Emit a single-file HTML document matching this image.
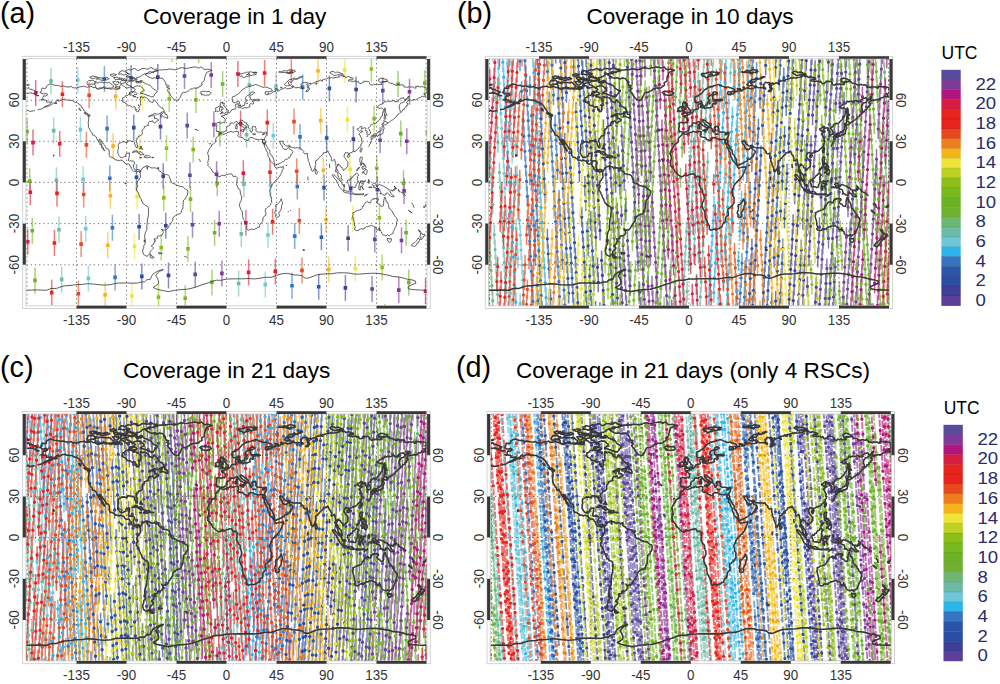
<!DOCTYPE html><html><head><meta charset="utf-8"><style>html,body{margin:0;padding:0;background:#fff;width:1000px;height:684px;overflow:hidden;position:relative}</style></head><body><svg width="1000" height="684" viewBox="0 0 1000 684" style="position:absolute;left:0;top:0"><rect width="1000" height="684" fill="#fff"/><defs><path id="coast" d="M39.8,92.4 40.9,91.8 41.5,90.6 41.6,89.2 42.1,87.9 43.4,88.3 44.7,88.6 46.2,88 46.5,86.1 47.8,85.1 49.2,84.3 50.8,83.8 52.3,84.6 53.6,84.8 54.9,85.4 56.3,85.4 57.6,85.3 58.7,85.7 59.8,86.1 60.9,86.5 62.1,86 64,86 65.9,86.9 67.9,86.9 69.8,86.9 71.4,86.4 72.6,87.8 74,87.8 75.4,87.9 77.1,87.8 78.7,87.1 79.9,87 80.9,86.6 82.1,86.6 83.2,86.4 84.4,86 85.4,87 86.5,87.1 87.6,87.2 88.7,86.8 89.8,86.9 90.9,86.1 92.1,86.8 93.1,87.4 94.2,87.6 95.5,86.9 96.5,88 97.5,88.8 98.6,89.4 99.7,88.8 100.9,88.7 102.5,88.1 103.7,86.6 104.6,88.7 106.5,88.6 107.6,88.7 108.8,88.4 109.8,88.9 110.9,89.1 112.3,88.9 113.7,88.8 115.1,89 116.5,89.4 118.2,89.1 119.8,88.4 119.5,87.3 119.8,86.1 120.4,85.2 120.9,84.3 121.8,84.8 122.5,85.6 123.4,85.8 124.3,86.4 125,87.2 125.8,87.8 126.7,87.6 127.6,88 129.3,87.4 130.9,86.6 131.7,87.3 132.6,87.7 134,88.5 135.4,89.4 134.5,90.4 133.7,91.5 132.3,91.5 130.9,91.6 129.6,92.2 129.3,93.9 128.6,94.8 127.9,95.5 126.9,95.2 125.9,95.3 125.3,96.3 124.6,97.2 123.6,97.6 122.6,98 122.4,99.6 121.5,100.8 122.7,100.9 123.2,102.2 124.2,102.1 125,102.9 126,103 126.5,104.2 127.3,105.1 128.3,105.7 129.3,105.5 130.4,105.9 131.4,106.8 132.5,107.5 133.5,106.6 134.8,106.7 135.3,108.1 135.2,109.7 136.2,110.6 137.1,111.8 138.7,111.6 138.7,110.3 139.6,109.7 139.2,108.7 138.9,107.6 139.7,106 140.9,104.9 140.5,103.6 140.4,102.2 140.6,100.6 139.8,99.4 140.5,98.2 140.4,96.7 141.5,96.5 142.3,97.6 143.3,97.5 144.3,96.9 145.1,97.5 145.9,97.8 146.8,98 147.6,98.5 148.6,99.8 149.3,101.5 150.4,101.7 151.5,102.2 152.6,102.7 153.2,101.5 153.7,100.6 154.3,99.7 154.9,100.5 155.4,101.5 156.8,102.3 157.6,103.9 158.4,105.1 159.3,106.3 160.1,106.7 160.9,107.3 161.7,107.9 162.6,107.6 163.1,109.3 164.3,110.4 163.2,111.8 162.3,112 161.3,112.1 160.9,113.2 159.8,113.4 158.5,114.3 157.1,114.1 155.6,113.9 154.3,113.4 153.2,114.2 152.1,114.8 151.2,115.1 150.3,115.6 149.2,115.6 148.7,116.8 150,116.7 150.9,115.7 151.9,115.6 152.7,116 153.4,115.3 154.3,114.9 155.2,115.9 154.3,116.8 154.8,118.9 155.8,118.3 156.9,118.7 157.8,119.4 158.7,119.9 157.8,120.9 156.5,121.2 155.8,122 155.2,122.8 154.3,123 153.4,122.5 152.6,120.7 151.8,121.1 150.9,121.5 149.5,121.4 148.5,122.6 148.3,123.7 148.1,124.8 148.7,125.4 147.6,125.3 146.5,125.9 145.4,126.4 144.3,126.7 144.3,128.2 143.4,128.8 142.6,129.6 142.1,131.7 142.4,133.7 141.5,135 140.7,135.5 139.8,135.9 138.7,136 138.2,137.2 137.7,138.3 136.7,138.5 136.7,139.7 136.1,140.6 136.5,142 137.1,143.3 137.1,144.8 137.6,146.1 137.2,147.9 136.3,147.6 135.6,145.9 135.1,145 134.6,144 134.5,142.2 133.2,141.3 131.5,141.5 130.4,140.7 129.3,141 128.2,140.7 126.9,141 127.4,142.4 125.9,142.5 124.3,141.8 123.2,142 122.1,141.8 121.3,142.5 120.4,142.9 119.1,143.1 118.5,144.4 118.1,145.6 118.3,146.8 118.5,148.2 117.9,149.5 118,150.7 117.8,152 117.8,153.3 118.5,154.3 118.9,155.4 119.6,156.1 120.3,157.2 121.5,157.5 122.7,157.6 123.7,156.9 125.4,156.4 125.5,155.2 126.1,154.3 126.5,153.2 128.1,153.2 129.6,152.9 129.3,155 129.4,156.2 128.9,157.3 128.7,158.9 128.4,160.5 129.3,161.1 130.4,160.8 131.8,161.1 133.2,160.8 134.1,161.9 134.6,163.5 133.7,164.9 133.4,166.1 133.5,167.4 134.1,168.9 135.2,169.8 136.5,170.2 137.2,169.5 138.2,169.4 139.8,170.1 140.6,171.2 139.9,172.6 139.3,171.1 137.8,171.3 137.2,172.4 135.9,171.5 134.8,171.3 133.7,171.1 132.5,170 131.3,168.9 131.2,167.1 130,166.3 129.5,164.7 128.7,163.9 127.6,164.1 126.2,163.9 124.9,163.4 124.1,161.7 122.6,160.8 121.2,160.2 120.1,160.1 119.3,160.9 118.2,160.3 117.1,160.2 116.1,160 115.2,160 114.7,158.8 113.7,158.4 112.7,157.5 111.5,157.3 110.2,157 109.5,155.7 109.1,154.4 109.3,152.9 109.2,150.9 108.7,149.6 107.8,148.8 106.5,148.9 105.9,147.5 104.9,145.7 104.3,144.8 103.6,144.2 103,143.1 101.9,142.6 101.4,141.2 100.8,139.8 99.9,139.7 99.1,139.1 99.2,141 100.4,141.6 100.9,143.2 101.6,144.1 101.8,145.4 102.4,146.6 103.2,147.6 103.9,149.4 104.8,150.6 104.3,151 103.7,149.9 102.9,149.1 101.8,147.9 101.6,145.9 100.9,144.7 99.7,144.3 99.7,143.2 99.1,142.4 98.4,141.5 97.3,139.9 96.7,138.5 96.2,136.9 94.9,135.8 93.7,135.2 92.5,135 92.1,133 91.5,132.2 90.7,131.5 90.4,130.3 89.6,129.2 88.9,127.8 88.4,126.9 88.5,124.8 88.2,123.2 88.4,121.1 88.8,119 88.6,117.3 87.9,116 89.6,116.3 90.1,115.2 89.3,114.3 88.2,114.1 87.1,113.1 86.1,112.8 85.1,112.7 84.8,111.4 83.7,110 83.1,108.8 82.1,108.1 81.5,106.6 80.9,105.4 79.8,104.9 79.2,103.9 78.2,103.5 77.4,102.8 76.5,102.6 74.8,102 73.2,101.3 72.2,100.4 70.9,100.4 69.8,100.4 68.7,100 67.6,100.1 66.5,100.1 65.5,99.1 64.3,99.1 63.2,99.5 62.1,99.6 61,100.3 59.8,100.9 58.2,101.2 58.2,99.3 57.6,100.5 56.5,100.9 55.4,102.2 54.5,102.6 53.7,103.1 52.6,103.9 51.5,104.8 50.3,105.1 49.3,105.9 48.2,106.2 47.1,106.4 46,107 44.8,107.2 43.4,107.6 44.6,106.8 45.9,106.1 47.4,105.7 48.7,105 49.7,104.1 50.9,103.5 52.1,101.9 50.9,102 49.8,102 48.2,102.2 46.5,102 46.7,100.6 45.8,100.1 44.8,100.1 43.9,99.8 42.9,99.3 42.8,97.6 43.7,95.8 45.4,96.1 47.1,95.3 47.6,94.1 46.2,93.5 44.8,93.8 43.3,93.9 41.8,93.8 41.2,92.8 39.8,92.4ZM139.3,81.4 140.6,80.5 142.2,80.6 143.2,81.9 144.3,83.2 145.5,83.4 146.5,84.2 147.7,84.1 148.7,85 150.3,85.3 151.5,86.6 152,87.6 152.6,88.4 154,89.2 155.4,90.1 156.5,90.8 157.6,91.2 156.7,92.1 155.9,93.2 154.9,94 154.3,95.3 153.2,96.8 151.8,96.8 150.4,96.9 149.3,95.6 147.8,96 147,95 145.9,94.7 144.8,94.4 143.7,93.8 142,93.3 140.4,93.9 140.4,92.4 141.5,92.2 142.2,91.2 143.3,91.1 144.3,90.8 143.7,89.1 142.5,88.2 141.5,87.1 140.2,86 138.7,86 137,85.8 135.4,86.4 134,87 132.8,88.3 131.8,86.9 130.4,86.1 129.1,85.3 127.6,85 127,84 126.5,82.9 127.6,82.2 128.7,81.4 130.4,80.8 132.1,81.3 133.2,81.1 134.3,80.6 135.4,81 136.5,81.2 137.8,81.9 139.3,81.4ZM94.8,87.3 95.9,88.4 97.2,88.9 98.5,88.2 99.8,88 100.9,87.7 102.1,88 103.2,87.7 104.3,88.2 105.5,87.3 106.8,88.2 108,88.3 109.3,88 110.4,88.2 111.6,88 112.5,87.1 113.7,87.1 113.4,85.7 112.5,85 111.5,84.5 110.3,83 108.7,82.3 107.7,82.9 106.5,82.7 105.4,82.6 104.3,82.5 103.1,82.7 102.1,82.1 100.9,82.4 99.8,82 98.3,82.9 96.5,82.8 95.2,83.2 94.1,84.2 95,84.8 95.9,85.6 95.5,86.5 94.8,87.3ZM86.7,83.8 88.1,85.2 89.8,84.7 91.4,83.9 93.2,84.3 94,83.5 94.8,82.8 95.6,82.2 96.3,81.4 94.8,82 93.7,80.6 92.5,80.3 91.2,80.7 90,80.5 88.7,80.5 87.6,81.7 87.3,82.8 86.7,83.8ZM125.9,77 127.2,76.9 128.5,76.6 129.6,77.5 130.9,77.6 132.3,78.3 133.7,78.3 135.2,78.5 136.5,77.7 138.2,77.3 139.8,76.8 141,76.1 142.1,75 143.4,74.3 144.8,73.7 145.9,73.9 146.9,73.5 147.8,72.9 148.7,72.2 150.1,71.6 151.5,72.1 153,72.1 154.3,71.3 155.9,70.5 157.6,69.9 156.6,69.1 155.4,69.3 154.2,69.3 153.2,68.8 150.9,67.3 148.7,68.8 146.5,69.1 144.3,68.4 141.9,68.6 139.9,70 137.4,70.6 135.4,68.8 133.6,68.5 132.1,69.5 130.4,69.9 128.7,69.8 127.8,69.7 127,70.3 126,70.2 125.4,71.3 126.5,72.9 128.2,73.3 129.8,74 128.7,74.8 127.2,75.6 125.9,77ZM118.7,74.3 120.1,74 121.5,74.1 122.9,74.8 124.3,75 125.2,74.2 126.3,74.6 127,73.6 128.2,73.6 126.9,73.1 125.9,72 124.6,71.3 123.2,70.9 122.1,70.7 121.1,70.8 120.4,71.9 119.3,72 119.1,73.2 118.7,74.3ZM123.7,80.1 124.9,80.7 126.2,80.4 127.5,80.2 128.7,80.2 129.8,80.5 130.9,80.9 132,80.3 133.2,80.3 134.1,79.9 135.1,79.5 136,79.9 137.1,80.1 136.7,78.6 135.7,78.8 134.9,78.1 134,77.8 133.2,77.3 131.6,77.4 130.4,76.1 129,76.9 127.6,77.5 126.8,78.5 126.3,79.8 125.3,79.1 124.3,78.4 123.7,80.1ZM119.8,82.9 120.9,83.4 122.1,83.6 123.7,83 125.4,82.8 125.9,81.2 124.6,80.7 123.2,80.7 121.6,80.5 120.4,81.6 119.8,82.9ZM113.7,83.2 114.4,84.1 115.1,85 116.1,84.9 117.1,84.6 118,84.1 118.7,83.4 118.2,81.3 116.7,82.1 115.4,80.9 114.1,81.7 112.6,81.8 113.7,83.2ZM96.5,79.1 97.7,79.2 98.9,78.9 99.9,79.4 100.9,80.2 102.3,80.3 103.7,80.2 105.1,79.6 106.5,79.8 107.8,79 109.3,78.8 108.4,78.4 107.6,77.7 106.4,77.4 105.4,78.1 104.3,77.9 103.2,78.3 102,78.1 100.9,78.2 99.9,77.6 98.7,77.6 97.7,78.5 96.5,79.1ZM114.3,78.7 115.1,79.4 116.1,79.7 117.1,79.3 118.2,79.5 119.1,78.8 119.8,77.9 118.3,78.1 117.1,77 115.4,77.5 113.7,77.5 114.3,78.7ZM129.6,95 131.2,94.9 132.6,95.6 133.8,95.6 134.4,94.4 135.5,94.5 136.5,94.6 137.1,93.6 136.3,92.7 135.3,92 134.3,92 133.2,92 131.9,93 130.4,92.8 130,93.9 129.6,95ZM160.6,117.1 161.6,116.8 162.4,116.1 163.4,116.6 164.3,117.1 166,117.7 167.6,118.4 167.8,116.8 167.2,115.9 167.1,114.8 165.9,114.4 164.8,114.1 165,112.9 164.8,111.8 163.7,112.3 162.6,113 162,114.1 161,114.6 161,115.9 160.6,117.1ZM145.4,75 146.6,75.6 147.6,76.5 149,77 150.4,77.7 151.6,78.2 152.9,78.3 154.1,77.7 155.4,77.9 156.7,78.7 158.1,78.8 159.5,77.8 160.9,78.3 162.6,78.4 163.7,79.9 164.6,81 165.4,82.3 165.8,83.6 165.9,85 167.3,85.2 168.7,85.6 167.8,86.8 166.5,87.1 167.8,87.9 169.3,88.4 168.2,89.5 167.1,90.5 168,91.4 168.7,92.6 169.9,93.3 170.4,94.9 170.9,95.8 171.5,96.7 172.4,97.6 173.2,98.7 174.5,99.6 175.9,100 177.2,100.3 178.5,100.1 179.3,98.5 180.3,97.3 180.9,95.7 181.5,94.3 182.1,93 183.4,92.3 184.8,92.4 186.3,92.1 187.6,91.2 188.6,90.9 189.4,90.3 190.1,89.5 190.9,88.8 192.3,89 193.4,88.1 194.7,88.1 195.9,88.4 197,87.9 198.1,87.9 199.2,87.3 199.8,86.1 201.1,85.9 202.1,85 201.5,82.9 202.3,82.4 203.1,81.9 203.9,81.2 204.3,80.2 204.5,78.8 204.8,77.5 205.4,75.4 205.9,74 206.5,72.6 207.8,71.9 209.3,71.5 210.6,70.6 212.1,70.5 210.1,69.8 208.2,69.1 206.3,69.4 204.3,69.6 202.9,68.5 201.8,67 200.2,67.2 198.7,68.1 196.6,67.2 194.3,66.9 192.1,67.4 189.8,67.7 187.4,68.4 184.8,68.4 182.4,67.6 179.8,68 177.2,69.3 174.4,69.8 171.6,69.1 168.7,69.1 166.5,69.8 164.3,69.5 162.1,70 159.8,69.9 158.6,70.5 157.4,71 156.1,71.5 154.8,71 154,72.4 152.6,72.2 151.5,72.2 150.7,73.1 149.8,73.8 148.7,73.3 147.8,73.2 147,73.9 145.9,73.8 145.4,75ZM199.8,92.6 200.6,91.9 201.5,91.5 202.9,91.1 204.3,91.7 205.4,91.3 206.5,91.6 207.9,91.6 209.3,91.3 210.4,92.4 211.4,93.2 210.1,94.2 209,95.2 207.6,95 206.5,95.2 205.4,95.4 204.3,94.9 203.2,94.9 202.2,94.8 201.3,94.7 202.1,93.9 200.9,93.3 199.8,92.6ZM132.2,152.4 133.2,151.7 134.3,151 135.7,150.7 137.1,150.7 138.2,152.3 139.8,151.8 141.5,152 142.6,153.6 144.1,154.7 142.4,154.6 140.7,155.1 140.1,154 138.7,153.5 137.6,152.5 136.6,151.9 135.4,151.8 133.8,152.2 132.2,152.4ZM143.8,157.2 144.8,156.2 145.6,155.1 147.1,156.1 148.7,155.4 149.7,156.1 150.5,156.9 149.6,157.4 148.7,157.5 147.8,157.6 147.1,158.3 146.1,157.1 144.8,157.5 143.8,157.2ZM139.5,157.2 140.6,157.6 141.7,157.5 141.4,157.9 140.1,157.9 139.5,157.2ZM151.8,157.1 152.7,157.4 153.6,157.2 153.5,157.7 151.8,157.7ZM140.6,171.2 141.5,169.7 142,168.8 142.6,167.9 144.1,167.1 145,166.6 145.9,166.1 147.3,165.6 146.9,167.4 146.9,168.3 147.5,169.3 147.2,168 147.7,166.8 149.3,166.7 150.2,167.1 150.9,167.9 152.1,168 153.2,167.9 154.3,167.8 155.4,167.9 156.5,168.9 157.6,167.9 158.2,168.9 158.5,170 159.2,170.8 160,171.5 160.9,171.6 161.8,172.8 162.6,173.9 164,174 165.4,174.4 166.5,174.6 167.6,174.9 168.6,175.4 169.3,176.4 169.8,178.1 170.2,179.1 170.9,180 170.9,181.8 171.8,182.6 172.6,183.5 173.7,183.7 174.8,183.8 175.9,184.6 177.1,185.5 178.5,185.7 179.8,186.3 181.2,186.6 182.6,186.6 183.9,187.7 185.2,189 186.2,189.5 187.2,189.9 187.8,191.2 187.8,192.7 187.6,194 187.4,195.2 186.7,196.2 185.9,197 185.9,198.6 184.7,199.2 183.5,200.3 183.5,201.4 183.2,202.5 183.2,204.3 182.9,206.1 183,207.8 182.3,209.4 181.4,210.7 181.2,212.4 180.6,213.3 179.8,213.9 178.8,214.2 177.8,214 177.1,214.7 176.2,215.1 175.3,216 174.3,216.2 173.6,217.4 172.6,218.1 172.9,219.7 172.4,221.2 171.6,221.9 171.1,222.9 170.5,224 169.8,224.9 169.1,225.6 168.5,226.6 168.1,228 167.2,228.8 166.4,229.6 165.6,230.2 164.7,229.8 163.7,230.2 162.3,229.8 161.6,229 162.2,230.1 162.8,231.2 163.4,232.7 162.7,233.6 162.4,234.7 160.9,235.6 159.6,236.1 158.2,235.8 157.3,236.5 157.4,238.4 156.5,238.6 155.6,239 154.3,238.7 154.4,240.2 155.8,241.1 154.7,241 154.1,242.2 153.7,244.2 152.7,244.7 151.7,245.4 151.4,246.3 152.4,246.5 153.2,247.4 153.3,248.5 152.4,249.5 151.4,250.3 150.3,251.5 149.7,253.3 150.6,254.2 149.6,254.2 148.7,254.6 148,255.6 147.1,256.3 145.9,255.9 144.8,255.2 143.7,254.6 143.2,253.1 142.7,251.8 142.8,250.4 143.2,248.8 143.7,247.4 143.9,245.3 144.7,244.6 145.2,243.5 145.3,241.9 145.6,240.4 145,238.9 144.6,237.3 144.8,235.9 144.9,234.5 145.3,232.8 145.9,231.2 146.8,229.8 146.9,228 146.8,226.2 147.1,224.4 147.2,222.7 147.3,220.9 147.5,219.1 148.1,217.4 148.3,215.7 148.4,214 148.6,212.1 148.6,210.2 148.4,208.9 148.4,207.6 147.1,206.2 145.8,205.7 144.8,204.7 143.9,203.9 142.9,203.3 142.3,202.2 141.7,201 141.4,199.6 140.7,198.5 139.9,197 139.3,195.2 138.7,194 138.2,192.7 137.5,191.3 136.3,190.7 136.6,189.3 136.2,188.1 137.3,187.1 137.8,185.9 136.7,184.5 137.3,182.7 137.6,181.1 138.9,180.1 139.2,178.9 140.4,177.6 140.6,176.1 140.2,174.9 140.4,173.5 139.9,172.6 140.6,171.2ZM150.3,254.6 150.2,256.3 150.6,257.8 151.6,257.9 152.6,258.1 154.1,257.5 153.2,256.6 152.1,256.6 151.5,255.1 150.3,254.6ZM158.4,252.7 159.3,252.6 160.3,252.9 161.3,253.5 162.4,253.1 161.5,253.8 160.3,253.2 159.3,254.1 158.4,252.7ZM219.9,133.3 220.7,133.5 222.4,134 224.1,134.3 225.4,133.5 226.4,133.5 227.1,132.6 228.5,132.4 229.8,131.9 231.1,131.3 232.4,132.1 233.6,132 234.8,131.7 235.9,131.3 237.1,131.3 238.2,131.9 238.7,131.8 238.3,133.5 238.8,134.3 237.8,135.4 238.1,136.1 239.3,137 240.9,137.3 242.3,137.5 243.5,138.1 244.1,139.4 245.3,139.7 246.5,140.2 248.2,140.7 248.8,139.9 248.7,138.5 249.6,138 250.4,137.4 252.1,137.7 253.3,137.7 254.3,138.7 255.7,139.1 257.1,139.5 258.2,139.6 259.3,139.9 260.1,139.5 260.9,139.1 262.4,139.5 263.4,140 264.5,139.6 265,140.8 265.3,142 265,143 264.6,144 264.2,144.6 263.3,143.1 262.8,141.4 262.5,141.5 263.1,142.5 263.5,143.6 264.3,144.4 264.4,145.7 264.4,147.2 265.4,148.1 266.2,150.1 266.7,151.3 267.4,152.3 267.8,153.6 267.9,155.2 268.2,156.6 269.3,157.7 269.4,159.2 270.1,160.5 271.3,161.7 272.3,162.7 273.1,163.5 273.8,164.6 274.6,165.6 274.8,166.7 276.1,168.2 277.2,167.9 278.3,167.6 279.3,167.3 280.4,167.1 282,167.4 283.3,166.3 283.4,167.9 282.9,169.4 282.3,170.3 282.1,171.5 281.6,172.4 281.2,173.4 280.4,174.7 279.8,176.1 278.9,177.1 278.2,178.5 277,179.3 275.9,180.3 274.8,181.5 273.7,182.9 272.7,183.6 272.1,184.9 271.2,186.3 271.1,187.9 270.1,188.9 269.7,190.1 269.6,191.4 270.1,192.4 270.3,193.6 270.3,194.8 270.1,195.9 271.4,197 271.7,198.3 271.5,199.6 271.5,201 271.8,202.4 270.8,203.5 270.4,205.1 269.3,206.1 268.1,206.7 267.4,207.6 266.7,208.3 265.5,208.9 265.4,210.6 265.1,211.9 265.9,212.8 265.7,214.1 265.8,215.4 264.4,216.2 263.2,217.3 262.9,219 262.8,220.3 262.7,221.6 262,222.4 261.2,222.9 260.3,223.9 259.8,225.3 259.4,227.1 257.8,227.3 256.9,228.2 255.8,228.6 254.9,229.1 253.3,229.7 251.6,229 250.6,229.4 249.5,229.7 248.3,230.2 246.9,229.3 246.7,227.2 247,225.7 246.1,224.6 245.3,223.1 244.7,221.6 244.2,220.4 243.4,219.5 243.1,218.2 242.7,216.8 242.5,215.4 242.6,214 242.4,212.8 241.9,210.8 240.8,209.4 240.3,207.7 239.6,206.2 239.5,204.5 239.8,203.4 240.1,202.2 241.1,200.8 241.6,198.9 241.7,197.1 241.4,195.8 240.8,194.7 240.3,192.8 240.2,190.8 239.7,189.3 238.3,188.7 237.8,187 237.3,186 236.7,185.1 236.8,183.1 237.1,181.1 237,179.6 237.4,178.2 236.9,177.4 235.9,176.3 234.9,176.1 233.9,176.7 233.1,176.5 232.4,175.1 231.5,173.8 230.5,173.9 229.5,173.8 228.6,174.3 227.6,174.4 226.3,174.6 225.2,175.6 224.2,175.7 223.3,175.5 222.3,175.4 221.4,175.3 220.8,176.2 219.9,176.6 219.1,176.7 218.2,176.5 217.3,175.8 216.4,175.3 215.3,174.4 214.3,173.3 213.6,172.4 212.6,172 211.8,170.2 211.2,168.8 210.1,167.8 209.1,166.7 207.8,165.3 208.2,163.7 207.4,162.4 208.1,161.5 208.2,160.4 208.8,158.8 208.6,157.1 208.4,155.4 207.6,153.6 207.9,152 208.5,150.9 208.9,149.8 209.6,148.7 210.4,147.6 211.5,146.4 211.7,144.6 212.7,144.2 213.7,143.7 214.6,142.8 215.6,142.1 215.8,140 215.8,138.9 216.2,137.8 216.9,137.2 217.6,136.5 219.1,135.4 219.5,134.3 219.9,133.3ZM281.3,198.9 281.7,200.6 282.3,202.1 282.6,203.7 281.7,205.5 281.5,206.9 281.3,208.9 280.4,210.6 279.8,211.5 279.2,212.4 278.7,213.6 279.4,214.7 279.4,215.9 278.7,216.8 277.1,217.4 276.1,217.2 275.4,216.5 275.8,214.5 274.6,213.1 275.2,211.3 275.6,210.3 275.8,209.2 276,207.7 275.4,206.5 275.9,204.7 277.1,204.8 277.9,203.9 278.9,202.9 279.7,201.7 280.4,200.8 280.7,199.6 281.3,198.9ZM264.5,139.6 264.7,138.2 265.4,137.2 266.1,135.7 266.4,134.1 266.5,132.2 265.6,132.2 264.3,132.8 262.6,132.9 261.7,132.1 260.5,132.1 259.6,132.1 258.7,132.2 257.8,132.1 256.9,131.7 256.2,131 255.7,130 256.3,128.8 255.5,127.5 255.9,126.7 255.4,126.5 254.3,126.6 253.2,126.3 252.1,127 252.8,127.7 251.6,128 252.3,128.9 253.1,130 251.9,131 251.6,132.4 250.6,131.8 249.9,130.6 250.6,129.9 249.4,128.9 248.7,128 248.1,127 248.3,125.2 247.1,124.3 246.4,123.2 245.4,123 244.7,122.2 243.8,121.8 243.1,120.8 241.7,120.3 240.9,119.7 240.2,120.3 240.2,121.5 241.6,122.7 242.6,124.3 243.5,124.8 244.4,125.2 245.1,126 245.9,126.3 247.1,127.4 246.5,127.7 245.4,127 244.9,128.1 245.5,128.9 244.4,130.3 243.9,130 244.3,128.4 243.8,127.4 243.1,127.1 242.1,126.3 240.8,125.8 240,125.2 239.4,124.3 238.2,123.4 237.7,122.1 236.4,121.5 234.8,122.3 233.7,123.3 232.1,122.9 231,123 230.1,123.3 229.9,125.1 228.7,125.9 227.4,126.2 226.7,127.5 226.2,128.5 226.7,129.3 225.7,130.8 224.5,131.3 224.1,132.1 222.8,132 221.6,132.1 220.5,133 219.5,131.9 218.2,131.4 216.6,131.7 216.7,129.9 216.1,129.2 216.6,127.3 216.8,126.1 216.8,124.8 216.3,123.4 217.6,122.5 218.7,122.5 219.8,122.6 220.9,123.3 222.1,122.9 223.3,122.1 224.5,122.9 225.2,121.1 225.2,119.3 224.1,117.8 222.9,117.1 221.7,116.8 221.4,115.7 222.3,115.8 223.2,115.5 224.7,115.7 225.1,114.2 226.7,114.6 228.2,113.4 228.4,112.6 229.5,112.9 230.4,112 230.9,111.2 231.7,109.7 232.9,109.5 234.1,109.2 235.6,108.9 236.1,107.8 235.6,106.3 235.5,104.8 236.1,104.1 237.2,104.1 238.2,103.3 238.1,104.9 238.6,105.2 237.8,106.7 238.6,107.8 239.7,107.7 240.7,107.8 241.7,107.9 242.4,108.6 243.6,107.9 244.8,107.6 246,107.9 247.3,107.8 248.6,107.1 250.1,106.7 249.7,105.6 249.9,104.5 250.5,103.7 251.5,103.3 252.6,104.2 253.5,103.8 253.6,102.3 252.6,101.9 252.5,101.2 253.8,101 255.2,100.6 256.4,100.7 257.7,100.8 258.9,100.5 260.1,100.2 258.6,99.4 257.6,99.2 256.5,99.4 255.4,99.7 254.3,99.7 253,99.6 251.9,100.4 251.3,99.3 250.2,99.1 250.4,97.8 249.9,96.5 250.5,95.4 251.4,94.9 252.8,94.4 253.9,93.4 254.7,93.1 254.6,92.6 253.1,91.9 252.1,92 251.2,92.3 250.1,93.2 250.4,94.1 249.5,94.7 248.5,95.2 247.4,95.6 246.4,96.4 245.7,97.2 245.5,98.3 245.7,99.4 247.4,100 246.4,101.6 245.2,101.9 244.9,103 244.7,104.2 244.2,105.5 242.8,105.3 242.2,106.4 240.8,106.4 240.5,105.2 239.6,103.7 239.1,101.7 238.3,100.9 238.1,101.6 236.9,101.9 235.4,102.7 233.8,102.7 232.7,102 232.4,100.5 232.1,98.7 232.5,96.9 234.1,96.3 235.1,96.1 235.9,95.4 236.7,94.8 237.6,94.5 238.9,93.4 239.7,92.7 240.3,91.9 241.2,91 242.1,89.9 243.4,89 244.8,88.3 245.6,87.4 246.5,86.9 247.6,87.2 248.6,86.4 249.8,86.7 250.9,86 251.9,85.5 252.8,85.6 254.5,84.9 255.9,84.4 257.3,85 258.6,85.5 259.8,86.1 261.3,86.6 262.6,87.3 264.1,87.3 265.6,86.9 267.1,87.6 268.5,87.9 269.8,88.7 271,88.8 271.9,89.5 272.2,90.8 270.9,91.5 270,91.1 269.2,91.9 267.5,91.7 265.8,91.6 265.2,92 265.3,94.1 266.1,94.6 267.1,94.5 267.8,94.9 268.7,94.3 267.6,93.5 268.2,93.1 269.5,93.9 270.9,93.8 271.7,92.7 272.6,92 274,91.5 275.4,91.6 275.1,89.9 275.6,88.8 274.8,88.4 276.3,88.9 277.8,88.8 278.5,89.5 277.2,89.9 277.2,91 278.5,90.9 279.7,90.6 280.7,89.4 282.1,89.1 283.1,88.6 284,88.1 285.1,87.8 286.2,87.9 287.1,88.8 288.6,88.6 290.2,88.4 291.8,87.9 293.2,87.1 293.8,86.5 294.8,87.4 295.9,87.9 297,87.6 298.2,87.5 299.8,87.7 301.3,88.4 302.9,89.1 303.2,88.3 302.3,87.6 300.8,87.1 301.3,85.3 300.6,84.6 301.9,83.9 302.6,82.5 303.4,82.3 304.7,82.7 305.9,82.4 307.3,82.5 307.4,83.4 306.3,84.5 307.4,85.8 307.2,87.7 308.4,88.6 307.8,89.5 306.7,90.3 305.7,91.5 306.9,91.6 308.2,91.3 308.9,90.1 309.7,88.6 309.1,87.7 308.6,87.6 308.3,86.9 309.2,85.6 307.7,84.5 308.6,83.6 309.7,83.5 310.3,82.8 310.6,84.6 311.6,83.8 312.7,83.2 313.9,82.7 315.1,83.2 315.9,84.3 317.1,84 316.1,82.8 315.9,81.4 317.1,81.5 318.2,81 319.6,80.9 320.6,79.7 321.5,81 322.9,81 322.1,80.2 323.4,79.4 324.6,79.4 325.7,79 326.8,78.7 328.2,77.8 329.7,78.4 330.5,77.8 331.4,77.6 332.6,78.1 333.9,77.9 335.2,77.5 336.4,77.6 337.8,77.1 339.3,76.9 338.7,76.4 339.6,76 340.6,75.9 341.5,75.6 342.5,75.8 343.5,75.7 344.4,76.2 342.8,76.6 344.1,76.2 345.4,76.8 345.6,77.5 346.7,77.2 348.3,76.6 349.9,77.2 351.2,77.6 352.4,77.9 353.3,78.4 353.1,79.1 351.8,79.5 350.3,79 348.9,80.2 348.1,80.6 349.4,80.9 351.1,81.2 352.1,80.9 352.6,81.8 353.2,81.4 354,81.1 354.9,81.2 356,81 356.7,82.1 357.7,82.1 358.5,81.4 358.7,82.1 359.6,83.5 361,83.6 362.2,82.8 363.4,82.3 363.5,81.3 364.7,81.3 365.8,81.4 367.6,81.4 368.6,81.7 369.4,82.3 369.8,83.1 369.3,83.6 370.6,84.7 371.5,84.9 372.4,85.3 373.5,83.9 374.3,84.4 375.3,84.5 376.2,84 377.2,84 378.2,84.6 379.3,84.6 380.1,84.2 381,84.7 381.9,84.3 381.1,83.1 382.6,82.5 385.1,81.6 387.7,81.5 390,83.2 392.6,83.4 393.6,84.2 395,84.8 396.5,85.3 397.5,84.5 398.7,84.4 399.7,85.1 400.9,85 402.1,84.7 403.2,85.1 404.1,85.7 403.9,86.8 405.3,87.2 406.8,86.9 407.9,87.7 408.8,86.8 409.8,86.9 410.8,87.1 411.9,86.9 412.9,86.9 413.9,87.6 414.9,88.2 416.3,87.7 415.4,86.8 415.9,86.2 417.7,86.4 419.4,86.6 420.6,87.2 421.7,86.5 423.3,86.9 424.9,87.2 426.5,87.7 426.4,89.2 426.8,90.5 426.7,91.9 426.5,93.2 425.1,93.9 423.6,93.8 424.6,94.5 425.3,95.6 425.8,96 425.9,96.5 425.6,96.9 424.6,96.7 423.6,96.7 422.8,96.2 421.8,96 421.3,97 420.5,97.6 419.5,97.8 418.5,97.8 417.8,98.7 417,99.2 416.2,99.7 415.7,100.2 414.2,99.3 412.8,100 411.3,100.4 410.7,99.8 409.7,100.5 408.2,100.2 407.8,101.2 406.5,102.6 406.6,103.1 407.8,103.4 407.7,105.3 406.6,105.5 406.2,106.6 406.6,107.1 405.6,107.1 404.7,107.9 404.3,109.4 402.6,109.8 402.3,111.2 401.5,111.8 400.7,112.5 400.3,111.5 399.8,109.4 399.2,108 399.2,106.4 399.7,104.5 400.7,103.7 400.7,103.1 401.6,102.7 402.5,102.7 403.7,102.2 404.5,101.1 405.3,100.1 406.4,99.7 407.4,99 408.4,98.6 408.8,97.5 409.3,96.5 407.9,96.7 407.3,97.9 406.1,99.3 404.4,99.4 403.5,97.6 402.1,98.2 400.6,98.2 399.3,99.4 397.8,100.4 398.7,101.3 397.5,101.8 396.3,101.6 394.6,101.7 394.6,100.8 393.2,100.5 391.5,101.2 389.8,101.5 388.2,101.1 387.3,101.5 386.4,102 385.5,101.2 384.5,101.5 384,102.7 383.1,103.7 382,104.1 380.9,104.1 379.8,104.9 378.8,105.8 377.7,106.6 376.6,107.4 377.5,107.7 378.4,107.5 378.9,108.3 380.1,108.6 380.7,107.9 381.9,108.1 382.8,108.6 383.5,109.6 383.6,110.8 382.7,112.2 382.6,113.8 382.4,114.9 382.2,116 381.1,116.7 380.5,117.9 380.1,118.9 379.4,119.8 378.6,120.6 377.8,121.2 377.1,122.1 376.4,122.9 374.8,123.7 374.2,123.7 373.5,123 372.7,123.8 371.8,124.5 371.4,124.4 370.6,125.4 370.6,126.3 370.1,126.6 369.4,127.3 368.7,127.5 368.2,127.8 368.1,128.5 369.1,129.5 370.1,131.1 370.4,131.9 370.4,133.6 369.9,134.3 368.9,134.5 368.1,135.1 367.1,135.2 366.9,134.5 367.2,133.5 366.6,132.1 367.5,131.8 366.7,130.7 366.2,130.4 366.1,130.6 365.7,130.7 365.1,130.2 365.6,129.5 365.5,129.1 365.8,128.4 365.7,128.1 364.6,127.7 363.1,128.1 362.2,128.6 361.1,129.1 361.6,128.4 361.4,127.8 362.3,127 361.6,126.3 360.7,126.7 359.4,127.7 358.7,128.5 357.6,128.6 357.1,129.3 357.7,130.2 358.6,130.4 359.5,131.4 360.7,130.4 361.7,131 362.5,131 362.6,131.8 361.1,132.1 360.5,132.9 359.5,133.6 358.9,134.5 360.1,135.2 360.5,136.6 361.2,137.8 361.9,138.9 361.9,140 361.3,140.3 361.5,141.1 362.2,141.5 362.1,142.7 361.7,143.7 361.1,143.9 360.8,145.1 361.1,146.2 360.3,146.8 359.4,147.2 358.7,148.3 357.9,148.7 356.8,150.1 356.1,150.8 355.3,151.2 354.1,151.3 353.4,152 352.9,151.6 352.3,152.1 350.7,152.8 349.6,153.1 349.2,154.6 348.6,154.6 348.3,153.6 348.6,153.1 347.1,152.7 346.6,152.8 345.4,152.5 344.9,153.6 344.2,155.3 343.9,156.2 344.7,157.7 345.4,158.6 345.8,159.5 346.8,160.4 347.5,161.5 348.1,162.7 347.9,164.1 347.8,165.2 347.8,166.4 346.9,167.4 345.6,168.2 344.7,169.4 343.4,170.6 342.9,169.8 343.3,168.9 342.4,168 341.5,167.9 341.1,167.1 340.5,165.7 339.5,165.2 338.5,165.2 338.7,164.1 337.7,164.1 337.6,165.6 336.7,167.4 336.6,168.6 336.7,169.8 337.5,169.8 337.9,171.1 338.2,172.3 338.7,173 339.4,173.3 339.9,173.9 340.9,174.9 341.4,175.7 341.4,177 341.3,177.4 341.5,178.6 341.9,179 342.3,180.3 341.5,180.8 340.5,179.7 339.2,178.6 339.1,177.9 338.4,177.1 338.3,175.9 337.8,175.2 337.9,174.2 337.7,173.5 337.3,173.1 337.1,172.4 336.5,171.6 335.9,170.9 335.7,171.7 335.6,170.9 335.7,170.1 336.1,168.9 335.9,167.8 336.3,166.8 335.8,166 335.9,164.5 335.5,163.8 335.2,162.1 334.9,160.4 334.5,159.3 333.7,159.9 332.5,160.9 331.8,160.8 331.2,160.5 331.5,158.7 331.3,157.5 330.4,155.8 330.6,155.4 329.9,155.1 329.2,154 328.8,153.4 328.7,152.7 328.5,152 328.1,151.2 327.1,151.2 327.2,151.7 326.8,152.5 326.3,152.3 326.2,152.4 325.8,152.3 325.4,152.1 325.3,152.7 324.5,152.7 323.1,152.9 323.2,154 322.6,154.7 321.1,155.7 320.4,156.5 319.7,157.3 318.9,158.2 317.8,159.1 317.8,159.7 317.3,160.1 316.3,160.5 315.7,160.6 315.4,161.7 315.6,163.5 315.7,164.6 315.3,165.8 314.9,167 315.3,168.2 314.6,168.3 314.2,169.4 314.5,169.8 313.5,170.2 313.1,171.1 312.6,171.5 311.6,170.2 311.1,168.3 310.6,166.9 310.3,166.3 309.7,165 309.4,163.2 309.2,162.4 308.4,161.6 308.2,160.5 308.3,159.1 307.7,157.9 307.4,156.1 307.4,154.5 307.2,153.1 305.6,153.9 304.8,153.8 304,153.1 303.4,152.1 303.8,151.6 303.5,151.2 302.3,149.9 301.4,149.6 301.1,148.5 300.3,147.6 299.3,148.1 298.2,147.9 297.3,147.6 296.4,147.9 294.8,148 293.8,147.7 292.7,147.6 291.5,147.3 290.3,147.2 289.8,145.4 289.3,145.3 288.4,145.4 287.3,146.1 285.9,145.7 284.8,144.6 283.7,144.2 283.1,142.9 282.2,141.1 281.6,141.3 280.8,140.9 280.5,141.4 279.8,141.3 279.8,142 280.1,142.8 280.7,144.4 281.3,144.7 281.5,145.3 282.3,145.8 282.2,146.9 282.3,147.3 282.6,147.7 282.8,148.1 282.9,148.4 283.3,148.7 283.6,148.7 283.8,149.2 284.1,149.5 284.9,149.2 286.5,149.4 287.3,148.4 288.1,147.6 288.8,146.6 289.2,146.2 289.3,146.4 289.2,146.9 289.1,147.2 289.2,148.3 289.6,149.2 290.3,149.6 291.1,149.9 291.7,150.1 292.6,151.3 292.9,151.6 292.9,151.8 292.5,152.7 292.4,153.1 291.9,153.5 291.5,154.5 290.9,154.3 290.7,154.7 290.6,155.4 290.7,156.2 290.6,156.5 290.1,156.5 289.4,156.9 289.3,157.6 289.1,157.9 288.4,157.9 287.9,158.3 287.9,158.8 287.4,159.3 286.7,159.1 286.1,159.5 285.5,159.5 284.7,159.9 284.5,160.5 284.5,161 283.4,161.6 282.5,161.9 281.6,162.3 280.9,163 280.6,163.2 280.1,163.4 279.7,163.2 279.2,163.8 278.4,164.1 277.5,164.2 277.2,164.2 276.9,164.6 276.6,164.7 276.5,165 275.9,165 275.6,165.2 274.8,165.2 274.5,164.3 274.6,163.5 274.4,163.1 274.2,162.1 273.8,161.6 274.1,161.5 273.9,160.9 274.1,160.6 274.1,160.1 273.8,159.4 273.5,159 273.5,158.4 272.9,158 272.3,156.8 271.9,155.7 271.2,154.7 270.7,154.6 269.9,153.2 269.8,152.3 269.9,151.4 269.3,149.9 268.7,149.4 268.2,149.1 267.8,148.3 267.8,148 267.5,147.3 267.2,147 266.7,145.9 266.1,144.8 265.5,143.9 264.9,143.9 265.2,143.2 265.2,142.8 265.3,142.1 264.9,142.5 264.7,143.6 264.5,144.3 264.2,144.6 263.3,143.5 262.5,142.7 262.5,141.4 262.4,139.5 263.4,139.5 264.5,139.6ZM220.2,113.7 221.8,113.3 223.2,112.9 224.3,113.4 225.4,112.7 226.6,112.1 227.9,112.3 228.1,111.4 228.4,110.1 226.8,109.7 226.6,108.9 225.8,107.6 224.9,107 224.3,105.7 223.3,105.6 224.1,104.4 224.5,103.4 223.1,103.3 222.1,103.4 223.1,102 222,102.4 220.9,102 220.3,103.4 220.2,105.2 220.3,106.6 221.3,106.3 220.9,107.1 221.8,107.7 222.7,107.1 222.5,107.5 223.2,108.3 223.1,109.2 221.5,109.3 221.8,110.7 220.7,111.4 221.6,112.5 222.7,111.9 221.5,112.5 220.2,113.7ZM219.6,110.8 219.8,109 219.3,108.1 220.3,107.5 219.6,106.7 218.1,106.7 217.1,107.5 215.4,108.1 215.5,109.2 216.1,109.8 214.9,111.1 215.8,111.8 216.6,110.9 217.6,111.5 218.6,111.1 219.6,110.8ZM238.7,74.7 239.6,75.4 240.1,76.5 241,75.9 242.1,76.1 243.1,77.8 244.8,77.3 246.1,76.3 247.6,76.5 249.2,75.7 250.9,75.7 252.1,75.3 253.2,74.8 254.9,74.9 256.5,74.2 255.4,73.8 254.3,73.2 252.9,72.6 251.6,71.9 250.2,71.9 248.7,72.1 247.6,72.3 246.5,72.1 245.4,72.8 244.3,72.8 243.2,73.4 242.1,73.6 240.9,74 239.8,73.2 238.7,74.7ZM284.3,84.5 285.3,85.2 286.4,85.9 287.5,85.7 288.7,85.6 290.4,85.4 289,84.6 288.2,82.9 289.3,81.6 290.4,82.1 291.6,82.2 292.4,81.2 293.2,80.1 294.1,78.9 295.4,79.4 296.5,79.1 297.6,79 298.8,78.3 300.1,78 301.3,77.1 302.6,76.9 301.5,76.8 300.4,76.8 298.7,77.3 297.5,78.9 295.7,78.9 294.3,77.7 293.4,78.7 292.2,79 291,79.7 289.8,79.2 288.7,80.1 287.6,81.2 286.8,82.1 285.9,82.8 285.2,83.7 284.3,84.5ZM333.2,75.1 334.3,75.5 335.4,75.3 336.6,75.2 337.6,74.6 339.2,75.2 340.4,73.9 341.7,74.9 343.2,74.7 342.6,73.5 341.3,73.6 340.1,72.8 338.9,72.3 337.6,72 336.5,72.3 335.3,72.7 334.3,71.9 333.2,71.6 332.2,71.5 331.3,71.3 330.8,72.4 329.8,72.6 330.5,73.5 331.5,73.8 332.4,74.3 333.2,75.1ZM378.7,80.9 379.6,82 380.8,82.3 381.9,81.6 383.2,81.7 384.6,81.6 385.9,81.8 386.6,80.8 387.6,80.2 385.9,79.6 384.3,78.8 382.6,78.4 380.9,78.1 379.9,78.8 378.7,79.2 378.7,80.9ZM26.5,85.1 27.6,84.8 28.7,84.3 29.4,84.7 28,85.4 26.5,85.1M26.5,87.7 27.6,88.1 28.7,87.5 29.2,88.7 30,89.5 31,89.2 32.1,89.5 33.7,90.4 35.4,90.8 36.3,92 37.6,91.6 36.5,92.7 35.8,94.4 34.3,94.1 33.2,93.3 32.1,93.2 31,93 29.8,92.8 28.2,93.3 26.5,93.2M384.3,119.3 385.9,118.6 385.6,117.3 385.1,115.2 386.1,115.1 387.1,115.2 386.4,114.1 385.7,113.1 385.6,111.1 385.4,109 384.8,107.9 384.5,109.7 384.2,111.5 384,112.7 384.5,113.8 384.5,115.2 384.3,116.6 384.2,118.5 384.3,119.3ZM382.1,125.1 382.2,123.4 383.7,123.2 384.1,121.7 383.8,120.3 384.9,121.2 386.5,122.1 388.1,123 386.9,123.8 385.7,124.8 384.5,124.7 383.4,124.1 382.1,125.1ZM371.9,135.8 372.9,134.8 374.3,133.7 375.5,133.7 376.7,133.5 377.6,133 378.5,131.5 379.1,131.9 380.5,131 381.8,129.6 382.1,127.8 382.1,126.7 382.4,125.9 383.6,125.6 383.7,127.1 384.3,128.2 383.3,129.9 383.1,131.7 382.8,133.5 382.1,134.4 381.3,134 380.7,135 379.8,134.8 378.7,134.8 378.5,135.4 377.5,136.5 376.6,135 375.4,135 373.7,135.4 372.4,135.9 371.9,135.8ZM370.6,136.9 371.3,136.3 372.1,135.9 373.1,136.9 372.8,138.5 372.3,139.4 371.2,139.6 371.2,137.8 370.6,136.9ZM373.7,136.9 374.3,135.8 375.2,136.2 376.1,135.5 376.1,136.2 375.6,136.9 374.3,137.4 373.7,136.9ZM359.9,150.9 360.6,152.3 361.5,150.9 362,149.6 362.1,148.1 361.5,147.7 360.6,148.7 360.4,149.8 359.9,150.9ZM347.2,156.1 348.2,155 349.3,154.9 349.8,155.5 349.2,156.9 348.2,157.5 347.3,157.1 347.2,156.1ZM359.8,160.2 359.9,158.7 360.4,157.3 361.3,156.9 362.4,157.3 362,158.5 362.2,159.7 361.6,160.6 361.7,161.7 361.7,162.8 362.8,163.2 364.3,163.9 364.3,165.2 363.4,164.3 362.3,163.6 360.9,163.8 360.5,162.7 359.9,161.9 359.8,160.2ZM362.1,172.8 362.9,171.7 363.8,171.6 364.6,170.9 365.2,170 365.8,169.1 366.7,169.7 367.2,170.9 367.1,172.3 366.5,173.7 365.8,174.8 364.5,173.9 363.8,172.2 362.3,173.1 362.1,172.8ZM362.1,167.9 362.6,166.4 363.5,167.1 364.3,165.4 365.4,165.4 366.1,167.4 365.2,168.7 364.2,168.2 363.3,169.8 362.5,168.9 362.1,167.9ZM347.6,180.4 348.3,179.7 349.8,180.4 350.5,178.5 352.1,178.1 352.5,177 353.2,176.1 354,175.5 354.8,175 355.8,173.7 356.5,172.8 357.3,173.7 358.3,174.5 358.9,175.2 358.1,175.7 357.6,176.5 357.4,178.1 357.2,179.7 357.8,180.5 358.6,181.2 357.4,181.4 357.1,183.3 355.9,184.9 355.9,186.6 355.3,187.4 353.8,187.4 353.3,187 352.4,186.7 351.5,186.8 350.6,186.6 349.8,186.7 348.9,186.4 348.8,184.6 348.1,183.5 347.6,182 347.6,180.4ZM332.4,174.9 333.6,174.8 334.8,175.3 335.8,176.5 336.5,177.3 337.3,178.1 338.3,179.6 339.5,180.5 340.2,181.2 341.1,181.8 341.8,182.6 341.8,183.8 342.4,184.7 343.1,185.6 344.3,186.7 343.9,188.5 344.1,190.4 342.8,190.5 341.9,189.3 340.5,188.2 339.7,187.4 339.2,186.3 338.6,185.3 338.4,184.2 337.7,183.4 336.8,182.2 336.7,180.9 336.1,180 335.1,179 334.1,178.3 333.6,177.1 332.4,175.7 332.4,174.9ZM343.4,191.8 344.4,190.7 345.7,190.7 347.1,191.2 348.2,191.6 349.3,191.9 350.5,191.5 351.6,191.9 352.7,192.3 353.6,193.2 353.8,194.4 352.5,193.8 351.4,194.1 350.4,193.8 349.4,193.6 348.4,193 347.3,192.9 346,192.9 344.7,192.5 343.6,191.9 343.4,191.8ZM354.3,194 355.9,194.1 357.6,194 359.3,194.1 360.9,194.1 362,194 362.9,193.7 364.1,194.1 362.6,194.7 361.5,194.7 360.4,194.7 359.3,194.8 358.2,194.7 357.1,194.6 355.9,194.7 354.3,194ZM364.3,196.3 365.5,194.8 366.7,194.8 367.6,193.8 366.6,194.8 365.5,195.5 364.3,196.3ZM359.2,189.9 360.3,190 360.3,188.4 360.3,186.8 360.9,186 362.4,187.3 363,188.4 363.4,189.7 362.7,188.5 361.9,186.6 362.5,185.2 363.7,183.7 362.6,183.3 361.5,183.7 360.7,183 360.1,182.2 360.8,180.7 361.9,181 363.1,181.2 364.4,181.2 365.6,180.5 364.7,181.9 363.4,181.6 362.2,181.6 361.1,181.9 360.1,182.2 359.6,183 359.3,184.8 359,186 358.8,187.3 358.9,188.6 359.2,189.9ZM368.6,179.4 369.5,180.9 369.4,182 368.6,181.9 368.9,183.5 368.9,182.3 368.3,181.4 368.6,179.4ZM368.7,187.1 370.1,187.2 371.5,186.7 371.8,187.8 370.4,187.5 368.9,187.5 368.7,187.1ZM372.1,184.5 372.8,183.6 373.6,183 374.5,183.4 375.5,183.7 376.1,184.7 376.1,185.9 377.1,187.1 377.9,185.6 379.2,184.5 380.2,184.8 381.1,185.1 382.1,185.6 383.2,186 384.1,186.4 385.1,187 386,187.9 387.2,187.8 387.9,188.8 388.5,190 389.6,190 390.5,190.8 390.1,191.8 391.1,193.4 391.6,194.4 392.4,194.9 393.4,195.4 394.1,196.6 392.8,196.7 391.8,196.7 390.8,196.3 390.1,195.6 389.4,194.7 388.4,193.6 387.3,192.9 385.7,193.7 385.8,194.8 384.9,195.2 384.1,195.1 383.2,194.9 382.2,194 381.1,193.6 379.9,194 380.6,192.5 380.2,191.2 379.8,189.9 378.3,189.3 376.7,188.6 375.9,188 375.1,187.3 374.1,188.1 373.2,186.3 374.4,185.9 373.4,185.5 372.1,184.5ZM391.3,190.1 392.4,190.5 393.4,190 393.9,188.9 394.8,188.2 395.7,188.4 394.8,190.1 393.9,190.4 393.2,191.1 392.2,190.7 391.3,190.1ZM315.3,173.1 315.2,171.5 315.2,170.2 315.5,169 316.3,169.7 316.8,171 317.4,172.2 317.2,173.5 316.1,174.4 315.3,173.1ZM352.7,212.8 353.4,214.4 352.5,215.9 352.9,217.2 353.2,218.5 353.5,219.6 353.9,220.7 354.1,221.8 354.2,222.9 354.3,225 355.1,226.4 355.1,228.2 354.3,228.6 354.5,229.5 356.1,230.5 357.6,230.6 358.9,230.3 359.7,229.1 360.6,228.8 361.6,228.8 362.8,229 363.9,229 364.5,227.7 365.6,227.4 366.6,226.6 367.7,226.8 369,226 370.4,225.8 371.4,225.5 372.4,225.7 373.5,226.4 374.4,226.8 375.3,226.9 376.1,227.9 376.3,229.3 377.2,230.4 377.5,229.8 378.8,229.3 379.3,227.7 379.5,229.1 379.1,230.6 380.3,229.7 380.4,230.9 381.7,232.1 381.6,233.2 382.7,234.6 383.8,235 384.5,235.2 385.9,235.7 386.8,235.3 387.5,234.5 387.9,234.9 389.1,236 390.3,234.9 391.3,234.3 392.1,233.7 393.1,233.4 393.3,231.4 393.9,230.8 394.3,229.5 394.7,228.4 395.7,226.6 396.3,225.3 396.6,223.6 396.7,222.3 397.2,221 397.3,219.5 396.6,218.1 396.6,217.9 395.6,217.2 395,216.3 394.4,215.4 393.7,213.5 392.8,213.1 392.4,211.7 391.7,210.7 390.9,210.2 390.4,209.2 389.2,208.5 388.8,207.6 388.6,205.6 388.4,204.5 387.9,203.6 387.9,202.9 387.2,201.9 386.1,201.7 386.1,201.4 386,200.2 385.6,199.1 384.9,197.1 384.4,198 383.9,199.5 383.8,200.7 383.5,202.2 383.7,203.7 383.4,205.1 382.8,206.3 381.9,206.3 381.3,206.3 380.2,205.5 379.4,204.1 378.1,203.9 377.1,203 376.8,201.9 377.6,200.7 378.4,200.2 378.5,199.3 378.2,198.8 377.5,198.8 376.8,199.2 376.2,198.8 374.9,198.6 373.8,198.4 373.8,199.3 372.4,199.1 371.5,200.2 371.2,200.7 370.8,201.7 370.6,202.8 369.9,202.8 368.9,202.9 368.5,202.1 367.5,201.4 366.6,202.1 365.4,202.4 364.7,203.7 363.7,205.2 363.6,206.2 362.3,206.3 362.4,207.4 361.8,208.3 361.2,209.2 359.6,209.9 358.5,210.3 357.5,210.7 356.2,210.9 354.9,212 353.8,212.4 352.7,212.8ZM387.3,238.3 388.2,238.4 389.2,238.9 390.2,238.7 391.3,238.6 391.3,240.2 390.8,241.7 389.7,242.3 388.7,242.2 388.1,241.1 387.5,240.1 387.3,239 387.3,238.3ZM418.4,229.7 419.3,230.5 420.2,230.9 420.5,232.1 421.3,232.7 421.9,234.1 423.6,234.5 424.8,234.2 424.6,235.4 424.2,236.3 423.1,236.5 423.2,237.2 422.7,238.3 422.1,239.1 421.2,239.7 421.1,239.3 420.6,239.1 421.2,238 420.8,237.2 419.6,236.7 420.5,235.7 420.6,233.8 420.2,232.5 419.6,232 418.8,230.8 418.3,229.8 418.4,229.7ZM418.5,238 418.9,239.1 420.1,239.1 420.1,239.8 419.7,240.4 418.9,241.5 418.4,242 418.8,242.7 417.9,242.7 417.1,243.1 416.7,244.1 416.1,245.4 415.2,246.1 414.6,246.4 413.6,246.4 412.9,246 411.7,245.9 411.5,245.4 412.1,244.3 412.9,243.8 413.5,243 414.2,242.7 415.1,242.3 415.9,241.5 416.6,240.8 417.2,239.8 417.5,239.4 417.7,238.6 418.5,238ZM26.5,290.2 37.6,289.9 46.5,290.3 50.9,288.5 56.5,288.4 59.8,287.2 64.3,285.9 70.9,285.4 75.4,284.7 82.1,284.4 87.6,283.7 93.2,284 98.7,284.7 104.3,285.1 110.9,284.7 115.4,283.3 119.8,283.1 126.5,282.9 132.1,283.2 137.6,283.1 140.9,282 144.3,282 146.5,279.9 150.4,279.2 151.5,276.5 152.6,274.4 155.4,272.5 158.2,271 161.5,269.7 163.2,269.3 162.6,270.3 159.8,271.1 157.6,273 155.9,275.8 157.6,278.5 158.7,282 158.2,284 156.5,285.4 153.2,287.4 156.5,289.1 162.1,290.5 168.7,291.6 175.4,290.2 182.1,289.5 187.6,289.2 192.1,288.1 196.5,286.8 202.1,284.7 207.6,283.1 212.1,281.3 216.5,280.2 220.9,280.3 226.5,279.1 232.1,278.9 237.6,278.8 243.2,278.8 248.7,278.5 254.3,278.9 259.8,278.3 265.4,277.2 270.9,277.4 276.5,275.4 282.1,273.7 287.6,273.4 293.2,274.8 298.7,275.1 302.1,275.8 304.3,277.8 307.6,278.3 309.8,277.6 313.2,276.2 317.6,274.7 322.1,274.1 326.5,273.9 332.1,273.7 337.6,272.8 343.2,272.8 348.7,273 354.3,274.1 359.8,274.1 365.4,273.6 370.9,273.3 376.5,273.2 382.1,274 387.6,275 393.2,276.5 398.7,276.9 404.3,278.3 407.6,279.3 412.1,279.9 415.4,281 415.9,283.3 412.1,284.7 408.2,286.5 408.2,288.8 412.1,289.5 417.6,289.9 422.1,290.1 426.5,290.2M90.4,77.9 91.3,78.6 92.3,78.7 93.3,78.3 94.3,78.3 95.3,78 96.2,77.9 97.3,77.9 98.2,77.3 96.9,77.2 95.9,76.2 95,76.6 94,76.6 93.1,75.9 92.1,75.9 91.2,77.3 89.8,76.8 90.4,77.9ZM115.4,88 116.8,87.9 118.2,88.6 119.2,88.5 120.1,87.9 119.8,86.9 118.4,87.1 117.1,86.5 116,86.8 115.1,87.2 115.4,88ZM110.4,75.5 111.6,76.2 112.9,76.2 114.1,75.7 115.4,75.7 116.5,74.6 115.1,74.3 113.7,73.7 112.1,74.2 110.4,74.4 110.4,75.5ZM135.9,82.3 136.9,82.8 137.9,82.7 138.9,82.8 139.8,82.9 141,82.6 142.1,82.1 141,81.6 139.8,81.3 138.9,82 137.9,81.7 136.9,81.4 135.9,81.4 135.9,82.3ZM119.3,79.6 121,79.3 122.6,80.1 123.6,79.1 122.1,78.3 120.6,78.2 119.3,78.8 119.3,79.6ZM133.7,97.1 134.8,96.7 135.9,96.9 135.2,96.1 134.3,96.4 133.4,96.3 133.7,97.1ZM137.1,98 138.2,97.8 137.6,97.1 136.9,97.5ZM138.2,105.3 138.9,105.6 138.7,104.6ZM135.9,109.8 137.1,110 136.5,109.4ZM83.9,112.9 85.2,113.1 86.5,113.4 88,114.6 89.3,116 87.8,115.6 86.7,114.6 85.4,114.2 84.7,113.5 83.9,112.9ZM79.3,108.3 80.4,109.4 80.7,110.8 79.5,110 78.7,108.6ZM54.8,103.8 55.9,103.3 57.1,103.4 55.9,102.6 54.8,103.1ZM37.6,110 38.7,109.4 39.8,109.3 41.5,108.9 43.2,108.2M26.5,111.4 27.5,111 28.2,110.2 28.9,110.9 29.8,111.4 30.9,111.2 32.1,111.1 33.4,110.8 34.8,110.7M35.7,94.9 37.2,95.5 38.7,95.6 39.1,95.8 37.8,95.7 36.5,95.8 35.7,94.9ZM40.9,99.8 42.6,100.2 42.4,99.4 41.2,99.6ZM278.7,72 280.1,71.6 281.5,72.3 282.9,72.4 284.3,72.4 286,72.5 287.6,73 289.5,73.9 290.9,72.1 292.1,72.5 293.2,72.4 294.3,71.9 295.4,71.6 294.6,70.1 293.2,70.3 291,69.5 288.7,70.2 286.5,71.1 284.3,70.6 282.9,71.1 281.6,72 280.2,72.2 278.7,72ZM286.5,72.8 288.2,73.3 289.8,72.6 288.7,72.5 287.6,72.2ZM280.4,87.7 281.5,87.9 282.1,87.3 280.9,87.1ZM291.5,86.4 292.5,86.5 293.5,86.8 293.2,85.8ZM240.3,130.3 241.5,130 242.7,129.6 243.8,129.9 243.5,130.9 243.3,132.1 242.4,131.7 241.6,130.6 240.4,130.8 240.3,130.3ZM235.8,128.8 237.2,128.8 237.1,127.5 237.4,126.3 236.7,125.9 235.6,126.3 235.4,127.6 235.8,128.8ZM236.1,125.5 236.9,125.6 237.1,123.6 236.1,124.5ZM252.6,134 254.2,134.3 255.7,134.1 254.7,134.1 253.7,134.3ZM262.4,134.8 263.5,133.5 264.9,133.6 264.2,134.4 262.6,134.8ZM238.7,106 239.6,106.1 240.5,106.1 240.2,105.5 239.2,105.7ZM246.7,104.1 247.6,103.1 247.1,103ZM400.4,191.8 401.5,192.5 402.5,192.8 403.2,193.7 404,194.2 404.8,194.8 405.9,195.9M411.7,202.8 412.3,204.1 413.4,205.1 413.4,206.7 414.3,207.8M408.7,210.2 409.6,210.7 410.4,211.5 411.3,212.2 412.1,213.1 411.5,212.9 410.5,211.9 409.3,211.3ZM423.5,206.5 424.8,206.2 424.8,207.3 423.7,207.4ZM425.1,205.1 426.5,204.7 425.9,205.5ZM53.3,156.2 54.3,155.7 53.7,154.7 53.3,155.3ZM208.7,143.6 209.4,143.9 210.9,143.3M198.7,159.1 199.8,159.8 200.4,161.9M194.8,129.6 196.5,129.3 197.1,130.4 198.2,130.6M329.6,163.9 329.5,166 329.8,167.4 329.4,168M285.9,165.2 287.1,165.3 286.3,165.6ZM335.4,171.6 335.7,171.2M343.4,184.6 344.6,184.7 344.9,186.2 344.3,186.6 343.4,185.2ZM356.7,170.9 356.9,169.8 357.3,168.7 358.1,168.2 359.1,168 359.3,167.1 358.9,168.4 358.2,169.4 357.5,170.3ZM360.4,163.9 361.5,164.5 361.2,165.6 360.2,164.9ZM398.3,189.3 398.6,190.9 399.7,191.8 398.9,191.4 398.9,190.2ZM394.1,186 395,186.4 395.7,187.3 396.6,188.9 396.3,188.6 395.3,188.2 394.8,187.1ZM388.3,122.9 389.2,121.8 390.4,121.4 391.4,120.3 392.6,119.9 393.7,119 394.8,118.2 395.7,116.7 397.1,115.9 397.6,114.6 398.7,114.1 399.5,113.3 400.4,112.7M368.3,146.6 369.1,145.7 369.5,144.4 370.4,143.7 370.6,142 371.5,140.7M366.7,136.7 367.5,136.5 367.1,136.9ZM315.3,169.7 314.8,170M308.1,176.7 307.8,178.6 308.2,180.4M290.2,210 290.6,210.4 290.4,210.6ZM287.9,211.3 288.5,211.7 288.2,211.7ZM303.2,249.4 304.8,250 304.1,250.5 302.9,250.3ZM184.3,256.6 185.4,256.4 186.5,257 186.7,257.7M157.7,168.6 158.8,168.6 158.7,167.6 157.7,167.6ZM139.6,148.8 140.4,147.6 140.9,145.9 141.2,147.1 141.8,148.1 142.6,149.5 141.2,148.7ZM124.8,183.5 125.9,182.7 126.5,183.8ZM144.3,239.8 144.8,241.9 144.1,241.9ZM128.7,94.3 130.4,93.8M246.5,74.7 247.5,74.6 248.1,73.7 249,74.1 249.8,74.4 248.7,73.7 247.7,74.5ZM253.2,72.6 254.1,72.6 255.1,72.3 256.1,72.6 257.1,72.4 255.6,72.4 254.3,72Z" fill="none" stroke-linejoin="round"/></defs><g transform="translate(0,0)"><clipPath id="clipa"><rect x="26" y="58.9" width="401" height="247.1"/></clipPath><g clip-path="url(#clipa)"><path d="M157.8,64L157.8,90M160.5,113.6L160.5,139.6M163.2,163.2L163.2,189.2M165.8,212.8L165.8,238.8M168.5,262.4L168.5,288.4M356.1,76.5L356.1,102.5M353.4,126.1L353.4,152.1M350.7,175.7L350.7,201.7M348.1,225.3L348.1,251.3M345.4,274.9L345.4,300.9" stroke="#3d3f99" stroke-opacity="0.6" stroke-width="1.5"/><path d="M131.1,65L131.1,91M133.8,114.6L133.8,140.6M136.5,164.2L136.5,190.2M139.1,213.8L139.1,239.8M141.8,263.4L141.8,289.4" stroke="#2a4ea3" stroke-opacity="0.6" stroke-width="1.5"/><path d="M329.4,75.4L329.4,101.4M326.7,125L326.7,151M324,174.6L324,200.6M321.4,224.2L321.4,250.2M318.7,273.8L318.7,299.8" stroke="#2c55a8" stroke-opacity="0.6" stroke-width="1.5"/><path d="M104.4,66L104.4,92M107.1,115.6L107.1,141.6M109.8,165.2L109.8,191.2M112.4,214.8L112.4,240.8M115.1,264.4L115.1,290.4M302.7,74.3L302.7,100.3M300,123.9L300,149.9M297.3,173.5L297.3,199.5M294.7,223.1L294.7,249.1M292,272.7L292,298.7" stroke="#3575bf" stroke-opacity="0.6" stroke-width="1.5"/><path d="M77.7,67L77.7,93M80.4,116.6L80.4,142.6M83.1,166.2L83.1,192.2M85.7,215.8L85.7,241.8M88.4,265.4L88.4,291.4M276,73.2L276,99.2M273.3,122.8L273.3,148.8M270.6,172.4L270.6,198.4M268,222L268,248M265.3,271.6L265.3,297.6" stroke="#6ec6d6" stroke-opacity="0.6" stroke-width="1.5"/><path d="M51,68L51,94M53.7,117.6L53.7,143.6M56.4,167.2L56.4,193.2M59,216.8L59,242.8M61.7,266.4L61.7,292.4M249.3,72.1L249.3,98.1M246.6,121.7L246.6,147.7M243.9,171.3L243.9,197.3M241.3,220.9L241.3,246.9M238.6,270.5L238.6,296.5" stroke="#6cbba6" stroke-opacity="0.6" stroke-width="1.5"/><path d="M27,118.6L27,144.6M29.7,168.2L29.7,194.2M32.3,217.8L32.3,243.8M35,267.4L35,293.4M424.8,70L424.8,96M427.5,119.6L427.5,145.6M222.6,71L222.6,97M219.9,120.6L219.9,146.6M217.2,170.2L217.2,196.2M214.6,219.8L214.6,245.8M211.9,269.4L211.9,295.4" stroke="#70b22e" stroke-opacity="0.6" stroke-width="1.5"/><path d="M398.1,71L398.1,97M400.8,120.6L400.8,146.6M403.5,170.2L403.5,196.2M406.1,219.8L406.1,245.8M408.8,269.4L408.8,295.4" stroke="#6ab226" stroke-opacity="0.6" stroke-width="1.5"/><path d="M198.6,37.3L198.6,63.3M195.9,86.9L195.9,112.9M193.2,136.5L193.2,162.5M190.5,186.1L190.5,212.1M187.9,235.7L187.9,261.7M185.2,285.3L185.2,311.3" stroke="#7ab820" stroke-opacity="0.6" stroke-width="1.5"/><path d="M371.4,56L371.4,82M374.1,105.6L374.1,131.6M376.8,155.2L376.8,181.2M379.4,204.8L379.4,230.8M382.1,254.4L382.1,280.4M384.8,304L384.8,330M171.9,36.1L171.9,62.1M169.2,85.8L169.2,111.8M166.5,135.3L166.5,161.3M163.8,184.9L163.8,210.9M161.2,234.6L161.2,260.6M158.5,284.1L158.5,310.1" stroke="#8cbf1a" stroke-opacity="0.6" stroke-width="1.5"/><path d="M344.7,57L344.7,83M347.4,106.6L347.4,132.6M350.1,156.2L350.1,182.2M352.7,205.8L352.7,231.8M355.4,255.4L355.4,281.4M145.2,35L145.2,61M142.5,84.6L142.5,110.6M139.8,134.2L139.8,160.2M137.1,183.8L137.1,209.8M134.5,233.4L134.5,259.4M131.8,283L131.8,309" stroke="#eee43a" stroke-opacity="0.6" stroke-width="1.5"/><path d="M318,58L318,84M320.7,107.6L320.7,133.6M323.4,157.2L323.4,183.2M326,206.8L326,232.8M328.7,256.4L328.7,282.4M115.8,83.5L115.8,109.5M113.1,133.1L113.1,159.1M110.4,182.7L110.4,208.7M107.8,232.2L107.8,258.2M105.1,281.9L105.1,307.9" stroke="#f6b41c" stroke-opacity="0.6" stroke-width="1.5"/><path d="M291.3,59L291.3,85M294,108.6L294,134.6M296.7,158.2L296.7,184.2M299.3,207.8L299.3,233.8M302,257.4L302,283.4M89.1,82.3L89.1,108.3M86.4,131.9L86.4,157.9M83.7,181.5L83.7,207.5M81.1,231.1L81.1,257.1M78.4,280.7L78.4,306.7" stroke="#e8481f" stroke-opacity="0.6" stroke-width="1.5"/><path d="M264.6,60L264.6,86M267.3,109.6L267.3,135.6M270,159.2L270,185.2M272.6,208.8L272.6,234.8M275.3,258.4L275.3,284.4" stroke="#e8231d" stroke-opacity="0.6" stroke-width="1.5"/><path d="M62.4,81.2L62.4,107.2M59.7,130.8L59.7,156.8M57,180.4L57,206.4M54.4,230L54.4,256M51.7,279.6L51.7,305.6" stroke="#e8241f" stroke-opacity="0.6" stroke-width="1.5"/><path d="M237.9,61L237.9,87M240.6,110.6L240.6,136.6M243.3,160.2L243.3,186.2M245.9,209.8L245.9,235.8M248.6,259.4L248.6,285.4M35.7,80L35.7,106M33,129.6L33,155.6M30.3,179.2L30.3,205.2M27.7,228.8L27.7,254.8M425.5,278.2L425.5,304.2" stroke="#d81d43" stroke-opacity="0.6" stroke-width="1.5"/><path d="M211.2,62L211.2,88M213.9,111.6L213.9,137.6M216.6,161.2L216.6,187.2M219.2,210.8L219.2,236.8M221.9,260.4L221.9,286.4M409.5,78.7L409.5,104.7M406.8,128.3L406.8,154.3M404.1,177.9L404.1,203.9M401.5,227.5L401.5,253.5M398.8,277.1L398.8,303.1" stroke="#7e3a9a" stroke-opacity="0.6" stroke-width="1.5"/><path d="M184.5,63L184.5,89M187.2,112.6L187.2,138.6M189.9,162.2L189.9,188.2M192.5,211.8L192.5,237.8M195.2,261.4L195.2,287.4M382.8,77.6L382.8,103.6M380.1,127.2L380.1,153.2M377.4,176.8L377.4,202.8M374.8,226.4L374.8,252.4M372.1,276L372.1,302" stroke="#5a4a9c" stroke-opacity="0.6" stroke-width="1.5"/><path d="M157.8,77h0M160.5,126.6h0M163.2,176.2h0M165.8,225.8h0M168.5,275.4h0M356.1,89.5h0M353.4,139.1h0M350.7,188.7h0M348.1,238.3h0M345.4,287.9h0" stroke="#3d3f99" stroke-width="3.6" stroke-linecap="square"/><path d="M131.1,78h0M133.8,127.6h0M136.5,177.2h0M139.1,226.8h0M141.8,276.4h0" stroke="#2a4ea3" stroke-width="3.6" stroke-linecap="square"/><path d="M329.4,88.4h0M326.7,138h0M324,187.6h0M321.4,237.2h0M318.7,286.8h0" stroke="#2c55a8" stroke-width="3.6" stroke-linecap="square"/><path d="M104.4,79h0M107.1,128.6h0M109.8,178.2h0M112.4,227.8h0M115.1,277.4h0M302.7,87.3h0M300,136.9h0M297.3,186.5h0M294.7,236.1h0M292,285.7h0" stroke="#3575bf" stroke-width="3.6" stroke-linecap="square"/><path d="M77.7,80h0M80.4,129.6h0M83.1,179.2h0M85.7,228.8h0M88.4,278.4h0M276,86.2h0M273.3,135.8h0M270.6,185.4h0M268,235h0M265.3,284.6h0" stroke="#6ec6d6" stroke-width="3.6" stroke-linecap="square"/><path d="M51,81h0M53.7,130.6h0M56.4,180.2h0M59,229.8h0M61.7,279.4h0M249.3,85.1h0M246.6,134.7h0M243.9,184.3h0M241.3,233.9h0M238.6,283.5h0" stroke="#6cbba6" stroke-width="3.6" stroke-linecap="square"/><path d="M27,131.6h0M29.7,181.2h0M32.3,230.8h0M35,280.4h0M424.8,83h0M427.5,132.6h0M222.6,84h0M219.9,133.6h0M217.2,183.2h0M214.6,232.8h0M211.9,282.4h0" stroke="#70b22e" stroke-width="3.6" stroke-linecap="square"/><path d="M398.1,84h0M400.8,133.6h0M403.5,183.2h0M406.1,232.8h0M408.8,282.4h0" stroke="#6ab226" stroke-width="3.6" stroke-linecap="square"/><path d="M198.6,50.3h0M195.9,99.9h0M193.2,149.5h0M190.5,199.1h0M187.9,248.7h0M185.2,298.3h0" stroke="#7ab820" stroke-width="3.6" stroke-linecap="square"/><path d="M371.4,69h0M374.1,118.6h0M376.8,168.2h0M379.4,217.8h0M382.1,267.4h0M384.8,317h0M171.9,49.1h0M169.2,98.8h0M166.5,148.3h0M163.8,197.9h0M161.2,247.6h0M158.5,297.1h0" stroke="#8cbf1a" stroke-width="3.6" stroke-linecap="square"/><path d="M344.7,70h0M347.4,119.6h0M350.1,169.2h0M352.7,218.8h0M355.4,268.4h0M145.2,48h0M142.5,97.6h0M139.8,147.2h0M137.1,196.8h0M134.5,246.4h0M131.8,296h0" stroke="#eee43a" stroke-width="3.6" stroke-linecap="square"/><path d="M318,71h0M320.7,120.6h0M323.4,170.2h0M326,219.8h0M328.7,269.4h0M115.8,96.5h0M113.1,146.1h0M110.4,195.7h0M107.8,245.2h0M105.1,294.9h0" stroke="#f6b41c" stroke-width="3.6" stroke-linecap="square"/><path d="M291.3,72h0M294,121.6h0M296.7,171.2h0M299.3,220.8h0M302,270.4h0M89.1,95.3h0M86.4,144.9h0M83.7,194.5h0M81.1,244.1h0M78.4,293.7h0" stroke="#e8481f" stroke-width="3.6" stroke-linecap="square"/><path d="M264.6,73h0M267.3,122.6h0M270,172.2h0M272.6,221.8h0M275.3,271.4h0" stroke="#e8231d" stroke-width="3.6" stroke-linecap="square"/><path d="M62.4,94.2h0M59.7,143.8h0M57,193.4h0M54.4,243h0M51.7,292.6h0" stroke="#e8241f" stroke-width="3.6" stroke-linecap="square"/><path d="M237.9,74h0M240.6,123.6h0M243.3,173.2h0M245.9,222.8h0M248.6,272.4h0M35.7,93h0M33,142.6h0M30.3,192.2h0M27.7,241.8h0M425.5,291.2h0" stroke="#d81d43" stroke-width="3.6" stroke-linecap="square"/><path d="M211.2,75h0M213.9,124.6h0M216.6,174.2h0M219.2,223.8h0M221.9,273.4h0M409.5,91.7h0M406.8,141.3h0M404.1,190.9h0M401.5,240.5h0M398.8,290.1h0" stroke="#7e3a9a" stroke-width="3.6" stroke-linecap="square"/><path d="M184.5,76h0M187.2,125.6h0M189.9,175.2h0M192.5,224.8h0M195.2,274.4h0M382.8,90.6h0M380.1,140.2h0M377.4,189.8h0M374.8,239.4h0M372.1,289h0" stroke="#5a4a9c" stroke-width="3.6" stroke-linecap="square"/><path d="M76.5,58.9V306M126.5,58.9V306M176.5,58.9V306M226.5,58.9V306M276.5,58.9V306M326.5,58.9V306M376.5,58.9V306M26.5,100.1H426.5M26.5,141.3H426.5M26.5,182.4H426.5M26.5,223.6H426.5M26.5,264.8H426.5M27,58.9V306M426,58.9V306" fill="none" stroke="#555" stroke-width="0.8" stroke-dasharray="1.3,2.9"/><use href="#coast" stroke="#333" stroke-width="0.8"/></g><rect x="22.7" y="56.3" width="407.5" height="252.3" fill="none" stroke="#c8c8c8" stroke-width="0.8"/><rect x="25.9" y="58.8" width="401.1" height="247" fill="none" stroke="#c8c8c8" stroke-width="0.8"/><path d="M76.5,57.5H126.5M76.5,307.2H126.5M176.5,57.5H226.5M176.5,307.2H226.5M276.5,57.5H326.5M276.5,307.2H326.5M376.5,57.5H426.5M376.5,307.2H426.5" stroke="#383838" stroke-width="2.7"/><path d="M24.3,58.9V100.1M428.6,58.9V100.1M24.3,141.3V182.4M428.6,141.3V182.4M24.3,223.6V264.8M428.6,223.6V264.8" stroke="#383838" stroke-width="3"/><g style="font-family:'Liberation Sans',sans-serif;font-size:15.3px;fill:#333"><text transform="translate(76.5,52.4) scale(0.875,1)" text-anchor="middle">-135</text><text transform="translate(76.5,324.8) scale(0.875,1)" text-anchor="middle">-135</text><text transform="translate(126.5,52.4) scale(0.875,1)" text-anchor="middle">-90</text><text transform="translate(126.5,324.8) scale(0.875,1)" text-anchor="middle">-90</text><text transform="translate(176.5,52.4) scale(0.875,1)" text-anchor="middle">-45</text><text transform="translate(176.5,324.8) scale(0.875,1)" text-anchor="middle">-45</text><text transform="translate(226.5,52.4) scale(0.875,1)" text-anchor="middle">0</text><text transform="translate(226.5,324.8) scale(0.875,1)" text-anchor="middle">0</text><text transform="translate(276.5,52.4) scale(0.875,1)" text-anchor="middle">45</text><text transform="translate(276.5,324.8) scale(0.875,1)" text-anchor="middle">45</text><text transform="translate(326.5,52.4) scale(0.875,1)" text-anchor="middle">90</text><text transform="translate(326.5,324.8) scale(0.875,1)" text-anchor="middle">90</text><text transform="translate(376.5,52.4) scale(0.875,1)" text-anchor="middle">135</text><text transform="translate(376.5,324.8) scale(0.875,1)" text-anchor="middle">135</text><text transform="translate(19.4,100.1) rotate(-90) scale(0.875,1)" text-anchor="middle">60</text><text transform="translate(433.2,100.1) rotate(90) scale(0.875,1)" text-anchor="middle">60</text><text transform="translate(19.4,141.3) rotate(-90) scale(0.875,1)" text-anchor="middle">30</text><text transform="translate(433.2,141.3) rotate(90) scale(0.875,1)" text-anchor="middle">30</text><text transform="translate(19.4,182.4) rotate(-90) scale(0.875,1)" text-anchor="middle">0</text><text transform="translate(433.2,182.4) rotate(90) scale(0.875,1)" text-anchor="middle">0</text><text transform="translate(19.4,223.6) rotate(-90) scale(0.875,1)" text-anchor="middle">-30</text><text transform="translate(433.2,223.6) rotate(90) scale(0.875,1)" text-anchor="middle">-30</text><text transform="translate(19.4,264.8) rotate(-90) scale(0.875,1)" text-anchor="middle">-60</text><text transform="translate(433.2,264.8) rotate(90) scale(0.875,1)" text-anchor="middle">-60</text></g></g><g transform="translate(462.5,0)"><clipPath id="clipb"><rect x="26" y="58.9" width="401" height="247.1"/></clipPath><g clip-path="url(#clipb)"><path d="M141.9,48L141.9,68M142.7,63L142.7,83M143.6,78L143.6,98M144.4,93L144.4,113M145.2,108L145.2,128M146,123L146,143M146.8,138L146.8,158M147.6,153L147.6,173M148.4,168L148.4,188M149.2,183L149.2,203M150,198L150,218M150.8,213L150.8,233M151.7,228L151.7,248M152.5,243L152.5,263M153.3,258L153.3,278M154.1,273L154.1,293M154.9,288L154.9,308M145.9,37.7L145.9,57.7M146.7,52.7L146.7,72.7M147.6,67.7L147.6,87.7M148.4,82.7L148.4,102.7M149.2,97.7L149.2,117.7M150,112.7L150,132.7M150.8,127.7L150.8,147.7M151.6,142.7L151.6,162.7M152.4,157.7L152.4,177.7M153.2,172.7L153.2,192.7M154.8,202.7L154.8,222.7M155.7,217.7L155.7,237.7M156.5,232.7L156.5,252.7M157.3,247.7L157.3,267.7M158.1,262.7L158.1,282.7M158.9,277.7L158.9,297.7M159.7,292.7L159.7,312.7M160.5,307.7L160.5,327.7M150.1,40.4L150.1,60.4M150.9,55.4L150.9,75.4M152.5,85.4L152.5,105.4M153.4,100.4L153.4,120.4M154.2,115.4L154.2,135.4M155.8,145.4L155.8,165.4M156.6,160.4L156.6,180.4M157.4,175.4L157.4,195.4M159,205.4L159,225.4M160.6,235.4L160.6,255.4M161.5,250.4L161.5,270.4M162.3,265.4L162.3,285.4M163.1,280.4L163.1,300.4M163.9,295.4L163.9,315.4M164.7,310.4L164.7,330.4M352.6,60.2L352.6,80.2M351.8,75.2L351.8,95.2M351,90.2L351,110.2M350.1,105.2L350.1,125.2M348.5,135.2L348.5,155.2M347.7,150.2L347.7,170.2M346.1,180.2L346.1,200.2M345.3,195.2L345.3,215.2M344.5,210.2L344.5,230.2M343.7,225.2L343.7,245.2M342.9,240.2L342.9,260.2M342,255.2L342,275.2M341.2,270.2L341.2,290.2M340.4,285.2L340.4,305.2M357.9,36.3L357.9,56.3M357.1,51.3L357.1,71.3M356.2,66.3L356.2,86.3M355.4,81.3L355.4,101.3M354.6,96.3L354.6,116.3M353.8,111.3L353.8,131.3M353,126.3L353,146.3M352.2,141.3L352.2,161.3M351.4,156.3L351.4,176.3M350.6,171.3L350.6,191.3M349.8,186.3L349.8,206.3M349,201.3L349,221.3M348.1,216.3L348.1,236.3M347.3,231.3L347.3,251.3M346.5,246.3L346.5,266.3M344.9,276.3L344.9,296.3M343.3,306.3L343.3,326.3M366.7,37.2L366.7,57.2M365.9,52.2L365.9,72.2M364.3,82.2L364.3,102.2M363.4,97.2L363.4,117.2M361.8,127.2L361.8,147.2M361,142.2L361,162.2M360.2,157.2L360.2,177.2M358.6,187.2L358.6,207.2M357,217.2L357,237.2M356.2,232.2L356.2,252.2M355.3,247.2L355.3,267.2M353.7,277.2L353.7,297.2M352.9,292.2L352.9,312.2M352.1,307.2L352.1,327.2M379,63.3L379,83.3M378.2,78.3L378.2,98.3M377.4,93.3L377.4,113.3M375.7,123.3L375.7,143.3M374.9,138.3L374.9,158.3M373.3,168.3L373.3,188.3M371.7,198.3L371.7,218.3M370.9,213.3L370.9,233.3M370.1,228.3L370.1,248.3M369.3,243.3L369.3,263.3M368.5,258.3L368.5,278.3M367.6,273.3L367.6,293.3M366.8,288.3L366.8,308.3M366,303.3L366,323.3" stroke="#5b3f98" stroke-opacity="0.72" stroke-width="1.5"/><path d="M123.6,47.3L123.6,67.3M124.4,62.3L124.4,82.3M125.2,77.3L125.2,97.3M126,92.3L126,112.3M126.9,107.3L126.9,127.3M127.7,122.3L127.7,142.3M128.5,137.3L128.5,157.3M129.3,152.3L129.3,172.3M130.1,167.3L130.1,187.3M130.9,182.3L130.9,202.3M131.7,197.3L131.7,217.3M132.5,212.3L132.5,232.3M133.3,227.3L133.3,247.3M135,257.3L135,277.3M135.8,272.3L135.8,292.3M137.4,302.3L137.4,322.3M128.5,55.4L128.5,75.4M129.4,70.4L129.4,90.4M130.2,85.4L130.2,105.4M131,100.4L131,120.4M131.8,115.4L131.8,135.4M132.6,130.4L132.6,150.4M133.4,145.4L133.4,165.4M134.2,160.4L134.2,180.4M135,175.4L135,195.4M135.8,190.4L135.8,210.4M136.6,205.4L136.6,225.4M137.5,220.4L137.5,240.4M139.1,250.4L139.1,270.4M139.9,265.4L139.9,285.4M140.7,280.4L140.7,300.4M141.5,295.4L141.5,315.4M142.3,310.4L142.3,330.4M137,44.6L137,64.6M137.8,59.6L137.8,79.6M138.6,74.6L138.6,94.6M139.4,89.6L139.4,109.6M141,119.6L141,139.6M141.8,134.6L141.8,154.6M142.6,149.6L142.6,169.6M143.4,164.6L143.4,184.6M144.2,179.6L144.2,199.6M145.1,194.6L145.1,214.6M147.5,239.6L147.5,259.6M148.3,254.6L148.3,274.6M149.1,269.6L149.1,289.6M149.9,284.6L149.9,304.6M150.7,299.6L150.7,319.6M340.3,34.3L340.3,54.3M339.5,49.3L339.5,69.3M338.7,64.3L338.7,84.3M337.9,79.3L337.9,99.3M337.1,94.3L337.1,114.3M336.3,109.3L336.3,129.3M335.5,124.3L335.5,144.3M334.7,139.3L334.7,159.3M333.8,154.3L333.8,174.3M333,169.3L333,189.3M332.2,184.3L332.2,204.3M330.6,214.3L330.6,234.3M329.8,229.3L329.8,249.3M329,244.3L329,264.3M328.2,259.3L328.2,279.3M327.4,274.3L327.4,294.3M326.6,289.3L326.6,309.3M343.8,50.6L343.8,70.6M343,65.6L343,85.6M342.1,80.6L342.1,100.6M340.5,110.6L340.5,130.6M339.7,125.6L339.7,145.6M338.9,140.6L338.9,160.6M337.3,170.6L337.3,190.6M336.5,185.6L336.5,205.6M335.7,200.6L335.7,220.6M334.9,215.6L334.9,235.6M334,230.6L334,250.6M333.2,245.6L333.2,265.6M332.4,260.6L332.4,280.6M331.6,275.6L331.6,295.6M330.8,290.6L330.8,310.6M330,305.6L330,325.6M349.3,44.9L349.3,64.9M348.5,59.9L348.5,79.9M347.7,74.9L347.7,94.9M346.9,89.9L346.9,109.9M346,104.9L346,124.9M345.2,119.9L345.2,139.9M344.4,134.9L344.4,154.9M343.6,149.9L343.6,169.9M342.8,164.9L342.8,184.9M342,179.9L342,199.9M341.2,194.9L341.2,214.9M340.4,209.9L340.4,229.9M338.8,239.9L338.8,259.9M337.9,254.9L337.9,274.9M337.1,269.9L337.1,289.9M336.3,284.9L336.3,304.9M335.5,299.9L335.5,319.9" stroke="#3d3f99" stroke-opacity="0.72" stroke-width="1.5"/><path d="M111.2,57.1L111.2,77.1M112,72.1L112,92.1M113.6,102.1L113.6,122.1M114.4,117.1L114.4,137.1M115.3,132.1L115.3,152.1M116.1,147.1L116.1,167.1M116.9,162.1L116.9,182.1M119.3,207.1L119.3,227.1M120.1,222.1L120.1,242.1M120.9,237.1L120.9,257.1M121.7,252.1L121.7,272.1M122.5,267.1L122.5,287.1M123.4,282.1L123.4,302.1M124.2,297.1L124.2,317.1M115.1,41L115.1,61M115.9,56L115.9,76M116.7,71L116.7,91M117.5,86L117.5,106M118.3,101L118.3,121M119.1,116L119.1,136M120,131L120,151M120.8,146L120.8,166M122.4,176L122.4,196M123.2,191L123.2,211M124.8,221L124.8,241M125.6,236L125.6,256M127.2,266L127.2,286M128.1,281L128.1,301M128.9,296L128.9,316M129.7,311L129.7,331M119.3,45.9L119.3,65.9M120.2,60.9L120.2,80.9M121,75.9L121,95.9M121.8,90.9L121.8,110.9M122.6,105.9L122.6,125.9M123.4,120.9L123.4,140.9M124.2,135.9L124.2,155.9M125,150.9L125,170.9M125.8,165.9L125.8,185.9M126.6,180.9L126.6,200.9M128.3,210.9L128.3,230.9M129.1,225.9L129.1,245.9M129.9,240.9L129.9,260.9M130.7,255.9L130.7,275.9M131.5,270.9L131.5,290.9M133.1,300.9L133.1,320.9M327,36.1L327,56.1M326.2,51.1L326.2,71.1M325.4,66.1L325.4,86.1M324.6,81.1L324.6,101.1M323.7,96.1L323.7,116.1M322.1,126.1L322.1,146.1M321.3,141.1L321.3,161.1M320.5,156.1L320.5,176.1M319.7,171.1L319.7,191.1M318.1,201.1L318.1,221.1M316.5,231.1L316.5,251.1M315.6,246.1L315.6,266.1M314.8,261.1L314.8,281.1M313.2,291.1L313.2,311.1M312.4,306.1L312.4,326.1M331,43.4L331,63.4M330.1,58.4L330.1,78.4M329.3,73.4L329.3,93.4M328.5,88.4L328.5,108.4M327.7,103.4L327.7,123.4M326.9,118.4L326.9,138.4M326.1,133.4L326.1,153.4M324.5,163.4L324.5,183.4M323.7,178.4L323.7,198.4M322.9,193.4L322.9,213.4M322,208.4L322,228.4M320.4,238.4L320.4,258.4M319.6,253.4L319.6,273.4M318.8,268.4L318.8,288.4M318,283.4L318,303.4M317.2,298.4L317.2,318.4" stroke="#2a4ea3" stroke-opacity="0.72" stroke-width="1.5"/><path d="M75.2,48.8L75.2,68.8M76,63.8L76,83.8M76.8,78.8L76.8,98.8M77.6,93.8L77.6,113.8M78.4,108.8L78.4,128.8M79.2,123.8L79.2,143.8M80,138.8L80,158.8M80.8,153.8L80.8,173.8M81.7,168.8L81.7,188.8M82.5,183.8L82.5,203.8M84.9,228.8L84.9,248.8M85.7,243.8L85.7,263.8M86.5,258.8L86.5,278.8M88.1,288.8L88.1,308.8M93.3,43.4L93.3,63.4M95.7,88.4L95.7,108.4M96.5,103.4L96.5,123.4M97.3,118.4L97.3,138.4M98.1,133.4L98.1,153.4M99,148.4L99,168.4M99.8,163.4L99.8,183.4M100.6,178.4L100.6,198.4M101.4,193.4L101.4,213.4M102.2,208.4L102.2,228.4M103,223.4L103,243.4M103.8,238.4L103.8,258.4M104.6,253.4L104.6,273.4M105.4,268.4L105.4,288.4M106.2,283.4L106.2,303.4M97.4,43L97.4,63M98.3,58L98.3,78M99.1,73L99.1,93M99.9,88L99.9,108M100.7,103L100.7,123M102.3,133L102.3,153M103.1,148L103.1,168M103.9,163L103.9,183M105.5,193L105.5,213M106.4,208L106.4,228M107.2,223L107.2,243M108,238L108,258M108.8,253L108.8,273M109.6,268L109.6,288M110.4,283L110.4,303M111.2,298L111.2,318M101.5,37.7L101.5,57.7M102.3,52.7L102.3,72.7M103.1,67.7L103.1,87.7M103.9,82.7L103.9,102.7M105.6,112.7L105.6,132.7M107.2,142.7L107.2,162.7M108,157.7L108,177.7M108.8,172.7L108.8,192.7M109.6,187.7L109.6,207.7M110.4,202.7L110.4,222.7M111.2,217.7L111.2,237.7M112,232.7L112,252.7M112.9,247.7L112.9,267.7M113.7,262.7L113.7,282.7M114.5,277.7L114.5,297.7M115.3,292.7L115.3,312.7M116.1,307.7L116.1,327.7M298.3,73.6L298.3,93.6M297.5,88.6L297.5,108.6M295.9,118.6L295.9,138.6M295.1,133.6L295.1,153.6M294.2,148.6L294.2,168.6M293.4,163.6L293.4,183.6M292.6,178.6L292.6,198.6M291.8,193.6L291.8,213.6M291,208.6L291,228.6M289.4,238.6L289.4,258.6M288.6,253.6L288.6,273.6M287.8,268.6L287.8,288.6M287,283.6L287,303.6M286.1,298.6L286.1,318.6M304.1,40.4L304.1,60.4M303.2,55.4L303.2,75.4M301.6,85.4L301.6,105.4M300.8,100.4L300.8,120.4M300,115.4L300,135.4M298.4,145.4L298.4,165.4M297.6,160.4L297.6,180.4M296.8,175.4L296.8,195.4M296,190.4L296,210.4M295.1,205.4L295.1,225.4M294.3,220.4L294.3,240.4M293.5,235.4L293.5,255.4M292.7,250.4L292.7,270.4M291.9,265.4L291.9,285.4M291.1,280.4L291.1,300.4M290.3,295.4L290.3,315.4M289.5,310.4L289.5,330.4M313.9,42.5L313.9,62.5M313.1,57.5L313.1,77.5M311.5,87.5L311.5,107.5M310.7,102.5L310.7,122.5M309,132.5L309,152.5M308.2,147.5L308.2,167.5M307.4,162.5L307.4,182.5M306.6,177.5L306.6,197.5M305.8,192.5L305.8,212.5M305,207.5L305,227.5M304.2,222.5L304.2,242.5M303.4,237.5L303.4,257.5M302.6,252.5L302.6,272.5M301.8,267.5L301.8,287.5M300.9,282.5L300.9,302.5M300.1,297.5L300.1,317.5M318.4,40.7L318.4,60.7M317.6,55.7L317.6,75.7M316.8,70.7L316.8,90.7M315.2,100.7L315.2,120.7M314.4,115.7L314.4,135.7M313.6,130.7L313.6,150.7M312.8,145.7L312.8,165.7M312,160.7L312,180.7M311.1,175.7L311.1,195.7M310.3,190.7L310.3,210.7M309.5,205.7L309.5,225.7M308.7,220.7L308.7,240.7M307.9,235.7L307.9,255.7M307.1,250.7L307.1,270.7M306.3,265.7L306.3,285.7M305.5,280.7L305.5,300.7M304.7,295.7L304.7,315.7M303.9,310.7L303.9,330.7M322.9,37.5L322.9,57.5M321.3,67.5L321.3,87.5M320.5,82.5L320.5,102.5M319.7,97.5L319.7,117.5M318.9,112.5L318.9,132.5M318.1,127.5L318.1,147.5M317.3,142.5L317.3,162.5M316.5,157.5L316.5,177.5M315.6,172.5L315.6,192.5M314.8,187.5L314.8,207.5M314,202.5L314,222.5M313.2,217.5L313.2,237.5M311.6,247.5L311.6,267.5M309.2,292.5L309.2,312.5M308.4,307.5L308.4,327.5" stroke="#2c55a8" stroke-opacity="0.72" stroke-width="1.5"/><path d="M56.7,36.3L56.7,56.3M57.5,51.3L57.5,71.3M59.1,81.3L59.1,101.3M60.7,111.3L60.7,131.3M61.5,126.3L61.5,146.3M62.4,141.3L62.4,161.3M63.2,156.3L63.2,176.3M64,171.3L64,191.3M64.8,186.3L64.8,206.3M66.4,216.3L66.4,236.3M67.2,231.3L67.2,251.3M68,246.3L68,266.3M68.8,261.3L68.8,281.3M69.6,276.3L69.6,296.3M70.5,291.3L70.5,311.3M71.3,306.3L71.3,326.3M61.6,35.7L61.6,55.7M62.5,50.7L62.5,70.7M63.3,65.7L63.3,85.7M64.1,80.7L64.1,100.7M64.9,95.7L64.9,115.7M65.7,110.7L65.7,130.7M66.5,125.7L66.5,145.7M67.3,140.7L67.3,160.7M68.9,170.7L68.9,190.7M70.6,200.7L70.6,220.7M71.4,215.7L71.4,235.7M72.2,230.7L72.2,250.7M73,245.7L73,265.7M74.6,275.7L74.6,295.7M75.4,290.7L75.4,310.7M67.4,75.7L67.4,95.7M69.1,105.7L69.1,125.7M69.9,120.7L69.9,140.7M70.7,135.7L70.7,155.7M71.5,150.7L71.5,170.7M72.3,165.7L72.3,185.7M73.1,180.7L73.1,200.7M73.9,195.7L73.9,215.7M74.7,210.7L74.7,230.7M75.5,225.7L75.5,245.7M76.3,240.7L76.3,260.7M77.2,255.7L77.2,275.7M78,270.7L78,290.7M78.8,285.7L78.8,305.7M79.6,300.7L79.6,320.7M84.2,46.5L84.2,66.5M85,61.5L85,81.5M86.6,91.5L86.6,111.5M87.4,106.5L87.4,126.5M88.2,121.5L88.2,141.5M89,136.5L89,156.5M89.8,151.5L89.8,171.5M90.7,166.5L90.7,186.5M91.5,181.5L91.5,201.5M92.3,196.5L92.3,216.5M93.1,211.5L93.1,231.5M93.9,226.5L93.9,246.5M94.7,241.5L94.7,261.5M95.5,256.5L95.5,276.5M96.3,271.5L96.3,291.5M97.1,286.5L97.1,306.5M88.5,40.1L88.5,60.1M89.4,55.1L89.4,75.1M90.2,70.1L90.2,90.1M91,85.1L91,105.1M92.6,115.1L92.6,135.1M93.4,130.1L93.4,150.1M94.2,145.1L94.2,165.1M95,160.1L95,180.1M96.6,190.1L96.6,210.1M97.5,205.1L97.5,225.1M98.3,220.1L98.3,240.1M99.1,235.1L99.1,255.1M99.9,250.1L99.9,270.1M101.5,280.1L101.5,300.1M102.3,295.1L102.3,315.1M103.1,310.1L103.1,330.1M290.9,43L290.9,63M290.1,58L290.1,78M289.3,73L289.3,93M288.5,88L288.5,108M286.8,118L286.8,138M285.2,148L285.2,168M284.4,163L284.4,183M282.8,193L282.8,213M282,208L282,228M281.2,223L281.2,243M279.5,253L279.5,273M278.7,268L278.7,288M277.9,283L277.9,303M277.1,298L277.1,318M294.1,62L294.1,82M293.3,77L293.3,97M292.4,92L292.4,112M291.6,107L291.6,127M290.8,122L290.8,142M290,137L290,157M289.2,152L289.2,172M287.6,182L287.6,202M286.8,197L286.8,217M285.2,227L285.2,247M284.3,242L284.3,262M283.5,257L283.5,277M282.7,272L282.7,292M281.9,287L281.9,307M281.1,302L281.1,322" stroke="#3575bf" stroke-opacity="0.72" stroke-width="1.5"/><path d="M39.6,37.2L39.6,57.2M40.4,52.2L40.4,72.2M41.2,67.2L41.2,87.2M42,82.2L42,102.2M42.8,97.2L42.8,117.2M43.6,112.2L43.6,132.2M44.4,127.2L44.4,147.2M45.2,142.2L45.2,162.2M46.1,157.2L46.1,177.2M46.9,172.2L46.9,192.2M48.5,202.2L48.5,222.2M49.3,217.2L49.3,237.2M50.1,232.2L50.1,252.2M50.9,247.2L50.9,267.2M51.7,262.2L51.7,282.2M52.5,277.2L52.5,297.2M53.3,292.2L53.3,312.2M70.5,47.6L70.5,67.6M71.3,62.6L71.3,82.6M72.1,77.6L72.1,97.6M72.9,92.6L72.9,112.6M73.8,107.6L73.8,127.6M74.6,122.6L74.6,142.6M75.4,137.6L75.4,157.6M76.2,152.6L76.2,172.6M77,167.6L77,187.6M77.8,182.6L77.8,202.6M78.6,197.6L78.6,217.6M79.4,212.6L79.4,232.6M80.2,227.6L80.2,247.6M81,242.6L81,262.6M81.9,257.6L81.9,277.6M82.7,272.6L82.7,292.6M83.5,287.6L83.5,307.6M84.3,302.6L84.3,322.6M259.6,45.8L259.6,65.8M258.8,60.8L258.8,80.8M257.9,75.8L257.9,95.8M257.1,90.8L257.1,110.8M256.3,105.8L256.3,125.8M255.5,120.8L255.5,140.8M254.7,135.8L254.7,155.8M253.9,150.8L253.9,170.8M253.1,165.8L253.1,185.8M251.5,195.8L251.5,215.8M250.7,210.8L250.7,230.8M249.8,225.8L249.8,245.8M249,240.8L249,260.8M248.2,255.8L248.2,275.8M247.4,270.8L247.4,290.8M246.6,285.8L246.6,305.8M245.8,300.8L245.8,320.8M263.4,57.7L263.4,77.7M262.6,72.7L262.6,92.7M261.8,87.7L261.8,107.7M261,102.7L261,122.7M260.2,117.7L260.2,137.7M259.4,132.7L259.4,152.7M258.5,147.7L258.5,167.7M257.7,162.7L257.7,182.7M256.9,177.7L256.9,197.7M256.1,192.7L256.1,212.7M255.3,207.7L255.3,227.7M254.5,222.7L254.5,242.7M253.7,237.7L253.7,257.7M252.9,252.7L252.9,272.7M252.1,267.7L252.1,287.7M251.3,282.7L251.3,302.7M272.3,61.8L272.3,81.8M271.5,76.8L271.5,96.8M269.9,106.8L269.9,126.8M269.1,121.8L269.1,141.8M268.3,136.8L268.3,156.8M267.4,151.8L267.4,171.8M266.6,166.8L266.6,186.8M265.8,181.8L265.8,201.8M265,196.8L265,216.8M264.2,211.8L264.2,231.8M263.4,226.8L263.4,246.8M262.6,241.8L262.6,261.8M261,271.8L261,291.8M259.3,301.8L259.3,321.8M278.1,44.7L278.1,64.7M277.3,59.7L277.3,79.7M276.5,74.7L276.5,94.7M275.6,89.7L275.6,109.7M274.8,104.7L274.8,124.7M274,119.7L274,139.7M273.2,134.7L273.2,154.7M272.4,149.7L272.4,169.7M271.6,164.7L271.6,184.7M270.8,179.7L270.8,199.7M269.2,209.7L269.2,229.7M268.4,224.7L268.4,244.7M266.7,254.7L266.7,274.7M265.9,269.7L265.9,289.7M265.1,284.7L265.1,304.7M264.3,299.7L264.3,319.7M286.4,55.8L286.4,75.8M285.6,70.8L285.6,90.8M284.8,85.8L284.8,105.8M284,100.8L284,120.8M283.1,115.8L283.1,135.8M282.3,130.8L282.3,150.8M281.5,145.8L281.5,165.8M280.7,160.8L280.7,180.8M279.1,190.8L279.1,210.8M278.3,205.8L278.3,225.8M277.5,220.8L277.5,240.8M275.9,250.8L275.9,270.8M274.2,280.8L274.2,300.8M273.4,295.8L273.4,315.8M272.6,310.8L272.6,330.8" stroke="#2db5ea" stroke-opacity="0.72" stroke-width="1.5"/><path d="M35.2,43.4L35.2,63.4M36,58.4L36,78.4M36.8,73.4L36.8,93.4M37.6,88.4L37.6,108.4M38.4,103.4L38.4,123.4M39.2,118.4L39.2,138.4M40,133.4L40,153.4M40.9,148.4L40.9,168.4M41.7,163.4L41.7,183.4M42.5,178.4L42.5,198.4M44.1,208.4L44.1,228.4M45.7,238.4L45.7,258.4M46.5,253.4L46.5,273.4M47.3,268.4L47.3,288.4M48.1,283.4L48.1,303.4M49,298.4L49,318.4M43.9,38.7L43.9,58.7M44.7,53.7L44.7,73.7M45.5,68.7L45.5,88.7M46.3,83.7L46.3,103.7M47.2,98.7L47.2,118.7M48,113.7L48,133.7M48.8,128.7L48.8,148.7M49.6,143.7L49.6,163.7M51.2,173.7L51.2,193.7M52,188.7L52,208.7M53.6,218.7L53.6,238.7M54.4,233.7L54.4,253.7M55.3,248.7L55.3,268.7M57.7,293.7L57.7,313.7M58.5,308.7L58.5,328.7M48.1,45.1L48.1,65.1M48.9,60.1L48.9,80.1M49.7,75.1L49.7,95.1M50.5,90.1L50.5,110.1M51.3,105.1L51.3,125.1M53,135.1L53,155.1M54.6,165.1L54.6,185.1M55.4,180.1L55.4,200.1M56.2,195.1L56.2,215.1M57,210.1L57,230.1M57.8,225.1L57.8,245.1M58.6,240.1L58.6,260.1M59.4,255.1L59.4,275.1M60.3,270.1L60.3,290.1M61.9,300.1L61.9,320.1M268.7,48L268.7,68M267.9,63L267.9,83M266.3,93L266.3,113M265.5,108L265.5,128M264.7,123L264.7,143M263.9,138L263.9,158M262.3,168L262.3,188M261.4,183L261.4,203M260.6,198L260.6,218M259,228L259,248M258.2,243L258.2,263M255.8,288L255.8,308M255,303L255,323" stroke="#6ec6d6" stroke-opacity="0.72" stroke-width="1.5"/><path d="M23.7,74.5L23.7,94.5M24.5,89.5L24.5,109.5M25.4,104.5L25.4,124.5M27,134.5L27,154.5M27.8,149.5L27.8,169.5M28.6,164.5L28.6,184.5M29.4,179.5L29.4,199.5M30.2,194.5L30.2,214.5M31.8,224.5L31.8,244.5M32.6,239.5L32.6,259.5M33.5,254.5L33.5,274.5M34.3,269.5L34.3,289.5M35.1,284.5L35.1,304.5M30.5,42.6L30.5,62.6M32.1,72.6L32.1,92.6M32.9,87.6L32.9,107.6M33.7,102.6L33.7,122.6M34.6,117.6L34.6,137.6M35.4,132.6L35.4,152.6M37,162.6L37,182.6M37.8,177.6L37.8,197.6M38.6,192.6L38.6,212.6M39.4,207.6L39.4,227.6M40.2,222.6L40.2,242.6M41,237.6L41,257.6M41.8,252.6L41.8,272.6M42.7,267.6L42.7,287.6M43.5,282.6L43.5,302.6M233.7,41.4L233.7,61.4M232.9,56.4L232.9,76.4M232.1,71.4L232.1,91.4M231.3,86.4L231.3,106.4M230.5,101.4L230.5,121.4M229.7,116.4L229.7,136.4M228.9,131.4L228.9,151.4M228.1,146.4L228.1,166.4M227.3,161.4L227.3,181.4M226.4,176.4L226.4,196.4M225.6,191.4L225.6,211.4M224,221.4L224,241.4M223.2,236.4L223.2,256.4M222.4,251.4L222.4,271.4M221.6,266.4L221.6,286.4M220.8,281.4L220.8,301.4M220,296.4L220,316.4M237.6,41.5L237.6,61.5M235.9,71.5L235.9,91.5M235.1,86.5L235.1,106.5M234.3,101.5L234.3,121.5M233.5,116.5L233.5,136.5M232.7,131.5L232.7,151.5M231.9,146.5L231.9,166.5M231.1,161.5L231.1,181.5M230.3,176.5L230.3,196.5M229.5,191.5L229.5,211.5M228.7,206.5L228.7,226.5M227.8,221.5L227.8,241.5M227,236.5L227,256.5M226.2,251.5L226.2,271.5M224.6,281.5L224.6,301.5M223.8,296.5L223.8,316.5M241.7,48.8L241.7,68.8M240.9,63.8L240.9,83.8M240.1,78.8L240.1,98.8M239.3,93.8L239.3,113.8M238.5,108.8L238.5,128.8M237.7,123.8L237.7,143.8M236.9,138.8L236.9,158.8M236.1,153.8L236.1,173.8M235.3,168.8L235.3,188.8M234.5,183.8L234.5,203.8M233.6,198.8L233.6,218.8M232.8,213.8L232.8,233.8M232,228.8L232,248.8M231.2,243.8L231.2,263.8M228,303.8L228,323.8M246.4,48.8L246.4,68.8M245.6,63.8L245.6,83.8M244.8,78.8L244.8,98.8M244,93.8L244,113.8M243.2,108.8L243.2,128.8M242.4,123.8L242.4,143.8M240.8,153.8L240.8,173.8M239.9,168.8L239.9,188.8M238.3,198.8L238.3,218.8M237.5,213.8L237.5,233.8M236.7,228.8L236.7,248.8M235.9,243.8L235.9,263.8M234.3,273.8L234.3,293.8M250.9,46.9L250.9,66.9M250.1,61.9L250.1,81.9M249.2,76.9L249.2,96.9M248.4,91.9L248.4,111.9M247.6,106.9L247.6,126.9M246.8,121.9L246.8,141.9M245.2,151.9L245.2,171.9M244.4,166.9L244.4,186.9M243.6,181.9L243.6,201.9M242.8,196.9L242.8,216.9M242,211.9L242,231.9M241.1,226.9L241.1,246.9M240.3,241.9L240.3,261.9M239.5,256.9L239.5,276.9M238.7,271.9L238.7,291.9M237.9,286.9L237.9,306.9M237.1,301.9L237.1,321.9" stroke="#6cbba6" stroke-opacity="0.72" stroke-width="1.5"/><path d="M23.9,243.3L23.9,263.3M24.7,258.3L24.7,278.3M25.5,273.3L25.5,293.3M26.4,288.3L26.4,308.3M27.2,303.3L27.2,323.3M23.7,170.7L23.7,190.7M24.5,185.7L24.5,205.7M25.3,200.7L25.3,220.7M26.1,215.7L26.1,235.7M26.9,230.7L26.9,250.7M27.7,245.7L27.7,265.7M28.6,260.7L28.6,280.7M29.4,275.7L29.4,295.7M30.2,290.7L30.2,310.7M219.9,47.2L219.9,67.2M219.1,62.2L219.1,82.2M218.3,77.2L218.3,97.2M217.5,92.2L217.5,112.2M216.7,107.2L216.7,127.2M215.9,122.2L215.9,142.2M214.3,152.2L214.3,172.2M213.5,167.2L213.5,187.2M210.2,227.2L210.2,247.2M209.4,242.2L209.4,262.2M208.6,257.2L208.6,277.2M207.8,272.2L207.8,292.2M207,287.2L207,307.2M206.2,302.2L206.2,322.2M416.7,37.7L416.7,57.7M418.3,67.7L418.3,87.7M420.8,112.7L420.8,132.7M421.6,127.7L421.6,147.7M422.4,142.7L422.4,162.7M423.2,157.7L423.2,177.7M424,172.7L424,192.7M424.8,187.7L424.8,207.7M425.6,202.7L425.6,222.7M426.4,217.7L426.4,237.7M427.2,232.7L427.2,252.7M428.1,247.7L428.1,267.7M428.9,262.7L428.9,282.7M421.3,47.2L421.3,67.2M422.1,62.2L422.1,82.2M423,77.2L423,97.2M423.8,92.2L423.8,112.2M424.6,107.2L424.6,127.2M425.4,122.2L425.4,142.2M426.2,137.2L426.2,157.2M427,152.2L427,172.2M427.8,167.2L427.8,187.2M428.6,182.2L428.6,202.2M429.4,197.2L429.4,217.2" stroke="#6cb773" stroke-opacity="0.72" stroke-width="1.5"/><path d="M197.2,46.4L197.2,66.4M196.4,61.4L196.4,81.4M195.6,76.4L195.6,96.4M194.8,91.4L194.8,111.4M194,106.4L194,126.4M193.2,121.4L193.2,141.4M192.4,136.4L192.4,156.4M191.5,151.4L191.5,171.4M190.7,166.4L190.7,186.4M189.9,181.4L189.9,201.4M189.1,196.4L189.1,216.4M188.3,211.4L188.3,231.4M187.5,226.4L187.5,246.4M186.7,241.4L186.7,261.4M185.9,256.4L185.9,276.4M185.1,271.4L185.1,291.4M183.4,301.4L183.4,321.4M211.4,38.7L211.4,58.7M210.6,53.7L210.6,73.7M209.8,68.7L209.8,88.7M209,83.7L209,103.7M208.1,98.7L208.1,118.7M207.3,113.7L207.3,133.7M206.5,128.7L206.5,148.7M205.7,143.7L205.7,163.7M204.9,158.7L204.9,178.7M204.1,173.7L204.1,193.7M203.3,188.7L203.3,208.7M202.5,203.7L202.5,223.7M201.7,218.7L201.7,238.7M200.9,233.7L200.9,253.7M200,248.7L200,268.7M199.2,263.7L199.2,283.7M198.4,278.7L198.4,298.7M197.6,293.7L197.6,313.7M196.8,308.7L196.8,328.7M215.4,41.8L215.4,61.8M214.6,56.8L214.6,76.8M213.8,71.8L213.8,91.8M213,86.8L213,106.8M211.4,116.8L211.4,136.8M210.5,131.8L210.5,151.8M209.7,146.8L209.7,166.8M208.9,161.8L208.9,181.8M207.3,191.8L207.3,211.8M206.5,206.8L206.5,226.8M205.7,221.8L205.7,241.8M204.9,236.8L204.9,256.8M203.3,266.8L203.3,286.8M201.6,296.8L201.6,316.8M224.5,47.7L224.5,67.7M223.7,62.7L223.7,82.7M222.9,77.7L222.9,97.7M222.1,92.7L222.1,112.7M221.3,107.7L221.3,127.7M219.6,137.7L219.6,157.7M218,167.7L218,187.7M216.4,197.7L216.4,217.7M215.6,212.7L215.6,232.7M214.8,227.7L214.8,247.7M214,242.7L214,262.7M213.2,257.7L213.2,277.7M212.3,272.7L212.3,292.7M211.5,287.7L211.5,307.7M210.7,302.7L210.7,322.7M404,39.6L404,59.6M404.8,54.6L404.8,74.6M405.6,69.6L405.6,89.6M406.4,84.6L406.4,104.6M407.3,99.6L407.3,119.6M408.1,114.6L408.1,134.6M408.9,129.6L408.9,149.6M409.7,144.6L409.7,164.6M410.5,159.6L410.5,179.6M411.3,174.6L411.3,194.6M412.1,189.6L412.1,209.6M412.9,204.6L412.9,224.6M413.7,219.6L413.7,239.6M414.5,234.6L414.5,254.6M415.4,249.6L415.4,269.6M416.2,264.6L416.2,284.6M417,279.6L417,299.6M417.8,294.6L417.8,314.6M418.6,309.6L418.6,329.6M407.8,39.1L407.8,59.1M408.6,54.1L408.6,74.1M409.4,69.1L409.4,89.1M410.2,84.1L410.2,104.1M411,99.1L411,119.1M411.8,114.1L411.8,134.1M414.3,159.1L414.3,179.1M415.1,174.1L415.1,194.1M415.9,189.1L415.9,209.1M416.7,204.1L416.7,224.1M417.5,219.1L417.5,239.1M418.3,234.1L418.3,254.1M419.1,249.1L419.1,269.1M419.9,264.1L419.9,284.1M420.7,279.1L420.7,299.1M421.6,294.1L421.6,314.1M422.4,309.1L422.4,329.1M413,46.7L413,66.7M413.8,61.7L413.8,81.7M414.6,76.7L414.6,96.7M415.4,91.7L415.4,111.7M417.1,121.7L417.1,141.7M417.9,136.7L417.9,156.7M418.7,151.7L418.7,171.7M419.5,166.7L419.5,186.7M420.3,181.7L420.3,201.7M421.1,196.7L421.1,216.7M421.9,211.7L421.9,231.7M422.7,226.7L422.7,246.7M423.5,241.7L423.5,261.7M424.4,256.7L424.4,276.7M425.2,271.7L425.2,291.7M426,286.7L426,306.7M426.8,301.7L426.8,321.7" stroke="#70b22e" stroke-opacity="0.72" stroke-width="1.5"/><path d="M189.1,41.1L189.1,61.1M188.3,56.1L188.3,76.1M186.7,86.1L186.7,106.1M185.9,101.1L185.9,121.1M185,116.1L185,136.1M184.2,131.1L184.2,151.1M182.6,161.1L182.6,181.1M181.8,176.1L181.8,196.1M181,191.1L181,211.1M180.2,206.1L180.2,226.1M179.4,221.1L179.4,241.1M177.8,251.1L177.8,271.1M176.1,281.1L176.1,301.1M193.1,41.4L193.1,61.4M192.3,56.4L192.3,76.4M191.5,71.4L191.5,91.4M190.7,86.4L190.7,106.4M189.9,101.4L189.9,121.4M189.1,116.4L189.1,136.4M188.2,131.4L188.2,151.4M187.4,146.4L187.4,166.4M186.6,161.4L186.6,181.4M185.8,176.4L185.8,196.4M185,191.4L185,211.4M184.2,206.4L184.2,226.4M183.4,221.4L183.4,241.4M182.6,236.4L182.6,256.4M181.8,251.4L181.8,271.4M181,266.4L181,286.4M180.1,281.4L180.1,301.4M179.3,296.4L179.3,316.4M207,37.7L207,57.7M206.2,52.7L206.2,72.7M203.8,97.7L203.8,117.7M203,112.7L203,132.7M202.2,127.7L202.2,147.7M201.4,142.7L201.4,162.7M200.5,157.7L200.5,177.7M199.7,172.7L199.7,192.7M198.9,187.7L198.9,207.7M198.1,202.7L198.1,222.7M197.3,217.7L197.3,237.7M196.5,232.7L196.5,252.7M195.7,247.7L195.7,267.7M194.9,262.7L194.9,282.7M194.1,277.7L194.1,297.7M193.3,292.7L193.3,312.7M192.4,307.7L192.4,327.7M390.5,34.3L390.5,54.3M391.3,49.3L391.3,69.3M392.1,64.3L392.1,84.3M392.9,79.3L392.9,99.3M393.7,94.3L393.7,114.3M394.5,109.3L394.5,129.3M395.3,124.3L395.3,144.3M396.1,139.3L396.1,159.3M396.9,154.3L396.9,174.3M397.8,169.3L397.8,189.3M398.6,184.3L398.6,204.3M399.4,199.3L399.4,219.3M400.2,214.3L400.2,234.3M401,229.3L401,249.3M401.8,244.3L401.8,264.3M402.6,259.3L402.6,279.3M403.4,274.3L403.4,294.3M404.2,289.3L404.2,309.3M394.2,39.7L394.2,59.7M395.1,54.7L395.1,74.7M395.9,69.7L395.9,89.7M396.7,84.7L396.7,104.7M397.5,99.7L397.5,119.7M398.3,114.7L398.3,134.7M399.1,129.7L399.1,149.7M399.9,144.7L399.9,164.7M400.7,159.7L400.7,179.7M402.3,189.7L402.3,209.7M403.2,204.7L403.2,224.7M404,219.7L404,239.7M404.8,234.7L404.8,254.7M405.6,249.7L405.6,269.7M406.4,264.7L406.4,284.7M407.2,279.7L407.2,299.7M408,294.7L408,314.7M408.8,309.7L408.8,329.7" stroke="#6ab226" stroke-opacity="0.72" stroke-width="1.5"/><path d="M166.5,37.7L166.5,57.7M165.7,52.7L165.7,72.7M164.9,67.7L164.9,87.7M164,82.7L164,102.7M163.2,97.7L163.2,117.7M162.4,112.7L162.4,132.7M161.6,127.7L161.6,147.7M160.8,142.7L160.8,162.7M160,157.7L160,177.7M159.2,172.7L159.2,192.7M158.4,187.7L158.4,207.7M156.8,217.7L156.8,237.7M155.9,232.7L155.9,252.7M155.1,247.7L155.1,267.7M154.3,262.7L154.3,282.7M153.5,277.7L153.5,297.7M152.7,292.7L152.7,312.7M151.9,307.7L151.9,327.7M171.3,39.1L171.3,59.1M170.5,54.1L170.5,74.1M169.7,69.1L169.7,89.1M168.9,84.1L168.9,104.1M168.1,99.1L168.1,119.1M167.3,114.1L167.3,134.1M166.5,129.1L166.5,149.1M165.7,144.1L165.7,164.1M164.8,159.1L164.8,179.1M163.2,189.1L163.2,209.1M162.4,204.1L162.4,224.1M161.6,219.1L161.6,239.1M160.8,234.1L160.8,254.1M160,249.1L160,269.1M159.2,264.1L159.2,284.1M157.6,294.1L157.6,314.1M180.5,36.3L180.5,56.3M179.7,51.3L179.7,71.3M178.8,66.3L178.8,86.3M178,81.3L178,101.3M177.2,96.3L177.2,116.3M175.6,126.3L175.6,146.3M174.8,141.3L174.8,161.3M174,156.3L174,176.3M173.2,171.3L173.2,191.3M172.4,186.3L172.4,206.3M171.6,201.3L171.6,221.3M170.7,216.3L170.7,236.3M169.9,231.3L169.9,251.3M168.3,261.3L168.3,281.3M167.5,276.3L167.5,296.3M166.7,291.3L166.7,311.3M165.9,306.3L165.9,326.3M185,35.2L185,55.2M182.6,80.2L182.6,100.2M180.2,125.2L180.2,145.2M179.4,140.2L179.4,160.2M178.6,155.2L178.6,175.2M176.1,200.2L176.1,220.2M175.3,215.2L175.3,235.2M174.5,230.2L174.5,250.2M172.9,260.2L172.9,280.2M172.1,275.2L172.1,295.2M171.3,290.2L171.3,310.2M170.5,305.2L170.5,325.2M356.1,55.1L356.1,75.1M356.9,70.1L356.9,90.1M357.7,85.1L357.7,105.1M359.3,115.1L359.3,135.1M360.1,130.1L360.1,150.1M361,145.1L361,165.1M361.8,160.1L361.8,180.1M362.6,175.1L362.6,195.1M363.4,190.1L363.4,210.1M364.2,205.1L364.2,225.1M365,220.1L365,240.1M367.4,265.1L367.4,285.1M368.2,280.1L368.2,300.1M369.9,310.1L369.9,330.1M359.5,44.6L359.5,64.6M360.3,59.6L360.3,79.6M361.1,74.6L361.1,94.6M362,89.6L362,109.6M362.8,104.6L362.8,124.6M364.4,134.6L364.4,154.6M365.2,149.6L365.2,169.6M366,164.6L366,184.6M366.8,179.6L366.8,199.6M367.6,194.6L367.6,214.6M368.4,209.6L368.4,229.6M370.1,239.6L370.1,259.6M370.9,254.6L370.9,274.6M371.7,269.6L371.7,289.6M372.5,284.6L372.5,304.6M373.3,299.6L373.3,319.6M364,41.3L364,61.3M365.6,71.3L365.6,91.3M367.2,101.3L367.2,121.3M368,116.3L368,136.3M368.8,131.3L368.8,151.3M369.6,146.3L369.6,166.3M370.5,161.3L370.5,181.3M372.1,191.3L372.1,211.3M372.9,206.3L372.9,226.3M374.5,236.3L374.5,256.3M375.3,251.3L375.3,271.3M376.9,281.3L376.9,301.3M377.7,296.3L377.7,316.3M368,40.5L368,60.5M368.8,55.5L368.8,75.5M369.6,70.5L369.6,90.5M371.3,100.5L371.3,120.5M372.1,115.5L372.1,135.5M372.9,130.5L372.9,150.5M374.5,160.5L374.5,180.5M375.3,175.5L375.3,195.5M376.1,190.5L376.1,210.5M377.7,220.5L377.7,240.5M378.5,235.5L378.5,255.5M379.4,250.5L379.4,270.5M381.8,295.5L381.8,315.5M377.5,41.2L377.5,61.2M378.3,56.2L378.3,76.2M379.1,71.2L379.1,91.2M379.9,86.2L379.9,106.2M381.5,116.2L381.5,136.2M382.3,131.2L382.3,151.2M383.1,146.2L383.1,166.2M384,161.2L384,181.2M384.8,176.2L384.8,196.2M385.6,191.2L385.6,211.2M387.2,221.2L387.2,241.2M388,236.2L388,256.2M388.8,251.2L388.8,271.2M389.6,266.2L389.6,286.2M390.4,281.2L390.4,301.2M391.2,296.2L391.2,316.2M382.4,48.6L382.4,68.6M384,78.6L384,98.6M385.7,108.6L385.7,128.6M386.5,123.6L386.5,143.6M387.3,138.6L387.3,158.6M388.1,153.6L388.1,173.6M388.9,168.6L388.9,188.6M390.5,198.6L390.5,218.6M391.3,213.6L391.3,233.6M392.1,228.6L392.1,248.6M393.8,258.6L393.8,278.6M394.6,273.6L394.6,293.6M395.4,288.6L395.4,308.6M396.2,303.6L396.2,323.6M385.7,33.9L385.7,53.9M386.6,48.9L386.6,68.9M387.4,63.9L387.4,83.9M388.2,78.9L388.2,98.9M389,93.9L389,113.9M389.8,108.9L389.8,128.9M390.6,123.9L390.6,143.9M391.4,138.9L391.4,158.9M392.2,153.9L392.2,173.9M393,168.9L393,188.9M393.8,183.9L393.8,203.9M394.7,198.9L394.7,218.9M395.5,213.9L395.5,233.9M396.3,228.9L396.3,248.9M398.7,273.9L398.7,293.9M399.5,288.9L399.5,308.9M400.3,303.9L400.3,323.9" stroke="#7ab820" stroke-opacity="0.72" stroke-width="1.5"/><path d="M153.9,43.4L153.9,63.4M153.1,58.4L153.1,78.4M152.3,73.4L152.3,93.4M151.5,88.4L151.5,108.4M150.7,103.4L150.7,123.4M149.9,118.4L149.9,138.4M149,133.4L149,153.4M148.2,148.4L148.2,168.4M145.8,193.4L145.8,213.4M145,208.4L145,228.4M144.2,223.4L144.2,243.4M143.4,238.4L143.4,258.4M142.6,253.4L142.6,273.4M140.9,283.4L140.9,303.4M140.1,298.4L140.1,318.4M158.4,39.4L158.4,59.4M157.6,54.4L157.6,74.4M156.8,69.4L156.8,89.4M155.2,99.4L155.2,119.4M154.4,114.4L154.4,134.4M153.6,129.4L153.6,149.4M152.8,144.4L152.8,164.4M151.9,159.4L151.9,179.4M151.1,174.4L151.1,194.4M150.3,189.4L150.3,209.4M149.5,204.4L149.5,224.4M148.7,219.4L148.7,239.4M147.9,234.4L147.9,254.4M147.1,249.4L147.1,269.4M146.3,264.4L146.3,284.4M145.5,279.4L145.5,299.4M143.8,309.4L143.8,329.4M161.9,46.9L161.9,66.9M160.3,76.9L160.3,96.9M159.5,91.9L159.5,111.9M158.7,106.9L158.7,126.9M156.3,151.9L156.3,171.9M155.4,166.9L155.4,186.9M153.8,196.9L153.8,216.9M153,211.9L153,231.9M152.2,226.9L152.2,246.9M151.4,241.9L151.4,261.9M150.6,256.9L150.6,276.9M149.8,271.9L149.8,291.9M149,286.9L149,306.9M148.2,301.9L148.2,321.9M336.4,34.5L336.4,54.5M337.2,49.5L337.2,69.5M338,64.5L338,84.5M338.8,79.5L338.8,99.5M339.6,94.5L339.6,114.5M340.4,109.5L340.4,129.5M342.1,139.5L342.1,159.5M342.9,154.5L342.9,174.5M343.7,169.5L343.7,189.5M344.5,184.5L344.5,204.5M345.3,199.5L345.3,219.5M346.1,214.5L346.1,234.5M348.5,259.5L348.5,279.5M349.4,274.5L349.4,294.5M351,304.5L351,324.5M352,63.5L352,83.5M353.6,93.5L353.6,113.5M354.4,108.5L354.4,128.5M356.9,153.5L356.9,173.5M357.7,168.5L357.7,188.5M359.3,198.5L359.3,218.5M360.1,213.5L360.1,233.5M360.9,228.5L360.9,248.5M363.4,273.5L363.4,293.5M364.2,288.5L364.2,308.5M365,303.5L365,323.5" stroke="#8cbf1a" stroke-opacity="0.72" stroke-width="1.5"/><path d="M135,44.9L135,64.9M134.2,59.9L134.2,79.9M133.4,74.9L133.4,94.9M132.6,89.9L132.6,109.9M131.8,104.9L131.8,124.9M131,119.9L131,139.9M130.1,134.9L130.1,154.9M129.3,149.9L129.3,169.9M128.5,164.9L128.5,184.9M127.7,179.9L127.7,199.9M126.9,194.9L126.9,214.9M126.1,209.9L126.1,229.9M125.3,224.9L125.3,244.9M124.5,239.9L124.5,259.9M123.7,254.9L123.7,274.9M122.9,269.9L122.9,289.9M122,284.9L122,304.9M121.2,299.9L121.2,319.9M139.3,46.1L139.3,66.1M138.5,61.1L138.5,81.1M137.7,76.1L137.7,96.1M136.9,91.1L136.9,111.1M136.1,106.1L136.1,126.1M135.3,121.1L135.3,141.1M134.5,136.1L134.5,156.1M133.6,151.1L133.6,171.1M132.8,166.1L132.8,186.1M132,181.1L132,201.1M131.2,196.1L131.2,216.1M130.4,211.1L130.4,231.1M129.6,226.1L129.6,246.1M128,256.1L128,276.1M127.2,271.1L127.2,291.1M126.4,286.1L126.4,306.1M125.5,301.1L125.5,321.1M143.9,44.3L143.9,64.3M143.1,59.3L143.1,79.3M142.3,74.3L142.3,94.3M141.5,89.3L141.5,109.3M139.9,119.3L139.9,139.3M139.1,134.3L139.1,154.3M138.2,149.3L138.2,169.3M137.4,164.3L137.4,184.3M136.6,179.3L136.6,199.3M135.8,194.3L135.8,214.3M135,209.3L135,229.3M133.4,239.3L133.4,259.3M132.6,254.3L132.6,274.3M131.8,269.3L131.8,289.3M131,284.3L131,304.3M130.1,299.3L130.1,319.3M329.1,58.3L329.1,78.3M329.9,73.3L329.9,93.3M330.7,88.3L330.7,108.3M332.3,118.3L332.3,138.3M333.1,133.3L333.1,153.3M333.9,148.3L333.9,168.3M334.7,163.3L334.7,183.3M335.5,178.3L335.5,198.3M336.3,193.3L336.3,213.3M337.2,208.3L337.2,228.3M338.8,238.3L338.8,258.3M339.6,253.3L339.6,273.3M340.4,268.3L340.4,288.3M342,298.3L342,318.3M332.7,45.4L332.7,65.4M333.5,60.4L333.5,80.4M334.3,75.4L334.3,95.4M337.5,135.4L337.5,155.4M338.4,150.4L338.4,170.4M339.2,165.4L339.2,185.4M340.8,195.4L340.8,215.4M341.6,210.4L341.6,230.4M342.4,225.4L342.4,245.4M343.2,240.4L343.2,260.4M344,255.4L344,275.4M345.6,285.4L345.6,305.4M346.5,300.4L346.5,320.4M342,48.3L342,68.3M342.8,63.3L342.8,83.3M343.6,78.3L343.6,98.3M344.4,93.3L344.4,113.3M345.2,108.3L345.2,128.3M346,123.3L346,143.3M347.6,153.3L347.6,173.3M348.4,168.3L348.4,188.3M350.1,198.3L350.1,218.3M350.9,213.3L350.9,233.3M351.7,228.3L351.7,248.3M352.5,243.3L352.5,263.3M354.1,273.3L354.1,293.3M354.9,288.3L354.9,308.3M355.7,303.3L355.7,323.3" stroke="#bcd123" stroke-opacity="0.72" stroke-width="1.5"/><path d="M117.5,44.3L117.5,64.3M115.9,74.3L115.9,94.3M115.1,89.3L115.1,109.3M114.3,104.3L114.3,124.3M113.5,119.3L113.5,139.3M112.7,134.3L112.7,154.3M111.8,149.3L111.8,169.3M111,164.3L111,184.3M110.2,179.3L110.2,199.3M108.6,209.3L108.6,229.3M107.8,224.3L107.8,244.3M106.2,254.3L106.2,274.3M104.6,284.3L104.6,304.3M125.7,54.8L125.7,74.8M124.9,69.8L124.9,89.8M124.1,84.8L124.1,104.8M123.3,99.8L123.3,119.8M122.5,114.8L122.5,134.8M120.9,144.8L120.9,164.8M120,159.8L120,179.8M119.2,174.8L119.2,194.8M118.4,189.8L118.4,209.8M117.6,204.8L117.6,224.8M116,234.8L116,254.8M115.2,249.8L115.2,269.8M114.4,264.8L114.4,284.8M113.6,279.8L113.6,299.8M112.8,294.8L112.8,314.8M111.9,309.8L111.9,329.8M131.7,38.9L131.7,58.9M130.9,53.9L130.9,73.9M130.1,68.9L130.1,88.9M129.3,83.9L129.3,103.9M128.5,98.9L128.5,118.9M127.7,113.9L127.7,133.9M126.9,128.9L126.9,148.9M126,143.9L126,163.9M125.2,158.9L125.2,178.9M124.4,173.9L124.4,193.9M123.6,188.9L123.6,208.9M120.4,248.9L120.4,268.9M119.6,263.9L119.6,283.9M118.8,278.9L118.8,298.9M117.9,293.9L117.9,313.9M310.5,44.1L310.5,64.1M311.3,59.1L311.3,79.1M312.1,74.1L312.1,94.1M312.9,89.1L312.9,109.1M313.7,104.1L313.7,124.1M315.4,134.1L315.4,154.1M316.2,149.1L316.2,169.1M317,164.1L317,184.1M317.8,179.1L317.8,199.1M318.6,194.1L318.6,214.1M319.4,209.1L319.4,229.1M321,239.1L321,259.1M321.8,254.1L321.8,274.1M322.7,269.1L322.7,289.1M323.5,284.1L323.5,304.1M315.1,41.5L315.1,61.5M315.9,56.5L315.9,76.5M317.5,86.5L317.5,106.5M318.3,101.5L318.3,121.5M319.1,116.5L319.1,136.5M319.9,131.5L319.9,151.5M320.8,146.5L320.8,166.5M321.6,161.5L321.6,181.5M322.4,176.5L322.4,196.5M323.2,191.5L323.2,211.5M324,206.5L324,226.5M324.8,221.5L324.8,241.5M325.6,236.5L325.6,256.5M326.4,251.5L326.4,271.5M327.2,266.5L327.2,286.5M328,281.5L328,301.5M328.9,296.5L328.9,316.5M324,46.2L324,66.2M325.6,76.2L325.6,96.2M326.4,91.2L326.4,111.2M327.3,106.2L327.3,126.2M328.1,121.2L328.1,141.2M328.9,136.2L328.9,156.2M329.7,151.2L329.7,171.2M330.5,166.2L330.5,186.2M331.3,181.2L331.3,201.2M332.9,211.2L332.9,231.2M333.7,226.2L333.7,246.2M334.5,241.2L334.5,261.2M335.4,256.2L335.4,276.2M336.2,271.2L336.2,291.2M337,286.2L337,306.2" stroke="#eee43a" stroke-opacity="0.72" stroke-width="1.5"/><path d="M87.2,38L87.2,58M86.4,53L86.4,73M85.6,68L85.6,88M84.8,83L84.8,103M84,98L84,118M83.2,113L83.2,133M82.4,128L82.4,148M81.6,143L81.6,163M80.7,158L80.7,178M79.9,173L79.9,193M78.3,203L78.3,223M77.5,218L77.5,238M76.7,233L76.7,253M75.9,248L75.9,268M75.1,263L75.1,283M74.3,278L74.3,298M73.5,293L73.5,313M72.6,308L72.6,328M90.7,47.7L90.7,67.7M89.9,62.7L89.9,82.7M89.1,77.7L89.1,97.7M88.3,92.7L88.3,112.7M86.6,122.7L86.6,142.7M85.8,137.7L85.8,157.7M85,152.7L85,172.7M83.4,182.7L83.4,202.7M82.6,197.7L82.6,217.7M81.8,212.7L81.8,232.7M81,227.7L81,247.7M80.2,242.7L80.2,262.7M79.3,257.7L79.3,277.7M78.5,272.7L78.5,292.7M77.7,287.7L77.7,307.7M76.9,302.7L76.9,322.7M99.3,48.7L99.3,68.7M98.5,63.7L98.5,83.7M97.7,78.7L97.7,98.7M96.9,93.7L96.9,113.7M95.3,123.7L95.3,143.7M93.7,153.7L93.7,173.7M92.8,168.7L92.8,188.7M92,183.7L92,203.7M91.2,198.7L91.2,218.7M89.6,228.7L89.6,248.7M88.8,243.7L88.8,263.7M88,258.7L88,278.7M87.2,273.7L87.2,293.7M86.4,288.7L86.4,308.7M85.6,303.7L85.6,323.7M109.4,41.8L109.4,61.8M108.6,56.8L108.6,76.8M107.8,71.8L107.8,91.8M106.2,101.8L106.2,121.8M105.4,116.8L105.4,136.8M104.6,131.8L104.6,151.8M103.8,146.8L103.8,166.8M102.2,176.8L102.2,196.8M101.3,191.8L101.3,211.8M100.5,206.8L100.5,226.8M99.7,221.8L99.7,241.8M98.9,236.8L98.9,256.8M98.1,251.8L98.1,271.8M97.3,266.8L97.3,286.8M96.5,281.8L96.5,301.8M95.7,296.8L95.7,316.8M112.5,57.8L112.5,77.8M111.7,72.8L111.7,92.8M110.9,87.8L110.9,107.8M110.1,102.8L110.1,122.8M109.3,117.8L109.3,137.8M108.5,132.8L108.5,152.8M106.9,162.8L106.9,182.8M106,177.8L106,197.8M105.2,192.8L105.2,212.8M103.6,222.8L103.6,242.8M102,252.8L102,272.8M101.2,267.8L101.2,287.8M99.6,297.8L99.6,317.8M297.4,52.6L297.4,72.6M298.2,67.6L298.2,87.6M299,82.6L299,102.6M299.8,97.6L299.8,117.6M300.6,112.6L300.6,132.6M301.4,127.6L301.4,147.6M302.2,142.6L302.2,162.6M303,157.6L303,177.6M303.8,172.6L303.8,192.6M304.6,187.6L304.6,207.6M305.5,202.6L305.5,222.6M306.3,217.6L306.3,237.6M307.1,232.6L307.1,252.6M307.9,247.6L307.9,267.6M308.7,262.6L308.7,282.6M309.5,277.6L309.5,297.6M310.3,292.6L310.3,312.6M311.1,307.6L311.1,327.6M302.5,48.9L302.5,68.9M304.9,93.9L304.9,113.9M305.7,108.9L305.7,128.9M306.5,123.9L306.5,143.9M307.4,138.9L307.4,158.9M308.2,153.9L308.2,173.9M309,168.9L309,188.9M309.8,183.9L309.8,203.9M310.6,198.9L310.6,218.9M311.4,213.9L311.4,233.9M312.2,228.9L312.2,248.9M313,243.9L313,263.9M313.8,258.9L313.8,278.9M314.6,273.9L314.6,293.9M315.5,288.9L315.5,308.9M316.3,303.9L316.3,323.9M306.4,44.2L306.4,64.2M307.2,59.2L307.2,79.2M308,74.2L308,94.2M308.8,89.2L308.8,109.2M309.6,104.2L309.6,124.2M310.4,119.2L310.4,139.2M312,149.2L312,169.2M313.7,179.2L313.7,199.2M315.3,209.2L315.3,229.2M316.1,224.2L316.1,244.2M316.9,239.2L316.9,259.2M318.5,269.2L318.5,289.2M319.3,284.2L319.3,304.2M320.1,299.2L320.1,319.2" stroke="#f6b41c" stroke-opacity="0.72" stroke-width="1.5"/><path d="M104.3,42.4L104.3,62.4M103.4,57.4L103.4,77.4M102.6,72.4L102.6,92.4M101,102.4L101,122.4M100.2,117.4L100.2,137.4M99.4,132.4L99.4,152.4M98.6,147.4L98.6,167.4M97.8,162.4L97.8,182.4M96.2,192.4L96.2,212.4M95.3,207.4L95.3,227.4M94.5,222.4L94.5,242.4M93.7,237.4L93.7,257.4M92.9,252.4L92.9,272.4M92.1,267.4L92.1,287.4M91.3,282.4L91.3,302.4M90.5,297.4L90.5,317.4M257,44L257,64M257.8,59L257.8,79M259.4,89L259.4,109M261.9,134L261.9,154M262.7,149L262.7,169M263.5,164L263.5,184M265.9,209L265.9,229M266.7,224L266.7,244M267.5,239L267.5,259M268.4,254L268.4,274M269.2,269L269.2,289M270,284L270,304M270.8,299L270.8,319M270.1,34.9L270.1,54.9M270.9,49.9L270.9,69.9M271.7,64.9L271.7,84.9M272.5,79.9L272.5,99.9M274.9,124.9L274.9,144.9M275.7,139.9L275.7,159.9M276.5,154.9L276.5,174.9M277.4,169.9L277.4,189.9M279,199.9L279,219.9M279.8,214.9L279.8,234.9M280.6,229.9L280.6,249.9M282.2,259.9L282.2,279.9M283,274.9L283,294.9M283.8,289.9L283.8,309.9M284.6,304.9L284.6,324.9M274.6,34.1L274.6,54.1M275.4,49.1L275.4,69.1M276.2,64.1L276.2,84.1M277,79.1L277,99.1M277.8,94.1L277.8,114.1M278.6,109.1L278.6,129.1M279.4,124.1L279.4,144.1M280.3,139.1L280.3,159.1M282.7,184.1L282.7,204.1M283.5,199.1L283.5,219.1M284.3,214.1L284.3,234.1M285.1,229.1L285.1,249.1M286.7,259.1L286.7,279.1M287.5,274.1L287.5,294.1M288.4,289.1L288.4,309.1M289.2,304.1L289.2,324.1M279.2,42.6L279.2,62.6M280.1,57.6L280.1,77.6M280.9,72.6L280.9,92.6M281.7,87.6L281.7,107.6M282.5,102.6L282.5,122.6M283.3,117.6L283.3,137.6M284.1,132.6L284.1,152.6M285.7,162.6L285.7,182.6M286.5,177.6L286.5,197.6M287.3,192.6L287.3,212.6M288.2,207.6L288.2,227.6M290.6,252.6L290.6,272.6M291.4,267.6L291.4,287.6M292.2,282.6L292.2,302.6M293,297.6L293,317.6M284.5,60.8L284.5,80.8M285.3,75.8L285.3,95.8M286.2,90.8L286.2,110.8M287,105.8L287,125.8M287.8,120.8L287.8,140.8M289.4,150.8L289.4,170.8M291.8,195.8L291.8,215.8M292.6,210.8L292.6,230.8M293.4,225.8L293.4,245.8M294.3,240.8L294.3,260.8M295.1,255.8L295.1,275.8M297.5,300.8L297.5,320.8M287.6,34.9L287.6,54.9M288.4,49.9L288.4,69.9M289.2,64.9L289.2,84.9M290,79.9L290,99.9M290.8,94.9L290.8,114.9M291.6,109.9L291.6,129.9M292.4,124.9L292.4,144.9M294,154.9L294,174.9M294.9,169.9L294.9,189.9M295.7,184.9L295.7,204.9M298.1,229.9L298.1,249.9M298.9,244.9L298.9,264.9M299.7,259.9L299.7,279.9M300.5,274.9L300.5,294.9M301.3,289.9L301.3,309.9M302.1,304.9L302.1,324.9" stroke="#ee7d1f" stroke-opacity="0.72" stroke-width="1.5"/><path d="M59.5,46.5L59.5,66.5M57,91.5L57,111.5M56.2,106.5L56.2,126.5M55.4,121.5L55.4,141.5M54.6,136.5L54.6,156.5M53,166.5L53,186.5M52.2,181.5L52.2,201.5M51.4,196.5L51.4,216.5M50.6,211.5L50.6,231.5M49.7,226.5L49.7,246.5M48.9,241.5L48.9,261.5M48.1,256.5L48.1,276.5M47.3,271.5L47.3,291.5M46.5,286.5L46.5,306.5M45.7,301.5L45.7,321.5M64.6,34.7L64.6,54.7M63,64.7L63,84.7M62.1,79.7L62.1,99.7M61.3,94.7L61.3,114.7M60.5,109.7L60.5,129.7M59.7,124.7L59.7,144.7M58.9,139.7L58.9,159.7M57.3,169.7L57.3,189.7M56.5,184.7L56.5,204.7M55.7,199.7L55.7,219.7M54,229.7L54,249.7M53.2,244.7L53.2,264.7M52.4,259.7L52.4,279.7M51.6,274.7L51.6,294.7M50.8,289.7L50.8,309.7M50,304.7L50,324.7M73.8,44.9L73.8,64.9M73,59.9L73,79.9M72.2,74.9L72.2,94.9M71.4,89.9L71.4,109.9M70.6,104.9L70.6,124.9M69.8,119.9L69.8,139.9M69,134.9L69,154.9M68.2,149.9L68.2,169.9M67.3,164.9L67.3,184.9M65.7,194.9L65.7,214.9M64.9,209.9L64.9,229.9M64.1,224.9L64.1,244.9M62.5,254.9L62.5,274.9M61.7,269.9L61.7,289.9M60.9,284.9L60.9,304.9M60.1,299.9L60.1,319.9M77.1,54.4L77.1,74.4M76.3,69.4L76.3,89.4M75.5,84.4L75.5,104.4M74.6,99.4L74.6,119.4M73.8,114.4L73.8,134.4M73,129.4L73,149.4M72.2,144.4L72.2,164.4M71.4,159.4L71.4,179.4M70.6,174.4L70.6,194.4M69.8,189.4L69.8,209.4M69,204.4L69,224.4M68.2,219.4L68.2,239.4M67.4,234.4L67.4,254.4M66.5,249.4L66.5,269.4M64.9,279.4L64.9,299.4M64.1,294.4L64.1,314.4M63.3,309.4L63.3,329.4M82.6,40.2L82.6,60.2M81.8,55.2L81.8,75.2M81,70.2L81,90.2M80.2,85.2L80.2,105.2M79.4,100.2L79.4,120.2M77.7,130.2L77.7,150.2M76.9,145.2L76.9,165.2M76.1,160.2L76.1,180.2M75.3,175.2L75.3,195.2M74.5,190.2L74.5,210.2M72.9,220.2L72.9,240.2M72.1,235.2L72.1,255.2M71.3,250.2L71.3,270.2M70.4,265.2L70.4,285.2M69.6,280.2L69.6,300.2M68.8,295.2L68.8,315.2M68,310.2L68,330.2M248.7,45.8L248.7,65.8M251.1,90.8L251.1,110.8M251.9,105.8L251.9,125.8M252.8,120.8L252.8,140.8M253.6,135.8L253.6,155.8M254.4,150.8L254.4,170.8M255.2,165.8L255.2,185.8M256,180.8L256,200.8M256.8,195.8L256.8,215.8M257.6,210.8L257.6,230.8M258.4,225.8L258.4,245.8M259.2,240.8L259.2,260.8M260,255.8L260,275.8M260.9,270.8L260.9,290.8M253.7,69.3L253.7,89.3M254.5,84.3L254.5,104.3M255.4,99.3L255.4,119.3M256.2,114.3L256.2,134.3M257,129.3L257,149.3M257.8,144.3L257.8,164.3M260.2,189.3L260.2,209.3M261,204.3L261,224.3M262.6,234.3L262.6,254.3M263.5,249.3L263.5,269.3M264.3,264.3L264.3,284.3M265.1,279.3L265.1,299.3M265.9,294.3L265.9,314.3M266.7,309.3L266.7,329.3M262.2,62.9L262.2,82.9M263.1,77.9L263.1,97.9M263.9,92.9L263.9,112.9M264.7,107.9L264.7,127.9M265.5,122.9L265.5,142.9M266.3,137.9L266.3,157.9M267.1,152.9L267.1,172.9M267.9,167.9L267.9,187.9M268.7,182.9L268.7,202.9M269.5,197.9L269.5,217.9M270.3,212.9L270.3,232.9M272,242.9L272,262.9M272.8,257.9L272.8,277.9M273.6,272.9L273.6,292.9M274.4,287.9L274.4,307.9M275.2,302.9L275.2,322.9" stroke="#e8481f" stroke-opacity="0.72" stroke-width="1.5"/><path d="M50.7,46.2L50.7,66.2M49.9,61.2L49.9,81.2M49.1,76.2L49.1,96.2M48.3,91.2L48.3,111.2M47.5,106.2L47.5,126.2M46.6,121.2L46.6,141.2M45,151.2L45,171.2M44.2,166.2L44.2,186.2M42.6,196.2L42.6,216.2M41.8,211.2L41.8,231.2M41,226.2L41,246.2M38.5,271.2L38.5,291.2M37.7,286.2L37.7,306.2M36.9,301.2L36.9,321.2M55.3,47.4L55.3,67.4M54.5,62.4L54.5,82.4M53.6,77.4L53.6,97.4M52.8,92.4L52.8,112.4M52,107.4L52,127.4M51.2,122.4L51.2,142.4M50.4,137.4L50.4,157.4M48.8,167.4L48.8,187.4M48,182.4L48,202.4M47.2,197.4L47.2,217.4M46.4,212.4L46.4,232.4M45.5,227.4L45.5,247.4M44.7,242.4L44.7,262.4M43.9,257.4L43.9,277.4M43.1,272.4L43.1,292.4M42.3,287.4L42.3,307.4M41.5,302.4L41.5,322.4M243.9,39.2L243.9,59.2M244.7,54.2L244.7,74.2M245.5,69.2L245.5,89.2M246.3,84.2L246.3,104.2M248,114.2L248,134.2M248.8,129.2L248.8,149.2M251.2,174.2L251.2,194.2M252.8,204.2L252.8,224.2M253.6,219.2L253.6,239.2M254.4,234.2L254.4,254.2M255.2,249.2L255.2,269.2M256.1,264.2L256.1,284.2M256.9,279.2L256.9,299.2M257.7,294.2L257.7,314.2M258.5,309.2L258.5,329.2" stroke="#e8231d" stroke-opacity="0.72" stroke-width="1.5"/><path d="M37,47.6L37,67.6M35.4,77.6L35.4,97.6M34.6,92.6L34.6,112.6M33.7,107.6L33.7,127.6M32.9,122.6L32.9,142.6M32.1,137.6L32.1,157.6M31.3,152.6L31.3,172.6M30.5,167.6L30.5,187.6M29.7,182.6L29.7,202.6M28.9,197.6L28.9,217.6M28.1,212.6L28.1,232.6M27.3,227.6L27.3,247.6M26.5,242.6L26.5,262.6M25.6,257.6L25.6,277.6M24.8,272.6L24.8,292.6M24,287.6L24,307.6M46.6,46.7L46.6,66.7M45.8,61.7L45.8,81.7M44.9,76.7L44.9,96.7M44.1,91.7L44.1,111.7M43.3,106.7L43.3,126.7M42.5,121.7L42.5,141.7M41.7,136.7L41.7,156.7M39.3,181.7L39.3,201.7M38.5,196.7L38.5,216.7M37.7,211.7L37.7,231.7M35.2,256.7L35.2,276.7M34.4,271.7L34.4,291.7M230.9,46.8L230.9,66.8M231.7,61.8L231.7,81.8M232.5,76.8L232.5,96.8M233.3,91.8L233.3,111.8M234.1,106.8L234.1,126.8M234.9,121.8L234.9,141.8M235.7,136.8L235.7,156.8M236.6,151.8L236.6,171.8M237.4,166.8L237.4,186.8M238.2,181.8L238.2,201.8M239,196.8L239,216.8M239.8,211.8L239.8,231.8M240.6,226.8L240.6,246.8M242.2,256.8L242.2,276.8M243,271.8L243,291.8M243.8,286.8L243.8,306.8M234.9,34.9L234.9,54.9M235.7,49.9L235.7,69.9M237.3,79.9L237.3,99.9M238.9,109.9L238.9,129.9M240.5,139.9L240.5,159.9M241.3,154.9L241.3,174.9M242.1,169.9L242.1,189.9M243,184.9L243,204.9M243.8,199.9L243.8,219.9M244.6,214.9L244.6,234.9M246.2,244.9L246.2,264.9M247,259.9L247,279.9M247.8,274.9L247.8,294.9M248.6,289.9L248.6,309.9M249.4,304.9L249.4,324.9" stroke="#e8241f" stroke-opacity="0.72" stroke-width="1.5"/><path d="M25,37.4L25,57.4M24.2,52.4L24.2,72.4M28.9,38.9L28.9,58.9M27.3,68.9L27.3,88.9M25.6,98.9L25.6,118.9M24.8,113.9L24.8,133.9M24,128.9L24,148.9M33.2,37.6L33.2,57.6M32.4,52.6L32.4,72.6M31.6,67.6L31.6,87.6M30.8,82.6L30.8,102.6M29.9,97.6L29.9,117.6M29.1,112.6L29.1,132.6M28.3,127.6L28.3,147.6M27.5,142.6L27.5,162.6M26.7,157.6L26.7,177.6M25.9,172.6L25.9,192.6M205.5,66.6L205.5,86.6M206.4,81.6L206.4,101.6M207.2,96.6L207.2,116.6M208,111.6L208,131.6M208.8,126.6L208.8,146.6M209.6,141.6L209.6,161.6M210.4,156.6L210.4,176.6M211.2,171.6L211.2,191.6M212,186.6L212,206.6M212.8,201.6L212.8,221.6M213.6,216.6L213.6,236.6M214.5,231.6L214.5,251.6M215.3,246.6L215.3,266.6M216.1,261.6L216.1,281.6M216.9,276.6L216.9,296.6M217.7,291.6L217.7,311.6M218.5,306.6L218.5,326.6M207.5,34.2L207.5,54.2M208.4,49.2L208.4,69.2M209.2,64.2L209.2,84.2M210,79.2L210,99.2M210.8,94.2L210.8,114.2M211.6,109.2L211.6,129.2M212.4,124.2L212.4,144.2M213.2,139.2L213.2,159.2M214,154.2L214,174.2M214.8,169.2L214.8,189.2M215.6,184.2L215.6,204.2M216.5,199.2L216.5,219.2M217.3,214.2L217.3,234.2M218.1,229.2L218.1,249.2M218.9,244.2L218.9,264.2M219.7,259.2L219.7,279.2M220.5,274.2L220.5,294.2M221.3,289.2L221.3,309.2M222.1,304.2L222.1,324.2M216.9,43.8L216.9,63.8M217.7,58.8L217.7,78.8M218.5,73.8L218.5,93.8M220.1,103.8L220.1,123.8M220.9,118.8L220.9,138.8M221.7,133.8L221.7,153.8M223.3,163.8L223.3,183.8M224.2,178.8L224.2,198.8M225,193.8L225,213.8M225.8,208.8L225.8,228.8M226.6,223.8L226.6,243.8M227.4,238.8L227.4,258.8M228.2,253.8L228.2,273.8M229.8,283.8L229.8,303.8M230.6,298.8L230.6,318.8M221,35.1L221,55.1M221.8,50.1L221.8,70.1M222.6,65.1L222.6,85.1M223.4,80.1L223.4,100.1M224.2,95.1L224.2,115.1M225,110.1L225,130.1M225.8,125.1L225.8,145.1M227.4,155.1L227.4,175.1M229.9,200.1L229.9,220.1M230.7,215.1L230.7,235.1M232.3,245.1L232.3,265.1M233.9,275.1L233.9,295.1M234.7,290.1L234.7,310.1M235.5,305.1L235.5,325.1M226.4,47.4L226.4,67.4M227.3,62.4L227.3,82.4M228.1,77.4L228.1,97.4M229.7,107.4L229.7,127.4M231.3,137.4L231.3,157.4M232.1,152.4L232.1,172.4M232.9,167.4L232.9,187.4M233.7,182.4L233.7,202.4M234.5,197.4L234.5,217.4M235.4,212.4L235.4,232.4M236.2,227.4L236.2,247.4M237,242.4L237,262.4M237.8,257.4L237.8,277.4M429.5,121.4L429.5,141.4M428.7,136.4L428.7,156.4M427.9,151.4L427.9,171.4M427,166.4L427,186.4M426.2,181.4L426.2,201.4M425.4,196.4L425.4,216.4M424.6,211.4L424.6,231.4M423.8,226.4L423.8,246.4M423,241.4L423,261.4M422.2,256.4L422.2,276.4M421.4,271.4L421.4,291.4M420.6,286.4L420.6,306.4M419.8,301.4L419.8,321.4M428.9,208.8L428.9,228.8M427.2,238.8L427.2,258.8M426.4,253.8L426.4,273.8M425.6,268.8L425.6,288.8M424.8,283.8L424.8,303.8" stroke="#d81d43" stroke-opacity="0.72" stroke-width="1.5"/><path d="M195.4,44.5L195.4,64.5M197,74.5L197,94.5M197.8,89.5L197.8,109.5M199.4,119.5L199.4,139.5M200.2,134.5L200.2,154.5M201.1,149.5L201.1,169.5M201.9,164.5L201.9,184.5M202.7,179.5L202.7,199.5M203.5,194.5L203.5,214.5M204.3,209.5L204.3,229.5M205.9,239.5L205.9,259.5M207.5,269.5L207.5,289.5M209.2,299.5L209.2,319.5M199.7,45.5L199.7,65.5M200.5,60.5L200.5,80.5M202.2,90.5L202.2,110.5M203,105.5L203,125.5M203.8,120.5L203.8,140.5M204.6,135.5L204.6,155.5M205.4,150.5L205.4,170.5M206.2,165.5L206.2,185.5M207,180.5L207,200.5M207.8,195.5L207.8,215.5M208.6,210.5L208.6,230.5M209.4,225.5L209.4,245.5M210.3,240.5L210.3,260.5M211.1,255.5L211.1,275.5M212.7,285.5L212.7,305.5M213.5,300.5L213.5,320.5M399.9,86.7L399.9,106.7M399.1,101.7L399.1,121.7M397.5,131.7L397.5,151.7M396.6,146.7L396.6,166.7M395.8,161.7L395.8,181.7M393.4,206.7L393.4,226.7M392.6,221.7L392.6,241.7M391.8,236.7L391.8,256.7M391,251.7L391,271.7M390.2,266.7L390.2,286.7M389.4,281.7L389.4,301.7M388.5,296.7L388.5,316.7M411.5,39.5L411.5,59.5M410.7,54.5L410.7,74.5M409.9,69.5L409.9,89.5M409.1,84.5L409.1,104.5M407.4,114.5L407.4,134.5M406.6,129.5L406.6,149.5M405.8,144.5L405.8,164.5M405,159.5L405,179.5M404.2,174.5L404.2,194.5M403.4,189.5L403.4,209.5M402.6,204.5L402.6,224.5M401.8,219.5L401.8,239.5M400.2,249.5L400.2,269.5M399.3,264.5L399.3,284.5M398.5,279.5L398.5,299.5M397.7,294.5L397.7,314.5M396.9,309.5L396.9,329.5M424.3,48.2L424.3,68.2M422.6,78.2L422.6,98.2M421.8,93.2L421.8,113.2M421,108.2L421,128.2M420.2,123.2L420.2,143.2M419.4,138.2L419.4,158.2M418.6,153.2L418.6,173.2M417.8,168.2L417.8,188.2M417,183.2L417,203.2M416.2,198.2L416.2,218.2M415.3,213.2L415.3,233.2M414.5,228.2L414.5,248.2M413.7,243.2L413.7,263.2M412.9,258.2L412.9,278.2M412.1,273.2L412.1,293.2M410.5,303.2L410.5,323.2M428.8,40.3L428.8,60.3M428,55.3L428,75.3M427.2,70.3L427.2,90.3M425.5,100.3L425.5,120.3M424.7,115.3L424.7,135.3M423.9,130.3L423.9,150.3M423.1,145.3L423.1,165.3M421.5,175.3L421.5,195.3M420.7,190.3L420.7,210.3M419.9,205.3L419.9,225.3M419.1,220.3L419.1,240.3M418.3,235.3L418.3,255.3M417.4,250.3L417.4,270.3M416.6,265.3L416.6,285.3M415.8,280.3L415.8,300.3M415,295.3L415,315.3" stroke="#b2157f" stroke-opacity="0.72" stroke-width="1.5"/><path d="M168.1,34.4L168.1,54.4M168.9,49.4L168.9,69.4M169.7,64.4L169.7,84.4M171.3,94.4L171.3,114.4M172.1,109.4L172.1,129.4M172.9,124.4L172.9,144.4M173.7,139.4L173.7,159.4M174.5,154.4L174.5,174.4M175.4,169.4L175.4,189.4M176.2,184.4L176.2,204.4M177.8,214.4L177.8,234.4M178.6,229.4L178.6,249.4M179.4,244.4L179.4,264.4M180.2,259.4L180.2,279.4M181,274.4L181,294.4M181.8,289.4L181.8,309.4M182.6,304.4L182.6,324.4M172.8,36.2L172.8,56.2M173.6,51.2L173.6,71.2M174.4,66.2L174.4,86.2M175.2,81.2L175.2,101.2M176,96.2L176,116.2M176.8,111.2L176.8,131.2M177.6,126.2L177.6,146.2M178.5,141.2L178.5,161.2M179.3,156.2L179.3,176.2M180.9,186.2L180.9,206.2M181.7,201.2L181.7,221.2M182.5,216.2L182.5,236.2M183.3,231.2L183.3,251.2M184.1,246.2L184.1,266.2M185.7,276.2L185.7,296.2M186.6,291.2L186.6,311.2M187.4,306.2L187.4,326.2M176.6,35.8L176.6,55.8M177.4,50.8L177.4,70.8M178.2,65.8L178.2,85.8M179.8,95.8L179.8,115.8M180.6,110.8L180.6,130.8M181.4,125.8L181.4,145.8M182.3,140.8L182.3,160.8M183.1,155.8L183.1,175.8M183.9,170.8L183.9,190.8M184.7,185.8L184.7,205.8M185.5,200.8L185.5,220.8M186.3,215.8L186.3,235.8M187.1,230.8L187.1,250.8M187.9,245.8L187.9,265.8M189.5,275.8L189.5,295.8M190.4,290.8L190.4,310.8M181.7,42.3L181.7,62.3M182.5,57.3L182.5,77.3M184.1,87.3L184.1,107.3M185,102.3L185,122.3M185.8,117.3L185.8,137.3M186.6,132.3L186.6,152.3M187.4,147.3L187.4,167.3M188.2,162.3L188.2,182.3M189.8,192.3L189.8,212.3M190.6,207.3L190.6,227.3M191.4,222.3L191.4,242.3M192.2,237.3L192.2,257.3M193.1,252.3L193.1,272.3M193.9,267.3L193.9,287.3M194.7,282.3L194.7,302.3M195.5,297.3L195.5,317.3M191.1,45.7L191.1,65.7M192,60.7L192,80.7M192.8,75.7L192.8,95.7M193.6,90.7L193.6,110.7M194.4,105.7L194.4,125.7M195.2,120.7L195.2,140.7M196,135.7L196,155.7M196.8,150.7L196.8,170.7M197.6,165.7L197.6,185.7M198.4,180.7L198.4,200.7M199.2,195.7L199.2,215.7M200.1,210.7L200.1,230.7M200.9,225.7L200.9,245.7M201.7,240.7L201.7,260.7M202.5,255.7L202.5,275.7M203.3,270.7L203.3,290.7M204.1,285.7L204.1,305.7M204.9,300.7L204.9,320.7M393.6,47.2L393.6,67.2M392.8,62.2L392.8,82.2M392,77.2L392,97.2M391.2,92.2L391.2,112.2M390.4,107.2L390.4,127.2M388.7,137.2L388.7,157.2M387.9,152.2L387.9,172.2M387.1,167.2L387.1,187.2M386.3,182.2L386.3,202.2M385.5,197.2L385.5,217.2M383.9,227.2L383.9,247.2M383.1,242.2L383.1,262.2M382.3,257.2L382.3,277.2M381.4,272.2L381.4,292.2M380.6,287.2L380.6,307.2M379.8,302.2L379.8,322.2M407.2,36.8L407.2,56.8M406.4,51.8L406.4,71.8M405.6,66.8L405.6,86.8M404.7,81.8L404.7,101.8M403.9,96.8L403.9,116.8M403.1,111.8L403.1,131.8M402.3,126.8L402.3,146.8M401.5,141.8L401.5,161.8M400.7,156.8L400.7,176.8M399.9,171.8L399.9,191.8M399.1,186.8L399.1,206.8M398.3,201.8L398.3,221.8M397.5,216.8L397.5,236.8M396.6,231.8L396.6,251.8M395.8,246.8L395.8,266.8M395,261.8L395,281.8M394.2,276.8L394.2,296.8M393.4,291.8L393.4,311.8M392.6,306.8L392.6,326.8M419.7,44.1L419.7,64.1M418.9,59.1L418.9,79.1M418.1,74.1L418.1,94.1M417.3,89.1L417.3,109.1M416.5,104.1L416.5,124.1M415.7,119.1L415.7,139.1M414,149.1L414,169.1M413.2,164.1L413.2,184.1M412.4,179.1L412.4,199.1M411.6,194.1L411.6,214.1M410.8,209.1L410.8,229.1M410,224.1L410,244.1M409.2,239.1L409.2,259.1M408.4,254.1L408.4,274.1M407.6,269.1L407.6,289.1M406.8,284.1L406.8,304.1M405.9,299.1L405.9,319.1" stroke="#7e3a9a" stroke-opacity="0.72" stroke-width="1.5"/><path d="M154.5,35.7L154.5,55.7M156.9,80.7L156.9,100.7M157.7,95.7L157.7,115.7M159.3,125.7L159.3,145.7M160.1,140.7L160.1,160.7M160.9,155.7L160.9,175.7M161.7,170.7L161.7,190.7M163.4,200.7L163.4,220.7M165,230.7L165,250.7M165.8,245.7L165.8,265.7M166.6,260.7L166.6,280.7M167.4,275.7L167.4,295.7M169,305.7L169,325.7M164.1,42.2L164.1,62.2M164.9,57.2L164.9,77.2M165.7,72.2L165.7,92.2M166.6,87.2L166.6,107.2M167.4,102.2L167.4,122.2M168.2,117.2L168.2,137.2M169,132.2L169,152.2M169.8,147.2L169.8,167.2M170.6,162.2L170.6,182.2M171.4,177.2L171.4,197.2M172.2,192.2L172.2,212.2M173,207.2L173,227.2M173.8,222.2L173.8,242.2M174.7,237.2L174.7,257.2M175.5,252.2L175.5,272.2M177.1,282.2L177.1,302.2M177.9,297.2L177.9,317.2M370.9,39.3L370.9,59.3M370.1,54.3L370.1,74.3M369.2,69.3L369.2,89.3M368.4,84.3L368.4,104.3M367.6,99.3L367.6,119.3M366.8,114.3L366.8,134.3M366,129.3L366,149.3M365.2,144.3L365.2,164.3M364.4,159.3L364.4,179.3M363.6,174.3L363.6,194.3M362.8,189.3L362.8,209.3M362,204.3L362,224.3M361.1,219.3L361.1,239.3M360.3,234.3L360.3,254.3M359.5,249.3L359.5,269.3M358.7,264.3L358.7,284.3M357.9,279.3L357.9,299.3M357.1,294.3L357.1,314.3M356.3,309.3L356.3,329.3M375.7,48.4L375.7,68.4M374.9,63.4L374.9,83.4M374.1,78.4L374.1,98.4M373.3,93.4L373.3,113.4M371.6,123.4L371.6,143.4M370.8,138.4L370.8,158.4M370,153.4L370,173.4M369.2,168.4L369.2,188.4M368.4,183.4L368.4,203.4M366,228.4L366,248.4M364.4,258.4L364.4,278.4M363.5,273.4L363.5,293.4M362.7,288.4L362.7,308.4M361.9,303.4L361.9,323.4M384,47L384,67M383.2,62L383.2,82M381.6,92L381.6,112M380.8,107L380.8,127M379.9,122L379.9,142M379.1,137L379.1,157M378.3,152L378.3,172M377.5,167L377.5,187M376.7,182L376.7,202M375.9,197L375.9,217M375.1,212L375.1,232M374.3,227L374.3,247M372.7,257L372.7,277M371.8,272L371.8,292M371,287L371,307M370.2,302L370.2,322M398.1,39.1L398.1,59.1M397.3,54.1L397.3,74.1M396.5,69.1L396.5,89.1M395.7,84.1L395.7,104.1M394.1,114.1L394.1,134.1M393.2,129.1L393.2,149.1M392.4,144.1L392.4,164.1M390,189.1L390,209.1M389.2,204.1L389.2,224.1M388.4,219.1L388.4,239.1M387.6,234.1L387.6,254.1M386.8,249.1L386.8,269.1M386,264.1L386,284.1M385.1,279.1L385.1,299.1M384.3,294.1L384.3,314.1M383.5,309.1L383.5,329.1" stroke="#5a4a9c" stroke-opacity="0.72" stroke-width="1.5"/><path d="M141.9,58h0M142.7,73h0M143.6,88h0M144.4,103h0M145.2,118h0M146,133h0M146.8,148h0M147.6,163h0M148.4,178h0M149.2,193h0M150,208h0M150.8,223h0M151.7,238h0M152.5,253h0M153.3,268h0M154.1,283h0M154.9,298h0M145.9,47.7h0M146.7,62.7h0M147.6,77.7h0M148.4,92.7h0M149.2,107.7h0M150,122.7h0M150.8,137.7h0M151.6,152.7h0M152.4,167.7h0M153.2,182.7h0M154.8,212.7h0M155.7,227.7h0M156.5,242.7h0M157.3,257.7h0M158.1,272.7h0M158.9,287.7h0M159.7,302.7h0M160.5,317.7h0M150.1,50.4h0M150.9,65.4h0M152.5,95.4h0M153.4,110.4h0M154.2,125.4h0M155.8,155.4h0M156.6,170.4h0M157.4,185.4h0M159,215.4h0M160.6,245.4h0M161.5,260.4h0M162.3,275.4h0M163.1,290.4h0M163.9,305.4h0M164.7,320.4h0M352.6,70.2h0M351.8,85.2h0M351,100.2h0M350.1,115.2h0M348.5,145.2h0M347.7,160.2h0M346.1,190.2h0M345.3,205.2h0M344.5,220.2h0M343.7,235.2h0M342.9,250.2h0M342,265.2h0M341.2,280.2h0M340.4,295.2h0M357.9,46.3h0M357.1,61.3h0M356.2,76.3h0M355.4,91.3h0M354.6,106.3h0M353.8,121.3h0M353,136.3h0M352.2,151.3h0M351.4,166.3h0M350.6,181.3h0M349.8,196.3h0M349,211.3h0M348.1,226.3h0M347.3,241.3h0M346.5,256.3h0M344.9,286.3h0M343.3,316.3h0M366.7,47.2h0M365.9,62.2h0M364.3,92.2h0M363.4,107.2h0M361.8,137.2h0M361,152.2h0M360.2,167.2h0M358.6,197.2h0M357,227.2h0M356.2,242.2h0M355.3,257.2h0M353.7,287.2h0M352.9,302.2h0M352.1,317.2h0M379,73.3h0M378.2,88.3h0M377.4,103.3h0M375.7,133.3h0M374.9,148.3h0M373.3,178.3h0M371.7,208.3h0M370.9,223.3h0M370.1,238.3h0M369.3,253.3h0M368.5,268.3h0M367.6,283.3h0M366.8,298.3h0M366,313.3h0" stroke="#5b3f98" stroke-width="3.2" stroke-linecap="round"/><path d="M123.6,57.3h0M124.4,72.3h0M125.2,87.3h0M126,102.3h0M126.9,117.3h0M127.7,132.3h0M128.5,147.3h0M129.3,162.3h0M130.1,177.3h0M130.9,192.3h0M131.7,207.3h0M132.5,222.3h0M133.3,237.3h0M135,267.3h0M135.8,282.3h0M137.4,312.3h0M128.5,65.4h0M129.4,80.4h0M130.2,95.4h0M131,110.4h0M131.8,125.4h0M132.6,140.4h0M133.4,155.4h0M134.2,170.4h0M135,185.4h0M135.8,200.4h0M136.6,215.4h0M137.5,230.4h0M139.1,260.4h0M139.9,275.4h0M140.7,290.4h0M141.5,305.4h0M142.3,320.4h0M137,54.6h0M137.8,69.6h0M138.6,84.6h0M139.4,99.6h0M141,129.6h0M141.8,144.6h0M142.6,159.6h0M143.4,174.6h0M144.2,189.6h0M145.1,204.6h0M147.5,249.6h0M148.3,264.6h0M149.1,279.6h0M149.9,294.6h0M150.7,309.6h0M340.3,44.3h0M339.5,59.3h0M338.7,74.3h0M337.9,89.3h0M337.1,104.3h0M336.3,119.3h0M335.5,134.3h0M334.7,149.3h0M333.8,164.3h0M333,179.3h0M332.2,194.3h0M330.6,224.3h0M329.8,239.3h0M329,254.3h0M328.2,269.3h0M327.4,284.3h0M326.6,299.3h0M343.8,60.6h0M343,75.6h0M342.1,90.6h0M340.5,120.6h0M339.7,135.6h0M338.9,150.6h0M337.3,180.6h0M336.5,195.6h0M335.7,210.6h0M334.9,225.6h0M334,240.6h0M333.2,255.6h0M332.4,270.6h0M331.6,285.6h0M330.8,300.6h0M330,315.6h0M349.3,54.9h0M348.5,69.9h0M347.7,84.9h0M346.9,99.9h0M346,114.9h0M345.2,129.9h0M344.4,144.9h0M343.6,159.9h0M342.8,174.9h0M342,189.9h0M341.2,204.9h0M340.4,219.9h0M338.8,249.9h0M337.9,264.9h0M337.1,279.9h0M336.3,294.9h0M335.5,309.9h0" stroke="#3d3f99" stroke-width="3.2" stroke-linecap="round"/><path d="M111.2,67.1h0M112,82.1h0M113.6,112.1h0M114.4,127.1h0M115.3,142.1h0M116.1,157.1h0M116.9,172.1h0M119.3,217.1h0M120.1,232.1h0M120.9,247.1h0M121.7,262.1h0M122.5,277.1h0M123.4,292.1h0M124.2,307.1h0M115.1,51h0M115.9,66h0M116.7,81h0M117.5,96h0M118.3,111h0M119.1,126h0M120,141h0M120.8,156h0M122.4,186h0M123.2,201h0M124.8,231h0M125.6,246h0M127.2,276h0M128.1,291h0M128.9,306h0M129.7,321h0M119.3,55.9h0M120.2,70.9h0M121,85.9h0M121.8,100.9h0M122.6,115.9h0M123.4,130.9h0M124.2,145.9h0M125,160.9h0M125.8,175.9h0M126.6,190.9h0M128.3,220.9h0M129.1,235.9h0M129.9,250.9h0M130.7,265.9h0M131.5,280.9h0M133.1,310.9h0M327,46.1h0M326.2,61.1h0M325.4,76.1h0M324.6,91.1h0M323.7,106.1h0M322.1,136.1h0M321.3,151.1h0M320.5,166.1h0M319.7,181.1h0M318.1,211.1h0M316.5,241.1h0M315.6,256.1h0M314.8,271.1h0M313.2,301.1h0M312.4,316.1h0M331,53.4h0M330.1,68.4h0M329.3,83.4h0M328.5,98.4h0M327.7,113.4h0M326.9,128.4h0M326.1,143.4h0M324.5,173.4h0M323.7,188.4h0M322.9,203.4h0M322,218.4h0M320.4,248.4h0M319.6,263.4h0M318.8,278.4h0M318,293.4h0M317.2,308.4h0" stroke="#2a4ea3" stroke-width="3.2" stroke-linecap="round"/><path d="M75.2,58.8h0M76,73.8h0M76.8,88.8h0M77.6,103.8h0M78.4,118.8h0M79.2,133.8h0M80,148.8h0M80.8,163.8h0M81.7,178.8h0M82.5,193.8h0M84.9,238.8h0M85.7,253.8h0M86.5,268.8h0M88.1,298.8h0M93.3,53.4h0M95.7,98.4h0M96.5,113.4h0M97.3,128.4h0M98.1,143.4h0M99,158.4h0M99.8,173.4h0M100.6,188.4h0M101.4,203.4h0M102.2,218.4h0M103,233.4h0M103.8,248.4h0M104.6,263.4h0M105.4,278.4h0M106.2,293.4h0M97.4,53h0M98.3,68h0M99.1,83h0M99.9,98h0M100.7,113h0M102.3,143h0M103.1,158h0M103.9,173h0M105.5,203h0M106.4,218h0M107.2,233h0M108,248h0M108.8,263h0M109.6,278h0M110.4,293h0M111.2,308h0M101.5,47.7h0M102.3,62.7h0M103.1,77.7h0M103.9,92.7h0M105.6,122.7h0M107.2,152.7h0M108,167.7h0M108.8,182.7h0M109.6,197.7h0M110.4,212.7h0M111.2,227.7h0M112,242.7h0M112.9,257.7h0M113.7,272.7h0M114.5,287.7h0M115.3,302.7h0M116.1,317.7h0M298.3,83.6h0M297.5,98.6h0M295.9,128.6h0M295.1,143.6h0M294.2,158.6h0M293.4,173.6h0M292.6,188.6h0M291.8,203.6h0M291,218.6h0M289.4,248.6h0M288.6,263.6h0M287.8,278.6h0M287,293.6h0M286.1,308.6h0M304.1,50.4h0M303.2,65.4h0M301.6,95.4h0M300.8,110.4h0M300,125.4h0M298.4,155.4h0M297.6,170.4h0M296.8,185.4h0M296,200.4h0M295.1,215.4h0M294.3,230.4h0M293.5,245.4h0M292.7,260.4h0M291.9,275.4h0M291.1,290.4h0M290.3,305.4h0M289.5,320.4h0M313.9,52.5h0M313.1,67.5h0M311.5,97.5h0M310.7,112.5h0M309,142.5h0M308.2,157.5h0M307.4,172.5h0M306.6,187.5h0M305.8,202.5h0M305,217.5h0M304.2,232.5h0M303.4,247.5h0M302.6,262.5h0M301.8,277.5h0M300.9,292.5h0M300.1,307.5h0M318.4,50.7h0M317.6,65.7h0M316.8,80.7h0M315.2,110.7h0M314.4,125.7h0M313.6,140.7h0M312.8,155.7h0M312,170.7h0M311.1,185.7h0M310.3,200.7h0M309.5,215.7h0M308.7,230.7h0M307.9,245.7h0M307.1,260.7h0M306.3,275.7h0M305.5,290.7h0M304.7,305.7h0M303.9,320.7h0M322.9,47.5h0M321.3,77.5h0M320.5,92.5h0M319.7,107.5h0M318.9,122.5h0M318.1,137.5h0M317.3,152.5h0M316.5,167.5h0M315.6,182.5h0M314.8,197.5h0M314,212.5h0M313.2,227.5h0M311.6,257.5h0M309.2,302.5h0M308.4,317.5h0" stroke="#2c55a8" stroke-width="3.2" stroke-linecap="round"/><path d="M56.7,46.3h0M57.5,61.3h0M59.1,91.3h0M60.7,121.3h0M61.5,136.3h0M62.4,151.3h0M63.2,166.3h0M64,181.3h0M64.8,196.3h0M66.4,226.3h0M67.2,241.3h0M68,256.3h0M68.8,271.3h0M69.6,286.3h0M70.5,301.3h0M71.3,316.3h0M61.6,45.7h0M62.5,60.7h0M63.3,75.7h0M64.1,90.7h0M64.9,105.7h0M65.7,120.7h0M66.5,135.7h0M67.3,150.7h0M68.9,180.7h0M70.6,210.7h0M71.4,225.7h0M72.2,240.7h0M73,255.7h0M74.6,285.7h0M75.4,300.7h0M67.4,85.7h0M69.1,115.7h0M69.9,130.7h0M70.7,145.7h0M71.5,160.7h0M72.3,175.7h0M73.1,190.7h0M73.9,205.7h0M74.7,220.7h0M75.5,235.7h0M76.3,250.7h0M77.2,265.7h0M78,280.7h0M78.8,295.7h0M79.6,310.7h0M84.2,56.5h0M85,71.5h0M86.6,101.5h0M87.4,116.5h0M88.2,131.5h0M89,146.5h0M89.8,161.5h0M90.7,176.5h0M91.5,191.5h0M92.3,206.5h0M93.1,221.5h0M93.9,236.5h0M94.7,251.5h0M95.5,266.5h0M96.3,281.5h0M97.1,296.5h0M88.5,50.1h0M89.4,65.1h0M90.2,80.1h0M91,95.1h0M92.6,125.1h0M93.4,140.1h0M94.2,155.1h0M95,170.1h0M96.6,200.1h0M97.5,215.1h0M98.3,230.1h0M99.1,245.1h0M99.9,260.1h0M101.5,290.1h0M102.3,305.1h0M103.1,320.1h0M290.9,53h0M290.1,68h0M289.3,83h0M288.5,98h0M286.8,128h0M285.2,158h0M284.4,173h0M282.8,203h0M282,218h0M281.2,233h0M279.5,263h0M278.7,278h0M277.9,293h0M277.1,308h0M294.1,72h0M293.3,87h0M292.4,102h0M291.6,117h0M290.8,132h0M290,147h0M289.2,162h0M287.6,192h0M286.8,207h0M285.2,237h0M284.3,252h0M283.5,267h0M282.7,282h0M281.9,297h0M281.1,312h0" stroke="#3575bf" stroke-width="3.2" stroke-linecap="round"/><path d="M39.6,47.2h0M40.4,62.2h0M41.2,77.2h0M42,92.2h0M42.8,107.2h0M43.6,122.2h0M44.4,137.2h0M45.2,152.2h0M46.1,167.2h0M46.9,182.2h0M48.5,212.2h0M49.3,227.2h0M50.1,242.2h0M50.9,257.2h0M51.7,272.2h0M52.5,287.2h0M53.3,302.2h0M70.5,57.6h0M71.3,72.6h0M72.1,87.6h0M72.9,102.6h0M73.8,117.6h0M74.6,132.6h0M75.4,147.6h0M76.2,162.6h0M77,177.6h0M77.8,192.6h0M78.6,207.6h0M79.4,222.6h0M80.2,237.6h0M81,252.6h0M81.9,267.6h0M82.7,282.6h0M83.5,297.6h0M84.3,312.6h0M259.6,55.8h0M258.8,70.8h0M257.9,85.8h0M257.1,100.8h0M256.3,115.8h0M255.5,130.8h0M254.7,145.8h0M253.9,160.8h0M253.1,175.8h0M251.5,205.8h0M250.7,220.8h0M249.8,235.8h0M249,250.8h0M248.2,265.8h0M247.4,280.8h0M246.6,295.8h0M245.8,310.8h0M263.4,67.7h0M262.6,82.7h0M261.8,97.7h0M261,112.7h0M260.2,127.7h0M259.4,142.7h0M258.5,157.7h0M257.7,172.7h0M256.9,187.7h0M256.1,202.7h0M255.3,217.7h0M254.5,232.7h0M253.7,247.7h0M252.9,262.7h0M252.1,277.7h0M251.3,292.7h0M272.3,71.8h0M271.5,86.8h0M269.9,116.8h0M269.1,131.8h0M268.3,146.8h0M267.4,161.8h0M266.6,176.8h0M265.8,191.8h0M265,206.8h0M264.2,221.8h0M263.4,236.8h0M262.6,251.8h0M261,281.8h0M259.3,311.8h0M278.1,54.7h0M277.3,69.7h0M276.5,84.7h0M275.6,99.7h0M274.8,114.7h0M274,129.7h0M273.2,144.7h0M272.4,159.7h0M271.6,174.7h0M270.8,189.7h0M269.2,219.7h0M268.4,234.7h0M266.7,264.7h0M265.9,279.7h0M265.1,294.7h0M264.3,309.7h0M286.4,65.8h0M285.6,80.8h0M284.8,95.8h0M284,110.8h0M283.1,125.8h0M282.3,140.8h0M281.5,155.8h0M280.7,170.8h0M279.1,200.8h0M278.3,215.8h0M277.5,230.8h0M275.9,260.8h0M274.2,290.8h0M273.4,305.8h0M272.6,320.8h0" stroke="#2db5ea" stroke-width="3.2" stroke-linecap="round"/><path d="M35.2,53.4h0M36,68.4h0M36.8,83.4h0M37.6,98.4h0M38.4,113.4h0M39.2,128.4h0M40,143.4h0M40.9,158.4h0M41.7,173.4h0M42.5,188.4h0M44.1,218.4h0M45.7,248.4h0M46.5,263.4h0M47.3,278.4h0M48.1,293.4h0M49,308.4h0M43.9,48.7h0M44.7,63.7h0M45.5,78.7h0M46.3,93.7h0M47.2,108.7h0M48,123.7h0M48.8,138.7h0M49.6,153.7h0M51.2,183.7h0M52,198.7h0M53.6,228.7h0M54.4,243.7h0M55.3,258.7h0M57.7,303.7h0M58.5,318.7h0M48.1,55.1h0M48.9,70.1h0M49.7,85.1h0M50.5,100.1h0M51.3,115.1h0M53,145.1h0M54.6,175.1h0M55.4,190.1h0M56.2,205.1h0M57,220.1h0M57.8,235.1h0M58.6,250.1h0M59.4,265.1h0M60.3,280.1h0M61.9,310.1h0M268.7,58h0M267.9,73h0M266.3,103h0M265.5,118h0M264.7,133h0M263.9,148h0M262.3,178h0M261.4,193h0M260.6,208h0M259,238h0M258.2,253h0M255.8,298h0M255,313h0" stroke="#6ec6d6" stroke-width="3.2" stroke-linecap="round"/><path d="M23.7,84.5h0M24.5,99.5h0M25.4,114.5h0M27,144.5h0M27.8,159.5h0M28.6,174.5h0M29.4,189.5h0M30.2,204.5h0M31.8,234.5h0M32.6,249.5h0M33.5,264.5h0M34.3,279.5h0M35.1,294.5h0M30.5,52.6h0M32.1,82.6h0M32.9,97.6h0M33.7,112.6h0M34.6,127.6h0M35.4,142.6h0M37,172.6h0M37.8,187.6h0M38.6,202.6h0M39.4,217.6h0M40.2,232.6h0M41,247.6h0M41.8,262.6h0M42.7,277.6h0M43.5,292.6h0M233.7,51.4h0M232.9,66.4h0M232.1,81.4h0M231.3,96.4h0M230.5,111.4h0M229.7,126.4h0M228.9,141.4h0M228.1,156.4h0M227.3,171.4h0M226.4,186.4h0M225.6,201.4h0M224,231.4h0M223.2,246.4h0M222.4,261.4h0M221.6,276.4h0M220.8,291.4h0M220,306.4h0M237.6,51.5h0M235.9,81.5h0M235.1,96.5h0M234.3,111.5h0M233.5,126.5h0M232.7,141.5h0M231.9,156.5h0M231.1,171.5h0M230.3,186.5h0M229.5,201.5h0M228.7,216.5h0M227.8,231.5h0M227,246.5h0M226.2,261.5h0M224.6,291.5h0M223.8,306.5h0M241.7,58.8h0M240.9,73.8h0M240.1,88.8h0M239.3,103.8h0M238.5,118.8h0M237.7,133.8h0M236.9,148.8h0M236.1,163.8h0M235.3,178.8h0M234.5,193.8h0M233.6,208.8h0M232.8,223.8h0M232,238.8h0M231.2,253.8h0M228,313.8h0M246.4,58.8h0M245.6,73.8h0M244.8,88.8h0M244,103.8h0M243.2,118.8h0M242.4,133.8h0M240.8,163.8h0M239.9,178.8h0M238.3,208.8h0M237.5,223.8h0M236.7,238.8h0M235.9,253.8h0M234.3,283.8h0M250.9,56.9h0M250.1,71.9h0M249.2,86.9h0M248.4,101.9h0M247.6,116.9h0M246.8,131.9h0M245.2,161.9h0M244.4,176.9h0M243.6,191.9h0M242.8,206.9h0M242,221.9h0M241.1,236.9h0M240.3,251.9h0M239.5,266.9h0M238.7,281.9h0M237.9,296.9h0M237.1,311.9h0" stroke="#6cbba6" stroke-width="3.2" stroke-linecap="round"/><path d="M23.9,253.3h0M24.7,268.3h0M25.5,283.3h0M26.4,298.3h0M27.2,313.3h0M23.7,180.7h0M24.5,195.7h0M25.3,210.7h0M26.1,225.7h0M26.9,240.7h0M27.7,255.7h0M28.6,270.7h0M29.4,285.7h0M30.2,300.7h0M219.9,57.2h0M219.1,72.2h0M218.3,87.2h0M217.5,102.2h0M216.7,117.2h0M215.9,132.2h0M214.3,162.2h0M213.5,177.2h0M210.2,237.2h0M209.4,252.2h0M208.6,267.2h0M207.8,282.2h0M207,297.2h0M206.2,312.2h0M416.7,47.7h0M418.3,77.7h0M420.8,122.7h0M421.6,137.7h0M422.4,152.7h0M423.2,167.7h0M424,182.7h0M424.8,197.7h0M425.6,212.7h0M426.4,227.7h0M427.2,242.7h0M428.1,257.7h0M428.9,272.7h0M421.3,57.2h0M422.1,72.2h0M423,87.2h0M423.8,102.2h0M424.6,117.2h0M425.4,132.2h0M426.2,147.2h0M427,162.2h0M427.8,177.2h0M428.6,192.2h0M429.4,207.2h0" stroke="#6cb773" stroke-width="3.2" stroke-linecap="round"/><path d="M197.2,56.4h0M196.4,71.4h0M195.6,86.4h0M194.8,101.4h0M194,116.4h0M193.2,131.4h0M192.4,146.4h0M191.5,161.4h0M190.7,176.4h0M189.9,191.4h0M189.1,206.4h0M188.3,221.4h0M187.5,236.4h0M186.7,251.4h0M185.9,266.4h0M185.1,281.4h0M183.4,311.4h0M211.4,48.7h0M210.6,63.7h0M209.8,78.7h0M209,93.7h0M208.1,108.7h0M207.3,123.7h0M206.5,138.7h0M205.7,153.7h0M204.9,168.7h0M204.1,183.7h0M203.3,198.7h0M202.5,213.7h0M201.7,228.7h0M200.9,243.7h0M200,258.7h0M199.2,273.7h0M198.4,288.7h0M197.6,303.7h0M196.8,318.7h0M215.4,51.8h0M214.6,66.8h0M213.8,81.8h0M213,96.8h0M211.4,126.8h0M210.5,141.8h0M209.7,156.8h0M208.9,171.8h0M207.3,201.8h0M206.5,216.8h0M205.7,231.8h0M204.9,246.8h0M203.3,276.8h0M201.6,306.8h0M224.5,57.7h0M223.7,72.7h0M222.9,87.7h0M222.1,102.7h0M221.3,117.7h0M219.6,147.7h0M218,177.7h0M216.4,207.7h0M215.6,222.7h0M214.8,237.7h0M214,252.7h0M213.2,267.7h0M212.3,282.7h0M211.5,297.7h0M210.7,312.7h0M404,49.6h0M404.8,64.6h0M405.6,79.6h0M406.4,94.6h0M407.3,109.6h0M408.1,124.6h0M408.9,139.6h0M409.7,154.6h0M410.5,169.6h0M411.3,184.6h0M412.1,199.6h0M412.9,214.6h0M413.7,229.6h0M414.5,244.6h0M415.4,259.6h0M416.2,274.6h0M417,289.6h0M417.8,304.6h0M418.6,319.6h0M407.8,49.1h0M408.6,64.1h0M409.4,79.1h0M410.2,94.1h0M411,109.1h0M411.8,124.1h0M414.3,169.1h0M415.1,184.1h0M415.9,199.1h0M416.7,214.1h0M417.5,229.1h0M418.3,244.1h0M419.1,259.1h0M419.9,274.1h0M420.7,289.1h0M421.6,304.1h0M422.4,319.1h0M413,56.7h0M413.8,71.7h0M414.6,86.7h0M415.4,101.7h0M417.1,131.7h0M417.9,146.7h0M418.7,161.7h0M419.5,176.7h0M420.3,191.7h0M421.1,206.7h0M421.9,221.7h0M422.7,236.7h0M423.5,251.7h0M424.4,266.7h0M425.2,281.7h0M426,296.7h0M426.8,311.7h0" stroke="#70b22e" stroke-width="3.2" stroke-linecap="round"/><path d="M189.1,51.1h0M188.3,66.1h0M186.7,96.1h0M185.9,111.1h0M185,126.1h0M184.2,141.1h0M182.6,171.1h0M181.8,186.1h0M181,201.1h0M180.2,216.1h0M179.4,231.1h0M177.8,261.1h0M176.1,291.1h0M193.1,51.4h0M192.3,66.4h0M191.5,81.4h0M190.7,96.4h0M189.9,111.4h0M189.1,126.4h0M188.2,141.4h0M187.4,156.4h0M186.6,171.4h0M185.8,186.4h0M185,201.4h0M184.2,216.4h0M183.4,231.4h0M182.6,246.4h0M181.8,261.4h0M181,276.4h0M180.1,291.4h0M179.3,306.4h0M207,47.7h0M206.2,62.7h0M203.8,107.7h0M203,122.7h0M202.2,137.7h0M201.4,152.7h0M200.5,167.7h0M199.7,182.7h0M198.9,197.7h0M198.1,212.7h0M197.3,227.7h0M196.5,242.7h0M195.7,257.7h0M194.9,272.7h0M194.1,287.7h0M193.3,302.7h0M192.4,317.7h0M390.5,44.3h0M391.3,59.3h0M392.1,74.3h0M392.9,89.3h0M393.7,104.3h0M394.5,119.3h0M395.3,134.3h0M396.1,149.3h0M396.9,164.3h0M397.8,179.3h0M398.6,194.3h0M399.4,209.3h0M400.2,224.3h0M401,239.3h0M401.8,254.3h0M402.6,269.3h0M403.4,284.3h0M404.2,299.3h0M394.2,49.7h0M395.1,64.7h0M395.9,79.7h0M396.7,94.7h0M397.5,109.7h0M398.3,124.7h0M399.1,139.7h0M399.9,154.7h0M400.7,169.7h0M402.3,199.7h0M403.2,214.7h0M404,229.7h0M404.8,244.7h0M405.6,259.7h0M406.4,274.7h0M407.2,289.7h0M408,304.7h0M408.8,319.7h0" stroke="#6ab226" stroke-width="3.2" stroke-linecap="round"/><path d="M166.5,47.7h0M165.7,62.7h0M164.9,77.7h0M164,92.7h0M163.2,107.7h0M162.4,122.7h0M161.6,137.7h0M160.8,152.7h0M160,167.7h0M159.2,182.7h0M158.4,197.7h0M156.8,227.7h0M155.9,242.7h0M155.1,257.7h0M154.3,272.7h0M153.5,287.7h0M152.7,302.7h0M151.9,317.7h0M171.3,49.1h0M170.5,64.1h0M169.7,79.1h0M168.9,94.1h0M168.1,109.1h0M167.3,124.1h0M166.5,139.1h0M165.7,154.1h0M164.8,169.1h0M163.2,199.1h0M162.4,214.1h0M161.6,229.1h0M160.8,244.1h0M160,259.1h0M159.2,274.1h0M157.6,304.1h0M180.5,46.3h0M179.7,61.3h0M178.8,76.3h0M178,91.3h0M177.2,106.3h0M175.6,136.3h0M174.8,151.3h0M174,166.3h0M173.2,181.3h0M172.4,196.3h0M171.6,211.3h0M170.7,226.3h0M169.9,241.3h0M168.3,271.3h0M167.5,286.3h0M166.7,301.3h0M165.9,316.3h0M185,45.2h0M182.6,90.2h0M180.2,135.2h0M179.4,150.2h0M178.6,165.2h0M176.1,210.2h0M175.3,225.2h0M174.5,240.2h0M172.9,270.2h0M172.1,285.2h0M171.3,300.2h0M170.5,315.2h0M356.1,65.1h0M356.9,80.1h0M357.7,95.1h0M359.3,125.1h0M360.1,140.1h0M361,155.1h0M361.8,170.1h0M362.6,185.1h0M363.4,200.1h0M364.2,215.1h0M365,230.1h0M367.4,275.1h0M368.2,290.1h0M369.9,320.1h0M359.5,54.6h0M360.3,69.6h0M361.1,84.6h0M362,99.6h0M362.8,114.6h0M364.4,144.6h0M365.2,159.6h0M366,174.6h0M366.8,189.6h0M367.6,204.6h0M368.4,219.6h0M370.1,249.6h0M370.9,264.6h0M371.7,279.6h0M372.5,294.6h0M373.3,309.6h0M364,51.3h0M365.6,81.3h0M367.2,111.3h0M368,126.3h0M368.8,141.3h0M369.6,156.3h0M370.5,171.3h0M372.1,201.3h0M372.9,216.3h0M374.5,246.3h0M375.3,261.3h0M376.9,291.3h0M377.7,306.3h0M368,50.5h0M368.8,65.5h0M369.6,80.5h0M371.3,110.5h0M372.1,125.5h0M372.9,140.5h0M374.5,170.5h0M375.3,185.5h0M376.1,200.5h0M377.7,230.5h0M378.5,245.5h0M379.4,260.5h0M381.8,305.5h0M377.5,51.2h0M378.3,66.2h0M379.1,81.2h0M379.9,96.2h0M381.5,126.2h0M382.3,141.2h0M383.1,156.2h0M384,171.2h0M384.8,186.2h0M385.6,201.2h0M387.2,231.2h0M388,246.2h0M388.8,261.2h0M389.6,276.2h0M390.4,291.2h0M391.2,306.2h0M382.4,58.6h0M384,88.6h0M385.7,118.6h0M386.5,133.6h0M387.3,148.6h0M388.1,163.6h0M388.9,178.6h0M390.5,208.6h0M391.3,223.6h0M392.1,238.6h0M393.8,268.6h0M394.6,283.6h0M395.4,298.6h0M396.2,313.6h0M385.7,43.9h0M386.6,58.9h0M387.4,73.9h0M388.2,88.9h0M389,103.9h0M389.8,118.9h0M390.6,133.9h0M391.4,148.9h0M392.2,163.9h0M393,178.9h0M393.8,193.9h0M394.7,208.9h0M395.5,223.9h0M396.3,238.9h0M398.7,283.9h0M399.5,298.9h0M400.3,313.9h0" stroke="#7ab820" stroke-width="3.2" stroke-linecap="round"/><path d="M153.9,53.4h0M153.1,68.4h0M152.3,83.4h0M151.5,98.4h0M150.7,113.4h0M149.9,128.4h0M149,143.4h0M148.2,158.4h0M145.8,203.4h0M145,218.4h0M144.2,233.4h0M143.4,248.4h0M142.6,263.4h0M140.9,293.4h0M140.1,308.4h0M158.4,49.4h0M157.6,64.4h0M156.8,79.4h0M155.2,109.4h0M154.4,124.4h0M153.6,139.4h0M152.8,154.4h0M151.9,169.4h0M151.1,184.4h0M150.3,199.4h0M149.5,214.4h0M148.7,229.4h0M147.9,244.4h0M147.1,259.4h0M146.3,274.4h0M145.5,289.4h0M143.8,319.4h0M161.9,56.9h0M160.3,86.9h0M159.5,101.9h0M158.7,116.9h0M156.3,161.9h0M155.4,176.9h0M153.8,206.9h0M153,221.9h0M152.2,236.9h0M151.4,251.9h0M150.6,266.9h0M149.8,281.9h0M149,296.9h0M148.2,311.9h0M336.4,44.5h0M337.2,59.5h0M338,74.5h0M338.8,89.5h0M339.6,104.5h0M340.4,119.5h0M342.1,149.5h0M342.9,164.5h0M343.7,179.5h0M344.5,194.5h0M345.3,209.5h0M346.1,224.5h0M348.5,269.5h0M349.4,284.5h0M351,314.5h0M352,73.5h0M353.6,103.5h0M354.4,118.5h0M356.9,163.5h0M357.7,178.5h0M359.3,208.5h0M360.1,223.5h0M360.9,238.5h0M363.4,283.5h0M364.2,298.5h0M365,313.5h0" stroke="#8cbf1a" stroke-width="3.2" stroke-linecap="round"/><path d="M135,54.9h0M134.2,69.9h0M133.4,84.9h0M132.6,99.9h0M131.8,114.9h0M131,129.9h0M130.1,144.9h0M129.3,159.9h0M128.5,174.9h0M127.7,189.9h0M126.9,204.9h0M126.1,219.9h0M125.3,234.9h0M124.5,249.9h0M123.7,264.9h0M122.9,279.9h0M122,294.9h0M121.2,309.9h0M139.3,56.1h0M138.5,71.1h0M137.7,86.1h0M136.9,101.1h0M136.1,116.1h0M135.3,131.1h0M134.5,146.1h0M133.6,161.1h0M132.8,176.1h0M132,191.1h0M131.2,206.1h0M130.4,221.1h0M129.6,236.1h0M128,266.1h0M127.2,281.1h0M126.4,296.1h0M125.5,311.1h0M143.9,54.3h0M143.1,69.3h0M142.3,84.3h0M141.5,99.3h0M139.9,129.3h0M139.1,144.3h0M138.2,159.3h0M137.4,174.3h0M136.6,189.3h0M135.8,204.3h0M135,219.3h0M133.4,249.3h0M132.6,264.3h0M131.8,279.3h0M131,294.3h0M130.1,309.3h0M329.1,68.3h0M329.9,83.3h0M330.7,98.3h0M332.3,128.3h0M333.1,143.3h0M333.9,158.3h0M334.7,173.3h0M335.5,188.3h0M336.3,203.3h0M337.2,218.3h0M338.8,248.3h0M339.6,263.3h0M340.4,278.3h0M342,308.3h0M332.7,55.4h0M333.5,70.4h0M334.3,85.4h0M337.5,145.4h0M338.4,160.4h0M339.2,175.4h0M340.8,205.4h0M341.6,220.4h0M342.4,235.4h0M343.2,250.4h0M344,265.4h0M345.6,295.4h0M346.5,310.4h0M342,58.3h0M342.8,73.3h0M343.6,88.3h0M344.4,103.3h0M345.2,118.3h0M346,133.3h0M347.6,163.3h0M348.4,178.3h0M350.1,208.3h0M350.9,223.3h0M351.7,238.3h0M352.5,253.3h0M354.1,283.3h0M354.9,298.3h0M355.7,313.3h0" stroke="#bcd123" stroke-width="3.2" stroke-linecap="round"/><path d="M117.5,54.3h0M115.9,84.3h0M115.1,99.3h0M114.3,114.3h0M113.5,129.3h0M112.7,144.3h0M111.8,159.3h0M111,174.3h0M110.2,189.3h0M108.6,219.3h0M107.8,234.3h0M106.2,264.3h0M104.6,294.3h0M125.7,64.8h0M124.9,79.8h0M124.1,94.8h0M123.3,109.8h0M122.5,124.8h0M120.9,154.8h0M120,169.8h0M119.2,184.8h0M118.4,199.8h0M117.6,214.8h0M116,244.8h0M115.2,259.8h0M114.4,274.8h0M113.6,289.8h0M112.8,304.8h0M111.9,319.8h0M131.7,48.9h0M130.9,63.9h0M130.1,78.9h0M129.3,93.9h0M128.5,108.9h0M127.7,123.9h0M126.9,138.9h0M126,153.9h0M125.2,168.9h0M124.4,183.9h0M123.6,198.9h0M120.4,258.9h0M119.6,273.9h0M118.8,288.9h0M117.9,303.9h0M310.5,54.1h0M311.3,69.1h0M312.1,84.1h0M312.9,99.1h0M313.7,114.1h0M315.4,144.1h0M316.2,159.1h0M317,174.1h0M317.8,189.1h0M318.6,204.1h0M319.4,219.1h0M321,249.1h0M321.8,264.1h0M322.7,279.1h0M323.5,294.1h0M315.1,51.5h0M315.9,66.5h0M317.5,96.5h0M318.3,111.5h0M319.1,126.5h0M319.9,141.5h0M320.8,156.5h0M321.6,171.5h0M322.4,186.5h0M323.2,201.5h0M324,216.5h0M324.8,231.5h0M325.6,246.5h0M326.4,261.5h0M327.2,276.5h0M328,291.5h0M328.9,306.5h0M324,56.2h0M325.6,86.2h0M326.4,101.2h0M327.3,116.2h0M328.1,131.2h0M328.9,146.2h0M329.7,161.2h0M330.5,176.2h0M331.3,191.2h0M332.9,221.2h0M333.7,236.2h0M334.5,251.2h0M335.4,266.2h0M336.2,281.2h0M337,296.2h0" stroke="#eee43a" stroke-width="3.2" stroke-linecap="round"/><path d="M87.2,48h0M86.4,63h0M85.6,78h0M84.8,93h0M84,108h0M83.2,123h0M82.4,138h0M81.6,153h0M80.7,168h0M79.9,183h0M78.3,213h0M77.5,228h0M76.7,243h0M75.9,258h0M75.1,273h0M74.3,288h0M73.5,303h0M72.6,318h0M90.7,57.7h0M89.9,72.7h0M89.1,87.7h0M88.3,102.7h0M86.6,132.7h0M85.8,147.7h0M85,162.7h0M83.4,192.7h0M82.6,207.7h0M81.8,222.7h0M81,237.7h0M80.2,252.7h0M79.3,267.7h0M78.5,282.7h0M77.7,297.7h0M76.9,312.7h0M99.3,58.7h0M98.5,73.7h0M97.7,88.7h0M96.9,103.7h0M95.3,133.7h0M93.7,163.7h0M92.8,178.7h0M92,193.7h0M91.2,208.7h0M89.6,238.7h0M88.8,253.7h0M88,268.7h0M87.2,283.7h0M86.4,298.7h0M85.6,313.7h0M109.4,51.8h0M108.6,66.8h0M107.8,81.8h0M106.2,111.8h0M105.4,126.8h0M104.6,141.8h0M103.8,156.8h0M102.2,186.8h0M101.3,201.8h0M100.5,216.8h0M99.7,231.8h0M98.9,246.8h0M98.1,261.8h0M97.3,276.8h0M96.5,291.8h0M95.7,306.8h0M112.5,67.8h0M111.7,82.8h0M110.9,97.8h0M110.1,112.8h0M109.3,127.8h0M108.5,142.8h0M106.9,172.8h0M106,187.8h0M105.2,202.8h0M103.6,232.8h0M102,262.8h0M101.2,277.8h0M99.6,307.8h0M297.4,62.6h0M298.2,77.6h0M299,92.6h0M299.8,107.6h0M300.6,122.6h0M301.4,137.6h0M302.2,152.6h0M303,167.6h0M303.8,182.6h0M304.6,197.6h0M305.5,212.6h0M306.3,227.6h0M307.1,242.6h0M307.9,257.6h0M308.7,272.6h0M309.5,287.6h0M310.3,302.6h0M311.1,317.6h0M302.5,58.9h0M304.9,103.9h0M305.7,118.9h0M306.5,133.9h0M307.4,148.9h0M308.2,163.9h0M309,178.9h0M309.8,193.9h0M310.6,208.9h0M311.4,223.9h0M312.2,238.9h0M313,253.9h0M313.8,268.9h0M314.6,283.9h0M315.5,298.9h0M316.3,313.9h0M306.4,54.2h0M307.2,69.2h0M308,84.2h0M308.8,99.2h0M309.6,114.2h0M310.4,129.2h0M312,159.2h0M313.7,189.2h0M315.3,219.2h0M316.1,234.2h0M316.9,249.2h0M318.5,279.2h0M319.3,294.2h0M320.1,309.2h0" stroke="#f6b41c" stroke-width="3.2" stroke-linecap="round"/><path d="M104.3,52.4h0M103.4,67.4h0M102.6,82.4h0M101,112.4h0M100.2,127.4h0M99.4,142.4h0M98.6,157.4h0M97.8,172.4h0M96.2,202.4h0M95.3,217.4h0M94.5,232.4h0M93.7,247.4h0M92.9,262.4h0M92.1,277.4h0M91.3,292.4h0M90.5,307.4h0M257,54h0M257.8,69h0M259.4,99h0M261.9,144h0M262.7,159h0M263.5,174h0M265.9,219h0M266.7,234h0M267.5,249h0M268.4,264h0M269.2,279h0M270,294h0M270.8,309h0M270.1,44.9h0M270.9,59.9h0M271.7,74.9h0M272.5,89.9h0M274.9,134.9h0M275.7,149.9h0M276.5,164.9h0M277.4,179.9h0M279,209.9h0M279.8,224.9h0M280.6,239.9h0M282.2,269.9h0M283,284.9h0M283.8,299.9h0M284.6,314.9h0M274.6,44.1h0M275.4,59.1h0M276.2,74.1h0M277,89.1h0M277.8,104.1h0M278.6,119.1h0M279.4,134.1h0M280.3,149.1h0M282.7,194.1h0M283.5,209.1h0M284.3,224.1h0M285.1,239.1h0M286.7,269.1h0M287.5,284.1h0M288.4,299.1h0M289.2,314.1h0M279.2,52.6h0M280.1,67.6h0M280.9,82.6h0M281.7,97.6h0M282.5,112.6h0M283.3,127.6h0M284.1,142.6h0M285.7,172.6h0M286.5,187.6h0M287.3,202.6h0M288.2,217.6h0M290.6,262.6h0M291.4,277.6h0M292.2,292.6h0M293,307.6h0M284.5,70.8h0M285.3,85.8h0M286.2,100.8h0M287,115.8h0M287.8,130.8h0M289.4,160.8h0M291.8,205.8h0M292.6,220.8h0M293.4,235.8h0M294.3,250.8h0M295.1,265.8h0M297.5,310.8h0M287.6,44.9h0M288.4,59.9h0M289.2,74.9h0M290,89.9h0M290.8,104.9h0M291.6,119.9h0M292.4,134.9h0M294,164.9h0M294.9,179.9h0M295.7,194.9h0M298.1,239.9h0M298.9,254.9h0M299.7,269.9h0M300.5,284.9h0M301.3,299.9h0M302.1,314.9h0" stroke="#ee7d1f" stroke-width="3.2" stroke-linecap="round"/><path d="M59.5,56.5h0M57,101.5h0M56.2,116.5h0M55.4,131.5h0M54.6,146.5h0M53,176.5h0M52.2,191.5h0M51.4,206.5h0M50.6,221.5h0M49.7,236.5h0M48.9,251.5h0M48.1,266.5h0M47.3,281.5h0M46.5,296.5h0M45.7,311.5h0M64.6,44.7h0M63,74.7h0M62.1,89.7h0M61.3,104.7h0M60.5,119.7h0M59.7,134.7h0M58.9,149.7h0M57.3,179.7h0M56.5,194.7h0M55.7,209.7h0M54,239.7h0M53.2,254.7h0M52.4,269.7h0M51.6,284.7h0M50.8,299.7h0M50,314.7h0M73.8,54.9h0M73,69.9h0M72.2,84.9h0M71.4,99.9h0M70.6,114.9h0M69.8,129.9h0M69,144.9h0M68.2,159.9h0M67.3,174.9h0M65.7,204.9h0M64.9,219.9h0M64.1,234.9h0M62.5,264.9h0M61.7,279.9h0M60.9,294.9h0M60.1,309.9h0M77.1,64.4h0M76.3,79.4h0M75.5,94.4h0M74.6,109.4h0M73.8,124.4h0M73,139.4h0M72.2,154.4h0M71.4,169.4h0M70.6,184.4h0M69.8,199.4h0M69,214.4h0M68.2,229.4h0M67.4,244.4h0M66.5,259.4h0M64.9,289.4h0M64.1,304.4h0M63.3,319.4h0M82.6,50.2h0M81.8,65.2h0M81,80.2h0M80.2,95.2h0M79.4,110.2h0M77.7,140.2h0M76.9,155.2h0M76.1,170.2h0M75.3,185.2h0M74.5,200.2h0M72.9,230.2h0M72.1,245.2h0M71.3,260.2h0M70.4,275.2h0M69.6,290.2h0M68.8,305.2h0M68,320.2h0M248.7,55.8h0M251.1,100.8h0M251.9,115.8h0M252.8,130.8h0M253.6,145.8h0M254.4,160.8h0M255.2,175.8h0M256,190.8h0M256.8,205.8h0M257.6,220.8h0M258.4,235.8h0M259.2,250.8h0M260,265.8h0M260.9,280.8h0M253.7,79.3h0M254.5,94.3h0M255.4,109.3h0M256.2,124.3h0M257,139.3h0M257.8,154.3h0M260.2,199.3h0M261,214.3h0M262.6,244.3h0M263.5,259.3h0M264.3,274.3h0M265.1,289.3h0M265.9,304.3h0M266.7,319.3h0M262.2,72.9h0M263.1,87.9h0M263.9,102.9h0M264.7,117.9h0M265.5,132.9h0M266.3,147.9h0M267.1,162.9h0M267.9,177.9h0M268.7,192.9h0M269.5,207.9h0M270.3,222.9h0M272,252.9h0M272.8,267.9h0M273.6,282.9h0M274.4,297.9h0M275.2,312.9h0" stroke="#e8481f" stroke-width="3.2" stroke-linecap="round"/><path d="M50.7,56.2h0M49.9,71.2h0M49.1,86.2h0M48.3,101.2h0M47.5,116.2h0M46.6,131.2h0M45,161.2h0M44.2,176.2h0M42.6,206.2h0M41.8,221.2h0M41,236.2h0M38.5,281.2h0M37.7,296.2h0M36.9,311.2h0M55.3,57.4h0M54.5,72.4h0M53.6,87.4h0M52.8,102.4h0M52,117.4h0M51.2,132.4h0M50.4,147.4h0M48.8,177.4h0M48,192.4h0M47.2,207.4h0M46.4,222.4h0M45.5,237.4h0M44.7,252.4h0M43.9,267.4h0M43.1,282.4h0M42.3,297.4h0M41.5,312.4h0M243.9,49.2h0M244.7,64.2h0M245.5,79.2h0M246.3,94.2h0M248,124.2h0M248.8,139.2h0M251.2,184.2h0M252.8,214.2h0M253.6,229.2h0M254.4,244.2h0M255.2,259.2h0M256.1,274.2h0M256.9,289.2h0M257.7,304.2h0M258.5,319.2h0" stroke="#e8231d" stroke-width="3.2" stroke-linecap="round"/><path d="M37,57.6h0M35.4,87.6h0M34.6,102.6h0M33.7,117.6h0M32.9,132.6h0M32.1,147.6h0M31.3,162.6h0M30.5,177.6h0M29.7,192.6h0M28.9,207.6h0M28.1,222.6h0M27.3,237.6h0M26.5,252.6h0M25.6,267.6h0M24.8,282.6h0M24,297.6h0M46.6,56.7h0M45.8,71.7h0M44.9,86.7h0M44.1,101.7h0M43.3,116.7h0M42.5,131.7h0M41.7,146.7h0M39.3,191.7h0M38.5,206.7h0M37.7,221.7h0M35.2,266.7h0M34.4,281.7h0M230.9,56.8h0M231.7,71.8h0M232.5,86.8h0M233.3,101.8h0M234.1,116.8h0M234.9,131.8h0M235.7,146.8h0M236.6,161.8h0M237.4,176.8h0M238.2,191.8h0M239,206.8h0M239.8,221.8h0M240.6,236.8h0M242.2,266.8h0M243,281.8h0M243.8,296.8h0M234.9,44.9h0M235.7,59.9h0M237.3,89.9h0M238.9,119.9h0M240.5,149.9h0M241.3,164.9h0M242.1,179.9h0M243,194.9h0M243.8,209.9h0M244.6,224.9h0M246.2,254.9h0M247,269.9h0M247.8,284.9h0M248.6,299.9h0M249.4,314.9h0" stroke="#e8241f" stroke-width="3.2" stroke-linecap="round"/><path d="M25,47.4h0M24.2,62.4h0M28.9,48.9h0M27.3,78.9h0M25.6,108.9h0M24.8,123.9h0M24,138.9h0M33.2,47.6h0M32.4,62.6h0M31.6,77.6h0M30.8,92.6h0M29.9,107.6h0M29.1,122.6h0M28.3,137.6h0M27.5,152.6h0M26.7,167.6h0M25.9,182.6h0M205.5,76.6h0M206.4,91.6h0M207.2,106.6h0M208,121.6h0M208.8,136.6h0M209.6,151.6h0M210.4,166.6h0M211.2,181.6h0M212,196.6h0M212.8,211.6h0M213.6,226.6h0M214.5,241.6h0M215.3,256.6h0M216.1,271.6h0M216.9,286.6h0M217.7,301.6h0M218.5,316.6h0M207.5,44.2h0M208.4,59.2h0M209.2,74.2h0M210,89.2h0M210.8,104.2h0M211.6,119.2h0M212.4,134.2h0M213.2,149.2h0M214,164.2h0M214.8,179.2h0M215.6,194.2h0M216.5,209.2h0M217.3,224.2h0M218.1,239.2h0M218.9,254.2h0M219.7,269.2h0M220.5,284.2h0M221.3,299.2h0M222.1,314.2h0M216.9,53.8h0M217.7,68.8h0M218.5,83.8h0M220.1,113.8h0M220.9,128.8h0M221.7,143.8h0M223.3,173.8h0M224.2,188.8h0M225,203.8h0M225.8,218.8h0M226.6,233.8h0M227.4,248.8h0M228.2,263.8h0M229.8,293.8h0M230.6,308.8h0M221,45.1h0M221.8,60.1h0M222.6,75.1h0M223.4,90.1h0M224.2,105.1h0M225,120.1h0M225.8,135.1h0M227.4,165.1h0M229.9,210.1h0M230.7,225.1h0M232.3,255.1h0M233.9,285.1h0M234.7,300.1h0M235.5,315.1h0M226.4,57.4h0M227.3,72.4h0M228.1,87.4h0M229.7,117.4h0M231.3,147.4h0M232.1,162.4h0M232.9,177.4h0M233.7,192.4h0M234.5,207.4h0M235.4,222.4h0M236.2,237.4h0M237,252.4h0M237.8,267.4h0M429.5,131.4h0M428.7,146.4h0M427.9,161.4h0M427,176.4h0M426.2,191.4h0M425.4,206.4h0M424.6,221.4h0M423.8,236.4h0M423,251.4h0M422.2,266.4h0M421.4,281.4h0M420.6,296.4h0M419.8,311.4h0M428.9,218.8h0M427.2,248.8h0M426.4,263.8h0M425.6,278.8h0M424.8,293.8h0" stroke="#d81d43" stroke-width="3.2" stroke-linecap="round"/><path d="M195.4,54.5h0M197,84.5h0M197.8,99.5h0M199.4,129.5h0M200.2,144.5h0M201.1,159.5h0M201.9,174.5h0M202.7,189.5h0M203.5,204.5h0M204.3,219.5h0M205.9,249.5h0M207.5,279.5h0M209.2,309.5h0M199.7,55.5h0M200.5,70.5h0M202.2,100.5h0M203,115.5h0M203.8,130.5h0M204.6,145.5h0M205.4,160.5h0M206.2,175.5h0M207,190.5h0M207.8,205.5h0M208.6,220.5h0M209.4,235.5h0M210.3,250.5h0M211.1,265.5h0M212.7,295.5h0M213.5,310.5h0M399.9,96.7h0M399.1,111.7h0M397.5,141.7h0M396.6,156.7h0M395.8,171.7h0M393.4,216.7h0M392.6,231.7h0M391.8,246.7h0M391,261.7h0M390.2,276.7h0M389.4,291.7h0M388.5,306.7h0M411.5,49.5h0M410.7,64.5h0M409.9,79.5h0M409.1,94.5h0M407.4,124.5h0M406.6,139.5h0M405.8,154.5h0M405,169.5h0M404.2,184.5h0M403.4,199.5h0M402.6,214.5h0M401.8,229.5h0M400.2,259.5h0M399.3,274.5h0M398.5,289.5h0M397.7,304.5h0M396.9,319.5h0M424.3,58.2h0M422.6,88.2h0M421.8,103.2h0M421,118.2h0M420.2,133.2h0M419.4,148.2h0M418.6,163.2h0M417.8,178.2h0M417,193.2h0M416.2,208.2h0M415.3,223.2h0M414.5,238.2h0M413.7,253.2h0M412.9,268.2h0M412.1,283.2h0M410.5,313.2h0M428.8,50.3h0M428,65.3h0M427.2,80.3h0M425.5,110.3h0M424.7,125.3h0M423.9,140.3h0M423.1,155.3h0M421.5,185.3h0M420.7,200.3h0M419.9,215.3h0M419.1,230.3h0M418.3,245.3h0M417.4,260.3h0M416.6,275.3h0M415.8,290.3h0M415,305.3h0" stroke="#b2157f" stroke-width="3.2" stroke-linecap="round"/><path d="M168.1,44.4h0M168.9,59.4h0M169.7,74.4h0M171.3,104.4h0M172.1,119.4h0M172.9,134.4h0M173.7,149.4h0M174.5,164.4h0M175.4,179.4h0M176.2,194.4h0M177.8,224.4h0M178.6,239.4h0M179.4,254.4h0M180.2,269.4h0M181,284.4h0M181.8,299.4h0M182.6,314.4h0M172.8,46.2h0M173.6,61.2h0M174.4,76.2h0M175.2,91.2h0M176,106.2h0M176.8,121.2h0M177.6,136.2h0M178.5,151.2h0M179.3,166.2h0M180.9,196.2h0M181.7,211.2h0M182.5,226.2h0M183.3,241.2h0M184.1,256.2h0M185.7,286.2h0M186.6,301.2h0M187.4,316.2h0M176.6,45.8h0M177.4,60.8h0M178.2,75.8h0M179.8,105.8h0M180.6,120.8h0M181.4,135.8h0M182.3,150.8h0M183.1,165.8h0M183.9,180.8h0M184.7,195.8h0M185.5,210.8h0M186.3,225.8h0M187.1,240.8h0M187.9,255.8h0M189.5,285.8h0M190.4,300.8h0M181.7,52.3h0M182.5,67.3h0M184.1,97.3h0M185,112.3h0M185.8,127.3h0M186.6,142.3h0M187.4,157.3h0M188.2,172.3h0M189.8,202.3h0M190.6,217.3h0M191.4,232.3h0M192.2,247.3h0M193.1,262.3h0M193.9,277.3h0M194.7,292.3h0M195.5,307.3h0M191.1,55.7h0M192,70.7h0M192.8,85.7h0M193.6,100.7h0M194.4,115.7h0M195.2,130.7h0M196,145.7h0M196.8,160.7h0M197.6,175.7h0M198.4,190.7h0M199.2,205.7h0M200.1,220.7h0M200.9,235.7h0M201.7,250.7h0M202.5,265.7h0M203.3,280.7h0M204.1,295.7h0M204.9,310.7h0M393.6,57.2h0M392.8,72.2h0M392,87.2h0M391.2,102.2h0M390.4,117.2h0M388.7,147.2h0M387.9,162.2h0M387.1,177.2h0M386.3,192.2h0M385.5,207.2h0M383.9,237.2h0M383.1,252.2h0M382.3,267.2h0M381.4,282.2h0M380.6,297.2h0M379.8,312.2h0M407.2,46.8h0M406.4,61.8h0M405.6,76.8h0M404.7,91.8h0M403.9,106.8h0M403.1,121.8h0M402.3,136.8h0M401.5,151.8h0M400.7,166.8h0M399.9,181.8h0M399.1,196.8h0M398.3,211.8h0M397.5,226.8h0M396.6,241.8h0M395.8,256.8h0M395,271.8h0M394.2,286.8h0M393.4,301.8h0M392.6,316.8h0M419.7,54.1h0M418.9,69.1h0M418.1,84.1h0M417.3,99.1h0M416.5,114.1h0M415.7,129.1h0M414,159.1h0M413.2,174.1h0M412.4,189.1h0M411.6,204.1h0M410.8,219.1h0M410,234.1h0M409.2,249.1h0M408.4,264.1h0M407.6,279.1h0M406.8,294.1h0M405.9,309.1h0" stroke="#7e3a9a" stroke-width="3.2" stroke-linecap="round"/><path d="M154.5,45.7h0M156.9,90.7h0M157.7,105.7h0M159.3,135.7h0M160.1,150.7h0M160.9,165.7h0M161.7,180.7h0M163.4,210.7h0M165,240.7h0M165.8,255.7h0M166.6,270.7h0M167.4,285.7h0M169,315.7h0M164.1,52.2h0M164.9,67.2h0M165.7,82.2h0M166.6,97.2h0M167.4,112.2h0M168.2,127.2h0M169,142.2h0M169.8,157.2h0M170.6,172.2h0M171.4,187.2h0M172.2,202.2h0M173,217.2h0M173.8,232.2h0M174.7,247.2h0M175.5,262.2h0M177.1,292.2h0M177.9,307.2h0M370.9,49.3h0M370.1,64.3h0M369.2,79.3h0M368.4,94.3h0M367.6,109.3h0M366.8,124.3h0M366,139.3h0M365.2,154.3h0M364.4,169.3h0M363.6,184.3h0M362.8,199.3h0M362,214.3h0M361.1,229.3h0M360.3,244.3h0M359.5,259.3h0M358.7,274.3h0M357.9,289.3h0M357.1,304.3h0M356.3,319.3h0M375.7,58.4h0M374.9,73.4h0M374.1,88.4h0M373.3,103.4h0M371.6,133.4h0M370.8,148.4h0M370,163.4h0M369.2,178.4h0M368.4,193.4h0M366,238.4h0M364.4,268.4h0M363.5,283.4h0M362.7,298.4h0M361.9,313.4h0M384,57h0M383.2,72h0M381.6,102h0M380.8,117h0M379.9,132h0M379.1,147h0M378.3,162h0M377.5,177h0M376.7,192h0M375.9,207h0M375.1,222h0M374.3,237h0M372.7,267h0M371.8,282h0M371,297h0M370.2,312h0M398.1,49.1h0M397.3,64.1h0M396.5,79.1h0M395.7,94.1h0M394.1,124.1h0M393.2,139.1h0M392.4,154.1h0M390,199.1h0M389.2,214.1h0M388.4,229.1h0M387.6,244.1h0M386.8,259.1h0M386,274.1h0M385.1,289.1h0M384.3,304.1h0M383.5,319.1h0" stroke="#5a4a9c" stroke-width="3.2" stroke-linecap="round"/><path d="M76.5,58.9V306M126.5,58.9V306M176.5,58.9V306M226.5,58.9V306M276.5,58.9V306M326.5,58.9V306M376.5,58.9V306M26.5,100.1H426.5M26.5,141.3H426.5M26.5,182.4H426.5M26.5,223.6H426.5M26.5,264.8H426.5M27,58.9V306M426,58.9V306" fill="none" stroke="#555" stroke-width="0.8" stroke-dasharray="1.3,2.9"/><use href="#coast" stroke="#383838" stroke-width="1.5"/></g><rect x="22.7" y="56.3" width="407.5" height="252.3" fill="none" stroke="#c8c8c8" stroke-width="0.8"/><rect x="25.9" y="58.8" width="401.1" height="247" fill="none" stroke="#c8c8c8" stroke-width="0.8"/><path d="M76.5,57.5H126.5M76.5,307.2H126.5M176.5,57.5H226.5M176.5,307.2H226.5M276.5,57.5H326.5M276.5,307.2H326.5M376.5,57.5H426.5M376.5,307.2H426.5" stroke="#383838" stroke-width="2.7"/><path d="M24.3,58.9V100.1M428.6,58.9V100.1M24.3,141.3V182.4M428.6,141.3V182.4M24.3,223.6V264.8M428.6,223.6V264.8" stroke="#383838" stroke-width="3"/><g style="font-family:'Liberation Sans',sans-serif;font-size:15.3px;fill:#333"><text transform="translate(76.5,52.4) scale(0.875,1)" text-anchor="middle">-135</text><text transform="translate(76.5,324.8) scale(0.875,1)" text-anchor="middle">-135</text><text transform="translate(126.5,52.4) scale(0.875,1)" text-anchor="middle">-90</text><text transform="translate(126.5,324.8) scale(0.875,1)" text-anchor="middle">-90</text><text transform="translate(176.5,52.4) scale(0.875,1)" text-anchor="middle">-45</text><text transform="translate(176.5,324.8) scale(0.875,1)" text-anchor="middle">-45</text><text transform="translate(226.5,52.4) scale(0.875,1)" text-anchor="middle">0</text><text transform="translate(226.5,324.8) scale(0.875,1)" text-anchor="middle">0</text><text transform="translate(276.5,52.4) scale(0.875,1)" text-anchor="middle">45</text><text transform="translate(276.5,324.8) scale(0.875,1)" text-anchor="middle">45</text><text transform="translate(326.5,52.4) scale(0.875,1)" text-anchor="middle">90</text><text transform="translate(326.5,324.8) scale(0.875,1)" text-anchor="middle">90</text><text transform="translate(376.5,52.4) scale(0.875,1)" text-anchor="middle">135</text><text transform="translate(376.5,324.8) scale(0.875,1)" text-anchor="middle">135</text><text transform="translate(19.4,100.1) rotate(-90) scale(0.875,1)" text-anchor="middle">60</text><text transform="translate(433.2,100.1) rotate(90) scale(0.875,1)" text-anchor="middle">60</text><text transform="translate(19.4,141.3) rotate(-90) scale(0.875,1)" text-anchor="middle">30</text><text transform="translate(433.2,141.3) rotate(90) scale(0.875,1)" text-anchor="middle">30</text><text transform="translate(19.4,182.4) rotate(-90) scale(0.875,1)" text-anchor="middle">0</text><text transform="translate(433.2,182.4) rotate(90) scale(0.875,1)" text-anchor="middle">0</text><text transform="translate(19.4,223.6) rotate(-90) scale(0.875,1)" text-anchor="middle">-30</text><text transform="translate(433.2,223.6) rotate(90) scale(0.875,1)" text-anchor="middle">-30</text><text transform="translate(19.4,264.8) rotate(-90) scale(0.875,1)" text-anchor="middle">-60</text><text transform="translate(433.2,264.8) rotate(90) scale(0.875,1)" text-anchor="middle">-60</text></g></g><g transform="translate(0,355.1)"><clipPath id="clipc"><rect x="26" y="58.9" width="401" height="247.1"/></clipPath><g clip-path="url(#clipc)"><path d="M130.5,44.2L130.5,62.2M131.3,58.2L131.3,76.2M132.1,72.2L132.1,90.2M132.8,86.2L132.8,104.2M133.6,100.2L133.6,118.2M134.3,114.2L134.3,132.2M135.1,128.2L135.1,146.2M135.8,142.2L135.8,160.2M136.6,156.2L136.6,174.2M137.3,170.2L137.3,188.2M138.1,184.2L138.1,202.2M138.9,198.2L138.9,216.2M139.6,212.2L139.6,230.2M140.4,226.2L140.4,244.2M141.1,240.2L141.1,258.2M142.6,268.2L142.6,286.2M143.4,282.2L143.4,300.2M144.1,296.2L144.1,314.2M144.9,310.2L144.9,328.2M136,46.2L136,64.2M136.8,60.2L136.8,78.2M137.5,74.2L137.5,92.2M138.3,88.2L138.3,106.2M139,102.2L139,120.2M139.8,116.2L139.8,134.2M140.5,130.2L140.5,148.2M141.3,144.2L141.3,162.2M142.1,158.2L142.1,176.2M144.3,200.2L144.3,218.2M145.8,228.2L145.8,246.2M146.6,242.2L146.6,260.2M148.1,270.2L148.1,288.2M148.9,284.2L148.9,302.2M149.6,298.2L149.6,316.2M138.5,37L138.5,55M140.8,79L140.8,97M141.5,93L141.5,111M142.3,107L142.3,125M143,121L143,139M143.8,135L143.8,153M144.5,149L144.5,167M145.3,163L145.3,181M146.1,177L146.1,195M146.8,191L146.8,209M147.6,205L147.6,223M148.3,219L148.3,237M149.1,233L149.1,251M149.8,247L149.8,265M150.6,261L150.6,279M151.3,275L151.3,293M152.1,289L152.1,307M152.9,303L152.9,321M143,49.5L143,67.5M143.7,63.5L143.7,81.5M144.5,77.5L144.5,95.5M145.2,91.5L145.2,109.5M146,105.5L146,123.5M146.8,119.5L146.8,137.5M147.5,133.5L147.5,151.5M148.3,147.5L148.3,165.5M149,161.5L149,179.5M149.8,175.5L149.8,193.5M150.5,189.5L150.5,207.5M151.3,203.5L151.3,221.5M152.1,217.5L152.1,235.5M152.8,231.5L152.8,249.5M153.6,245.5L153.6,263.5M154.3,259.5L154.3,277.5M155.1,273.5L155.1,291.5M155.8,287.5L155.8,305.5M156.6,301.5L156.6,319.5M153.5,42L153.5,60M154.3,56L154.3,74M155,70L155,88M155.8,84L155.8,102M156.6,98L156.6,116M157.3,112L157.3,130M158.1,126L158.1,144M158.8,140L158.8,158M160.3,168L160.3,186M161.1,182L161.1,200M161.8,196L161.8,214M162.6,210L162.6,228M163.4,224L163.4,242M165.6,266L165.6,284M166.4,280L166.4,298M167.1,294L167.1,312M167.9,308L167.9,326M355.9,48.9L355.9,66.9M355.2,62.9L355.2,80.9M354.4,76.9L354.4,94.9M353.6,90.9L353.6,108.9M352.9,104.9L352.9,122.9M352.1,118.9L352.1,136.9M351.4,132.9L351.4,150.9M350.6,146.9L350.6,164.9M349.9,160.9L349.9,178.9M349.1,174.9L349.1,192.9M348.3,188.9L348.3,206.9M347.6,202.9L347.6,220.9M346.8,216.9L346.8,234.9M346.1,230.9L346.1,248.9M345.3,244.9L345.3,262.9M344.6,258.9L344.6,276.9M343.8,272.9L343.8,290.9M343.1,286.9L343.1,304.9M342.3,300.9L342.3,318.9M358.9,51.5L358.9,69.5M357.4,79.5L357.4,97.5M356.6,93.5L356.6,111.5M355.9,107.5L355.9,125.5M355.1,121.5L355.1,139.5M354.4,135.5L354.4,153.5M353.6,149.5L353.6,167.5M352.8,163.5L352.8,181.5M352.1,177.5L352.1,195.5M351.3,191.5L351.3,209.5M350.6,205.5L350.6,223.5M349.8,219.5L349.8,237.5M349.1,233.5L349.1,251.5M348.3,247.5L348.3,265.5M347.6,261.5L347.6,279.5M346.8,275.5L346.8,293.5M345.3,303.5L345.3,321.5M365.1,45.2L365.1,63.2M364.3,59.2L364.3,77.2M363.5,73.2L363.5,91.2M362.8,87.2L362.8,105.2M362,101.2L362,119.2M361.3,115.2L361.3,133.2M360.5,129.2L360.5,147.2M359.8,143.2L359.8,161.2M359,157.2L359,175.2M358.3,171.2L358.3,189.2M357.5,185.2L357.5,203.2M356.7,199.2L356.7,217.2M356,213.2L356,231.2M355.2,227.2L355.2,245.2M354.5,241.2L354.5,259.2M353.7,255.2L353.7,273.2M353,269.2L353,287.2M352.2,283.2L352.2,301.2M351.5,297.2L351.5,315.2M367.7,49.5L367.7,67.5M367,63.5L367,81.5M366.2,77.5L366.2,95.5M365.5,91.5L365.5,109.5M364.7,105.5L364.7,123.5M364,119.5L364,137.5M363.2,133.5L363.2,151.5M362.4,147.5L362.4,165.5M361.7,161.5L361.7,179.5M360.9,175.5L360.9,193.5M360.2,189.5L360.2,207.5M359.4,203.5L359.4,221.5M358.7,217.5L358.7,235.5M356.4,259.5L356.4,277.5M355.6,273.5L355.6,291.5M354.9,287.5L354.9,305.5M354.1,301.5L354.1,319.5" stroke="#5b3f98" stroke-opacity="0.7" stroke-width="1.5"/><path d="M124,61.9L124,79.9M124.8,75.9L124.8,93.9M125.5,89.9L125.5,107.9M126.3,103.9L126.3,121.9M127,117.9L127,135.9M128.5,145.9L128.5,163.9M129.3,159.9L129.3,177.9M130.8,187.9L130.8,205.9M131.6,201.9L131.6,219.9M133.1,229.9L133.1,247.9M134.6,257.9L134.6,275.9M135.4,271.9L135.4,289.9M136.1,285.9L136.1,303.9M136.9,299.9L136.9,317.9M126.9,52.1L126.9,70.1M127.7,66.1L127.7,84.1M128.4,80.1L128.4,98.1M129.2,94.1L129.2,112.1M130.7,122.1L130.7,140.1M132.2,150.1L132.2,168.1M133,164.1L133,182.1M133.7,178.1L133.7,196.1M134.5,192.1L134.5,210.1M136,220.1L136,238.1M136.7,234.1L136.7,252.1M137.5,248.1L137.5,266.1M138.3,262.1L138.3,280.1M139,276.1L139,294.1M139.8,290.1L139.8,308.1M140.5,304.1L140.5,322.1M338.5,36.5L338.5,54.5M337.8,50.5L337.8,68.5M337,64.5L337,82.5M336.2,78.5L336.2,96.5M335.5,92.5L335.5,110.5M334.7,106.5L334.7,124.5M334,120.5L334,138.5M333.2,134.5L333.2,152.5M332.5,148.5L332.5,166.5M330.9,176.5L330.9,194.5M330.2,190.5L330.2,208.5M329.4,204.5L329.4,222.5M328.7,218.5L328.7,236.5M327.9,232.5L327.9,250.5M326.4,260.5L326.4,278.5M325.7,274.5L325.7,292.5M324.9,288.5L324.9,306.5M324.1,302.5L324.1,320.5M341.5,46.2L341.5,64.2M340,74.2L340,92.2M339.2,88.2L339.2,106.2M338.4,102.2L338.4,120.2M336.9,130.2L336.9,148.2M336.2,144.2L336.2,162.2M335.4,158.2L335.4,176.2M334.7,172.2L334.7,190.2M333.2,200.2L333.2,218.2M332.4,214.2L332.4,232.2M331.6,228.2L331.6,246.2M330.9,242.2L330.9,260.2M329.4,270.2L329.4,288.2M328.6,284.2L328.6,302.2M344.3,54.3L344.3,72.3M343.5,68.3L343.5,86.3M342.7,82.3L342.7,100.3M342,96.3L342,114.3M341.2,110.3L341.2,128.3M339.7,138.3L339.7,156.3M337.5,180.3L337.5,198.3M335.9,208.3L335.9,226.3M335.2,222.3L335.2,240.3M334.4,236.3L334.4,254.3M333.7,250.3L333.7,268.3M332.9,264.3L332.9,282.3M332.2,278.3L332.2,296.3M331.4,292.3L331.4,310.3M349.6,36L349.6,54M348.1,64L348.1,82M347.3,78L347.3,96M346.6,92L346.6,110M345.8,106L345.8,124M345.1,120L345.1,138M344.3,134L344.3,152M343.6,148L343.6,166M342.8,162L342.8,180M342,176L342,194M341.3,190L341.3,208M340.5,204L340.5,222M339.8,218L339.8,236M339,232L339,250M338.3,246L338.3,264M337.5,260L337.5,278M336.8,274L336.8,292M336,288L336,306M335.2,302L335.2,320M352.7,36.5L352.7,54.5M351.9,50.5L351.9,68.5M351.2,64.5L351.2,82.5M350.4,78.5L350.4,96.5M349.7,92.5L349.7,110.5M348.9,106.5L348.9,124.5M348.2,120.5L348.2,138.5M347.4,134.5L347.4,152.5M346.7,148.5L346.7,166.5M345.9,162.5L345.9,180.5M345.1,176.5L345.1,194.5M344.4,190.5L344.4,208.5M342.9,218.5L342.9,236.5M342.1,232.5L342.1,250.5M341.4,246.5L341.4,264.5M340.6,260.5L340.6,278.5M339.8,274.5L339.8,292.5M339.1,288.5L339.1,306.5M338.3,302.5L338.3,320.5" stroke="#3d3f99" stroke-opacity="0.7" stroke-width="1.5"/><path d="M110,61.9L110,79.9M112.3,103.9L112.3,121.9M113,117.9L113,135.9M113.8,131.9L113.8,149.9M114.6,145.9L114.6,163.9M116.1,173.9L116.1,191.9M116.8,187.9L116.8,205.9M117.6,201.9L117.6,219.9M118.3,215.9L118.3,233.9M119.1,229.9L119.1,247.9M119.9,243.9L119.9,261.9M120.6,257.9L120.6,275.9M121.4,271.9L121.4,289.9M122.1,285.9L122.1,303.9M122.9,299.9L122.9,317.9M113.1,46.8L113.1,64.8M113.8,60.8L113.8,78.8M114.6,74.8L114.6,92.8M116.1,102.8L116.1,120.8M116.9,116.8L116.9,134.8M117.6,130.8L117.6,148.8M118.4,144.8L118.4,162.8M119.1,158.8L119.1,176.8M120.6,186.8L120.6,204.8M121.4,200.8L121.4,218.8M122.2,214.8L122.2,232.8M122.9,228.8L122.9,246.8M123.7,242.8L123.7,260.8M124.4,256.8L124.4,274.8M125.2,270.8L125.2,288.8M125.9,284.8L125.9,302.8M126.7,298.8L126.7,316.8M115.9,48.2L115.9,66.2M116.7,62.2L116.7,80.2M117.4,76.2L117.4,94.2M118.2,90.2L118.2,108.2M118.9,104.2L118.9,122.2M119.7,118.2L119.7,136.2M120.4,132.2L120.4,150.2M121.2,146.2L121.2,164.2M121.9,160.2L121.9,178.2M122.7,174.2L122.7,192.2M123.5,188.2L123.5,206.2M124.2,202.2L124.2,220.2M125,216.2L125,234.2M125.7,230.2L125.7,248.2M126.5,244.2L126.5,262.2M127.2,258.2L127.2,276.2M128,272.2L128,290.2M128.8,286.2L128.8,304.2M129.5,300.2L129.5,318.2M119,37.8L119,55.8M119.7,51.8L119.7,69.8M120.5,65.8L120.5,83.8M121.3,79.8L121.3,97.8M122,93.8L122,111.8M122.8,107.8L122.8,125.8M123.5,121.8L123.5,139.8M125.8,163.8L125.8,181.8M126.5,177.8L126.5,195.8M127.3,191.8L127.3,209.8M128.1,205.8L128.1,223.8M128.8,219.8L128.8,237.8M129.6,233.8L129.6,251.8M130.3,247.8L130.3,265.8M131.1,261.8L131.1,279.8M132.6,289.8L132.6,307.8M315.1,49.4L315.1,67.4M314.3,63.4L314.3,81.4M313.6,77.4L313.6,95.4M312.8,91.4L312.8,109.4M312,105.4L312,123.4M311.3,119.4L311.3,137.4M310.5,133.4L310.5,151.4M309.8,147.4L309.8,165.4M308.3,175.4L308.3,193.4M307.5,189.4L307.5,207.4M306.7,203.4L306.7,221.4M306,217.4L306,235.4M305.2,231.4L305.2,249.4M304.5,245.4L304.5,263.4M303.7,259.4L303.7,277.4M303,273.4L303,291.4M302.2,287.4L302.2,305.4M301.5,301.4L301.5,319.4M317.8,48.1L317.8,66.1M317,62.1L317,80.1M316.3,76.1L316.3,94.1M315.5,90.1L315.5,108.1M314.8,104.1L314.8,122.1M314,118.1L314,136.1M313.3,132.1L313.3,150.1M312.5,146.1L312.5,164.1M311.7,160.1L311.7,178.1M311,174.1L311,192.1M309.5,202.1L309.5,220.1M308.7,216.1L308.7,234.1M308,230.1L308,248.1M307.2,244.1L307.2,262.1M306.5,258.1L306.5,276.1M305.7,272.1L305.7,290.1M304.9,286.1L304.9,304.1M304.2,300.1L304.2,318.1M321.9,48.5L321.9,66.5M321.2,62.5L321.2,80.5M320.4,76.5L320.4,94.5M319.7,90.5L319.7,108.5M318.9,104.5L318.9,122.5M318.1,118.5L318.1,136.5M316.6,146.5L316.6,164.5M315.9,160.5L315.9,178.5M315.1,174.5L315.1,192.5M314.4,188.5L314.4,206.5M313.6,202.5L313.6,220.5M312.9,216.5L312.9,234.5M312.1,230.5L312.1,248.5M311.3,244.5L311.3,262.5M310.6,258.5L310.6,276.5M309.8,272.5L309.8,290.5M309.1,286.5L309.1,304.5M308.3,300.5L308.3,318.5M333.1,46L333.1,64M332.3,60L332.3,78M331.6,74L331.6,92M330.8,88L330.8,106M330.1,102L330.1,120M329.3,116L329.3,134M328.6,130L328.6,148M327,158L327,176M326.3,172L326.3,190M325.5,186L325.5,204M324.8,200L324.8,218M324,214L324,232M323.3,228L323.3,246M322.5,242L322.5,260M321.8,256L321.8,274M321,270L321,288M320.2,284L320.2,302M319.5,298L319.5,316" stroke="#2a4ea3" stroke-opacity="0.7" stroke-width="1.5"/><path d="M81.9,40.1L81.9,58.1M82.6,54.1L82.6,72.1M83.4,68.1L83.4,86.1M84.2,82.1L84.2,100.1M84.9,96.1L84.9,114.1M87.2,138.1L87.2,156.1M87.9,152.1L87.9,170.1M88.7,166.1L88.7,184.1M89.4,180.1L89.4,198.1M90.2,194.1L90.2,212.1M91,208.1L91,226.1M91.7,222.1L91.7,240.1M92.5,236.1L92.5,254.1M93.2,250.1L93.2,268.1M94,264.1L94,282.1M94.7,278.1L94.7,296.1M95.5,292.1L95.5,310.1M96.2,306.1L96.2,324.1M86.1,49.4L86.1,67.4M86.9,63.4L86.9,81.4M87.6,77.4L87.6,95.4M88.4,91.4L88.4,109.4M89.1,105.4L89.1,123.4M89.9,119.4L89.9,137.4M90.7,133.4L90.7,151.4M91.4,147.4L91.4,165.4M92.2,161.4L92.2,179.4M92.9,175.4L92.9,193.4M93.7,189.4L93.7,207.4M94.4,203.4L94.4,221.4M96,231.4L96,249.4M97.5,259.4L97.5,277.4M98.2,273.4L98.2,291.4M99,287.4L99,305.4M89.2,47.7L89.2,65.7M90,61.7L90,79.7M90.7,75.7L90.7,93.7M91.5,89.7L91.5,107.7M92.3,103.7L92.3,121.7M93,117.7L93,135.7M93.8,131.7L93.8,149.7M95.3,159.7L95.3,177.7M96,173.7L96,191.7M96.8,187.7L96.8,205.7M97.6,201.7L97.6,219.7M99.1,229.7L99.1,247.7M100.6,257.7L100.6,275.7M101.3,271.7L101.3,289.7M102.1,285.7L102.1,303.7M102.8,299.7L102.8,317.7M96.6,49.8L96.6,67.8M97.3,63.8L97.3,81.8M98.1,77.8L98.1,95.8M98.8,91.8L98.8,109.8M99.6,105.8L99.6,123.8M100.4,119.8L100.4,137.8M101.1,133.8L101.1,151.8M101.9,147.8L101.9,165.8M102.6,161.8L102.6,179.8M103.4,175.8L103.4,193.8M104.1,189.8L104.1,207.8M104.9,203.8L104.9,221.8M105.6,217.8L105.6,235.8M106.4,231.8L106.4,249.8M107.9,259.8L107.9,277.8M110.2,301.8L110.2,319.8M100.1,43.4L100.1,61.4M100.9,57.4L100.9,75.4M101.6,71.4L101.6,89.4M102.4,85.4L102.4,103.4M103.2,99.4L103.2,117.4M103.9,113.4L103.9,131.4M104.7,127.4L104.7,145.4M105.4,141.4L105.4,159.4M106.2,155.4L106.2,173.4M106.9,169.4L106.9,187.4M107.7,183.4L107.7,201.4M109.2,211.4L109.2,229.4M110.7,239.4L110.7,257.4M111.5,253.4L111.5,271.4M112.2,267.4L112.2,285.4M113,281.4L113,299.4M113.7,295.4L113.7,313.4M114.5,309.4L114.5,327.4M104.6,55.3L104.6,73.3M105.3,69.3L105.3,87.3M106.1,83.3L106.1,101.3M106.8,97.3L106.8,115.3M107.6,111.3L107.6,129.3M108.3,125.3L108.3,143.3M109.8,153.3L109.8,171.3M110.6,167.3L110.6,185.3M111.4,181.3L111.4,199.3M114.4,237.3L114.4,255.3M115.1,251.3L115.1,269.3M115.9,265.3L115.9,283.3M116.6,279.3L116.6,297.3M117.4,293.3L117.4,311.3M118.2,307.3L118.2,325.3M298.1,66.4L298.1,84.4M297.3,80.4L297.3,98.4M296.6,94.4L296.6,112.4M295.8,108.4L295.8,126.4M295.1,122.4L295.1,140.4M294.3,136.4L294.3,154.4M293.5,150.4L293.5,168.4M292.8,164.4L292.8,182.4M292,178.4L292,196.4M291.3,192.4L291.3,210.4M290.5,206.4L290.5,224.4M289.8,220.4L289.8,238.4M289,234.4L289,252.4M288.2,248.4L288.2,266.4M287.5,262.4L287.5,280.4M286.7,276.4L286.7,294.4M286,290.4L286,308.4M285.2,304.4L285.2,322.4M302.8,39.2L302.8,57.2M302.1,53.2L302.1,71.2M301.3,67.2L301.3,85.2M300.5,81.2L300.5,99.2M299.8,95.2L299.8,113.2M298.3,123.2L298.3,141.2M297.5,137.2L297.5,155.2M296.8,151.2L296.8,169.2M296,165.2L296,183.2M295.2,179.2L295.2,197.2M294.5,193.2L294.5,211.2M293.7,207.2L293.7,225.2M293,221.2L293,239.2M292.2,235.2L292.2,253.2M291.5,249.2L291.5,267.2M290,277.2L290,295.2M289.2,291.2L289.2,309.2M288.4,305.2L288.4,323.2M312.1,37.2L312.1,55.2M311.4,51.2L311.4,69.2M310.6,65.2L310.6,83.2M309.1,93.2L309.1,111.2M308.3,107.2L308.3,125.2M307.6,121.2L307.6,139.2M306.8,135.2L306.8,153.2M306.1,149.2L306.1,167.2M305.3,163.2L305.3,181.2M304.5,177.2L304.5,195.2M303.8,191.2L303.8,209.2M303,205.2L303,223.2M302.3,219.2L302.3,237.2M300.8,247.2L300.8,265.2M300,261.2L300,279.2M299.3,275.2L299.3,293.2M298.5,289.2L298.5,307.2M297.7,303.2L297.7,321.2M326,38.8L326,56.8M323.8,80.8L323.8,98.8M323,94.8L323,112.8M322.2,108.8L322.2,126.8M321.5,122.8L321.5,140.8M320.7,136.8L320.7,154.8M319.2,164.8L319.2,182.8M318.5,178.8L318.5,196.8M317.7,192.8L317.7,210.8M317,206.8L317,224.8M316.2,220.8L316.2,238.8M315.4,234.8L315.4,252.8M314.7,248.8L314.7,266.8M313.2,276.8L313.2,294.8M312.4,290.8L312.4,308.8M329.6,39.1L329.6,57.1M328.9,53.1L328.9,71.1M328.1,67.1L328.1,85.1M327.4,81.1L327.4,99.1M326.6,95.1L326.6,113.1M325.1,123.1L325.1,141.1M324.3,137.1L324.3,155.1M323.6,151.1L323.6,169.1M322.8,165.1L322.8,183.1M322.1,179.1L322.1,197.1M321.3,193.1L321.3,211.1M320.5,207.1L320.5,225.1M319,235.1L319,253.1M318.3,249.1L318.3,267.1M317.5,263.1L317.5,281.1M316.8,277.1L316.8,295.1M316,291.1L316,309.1M315.3,305.1L315.3,323.1" stroke="#2c55a8" stroke-opacity="0.7" stroke-width="1.5"/><path d="M55.3,44.1L55.3,62.1M56,58.1L56,76.1M56.8,72.1L56.8,90.1M57.5,86.1L57.5,104.1M58.3,100.1L58.3,118.1M59,114.1L59,132.1M59.8,128.1L59.8,146.1M60.6,142.1L60.6,160.1M61.3,156.1L61.3,174.1M62.1,170.1L62.1,188.1M62.8,184.1L62.8,202.1M63.6,198.1L63.6,216.1M64.3,212.1L64.3,230.1M65.1,226.1L65.1,244.1M65.9,240.1L65.9,258.1M66.6,254.1L66.6,272.1M67.4,268.1L67.4,286.1M68.1,282.1L68.1,300.1M69.6,310.1L69.6,328.1M62,36.5L62,54.5M62.7,50.5L62.7,68.5M63.5,64.5L63.5,82.5M64.2,78.5L64.2,96.5M65,92.5L65,110.5M65.8,106.5L65.8,124.5M66.5,120.5L66.5,138.5M67.3,134.5L67.3,152.5M68,148.5L68,166.5M68.8,162.5L68.8,180.5M69.5,176.5L69.5,194.5M70.3,190.5L70.3,208.5M71,204.5L71,222.5M71.8,218.5L71.8,236.5M72.6,232.5L72.6,250.5M73.3,246.5L73.3,264.5M74.1,260.5L74.1,278.5M74.8,274.5L74.8,292.5M75.6,288.5L75.6,306.5M76.3,302.5L76.3,320.5M77.2,44.2L77.2,62.2M78,58.2L78,76.2M78.8,72.2L78.8,90.2M79.5,86.2L79.5,104.2M80.3,100.2L80.3,118.2M81,114.2L81,132.2M82.5,142.2L82.5,160.2M83.3,156.2L83.3,174.2M84.1,170.2L84.1,188.2M84.8,184.2L84.8,202.2M85.6,198.2L85.6,216.2M86.3,212.2L86.3,230.2M87.1,226.2L87.1,244.2M87.8,240.2L87.8,258.2M88.6,254.2L88.6,272.2M89.3,268.2L89.3,286.2M90.9,296.2L90.9,314.2M91.6,310.2L91.6,328.2M93.4,48.8L93.4,66.8M94.1,62.8L94.1,80.8M95.7,90.8L95.7,108.8M96.4,104.8L96.4,122.8M97.2,118.8L97.2,136.8M97.9,132.8L97.9,150.8M99.4,160.8L99.4,178.8M101,188.8L101,206.8M101.7,202.8L101.7,220.8M103.2,230.8L103.2,248.8M104,244.8L104,262.8M104.7,258.8L104.7,276.8M105.5,272.8L105.5,290.8M107,300.8L107,318.8M268.8,48.6L268.8,66.6M268.1,62.6L268.1,80.6M267.3,76.6L267.3,94.6M266.6,90.6L266.6,108.6M265.8,104.6L265.8,122.6M264.3,132.6L264.3,150.6M263.5,146.6L263.5,164.6M262.8,160.6L262.8,178.6M262,174.6L262,192.6M261.3,188.6L261.3,206.6M260.5,202.6L260.5,220.6M259.8,216.6L259.8,234.6M259,230.6L259,248.6M258.2,244.6L258.2,262.6M257.5,258.6L257.5,276.6M256.7,272.6L256.7,290.6M256,286.6L256,304.6M255.2,300.6L255.2,318.6M275.7,42.2L275.7,60.2M274.9,56.2L274.9,74.2M274.1,70.2L274.1,88.2M273.4,84.2L273.4,102.2M271.1,126.2L271.1,144.2M270.4,140.2L270.4,158.2M269.6,154.2L269.6,172.2M268.8,168.2L268.8,186.2M268.1,182.2L268.1,200.2M267.3,196.2L267.3,214.2M266.6,210.2L266.6,228.2M264.3,252.2L264.3,270.2M263.6,266.2L263.6,284.2M262.8,280.2L262.8,298.2M262,294.2L262,312.2M261.3,308.2L261.3,326.2M279.1,41.4L279.1,59.4M278.3,55.4L278.3,73.4M277.5,69.4L277.5,87.4M276.8,83.4L276.8,101.4M276,97.4L276,115.4M275.3,111.4L275.3,129.4M274.5,125.4L274.5,143.4M273,153.4L273,171.4M272.3,167.4L272.3,185.4M271.5,181.4L271.5,199.4M270.7,195.4L270.7,213.4M270,209.4L270,227.4M269.2,223.4L269.2,241.4M268.5,237.4L268.5,255.4M267.7,251.4L267.7,269.4M267,265.4L267,283.4M266.2,279.4L266.2,297.4M265.4,293.4L265.4,311.4M264.7,307.4L264.7,325.4M285,44.4L285,62.4M284.2,58.4L284.2,76.4M283.5,72.4L283.5,90.4M282.7,86.4L282.7,104.4M282,100.4L282,118.4M281.2,114.4L281.2,132.4M280.5,128.4L280.5,146.4M279.7,142.4L279.7,160.4M278.9,156.4L278.9,174.4M278.2,170.4L278.2,188.4M277.4,184.4L277.4,202.4M276.7,198.4L276.7,216.4M275.2,226.4L275.2,244.4M274.4,240.4L274.4,258.4M272.9,268.4L272.9,286.4M272.1,282.4L272.1,300.4M271.4,296.4L271.4,314.4M270.6,310.4L270.6,328.4M288.5,46.3L288.5,64.3M287.7,60.3L287.7,78.3M287,74.3L287,92.3M286.2,88.3L286.2,106.3M284.7,116.3L284.7,134.3M283.9,130.3L283.9,148.3M283.2,144.3L283.2,162.3M282.4,158.3L282.4,176.3M281.7,172.3L281.7,190.3M280.9,186.3L280.9,204.3M279.4,214.3L279.4,232.3M278.6,228.3L278.6,246.3M277.9,242.3L277.9,260.3M275.6,284.3L275.6,302.3M274.9,298.3L274.9,316.3M292.6,36.5L292.6,54.5M291.9,50.5L291.9,68.5M291.1,64.5L291.1,82.5M290.4,78.5L290.4,96.5M289.6,92.5L289.6,110.5M288.9,106.5L288.9,124.5M288.1,120.5L288.1,138.5M287.3,134.5L287.3,152.5M286.6,148.5L286.6,166.5M285.8,162.5L285.8,180.5M285.1,176.5L285.1,194.5M284.3,190.5L284.3,208.5M283.6,204.5L283.6,222.5M282.8,218.5L282.8,236.5M282.1,232.5L282.1,250.5M281.3,246.5L281.3,264.5M280.5,260.5L280.5,278.5M279.8,274.5L279.8,292.5M279,288.5L279,306.5M278.3,302.5L278.3,320.5M295.4,43.6L295.4,61.6M294.7,57.6L294.7,75.6M293.9,71.6L293.9,89.6M293.2,85.6L293.2,103.6M292.4,99.6L292.4,117.6M291.7,113.6L291.7,131.6M290.9,127.6L290.9,145.6M290.2,141.6L290.2,159.6M289.4,155.6L289.4,173.6M288.6,169.6L288.6,187.6M287.1,197.6L287.1,215.6M286.4,211.6L286.4,229.6M285.6,225.6L285.6,243.6M284.9,239.6L284.9,257.6M284.1,253.6L284.1,271.6M283.4,267.6L283.4,285.6M282.6,281.6L282.6,299.6M281.1,309.6L281.1,327.6M306.4,44.4L306.4,62.4M305.7,58.4L305.7,76.4M304.9,72.4L304.9,90.4M303.4,100.4L303.4,118.4M301.9,128.4L301.9,146.4M301.1,142.4L301.1,160.4M300.4,156.4L300.4,174.4M299.6,170.4L299.6,188.4M298.9,184.4L298.9,202.4M298.1,198.4L298.1,216.4M297.4,212.4L297.4,230.4M295.8,240.4L295.8,258.4M295.1,254.4L295.1,272.4M294.3,268.4L294.3,286.4M293.6,282.4L293.6,300.4" stroke="#3575bf" stroke-opacity="0.7" stroke-width="1.5"/><path d="M39.4,39.3L39.4,57.3M40.2,53.3L40.2,71.3M40.9,67.3L40.9,85.3M41.7,81.3L41.7,99.3M42.5,95.3L42.5,113.3M43.2,109.3L43.2,127.3M44,123.3L44,141.3M44.7,137.3L44.7,155.3M45.5,151.3L45.5,169.3M46.2,165.3L46.2,183.3M47.7,193.3L47.7,211.3M48.5,207.3L48.5,225.3M49.3,221.3L49.3,239.3M50,235.3L50,253.3M50.8,249.3L50.8,267.3M52.3,277.3L52.3,295.3M53,291.3L53,309.3M53.8,305.3L53.8,323.3M47.3,48.9L47.3,66.9M48.1,62.9L48.1,80.9M48.8,76.9L48.8,94.9M49.6,90.9L49.6,108.9M50.3,104.9L50.3,122.9M51.1,118.9L51.1,136.9M51.8,132.9L51.8,150.9M53.4,160.9L53.4,178.9M54.1,174.9L54.1,192.9M54.9,188.9L54.9,206.9M55.6,202.9L55.6,220.9M56.4,216.9L56.4,234.9M57.9,244.9L57.9,262.9M58.7,258.9L58.7,276.9M59.4,272.9L59.4,290.9M60.2,286.9L60.2,304.9M50.4,44.8L50.4,62.8M51.2,58.8L51.2,76.8M51.9,72.8L51.9,90.8M53.5,100.8L53.5,118.8M54.2,114.8L54.2,132.8M55,128.8L55,146.8M55.7,142.8L55.7,160.8M56.5,156.8L56.5,174.8M58,184.8L58,202.8M58.7,198.8L58.7,216.8M59.5,212.8L59.5,230.8M60.3,226.8L60.3,244.8M61,240.8L61,258.8M61.8,254.8L61.8,272.8M62.5,268.8L62.5,286.8M63.3,282.8L63.3,300.8M64,296.8L64,314.8M64.8,310.8L64.8,328.8M58.7,41.5L58.7,59.5M59.4,55.5L59.4,73.5M60.2,69.5L60.2,87.5M60.9,83.5L60.9,101.5M61.7,97.5L61.7,115.5M62.5,111.5L62.5,129.5M63.2,125.5L63.2,143.5M64,139.5L64,157.5M65.5,167.5L65.5,185.5M66.2,181.5L66.2,199.5M67,195.5L67,213.5M67.7,209.5L67.7,227.5M68.5,223.5L68.5,241.5M69.3,237.5L69.3,255.5M70,251.5L70,269.5M70.8,265.5L70.8,283.5M71.5,279.5L71.5,297.5M72.3,293.5L72.3,311.5M73,307.5L73,325.5M65.9,37.1L65.9,55.1M66.7,51.1L66.7,69.1M67.4,65.1L67.4,83.1M68.2,79.1L68.2,97.1M68.9,93.1L68.9,111.1M69.7,107.1L69.7,125.1M70.4,121.1L70.4,139.1M71.2,135.1L71.2,153.1M72,149.1L72,167.1M72.7,163.1L72.7,181.1M73.5,177.1L73.5,195.1M74.2,191.1L74.2,209.1M75,205.1L75,223.1M77.2,247.1L77.2,265.1M78,261.1L78,279.1M78.8,275.1L78.8,293.1M79.5,289.1L79.5,307.1M80.3,303.1L80.3,321.1M69.9,46L69.9,64M70.7,60L70.7,78M72.2,88L72.2,106M72.9,102L72.9,120M73.7,116L73.7,134M74.5,130L74.5,148M75.2,144L75.2,162M76,158L76,176M76.7,172L76.7,190M77.5,186L77.5,204M78.2,200L78.2,218M79.7,228L79.7,246M80.5,242L80.5,260M81.3,256L81.3,274M82,270L82,288M82.8,284L82.8,302M83.5,298L83.5,316M74.2,49.6L74.2,67.6M75,63.6L75,81.6M75.7,77.6L75.7,95.6M76.5,91.6L76.5,109.6M77.2,105.6L77.2,123.6M78,119.6L78,137.6M78.7,133.6L78.7,151.6M79.5,147.6L79.5,165.6M80.3,161.6L80.3,179.6M81,175.6L81,193.6M81.8,189.6L81.8,207.6M82.5,203.6L82.5,221.6M83.3,217.6L83.3,235.6M84,231.6L84,249.6M84.8,245.6L84.8,263.6M85.5,259.6L85.5,277.6M86.3,273.6L86.3,291.6M87.1,287.6L87.1,305.6M257.8,46.9L257.8,64.9M257,60.9L257,78.9M256.3,74.9L256.3,92.9M255.5,88.9L255.5,106.9M254.8,102.9L254.8,120.9M254,116.9L254,134.9M253.3,130.9L253.3,148.9M252.5,144.9L252.5,162.9M251,172.9L251,190.9M250.2,186.9L250.2,204.9M249.5,200.9L249.5,218.9M248.7,214.9L248.7,232.9M248,228.9L248,246.9M247.2,242.9L247.2,260.9M246.5,256.9L246.5,274.9M245.7,270.9L245.7,288.9M245,284.9L245,302.9M244.2,298.9L244.2,316.9M261.1,42.9L261.1,60.9M260.4,56.9L260.4,74.9M259.6,70.9L259.6,88.9M258.9,84.9L258.9,102.9M258.1,98.9L258.1,116.9M257.3,112.9L257.3,130.9M256.6,126.9L256.6,144.9M255.8,140.9L255.8,158.9M253.6,182.9L253.6,200.9M252.8,196.9L252.8,214.9M252,210.9L252,228.9M251.3,224.9L251.3,242.9M250.5,238.9L250.5,256.9M249.8,252.9L249.8,270.9M249,266.9L249,284.9M248.3,280.9L248.3,298.9M246.8,308.9L246.8,326.9M265.8,38.5L265.8,56.5M265.1,52.5L265.1,70.5M264.3,66.5L264.3,84.5M263.5,80.5L263.5,98.5M262.8,94.5L262.8,112.5M262,108.5L262,126.5M261.3,122.5L261.3,140.5M260.5,136.5L260.5,154.5M259.8,150.5L259.8,168.5M259,164.5L259,182.5M258.2,178.5L258.2,196.5M257.5,192.5L257.5,210.5M256.7,206.5L256.7,224.5M256,220.5L256,238.5M255.2,234.5L255.2,252.5M254.5,248.5L254.5,266.5M253.7,262.5L253.7,280.5M253,276.5L253,294.5M252.2,290.5L252.2,308.5M251.4,304.5L251.4,322.5M272.9,36.1L272.9,54.1M272.1,50.1L272.1,68.1M271.4,64.1L271.4,82.1M270.6,78.1L270.6,96.1M269.9,92.1L269.9,110.1M269.1,106.1L269.1,124.1M268.3,120.1L268.3,138.1M267.6,134.1L267.6,152.1M266.8,148.1L266.8,166.1M266.1,162.1L266.1,180.1M265.3,176.1L265.3,194.1M264.6,190.1L264.6,208.1M263.8,204.1L263.8,222.1M263.1,218.1L263.1,236.1M262.3,232.1L262.3,250.1M261.5,246.1L261.5,264.1M260.8,260.1L260.8,278.1M260,274.1L260,292.1M259.3,288.1L259.3,306.1M258.5,302.1L258.5,320.1" stroke="#2db5ea" stroke-opacity="0.7" stroke-width="1.5"/><path d="M29.4,57.5L29.4,75.5M30.2,71.5L30.2,89.5M30.9,85.5L30.9,103.5M31.7,99.5L31.7,117.5M33.2,127.5L33.2,145.5M33.9,141.5L33.9,159.5M34.7,155.5L34.7,173.5M35.4,169.5L35.4,187.5M37,197.5L37,215.5M37.7,211.5L37.7,229.5M38.5,225.5L38.5,243.5M40,253.5L40,271.5M40.7,267.5L40.7,285.5M41.5,281.5L41.5,299.5M42.3,295.5L42.3,313.5M43,309.5L43,327.5M35.9,41.4L35.9,59.4M36.7,55.4L36.7,73.4M37.4,69.4L37.4,87.4M38.2,83.4L38.2,101.4M39,97.4L39,115.4M39.7,111.4L39.7,129.4M40.5,125.4L40.5,143.4M41.2,139.4L41.2,157.4M42,153.4L42,171.4M42.7,167.4L42.7,185.4M43.5,181.4L43.5,199.4M44.2,195.4L44.2,213.4M45,209.4L45,227.4M45.8,223.4L45.8,241.4M46.5,237.4L46.5,255.4M47.3,251.4L47.3,269.4M48.8,279.4L48.8,297.4M49.5,293.4L49.5,311.4M50.3,307.4L50.3,325.4M43,46.7L43,64.7M43.8,60.7L43.8,78.7M44.5,74.7L44.5,92.7M45.3,88.7L45.3,106.7M46,102.7L46,120.7M46.8,116.7L46.8,134.7M47.5,130.7L47.5,148.7M48.3,144.7L48.3,162.7M49.1,158.7L49.1,176.7M49.8,172.7L49.8,190.7M50.6,186.7L50.6,204.7M51.3,200.7L51.3,218.7M52.1,214.7L52.1,232.7M52.8,228.7L52.8,246.7M53.6,242.7L53.6,260.7M54.3,256.7L54.3,274.7M56.6,298.7L56.6,316.7M249.3,36.4L249.3,54.4M248.6,50.4L248.6,68.4M247.8,64.4L247.8,82.4M247.1,78.4L247.1,96.4M246.3,92.4L246.3,110.4M244.8,120.4L244.8,138.4M244,134.4L244,152.4M243.3,148.4L243.3,166.4M242.5,162.4L242.5,180.4M241.8,176.4L241.8,194.4M241,190.4L241,208.4M240.3,204.4L240.3,222.4M239.5,218.4L239.5,236.4M238.7,232.4L238.7,250.4M238,246.4L238,264.4M237.2,260.4L237.2,278.4M235.7,288.4L235.7,306.4M235,302.4L235,320.4" stroke="#6ec6d6" stroke-opacity="0.7" stroke-width="1.5"/><path d="M23.9,187.2L23.9,205.2M24.7,201.2L24.7,219.2M25.5,215.2L25.5,233.2M26.2,229.2L26.2,247.2M27.7,257.2L27.7,275.2M28.5,271.2L28.5,289.2M29.2,285.2L29.2,303.2M30,299.2L30,317.2M24.1,126.2L24.1,144.2M24.9,140.2L24.9,158.2M25.7,154.2L25.7,172.2M26.4,168.2L26.4,186.2M27.2,182.2L27.2,200.2M27.9,196.2L27.9,214.2M28.7,210.2L28.7,228.2M29.4,224.2L29.4,242.2M30.2,238.2L30.2,256.2M31.7,266.2L31.7,284.2M32.5,280.2L32.5,298.2M33.2,294.2L33.2,312.2M34,308.2L34,326.2M23.8,43.2L23.8,61.2M24.5,57.2L24.5,75.2M25.3,71.2L25.3,89.2M26.1,85.2L26.1,103.2M26.8,99.2L26.8,117.2M27.6,113.2L27.6,131.2M28.3,127.2L28.3,145.2M29.1,141.2L29.1,159.2M29.8,155.2L29.8,173.2M30.6,169.2L30.6,187.2M31.3,183.2L31.3,201.2M32.1,197.2L32.1,215.2M32.9,211.2L32.9,229.2M33.6,225.2L33.6,243.2M34.4,239.2L34.4,257.2M35.1,253.2L35.1,271.2M35.9,267.2L35.9,285.2M37.4,295.2L37.4,313.2M38.2,309.2L38.2,327.2M32.8,49.5L32.8,67.5M33.6,63.5L33.6,81.5M35.1,91.5L35.1,109.5M35.9,105.5L35.9,123.5M36.6,119.5L36.6,137.5M37.4,133.5L37.4,151.5M38.1,147.5L38.1,165.5M38.9,161.5L38.9,179.5M39.6,175.5L39.6,193.5M40.4,189.5L40.4,207.5M41.9,217.5L41.9,235.5M42.7,231.5L42.7,249.5M43.4,245.5L43.4,263.5M44.9,273.5L44.9,291.5M46.4,301.5L46.4,319.5M235.1,45.5L235.1,63.5M234.3,59.5L234.3,77.5M233.6,73.5L233.6,91.5M232.8,87.5L232.8,105.5M232.1,101.5L232.1,119.5M231.3,115.5L231.3,133.5M230.5,129.5L230.5,147.5M229.8,143.5L229.8,161.5M228.3,171.5L228.3,189.5M227.5,185.5L227.5,203.5M226.8,199.5L226.8,217.5M226,213.5L226,231.5M225.3,227.5L225.3,245.5M224.5,241.5L224.5,259.5M223.7,255.5L223.7,273.5M223,269.5L223,287.5M222.2,283.5L222.2,301.5M221.5,297.5L221.5,315.5M237.9,49.6L237.9,67.6M237.2,63.6L237.2,81.6M236.4,77.6L236.4,95.6M235.7,91.6L235.7,109.6M234.9,105.6L234.9,123.6M233.4,133.6L233.4,151.6M232.7,147.6L232.7,165.6M231.9,161.6L231.9,179.6M231.1,175.6L231.1,193.6M230.4,189.6L230.4,207.6M229.6,203.6L229.6,221.6M228.9,217.6L228.9,235.6M228.1,231.6L228.1,249.6M227.4,245.6L227.4,263.6M226.6,259.6L226.6,277.6M225.8,273.6L225.8,291.6M225.1,287.6L225.1,305.6M224.3,301.6L224.3,319.6M241.9,41.4L241.9,59.4M241.2,55.4L241.2,73.4M240.4,69.4L240.4,87.4M238.9,97.4L238.9,115.4M238.1,111.4L238.1,129.4M237.4,125.4L237.4,143.4M236.6,139.4L236.6,157.4M235.9,153.4L235.9,171.4M235.1,167.4L235.1,185.4M234.3,181.4L234.3,199.4M233.6,195.4L233.6,213.4M231.3,237.4L231.3,255.4M230.6,251.4L230.6,269.4M229.8,265.4L229.8,283.4M229.1,279.4L229.1,297.4M227.5,307.4L227.5,325.4M245.2,58L245.2,76M244.4,72L244.4,90M243.7,86L243.7,104M242.9,100L242.9,118M241.4,128L241.4,146M240.7,142L240.7,160M239.9,156L239.9,174M239.1,170L239.1,188M238.4,184L238.4,202M237.6,198L237.6,216M236.9,212L236.9,230M236.1,226L236.1,244M235.4,240L235.4,258M233.8,268L233.8,286M233.1,282L233.1,300M232.3,296L232.3,314M231.6,310L231.6,328M253,45.8L253,63.8M252.3,59.8L252.3,77.8M250.7,87.8L250.7,105.8M249.2,115.8L249.2,133.8M248.5,129.8L248.5,147.8M247.7,143.8L247.7,161.8M247,157.8L247,175.8M246.2,171.8L246.2,189.8M245.5,185.8L245.5,203.8M243.9,213.8L243.9,231.8M243.2,227.8L243.2,245.8M242.4,241.8L242.4,259.8M241.7,255.8L241.7,273.8M240.9,269.8L240.9,287.8M239.4,297.8L239.4,315.8" stroke="#6cbba6" stroke-opacity="0.7" stroke-width="1.5"/><path d="M231.5,41.5L231.5,59.5M230.8,55.5L230.8,73.5M230,69.5L230,87.5M229.2,83.5L229.2,101.5M228.5,97.5L228.5,115.5M227.7,111.5L227.7,129.5M226.2,139.5L226.2,157.5M225.5,153.5L225.5,171.5M224.7,167.5L224.7,185.5M224,181.5L224,199.5M223.2,195.5L223.2,213.5M222.4,209.5L222.4,227.5M221.7,223.5L221.7,241.5M220.9,237.5L220.9,255.5M220.2,251.5L220.2,269.5M219.4,265.5L219.4,283.5M217.9,293.5L217.9,311.5M217.1,307.5L217.1,325.5M416,41.7L416,59.7M416.8,55.7L416.8,73.7M417.5,69.7L417.5,87.7M418.3,83.7L418.3,101.7M419.8,111.7L419.8,129.7M420.6,125.7L420.6,143.7M421.3,139.7L421.3,157.7M422.1,153.7L422.1,171.7M422.8,167.7L422.8,185.7M424.4,195.7L424.4,213.7M425.1,209.7L425.1,227.7M425.9,223.7L425.9,241.7M426.6,237.7L426.6,255.7M427.4,251.7L427.4,269.7M428.1,265.7L428.1,283.7M428.9,279.7L428.9,297.7M420.3,46L420.3,64M421.8,74L421.8,92M422.6,88L422.6,106M423.3,102L423.3,120M424.1,116L424.1,134M424.9,130L424.9,148M425.6,144L425.6,162M426.4,158L426.4,176M427.1,172L427.1,190M428.6,200L428.6,218M429.4,214L429.4,232M423.3,39.8L423.3,57.8M424.1,53.8L424.1,71.8M424.8,67.8L424.8,85.8M425.6,81.8L425.6,99.8M426.3,95.8L426.3,113.8M427.8,123.8L427.8,141.8M428.6,137.8L428.6,155.8M429.4,151.8L429.4,169.8M429.4,48.9L429.4,66.9" stroke="#6cb773" stroke-opacity="0.7" stroke-width="1.5"/><path d="M23.6,308.2L23.6,326.2M24,253.7L24,271.7M24.8,267.7L24.8,285.7M25.5,281.7L25.5,299.7M26.3,295.7L26.3,313.7M192.8,39.4L192.8,57.4M192.1,53.4L192.1,71.4M191.3,67.4L191.3,85.4M190.6,81.4L190.6,99.4M189.8,95.4L189.8,113.4M189,109.4L189,127.4M188.3,123.4L188.3,141.4M186.8,151.4L186.8,169.4M186,165.4L186,183.4M185.3,179.4L185.3,197.4M184.5,193.4L184.5,211.4M183,221.4L183,239.4M182.2,235.4L182.2,253.4M181.5,249.4L181.5,267.4M180.7,263.4L180.7,281.4M180,277.4L180,295.4M178.5,305.4L178.5,323.4M203.9,48.1L203.9,66.1M203.2,62.1L203.2,80.1M201.7,90.1L201.7,108.1M200.2,118.1L200.2,136.1M199.4,132.1L199.4,150.1M198.6,146.1L198.6,164.1M197.1,174.1L197.1,192.1M196.4,188.1L196.4,206.1M195.6,202.1L195.6,220.1M194.9,216.1L194.9,234.1M194.1,230.1L194.1,248.1M193.4,244.1L193.4,262.1M192.6,258.1L192.6,276.1M191.8,272.1L191.8,290.1M191.1,286.1L191.1,304.1M190.3,300.1L190.3,318.1M208.2,38.3L208.2,56.3M207.5,52.3L207.5,70.3M206.7,66.3L206.7,84.3M205.2,94.3L205.2,112.3M204.5,108.3L204.5,126.3M203.7,122.3L203.7,140.3M202.9,136.3L202.9,154.3M202.2,150.3L202.2,168.3M201.4,164.3L201.4,182.3M200.7,178.3L200.7,196.3M199.9,192.3L199.9,210.3M199.2,206.3L199.2,224.3M198.4,220.3L198.4,238.3M197.6,234.3L197.6,252.3M196.9,248.3L196.9,266.3M196.1,262.3L196.1,280.3M195.4,276.3L195.4,294.3M194.6,290.3L194.6,308.3M193.9,304.3L193.9,322.3M211.6,47.4L211.6,65.4M210.8,61.4L210.8,79.4M210,75.4L210,93.4M209.3,89.4L209.3,107.4M208.5,103.4L208.5,121.4M207,131.4L207,149.4M206.3,145.4L206.3,163.4M205.5,159.4L205.5,177.4M204.8,173.4L204.8,191.4M204,187.4L204,205.4M203.2,201.4L203.2,219.4M202.5,215.4L202.5,233.4M201.7,229.4L201.7,247.4M201,243.4L201,261.4M199.5,271.4L199.5,289.4M198.7,285.4L198.7,303.4M215,43.2L215,61.2M214.2,57.2L214.2,75.2M213.4,71.2L213.4,89.2M212.7,85.2L212.7,103.2M211.9,99.2L211.9,117.2M211.2,113.2L211.2,131.2M210.4,127.2L210.4,145.2M209.7,141.2L209.7,159.2M208.9,155.2L208.9,173.2M208.2,169.2L208.2,187.2M207.4,183.2L207.4,201.2M206.6,197.2L206.6,215.2M205.1,225.2L205.1,243.2M204.4,239.2L204.4,257.2M203.6,253.2L203.6,271.2M202.9,267.2L202.9,285.2M202.1,281.2L202.1,299.2M201.4,295.2L201.4,313.2M200.6,309.2L200.6,327.2M219.1,48.7L219.1,66.7M218.4,62.7L218.4,80.7M217.6,76.7L217.6,94.7M215.4,118.7L215.4,136.7M214.6,132.7L214.6,150.7M213.9,146.7L213.9,164.7M213.1,160.7L213.1,178.7M212.3,174.7L212.3,192.7M210.8,202.7L210.8,220.7M210.1,216.7L210.1,234.7M209.3,230.7L209.3,248.7M208.6,244.7L208.6,262.7M207.8,258.7L207.8,276.7M207.1,272.7L207.1,290.7M206.3,286.7L206.3,304.7M205.5,300.7L205.5,318.7M222.5,44.3L222.5,62.3M221.7,58.3L221.7,76.3M221,72.3L221,90.3M220.2,86.3L220.2,104.3M219.4,100.3L219.4,118.3M218.7,114.3L218.7,132.3M217.9,128.3L217.9,146.3M217.2,142.3L217.2,160.3M216.4,156.3L216.4,174.3M215.7,170.3L215.7,188.3M214.9,184.3L214.9,202.3M214.2,198.3L214.2,216.3M213.4,212.3L213.4,230.3M212.6,226.3L212.6,244.3M211.1,254.3L211.1,272.3M209.6,282.3L209.6,300.3M208.9,296.3L208.9,314.3M208.1,310.3L208.1,328.3M226.7,39.3L226.7,57.3M225.9,53.3L225.9,71.3M225.2,67.3L225.2,85.3M224.4,81.3L224.4,99.3M223.7,95.3L223.7,113.3M222.9,109.3L222.9,127.3M222.2,123.3L222.2,141.3M221.4,137.3L221.4,155.3M220.6,151.3L220.6,169.3M219.9,165.3L219.9,183.3M219.1,179.3L219.1,197.3M218.4,193.3L218.4,211.3M217.6,207.3L217.6,225.3M216.9,221.3L216.9,239.3M216.1,235.3L216.1,253.3M214.6,263.3L214.6,281.3M213.8,277.3L213.8,295.3M213.1,291.3L213.1,309.3M212.3,305.3L212.3,323.3M396.9,40.1L396.9,58.1M397.6,54.1L397.6,72.1M398.4,68.1L398.4,86.1M399.1,82.1L399.1,100.1M399.9,96.1L399.9,114.1M401.4,124.1L401.4,142.1M402.1,138.1L402.1,156.1M402.9,152.1L402.9,170.1M403.7,166.1L403.7,184.1M404.4,180.1L404.4,198.1M405.9,208.1L405.9,226.1M406.7,222.1L406.7,240.1M407.4,236.1L407.4,254.1M408.2,250.1L408.2,268.1M408.9,264.1L408.9,282.1M409.7,278.1L409.7,296.1M410.5,292.1L410.5,310.1M411.2,306.1L411.2,324.1M402.5,48.2L402.5,66.2M403.3,62.2L403.3,80.2M404.8,90.2L404.8,108.2M405.5,104.2L405.5,122.2M406.3,118.2L406.3,136.2M407,132.2L407,150.2M407.8,146.2L407.8,164.2M408.5,160.2L408.5,178.2M409.3,174.2L409.3,192.2M410.1,188.2L410.1,206.2M410.8,202.2L410.8,220.2M411.6,216.2L411.6,234.2M412.3,230.2L412.3,248.2M413.8,258.2L413.8,276.2M415.4,286.2L415.4,304.2M416.1,300.2L416.1,318.2M405.6,39.3L405.6,57.3M406.4,53.3L406.4,71.3M407.1,67.3L407.1,85.3M408.6,95.3L408.6,113.3M409.4,109.3L409.4,127.3M410.1,123.3L410.1,141.3M410.9,137.3L410.9,155.3M411.7,151.3L411.7,169.3M412.4,165.3L412.4,183.3M413.2,179.3L413.2,197.3M413.9,193.3L413.9,211.3M414.7,207.3L414.7,225.3M416.2,235.3L416.2,253.3M416.9,249.3L416.9,267.3M417.7,263.3L417.7,281.3M418.5,277.3L418.5,295.3M409.7,52L409.7,70M410.5,66L410.5,84M412,94L412,112M412.7,108L412.7,126M413.5,122L413.5,140M414.3,136L414.3,154M415,150L415,168M415.8,164L415.8,182M416.5,178L416.5,196M417.3,192L417.3,210M418,206L418,224M418.8,220L418.8,238M419.5,234L419.5,252M420.3,248L420.3,266M422.6,290L422.6,308M423.3,304L423.3,322M413.1,48.4L413.1,66.4M414.6,76.4L414.6,94.4M415.3,90.4L415.3,108.4M416.8,118.4L416.8,136.4M417.6,132.4L417.6,150.4M418.4,146.4L418.4,164.4M419.1,160.4L419.1,178.4M419.9,174.4L419.9,192.4M420.6,188.4L420.6,206.4M421.4,202.4L421.4,220.4M422.1,216.4L422.1,234.4M422.9,230.4L422.9,248.4M423.7,244.4L423.7,262.4M424.4,258.4L424.4,276.4M425.2,272.4L425.2,290.4M425.9,286.4L425.9,304.4M426.7,300.4L426.7,318.4" stroke="#70b22e" stroke-opacity="0.7" stroke-width="1.5"/><path d="M177.7,46.2L177.7,64.2M176.9,60.2L176.9,78.2M175.4,88.2L175.4,106.2M174.7,102.2L174.7,120.2M173.9,116.2L173.9,134.2M173.1,130.2L173.1,148.2M172.4,144.2L172.4,162.2M171.6,158.2L171.6,176.2M170.9,172.2L170.9,190.2M170.1,186.2L170.1,204.2M169.4,200.2L169.4,218.2M168.6,214.2L168.6,232.2M167.8,228.2L167.8,246.2M166.3,256.2L166.3,274.2M164.8,284.2L164.8,302.2M164.1,298.2L164.1,316.2M182.1,37.8L182.1,55.8M181.3,51.8L181.3,69.8M180.6,65.8L180.6,83.8M179.8,79.8L179.8,97.8M179.1,93.8L179.1,111.8M178.3,107.8L178.3,125.8M177.6,121.8L177.6,139.8M176.8,135.8L176.8,153.8M176,149.8L176,167.8M175.3,163.8L175.3,181.8M174.5,177.8L174.5,195.8M173.8,191.8L173.8,209.8M173,205.8L173,223.8M172.3,219.8L172.3,237.8M171.5,233.8L171.5,251.8M170.8,247.8L170.8,265.8M170,261.8L170,279.8M168.5,289.8L168.5,307.8M167.7,303.8L167.7,321.8M189,41.7L189,59.7M188.2,55.7L188.2,73.7M187.5,69.7L187.5,87.7M186.7,83.7L186.7,101.7M185.2,111.7L185.2,129.7M184.5,125.7L184.5,143.7M183.7,139.7L183.7,157.7M182.9,153.7L182.9,171.7M181.4,181.7L181.4,199.7M180.7,195.7L180.7,213.7M179.9,209.7L179.9,227.7M179.2,223.7L179.2,241.7M177.7,251.7L177.7,269.7M176.9,265.7L176.9,283.7M176.1,279.7L176.1,297.7M175.4,293.7L175.4,311.7M174.6,307.7L174.6,325.7M194.8,55.6L194.8,73.6M194,69.6L194,87.6M193.3,83.6L193.3,101.6M192.5,97.6L192.5,115.6M191.8,111.6L191.8,129.6M191,125.6L191,143.6M190.2,139.6L190.2,157.6M189.5,153.6L189.5,171.6M188.7,167.6L188.7,185.6M188,181.6L188,199.6M187.2,195.6L187.2,213.6M186.5,209.6L186.5,227.6M185.7,223.6L185.7,241.6M185,237.6L185,255.6M184.2,251.6L184.2,269.6M183.4,265.6L183.4,283.6M182.7,279.6L182.7,297.6M181.9,293.6L181.9,311.6M181.2,307.6L181.2,325.6M200,36.5L200,54.5M199.3,50.5L199.3,68.5M198.5,64.5L198.5,82.5M197.8,78.5L197.8,96.5M197,92.5L197,110.5M196.2,106.5L196.2,124.5M195.5,120.5L195.5,138.5M194.7,134.5L194.7,152.5M194,148.5L194,166.5M193.2,162.5L193.2,180.5M192.5,176.5L192.5,194.5M191.7,190.5L191.7,208.5M190.9,204.5L190.9,222.5M190.2,218.5L190.2,236.5M189.4,232.5L189.4,250.5M188.7,246.5L188.7,264.5M187.9,260.5L187.9,278.5M186.4,288.5L186.4,306.5M185.7,302.5L185.7,320.5M378.8,44.1L378.8,62.1M379.6,58.1L379.6,76.1M380.3,72.1L380.3,90.1M381.1,86.1L381.1,104.1M381.9,100.1L381.9,118.1M382.6,114.1L382.6,132.1M383.4,128.1L383.4,146.1M384.1,142.1L384.1,160.1M384.9,156.1L384.9,174.1M385.6,170.1L385.6,188.1M386.4,184.1L386.4,202.1M387.2,198.1L387.2,216.1M387.9,212.1L387.9,230.1M388.7,226.1L388.7,244.1M389.4,240.1L389.4,258.1M390.2,254.1L390.2,272.1M390.9,268.1L390.9,286.1M391.7,282.1L391.7,300.1M392.4,296.1L392.4,314.1M393.2,310.1L393.2,328.1M385.8,42.1L385.8,60.1M386.6,56.1L386.6,74.1M387.3,70.1L387.3,88.1M388.1,84.1L388.1,102.1M388.8,98.1L388.8,116.1M389.6,112.1L389.6,130.1M390.3,126.1L390.3,144.1M391.1,140.1L391.1,158.1M391.8,154.1L391.8,172.1M392.6,168.1L392.6,186.1M394.1,196.1L394.1,214.1M394.9,210.1L394.9,228.1M395.6,224.1L395.6,242.1M396.4,238.1L396.4,256.1M399.4,294.1L399.4,312.1M400.2,308.1L400.2,326.1M389.8,47.1L389.8,65.1M391.3,75.1L391.3,93.1M392.1,89.1L392.1,107.1M393.6,117.1L393.6,135.1M394.4,131.1L394.4,149.1M395.1,145.1L395.1,163.1M396.6,173.1L396.6,191.1M398.1,201.1L398.1,219.1M398.9,215.1L398.9,233.1M399.7,229.1L399.7,247.1M401.2,257.1L401.2,275.1M401.9,271.1L401.9,289.1M402.7,285.1L402.7,303.1M403.4,299.1L403.4,317.1M393.1,38L393.1,56M393.9,52L393.9,70M394.7,66L394.7,84M395.4,80L395.4,98M396.2,94L396.2,112M396.9,108L396.9,126M397.7,122L397.7,140M399.2,150L399.2,168M399.9,164L399.9,182M400.7,178L400.7,196M401.5,192L401.5,210M402.2,206L402.2,224M403,220L403,238M403.7,234L403.7,252M405.2,262L405.2,280M406,276L406,294M406.7,290L406.7,308M407.5,304L407.5,322" stroke="#6ab226" stroke-opacity="0.7" stroke-width="1.5"/><path d="M158.4,39L158.4,57M157.7,53L157.7,71M156.9,67L156.9,85M156.2,81L156.2,99M155.4,95L155.4,113M154.7,109L154.7,127M153.9,123L153.9,141M153.1,137L153.1,155M152.4,151L152.4,169M151.6,165L151.6,183M150.9,179L150.9,197M150.1,193L150.1,211M149.4,207L149.4,225M148.6,221L148.6,239M147.9,235L147.9,253M147.1,249L147.1,267M146.3,263L146.3,281M145.6,277L145.6,295M144.8,291L144.8,309M144.1,305L144.1,323M172.6,43.7L172.6,61.7M171.9,57.7L171.9,75.7M171.1,71.7L171.1,89.7M169.6,99.7L169.6,117.7M168.8,113.7L168.8,131.7M168.1,127.7L168.1,145.7M167.3,141.7L167.3,159.7M165.8,169.7L165.8,187.7M165.1,183.7L165.1,201.7M164.3,197.7L164.3,215.7M163.5,211.7L163.5,229.7M162.8,225.7L162.8,243.7M162,239.7L162,257.7M161.3,253.7L161.3,271.7M160.5,267.7L160.5,285.7M159,295.7L159,313.7M184.7,43.4L184.7,61.4M183.2,71.4L183.2,89.4M182.5,85.4L182.5,103.4M181.7,99.4L181.7,117.4M181,113.4L181,131.4M180.2,127.4L180.2,145.4M179.4,141.4L179.4,159.4M178.7,155.4L178.7,173.4M177.9,169.4L177.9,187.4M177.2,183.4L177.2,201.4M176.4,197.4L176.4,215.4M175.7,211.4L175.7,229.4M174.1,239.4L174.1,257.4M173.4,253.4L173.4,271.4M172.6,267.4L172.6,285.4M171.9,281.4L171.9,299.4M171.1,295.4L171.1,313.4M170.4,309.4L170.4,327.4M348.8,47.8L348.8,65.8M349.5,61.8L349.5,79.8M350.3,75.8L350.3,93.8M351,89.8L351,107.8M351.8,103.8L351.8,121.8M352.5,117.8L352.5,135.8M353.3,131.8L353.3,149.8M354.1,145.8L354.1,163.8M354.8,159.8L354.8,177.8M355.6,173.8L355.6,191.8M356.3,187.8L356.3,205.8M357.1,201.8L357.1,219.8M357.8,215.8L357.8,233.8M359.4,243.8L359.4,261.8M360.1,257.8L360.1,275.8M362.4,299.8L362.4,317.8M356.1,36.4L356.1,54.4M356.8,50.4L356.8,68.4M357.6,64.4L357.6,82.4M358.4,78.4L358.4,96.4M359.1,92.4L359.1,110.4M359.9,106.4L359.9,124.4M360.6,120.4L360.6,138.4M361.4,134.4L361.4,152.4M362.1,148.4L362.1,166.4M363.6,176.4L363.6,194.4M364.4,190.4L364.4,208.4M365.2,204.4L365.2,222.4M365.9,218.4L365.9,236.4M366.7,232.4L366.7,250.4M367.4,246.4L367.4,264.4M368.9,274.4L368.9,292.4M369.7,288.4L369.7,306.4M370.5,302.4L370.5,320.4M366.9,41.7L366.9,59.7M367.7,55.7L367.7,73.7M368.4,69.7L368.4,87.7M369.2,83.7L369.2,101.7M369.9,97.7L369.9,115.7M370.7,111.7L370.7,129.7M371.4,125.7L371.4,143.7M372.2,139.7L372.2,157.7M373,153.7L373,171.7M373.7,167.7L373.7,185.7M374.5,181.7L374.5,199.7M375.2,195.7L375.2,213.7M376,209.7L376,227.7M376.7,223.7L376.7,241.7M378.2,251.7L378.2,269.7M379,265.7L379,283.7M379.8,279.7L379.8,297.7M380.5,293.7L380.5,311.7M381.3,307.7L381.3,325.7M370.1,39.8L370.1,57.8M370.8,53.8L370.8,71.8M371.6,67.8L371.6,85.8M372.4,81.8L372.4,99.8M373.1,95.8L373.1,113.8M373.9,109.8L373.9,127.8M374.6,123.8L374.6,141.8M375.4,137.8L375.4,155.8M376.1,151.8L376.1,169.8M376.9,165.8L376.9,183.8M377.6,179.8L377.6,197.8M379.2,207.8L379.2,225.8M379.9,221.8L379.9,239.8M380.7,235.8L380.7,253.8M381.4,249.8L381.4,267.8M382.2,263.8L382.2,281.8M382.9,277.8L382.9,295.8M383.7,291.8L383.7,309.8M384.5,305.8L384.5,323.8M375.9,46.3L375.9,64.3M376.7,60.3L376.7,78.3M377.4,74.3L377.4,92.3M378.2,88.3L378.2,106.3M379,102.3L379,120.3M379.7,116.3L379.7,134.3M380.5,130.3L380.5,148.3M382,158.3L382,176.3M382.7,172.3L382.7,190.3M383.5,186.3L383.5,204.3M385.8,228.3L385.8,246.3M386.5,242.3L386.5,260.3M387.3,256.3L387.3,274.3M388,270.3L388,288.3M388.8,284.3L388.8,302.3M389.5,298.3L389.5,316.3M383.2,48.1L383.2,66.1M384,62.1L384,80.1M384.7,76.1L384.7,94.1M385.5,90.1L385.5,108.1M386.2,104.1L386.2,122.1M387.8,132.1L387.8,150.1M388.5,146.1L388.5,164.1M391.5,202.1L391.5,220.1M392.3,216.1L392.3,234.1M393,230.1L393,248.1M394.6,258.1L394.6,276.1M395.3,272.1L395.3,290.1M396.1,286.1L396.1,304.1M396.8,300.1L396.8,318.1" stroke="#7ab820" stroke-opacity="0.7" stroke-width="1.5"/><path d="M154.4,44.9L154.4,62.9M152.9,72.9L152.9,90.9M152.1,86.9L152.1,104.9M151.4,100.9L151.4,118.9M150.6,114.9L150.6,132.9M149.1,142.9L149.1,160.9M147.6,170.9L147.6,188.9M146.8,184.9L146.8,202.9M146.1,198.9L146.1,216.9M145.3,212.9L145.3,230.9M142.3,268.9L142.3,286.9M141.5,282.9L141.5,300.9M140.8,296.9L140.8,314.9M140,310.9L140,328.9M161.7,45.7L161.7,63.7M160.2,73.7L160.2,91.7M159.5,87.7L159.5,105.7M158.7,101.7L158.7,119.7M157.2,129.7L157.2,147.7M156.4,143.7L156.4,161.7M155.7,157.7L155.7,175.7M154.9,171.7L154.9,189.7M154.2,185.7L154.2,203.7M153.4,199.7L153.4,217.7M152.7,213.7L152.7,231.7M151.9,227.7L151.9,245.7M151.1,241.7L151.1,259.7M150.4,255.7L150.4,273.7M149.6,269.7L149.6,287.7M148.9,283.7L148.9,301.7M148.1,297.7L148.1,315.7M165.1,47.8L165.1,65.8M164.3,61.8L164.3,79.8M163.6,75.8L163.6,93.8M162.8,89.8L162.8,107.8M162.1,103.8L162.1,121.8M161.3,117.8L161.3,135.8M160.6,131.8L160.6,149.8M159.1,159.8L159.1,177.8M158.3,173.8L158.3,191.8M157.5,187.8L157.5,205.8M156.8,201.8L156.8,219.8M156,215.8L156,233.8M155.3,229.8L155.3,247.8M154.5,243.8L154.5,261.8M153.8,257.8L153.8,275.8M153,271.8L153,289.8M152.3,285.8L152.3,303.8M151.5,299.8L151.5,317.8M169.2,36L169.2,54M168.4,50L168.4,68M167.6,64L167.6,82M166.1,92L166.1,110M165.4,106L165.4,124M164.6,120L164.6,138M163.9,134L163.9,152M163.1,148L163.1,166M162.3,162L162.3,180M161.6,176L161.6,194M160.8,190L160.8,208M159.3,218L159.3,236M158.6,232L158.6,250M157.8,246L157.8,264M157.1,260L157.1,278M156.3,274L156.3,292M155.5,288L155.5,306M154.8,302L154.8,320M336.6,38.7L336.6,56.7M337.4,52.7L337.4,70.7M338.1,66.7L338.1,84.7M338.9,80.7L338.9,98.7M339.7,94.7L339.7,112.7M340.4,108.7L340.4,126.7M341.2,122.7L341.2,140.7M341.9,136.7L341.9,154.7M342.7,150.7L342.7,168.7M343.4,164.7L343.4,182.7M344.2,178.7L344.2,196.7M345,192.7L345,210.7M345.7,206.7L345.7,224.7M347.2,234.7L347.2,252.7M348,248.7L348,266.7M348.7,262.7L348.7,280.7M349.5,276.7L349.5,294.7M350.2,290.7L350.2,308.7M351,304.7L351,322.7M340.1,46L340.1,64M340.8,60L340.8,78M341.6,74L341.6,92M342.4,88L342.4,106M343.1,102L343.1,120M344.6,130L344.6,148M345.4,144L345.4,162M346.1,158L346.1,176M347.6,186L347.6,204M348.4,200L348.4,218M349.2,214L349.2,232M349.9,228L349.9,246M350.7,242L350.7,260M351.4,256L351.4,274M352.2,270L352.2,288M352.9,284L352.9,302M342.9,38.7L342.9,56.7M343.7,52.7L343.7,70.7M345.2,80.7L345.2,98.7M346.7,108.7L346.7,126.7M347.5,122.7L347.5,140.7M348.2,136.7L348.2,154.7M349,150.7L349,168.7M349.7,164.7L349.7,182.7M351.2,192.7L351.2,210.7M352,206.7L352,224.7M352.8,220.7L352.8,238.7M353.5,234.7L353.5,252.7M354.3,248.7L354.3,266.7M355,262.7L355,280.7M355.8,276.7L355.8,294.7M356.5,290.7L356.5,308.7M357.3,304.7L357.3,322.7M353,49L353,67M353.7,63L353.7,81M354.5,77L354.5,95M355.2,91L355.2,109M356,105L356,123M356.7,119L356.7,137M357.5,133L357.5,151M358.2,147L358.2,165M359,161L359,179M359.8,175L359.8,193M360.5,189L360.5,207M361.3,203L361.3,221M362,217L362,235M363.5,245L363.5,263M364.3,259L364.3,277M365.8,287L365.8,305M366.6,301L366.6,319M359.6,41.4L359.6,59.4M360.3,55.4L360.3,73.4M361.9,83.4L361.9,101.4M362.6,97.4L362.6,115.4M363.4,111.4L363.4,129.4M364.1,125.4L364.1,143.4M364.9,139.4L364.9,157.4M365.6,153.4L365.6,171.4M367.1,181.4L367.1,199.4M367.9,195.4L367.9,213.4M368.7,209.4L368.7,227.4M369.4,223.4L369.4,241.4M370.2,237.4L370.2,255.4M370.9,251.4L370.9,269.4M371.7,265.4L371.7,283.4M372.4,279.4L372.4,297.4M373.2,293.4L373.2,311.4M373.9,307.4L373.9,325.4M363,44.9L363,62.9M363.8,58.9L363.8,76.9M364.5,72.9L364.5,90.9M365.3,86.9L365.3,104.9M366.1,100.9L366.1,118.9M367.6,128.9L367.6,146.9M368.3,142.9L368.3,160.9M369.1,156.9L369.1,174.9M369.8,170.9L369.8,188.9M370.6,184.9L370.6,202.9M372.1,212.9L372.1,230.9M372.9,226.9L372.9,244.9M373.6,240.9L373.6,258.9M375.1,268.9L375.1,286.9M375.9,282.9L375.9,300.9M376.6,296.9L376.6,314.9M377.4,310.9L377.4,328.9" stroke="#8cbf1a" stroke-opacity="0.7" stroke-width="1.5"/><path d="M138.9,43.6L138.9,61.6M138.2,57.6L138.2,75.6M137.4,71.6L137.4,89.6M136.6,85.6L136.6,103.6M135.9,99.6L135.9,117.6M135.1,113.6L135.1,131.6M134.4,127.6L134.4,145.6M133.6,141.6L133.6,159.6M132.9,155.6L132.9,173.6M132.1,169.6L132.1,187.6M130.6,197.6L130.6,215.6M129.8,211.6L129.8,229.6M129.1,225.6L129.1,243.6M128.3,239.6L128.3,257.6M127.6,253.6L127.6,271.6M126.8,267.6L126.8,285.6M126.1,281.6L126.1,299.6M125.3,295.6L125.3,313.6M124.5,309.6L124.5,327.6M141.9,50.3L141.9,68.3M141.2,64.3L141.2,82.3M140.4,78.3L140.4,96.3M139.7,92.3L139.7,110.3M138.9,106.3L138.9,124.3M138.2,120.3L138.2,138.3M137.4,134.3L137.4,152.3M136.7,148.3L136.7,166.3M135.9,162.3L135.9,180.3M134.4,190.3L134.4,208.3M132.1,232.3L132.1,250.3M131.4,246.3L131.4,264.3M130.6,260.3L130.6,278.3M129.9,274.3L129.9,292.3M129.1,288.3L129.1,306.3M146.5,37.7L146.5,55.7M145.8,51.7L145.8,69.7M145,65.7L145,83.7M144.2,79.7L144.2,97.7M143.5,93.7L143.5,111.7M142.7,107.7L142.7,125.7M142,121.7L142,139.7M141.2,135.7L141.2,153.7M140.5,149.7L140.5,167.7M139.7,163.7L139.7,181.7M139,177.7L139,195.7M138.2,191.7L138.2,209.7M137.4,205.7L137.4,223.7M136.7,219.7L136.7,237.7M135.9,233.7L135.9,251.7M135.2,247.7L135.2,265.7M134.4,261.7L134.4,279.7M133.7,275.7L133.7,293.7M132.9,289.7L132.9,307.7M132.1,303.7L132.1,321.7M151.2,40L151.2,58M149.6,68L149.6,86M148.1,96L148.1,114M147.4,110L147.4,128M146.6,124L146.6,142M145.9,138L145.9,156M145.1,152L145.1,170M144.4,166L144.4,184M143.6,180L143.6,198M142.8,194L142.8,212M142.1,208L142.1,226M141.3,222L141.3,240M140.6,236L140.6,254M139.8,250L139.8,268M139.1,264L139.1,282M138.3,278L138.3,296M137.5,292L137.5,310M136.8,306L136.8,324M326.4,54.1L326.4,72.1M327.2,68.1L327.2,86.1M328,82.1L328,100.1M328.7,96.1L328.7,114.1M329.5,110.1L329.5,128.1M331,138.1L331,156.1M331.7,152.1L331.7,170.1M332.5,166.1L332.5,184.1M333.3,180.1L333.3,198.1M334,194.1L334,212.1M334.8,208.1L334.8,226.1M335.5,222.1L335.5,240.1M336.3,236.1L336.3,254.1M337,250.1L337,268.1M337.8,264.1L337.8,282.1M338.5,278.1L338.5,296.1M340.1,306.1L340.1,324.1M329.8,44.1L329.8,62.1M330.5,58.1L330.5,76.1M331.3,72.1L331.3,90.1M332,86.1L332,104.1M332.8,100.1L332.8,118.1M333.6,114.1L333.6,132.1M334.3,128.1L334.3,146.1M335.1,142.1L335.1,160.1M335.8,156.1L335.8,174.1M337.3,184.1L337.3,202.1M338.1,198.1L338.1,216.1M338.8,212.1L338.8,230.1M339.6,226.1L339.6,244.1M340.4,240.1L340.4,258.1M341.1,254.1L341.1,272.1M342.6,282.1L342.6,300.1M344.1,310.1L344.1,328.1M333.6,49.6L333.6,67.6M334.4,63.6L334.4,81.6M335.1,77.6L335.1,95.6M335.9,91.6L335.9,109.6M336.7,105.6L336.7,123.6M337.4,119.6L337.4,137.6M338.2,133.6L338.2,151.6M339.7,161.6L339.7,179.6M340.4,175.6L340.4,193.6M341.2,189.6L341.2,207.6M341.9,203.6L341.9,221.6M342.7,217.6L342.7,235.6M343.5,231.6L343.5,249.6M344.2,245.6L344.2,263.6M345,259.6L345,277.6M346.5,287.6L346.5,305.6M347.2,301.6L347.2,319.6" stroke="#bcd123" stroke-opacity="0.7" stroke-width="1.5"/><path d="M119.4,43.2L119.4,61.2M118.6,57.2L118.6,75.2M117.9,71.2L117.9,89.2M116.3,99.2L116.3,117.2M115.6,113.2L115.6,131.2M114.8,127.2L114.8,145.2M113.3,155.2L113.3,173.2M112.6,169.2L112.6,187.2M111.8,183.2L111.8,201.2M111.1,197.2L111.1,215.2M110.3,211.2L110.3,229.2M109.5,225.2L109.5,243.2M108.8,239.2L108.8,257.2M108,253.2L108,271.2M107.3,267.2L107.3,285.2M106.5,281.2L106.5,299.2M105.8,295.2L105.8,313.2M124.6,48.8L124.6,66.8M123.1,76.8L123.1,94.8M122.3,90.8L122.3,108.8M121.6,104.8L121.6,122.8M120.8,118.8L120.8,136.8M120.1,132.8L120.1,150.8M119.3,146.8L119.3,164.8M118.6,160.8L118.6,178.8M117.8,174.8L117.8,192.8M117.1,188.8L117.1,206.8M116.3,202.8L116.3,220.8M115.5,216.8L115.5,234.8M114.8,230.8L114.8,248.8M114,244.8L114,262.8M113.3,258.8L113.3,276.8M112.5,272.8L112.5,290.8M111.8,286.8L111.8,304.8M111,300.8L111,318.8M128.5,45.7L128.5,63.7M127.7,59.7L127.7,77.7M127,73.7L127,91.7M126.2,87.7L126.2,105.7M125.5,101.7L125.5,119.7M124.7,115.7L124.7,133.7M123.2,143.7L123.2,161.7M122.4,157.7L122.4,175.7M121.7,171.7L121.7,189.7M120.9,185.7L120.9,203.7M120.2,199.7L120.2,217.7M119.4,213.7L119.4,231.7M117.9,241.7L117.9,259.7M117.1,255.7L117.1,273.7M116.4,269.7L116.4,287.7M115.6,283.7L115.6,301.7M114.9,297.7L114.9,315.7M132.2,38.5L132.2,56.5M131.4,52.5L131.4,70.5M130.7,66.5L130.7,84.5M128.4,108.5L128.4,126.5M127.7,122.5L127.7,140.5M126.9,136.5L126.9,154.5M126.1,150.5L126.1,168.5M125.4,164.5L125.4,182.5M124.6,178.5L124.6,196.5M123.9,192.5L123.9,210.5M122.4,220.5L122.4,238.5M121.6,234.5L121.6,252.5M120.9,248.5L120.9,266.5M120.1,262.5L120.1,280.5M119.3,276.5L119.3,294.5M135.7,41.1L135.7,59.1M135,55.1L135,73.1M134.2,69.1L134.2,87.1M133.5,83.1L133.5,101.1M131.2,125.1L131.2,143.1M130.4,139.1L130.4,157.1M129.7,153.1L129.7,171.1M128.9,167.1L128.9,185.1M128.2,181.1L128.2,199.1M127.4,195.1L127.4,213.1M126.7,209.1L126.7,227.1M125.9,223.1L125.9,241.1M125.2,237.1L125.2,255.1M124.4,251.1L124.4,269.1M123.6,265.1L123.6,283.1M122.9,279.1L122.9,297.1M122.1,293.1L122.1,311.1M121.4,307.1L121.4,325.1M313,45.1L313,63.1M314.6,73.1L314.6,91.1M315.3,87.1L315.3,105.1M316.8,115.1L316.8,133.1M317.6,129.1L317.6,147.1M318.3,143.1L318.3,161.1M319.1,157.1L319.1,175.1M319.9,171.1L319.9,189.1M321.4,199.1L321.4,217.1M322.1,213.1L322.1,231.1M322.9,227.1L322.9,245.1M323.6,241.1L323.6,259.1M324.4,255.1L324.4,273.1M326.7,297.1L326.7,315.1M324.1,69.6L324.1,87.6M324.8,83.6L324.8,101.6M325.6,97.6L325.6,115.6M326.4,111.6L326.4,129.6M327.1,125.6L327.1,143.6M327.9,139.6L327.9,157.6M328.6,153.6L328.6,171.6M329.4,167.6L329.4,185.6M330.1,181.6L330.1,199.6M330.9,195.6L330.9,213.6M331.7,209.6L331.7,227.6M332.4,223.6L332.4,241.6M333.2,237.6L333.2,255.6M333.9,251.6L333.9,269.6M334.7,265.6L334.7,283.6M335.4,279.6L335.4,297.6M336.2,293.6L336.2,311.6" stroke="#eee43a" stroke-opacity="0.7" stroke-width="1.5"/><path d="M89.5,45.1L89.5,63.1M88.7,59.1L88.7,77.1M88,73.1L88,91.1M87.2,87.1L87.2,105.1M86.5,101.1L86.5,119.1M85.7,115.1L85.7,133.1M83.4,157.1L83.4,175.1M82.7,171.1L82.7,189.1M81.2,199.1L81.2,217.1M80.4,213.1L80.4,231.1M79.6,227.1L79.6,245.1M78.9,241.1L78.9,259.1M76.6,283.1L76.6,301.1M97.8,39.7L97.8,57.7M97,53.7L97,71.7M96.3,67.7L96.3,85.7M94.8,95.7L94.8,113.7M93.2,123.7L93.2,141.7M92.5,137.7L92.5,155.7M91,165.7L91,183.7M88.7,207.7L88.7,225.7M88,221.7L88,239.7M87.2,235.7L87.2,253.7M86.4,249.7L86.4,267.7M85.7,263.7L85.7,281.7M84.9,277.7L84.9,295.7M84.2,291.7L84.2,309.7M108.6,42.9L108.6,60.9M107.8,56.9L107.8,74.9M107.1,70.9L107.1,88.9M106.3,84.9L106.3,102.9M105.6,98.9L105.6,116.9M104.8,112.9L104.8,130.9M104.1,126.9L104.1,144.9M103.3,140.9L103.3,158.9M102.5,154.9L102.5,172.9M101.8,168.9L101.8,186.9M101,182.9L101,200.9M100.3,196.9L100.3,214.9M99.5,210.9L99.5,228.9M98.8,224.9L98.8,242.9M98,238.9L98,256.9M97.2,252.9L97.2,270.9M96.5,266.9L96.5,284.9M95.7,280.9L95.7,298.9M94.2,308.9L94.2,326.9M112.9,39.1L112.9,57.1M112.1,53.1L112.1,71.1M111.4,67.1L111.4,85.1M110.6,81.1L110.6,99.1M109.8,95.1L109.8,113.1M109.1,109.1L109.1,127.1M108.3,123.1L108.3,141.1M107.6,137.1L107.6,155.1M106.8,151.1L106.8,169.1M105.3,179.1L105.3,197.1M104.6,193.1L104.6,211.1M103.8,207.1L103.8,225.1M103,221.1L103,239.1M100.8,263.1L100.8,281.1M99.3,291.1L99.3,309.1M98.5,305.1L98.5,323.1M115.5,47.6L115.5,65.6M114.8,61.6L114.8,79.6M113.2,89.6L113.2,107.6M111.7,117.6L111.7,135.6M111,131.6L111,149.6M110.2,145.6L110.2,163.6M109.5,159.6L109.5,177.6M108.7,173.6L108.7,191.6M108,187.6L108,205.6M107.2,201.6L107.2,219.6M106.4,215.6L106.4,233.6M104.9,243.6L104.9,261.6M103.4,271.6L103.4,289.6M101.9,299.6L101.9,317.6M283,39L283,57M283.8,53L283.8,71M284.5,67L284.5,85M285.3,81L285.3,99M286,95L286,113M286.8,109L286.8,127M287.5,123L287.5,141M288.3,137L288.3,155M289,151L289,169M289.8,165L289.8,183M290.6,179L290.6,197M291.3,193L291.3,211M292.1,207L292.1,225M293.6,235L293.6,253M294.3,249L294.3,267M295.9,277L295.9,295M296.6,291L296.6,309M297.4,305L297.4,323M295.5,46.6L295.5,64.6M296.3,60.6L296.3,78.6M297,74.6L297,92.6M297.8,88.6L297.8,106.6M298.5,102.6L298.5,120.6M299.3,116.6L299.3,134.6M300,130.6L300,148.6M300.8,144.6L300.8,162.6M301.6,158.6L301.6,176.6M302.3,172.6L302.3,190.6M303.1,186.6L303.1,204.6M303.8,200.6L303.8,218.6M304.6,214.6L304.6,232.6M305.3,228.6L305.3,246.6M306.1,242.6L306.1,260.6M306.8,256.6L306.8,274.6M307.6,270.6L307.6,288.6M308.4,284.6L308.4,302.6M309.1,298.6L309.1,316.6M299,44.7L299,62.7M299.8,58.7L299.8,76.7M301.3,86.7L301.3,104.7M302,100.7L302,118.7M302.8,114.7L302.8,132.7M303.6,128.7L303.6,146.7M304.3,142.7L304.3,160.7M305.1,156.7L305.1,174.7M305.8,170.7L305.8,188.7M306.6,184.7L306.6,202.7M307.3,198.7L307.3,216.7M308.1,212.7L308.1,230.7M308.9,226.7L308.9,244.7M309.6,240.7L309.6,258.7M310.4,254.7L310.4,272.7M311.1,268.7L311.1,286.7M311.9,282.7L311.9,300.7M312.6,296.7L312.6,314.7M313.4,310.7L313.4,328.7M303.3,57L303.3,75M304,71L304,89M304.8,85L304.8,103M305.5,99L305.5,117M306.3,113L306.3,131M307.1,127L307.1,145M307.8,141L307.8,159M308.6,155L308.6,173M309.3,169L309.3,187M310.1,183L310.1,201M310.8,197L310.8,215M312.3,225L312.3,243M313.1,239L313.1,257M313.9,253L313.9,271M314.6,267L314.6,285M315.4,281L315.4,299M316.1,295L316.1,313M316.9,309L316.9,327M307.6,62.7L307.6,80.7M308.4,76.7L308.4,94.7M309.9,104.7L309.9,122.7M310.6,118.7L310.6,136.7M311.4,132.7L311.4,150.7M312.2,146.7L312.2,164.7M312.9,160.7L312.9,178.7M313.7,174.7L313.7,192.7M314.4,188.7L314.4,206.7M315.2,202.7L315.2,220.7M316.7,230.7L316.7,248.7M317.5,244.7L317.5,262.7M318.2,258.7L318.2,276.7M319,272.7L319,290.7M319.7,286.7L319.7,304.7M320.5,300.7L320.5,318.7M309.3,37.4L309.3,55.4M310,51.4L310,69.4M311.5,79.4L311.5,97.4M312.3,93.4L312.3,111.4M313,107.4L313,125.4M313.8,121.4L313.8,139.4M315.3,149.4L315.3,167.4M316.1,163.4L316.1,181.4M316.8,177.4L316.8,195.4M317.6,191.4L317.6,209.4M318.3,205.4L318.3,223.4M319.1,219.4L319.1,237.4M319.8,233.4L319.8,251.4M320.6,247.4L320.6,265.4M321.4,261.4L321.4,279.4M322.1,275.4L322.1,293.4M322.9,289.4L322.9,307.4M323.6,303.4L323.6,321.4M317.3,56.8L317.3,74.8M318,70.8L318,88.8M318.8,84.8L318.8,102.8M319.5,98.8L319.5,116.8M320.3,112.8L320.3,130.8M321.1,126.8L321.1,144.8M321.8,140.8L321.8,158.8M322.6,154.8L322.6,172.8M323.3,168.8L323.3,186.8M324.1,182.8L324.1,200.8M324.8,196.8L324.8,214.8M325.6,210.8L325.6,228.8M326.3,224.8L326.3,242.8M327.9,252.8L327.9,270.8M328.6,266.8L328.6,284.8M329.4,280.8L329.4,298.8M330.1,294.8L330.1,312.8M330.9,308.8L330.9,326.8" stroke="#f6b41c" stroke-opacity="0.7" stroke-width="1.5"/><path d="M78.4,45L78.4,63M77.7,59L77.7,77M76.9,73L76.9,91M76.2,87L76.2,105M75.4,101L75.4,119M74.6,115L74.6,133M73.9,129L73.9,147M73.1,143L73.1,161M72.4,157L72.4,175M71.6,171L71.6,189M70.9,185L70.9,203M70.1,199L70.1,217M69.3,213L69.3,231M68.6,227L68.6,245M67.8,241L67.8,259M67.1,255L67.1,273M65.6,283L65.6,301M64.8,297L64.8,315M64.1,311L64.1,329M82.3,40.8L82.3,58.8M81.5,54.8L81.5,72.8M80.8,68.8L80.8,86.8M79.2,96.8L79.2,114.8M78.5,110.8L78.5,128.8M77.7,124.8L77.7,142.8M77,138.8L77,156.8M76.2,152.8L76.2,170.8M75.5,166.8L75.5,184.8M74.7,180.8L74.7,198.8M74,194.8L74,212.8M73.2,208.8L73.2,226.8M72.4,222.8L72.4,240.8M71.7,236.8L71.7,254.8M70.9,250.8L70.9,268.8M70.2,264.8L70.2,282.8M69.4,278.8L69.4,296.8M68.7,292.8L68.7,310.8M67.9,306.8L67.9,324.8M85.7,38.7L85.7,56.7M84.9,52.7L84.9,70.7M84.2,66.7L84.2,84.7M83.4,80.7L83.4,98.7M82.6,94.7L82.6,112.7M81.9,108.7L81.9,126.7M81.1,122.7L81.1,140.7M80.4,136.7L80.4,154.7M79.6,150.7L79.6,168.7M78.9,164.7L78.9,182.7M77.3,192.7L77.3,210.7M75.8,220.7L75.8,238.7M75.1,234.7L75.1,252.7M74.3,248.7L74.3,266.7M73.6,262.7L73.6,280.7M72.8,276.7L72.8,294.7M72.1,290.7L72.1,308.7M71.3,304.7L71.3,322.7M93.2,35.9L93.2,53.9M91.7,63.9L91.7,81.9M90.1,91.9L90.1,109.9M89.4,105.9L89.4,123.9M88.6,119.9L88.6,137.9M87.1,147.9L87.1,165.9M86.4,161.9L86.4,179.9M85.6,175.9L85.6,193.9M84.9,189.9L84.9,207.9M84.1,203.9L84.1,221.9M83.3,217.9L83.3,235.9M82.6,231.9L82.6,249.9M81.8,245.9L81.8,263.9M81.1,259.9L81.1,277.9M80.3,273.9L80.3,291.9M79.6,287.9L79.6,305.9M78.8,301.9L78.8,319.9M100.9,49.4L100.9,67.4M100.1,63.4L100.1,81.4M98.6,91.4L98.6,109.4M97.9,105.4L97.9,123.4M97.1,119.4L97.1,137.4M96.4,133.4L96.4,151.4M95.6,147.4L95.6,165.4M94.8,161.4L94.8,179.4M94.1,175.4L94.1,193.4M93.3,189.4L93.3,207.4M92.6,203.4L92.6,221.4M91.8,217.4L91.8,235.4M91.1,231.4L91.1,249.4M90.3,245.4L90.3,263.4M89.5,259.4L89.5,277.4M88.8,273.4L88.8,291.4M88,287.4L88,305.4M87.3,301.4L87.3,319.4M104.8,57.7L104.8,75.7M104,71.7L104,89.7M103.2,85.7L103.2,103.7M102.5,99.7L102.5,117.7M101.7,113.7L101.7,131.7M101,127.7L101,145.7M100.2,141.7L100.2,159.7M99.5,155.7L99.5,173.7M98.7,169.7L98.7,187.7M98,183.7L98,201.7M97.2,197.7L97.2,215.7M96.4,211.7L96.4,229.7M95.7,225.7L95.7,243.7M94.9,239.7L94.9,257.7M94.2,253.7L94.2,271.7M93.4,267.7L93.4,285.7M92.7,281.7L92.7,299.7M91.9,295.7L91.9,313.7M91.2,309.7L91.2,327.7M273.6,56.4L273.6,74.4M274.4,70.4L274.4,88.4M275.1,84.4L275.1,102.4M276.7,112.4L276.7,130.4M277.4,126.4L277.4,144.4M278.9,154.4L278.9,172.4M279.7,168.4L279.7,186.4M280.4,182.4L280.4,200.4M281.2,196.4L281.2,214.4M282,210.4L282,228.4M282.7,224.4L282.7,242.4M283.5,238.4L283.5,256.4M284.2,252.4L284.2,270.4M285,266.4L285,284.4M286.5,294.4L286.5,312.4M287.2,308.4L287.2,326.4M280.2,61.5L280.2,79.5M280.9,75.5L280.9,93.5M281.7,89.5L281.7,107.5M283.9,131.5L283.9,149.5M284.7,145.5L284.7,163.5M285.5,159.5L285.5,177.5M286.2,173.5L286.2,191.5M287,187.5L287,205.5M287.7,201.5L287.7,219.5M288.5,215.5L288.5,233.5M289.2,229.5L289.2,247.5M291.5,271.5L291.5,289.5M292.3,285.5L292.3,303.5M293,299.5L293,317.5M287.5,55.3L287.5,73.3M288.2,69.3L288.2,87.3M289,83.3L289,101.3M289.7,97.3L289.7,115.3M290.5,111.3L290.5,129.3M291.2,125.3L291.2,143.3M292,139.3L292,157.3M292.8,153.3L292.8,171.3M293.5,167.3L293.5,185.3M294.3,181.3L294.3,199.3M295,195.3L295,213.3M295.8,209.3L295.8,227.3M296.5,223.3L296.5,241.3M297.3,237.3L297.3,255.3M298,251.3L298,269.3M298.8,265.3L298.8,283.3M300.3,293.3L300.3,311.3M301.1,307.3L301.1,325.3M289.8,39.7L289.8,57.7M290.5,53.7L290.5,71.7M292,81.7L292,99.7M292.8,95.7L292.8,113.7M293.5,109.7L293.5,127.7M294.3,123.7L294.3,141.7M295.8,151.7L295.8,169.7M296.6,165.7L296.6,183.7M297.3,179.7L297.3,197.7M298.1,193.7L298.1,211.7M299.6,221.7L299.6,239.7M300.3,235.7L300.3,253.7M301.9,263.7L301.9,281.7M303.4,291.7L303.4,309.7" stroke="#ee7d1f" stroke-opacity="0.7" stroke-width="1.5"/><path d="M55.1,45.2L55.1,63.2M54.3,59.2L54.3,77.2M53.6,73.2L53.6,91.2M52.8,87.2L52.8,105.2M52.1,101.2L52.1,119.2M51.3,115.2L51.3,133.2M50.6,129.2L50.6,147.2M49.8,143.2L49.8,161.2M49.1,157.2L49.1,175.2M47.5,185.2L47.5,203.2M46.8,199.2L46.8,217.2M46,213.2L46,231.2M45.3,227.2L45.3,245.2M44.5,241.2L44.5,259.2M43.8,255.2L43.8,273.2M43,269.2L43,287.2M42.3,283.2L42.3,301.2M41.5,297.2L41.5,315.2M58.8,37.5L58.8,55.5M58.1,51.5L58.1,69.5M57.3,65.5L57.3,83.5M56.6,79.5L56.6,97.5M55.8,93.5L55.8,111.5M55.1,107.5L55.1,125.5M54.3,121.5L54.3,139.5M53.5,135.5L53.5,153.5M52.8,149.5L52.8,167.5M52,163.5L52,181.5M51.3,177.5L51.3,195.5M50.5,191.5L50.5,209.5M49.8,205.5L49.8,223.5M49,219.5L49,237.5M48.2,233.5L48.2,251.5M46.7,261.5L46.7,279.5M46,275.5L46,293.5M45.2,289.5L45.2,307.5M44.5,303.5L44.5,321.5M62.3,44.8L62.3,62.8M61.5,58.8L61.5,76.8M60.8,72.8L60.8,90.8M60,86.8L60,104.8M59.2,100.8L59.2,118.8M58.5,114.8L58.5,132.8M57.7,128.8L57.7,146.8M57,142.8L57,160.8M56.2,156.8L56.2,174.8M55.5,170.8L55.5,188.8M54.7,184.8L54.7,202.8M54,198.8L54,216.8M53.2,212.8L53.2,230.8M51.7,240.8L51.7,258.8M50.9,254.8L50.9,272.8M50.2,268.8L50.2,286.8M49.4,282.8L49.4,300.8M48.7,296.8L48.7,314.8M47.9,310.8L47.9,328.8M65.5,49.8L65.5,67.8M64.7,63.8L64.7,81.8M63.9,77.8L63.9,95.8M62.4,105.8L62.4,123.8M61.7,119.8L61.7,137.8M60.2,147.8L60.2,165.8M59.4,161.8L59.4,179.8M58.7,175.8L58.7,193.8M57.9,189.8L57.9,207.8M57.1,203.8L57.1,221.8M56.4,217.8L56.4,235.8M54.9,245.8L54.9,263.8M54.1,259.8L54.1,277.8M53.4,273.8L53.4,291.8M52.6,287.8L52.6,305.8M51.8,301.8L51.8,319.8M71.3,39.7L71.3,57.7M70.6,53.7L70.6,71.7M69.8,67.7L69.8,85.7M69,81.7L69,99.7M68.3,95.7L68.3,113.7M67.5,109.7L67.5,127.7M66.8,123.7L66.8,141.7M66,137.7L66,155.7M64.5,165.7L64.5,183.7M63.7,179.7L63.7,197.7M63,193.7L63,211.7M62.2,207.7L62.2,225.7M61.5,221.7L61.5,239.7M60.7,235.7L60.7,253.7M60,249.7L60,267.7M59.2,263.7L59.2,281.7M58.5,277.7L58.5,295.7M57.7,291.7L57.7,309.7M56.9,305.7L56.9,323.7M75.5,39.7L75.5,57.7M74.8,53.7L74.8,71.7M74,67.7L74,85.7M73.3,81.7L73.3,99.7M71.7,109.7L71.7,127.7M71,123.7L71,141.7M70.2,137.7L70.2,155.7M69.5,151.7L69.5,169.7M68.7,165.7L68.7,183.7M68,179.7L68,197.7M67.2,193.7L67.2,211.7M66.5,207.7L66.5,225.7M65.7,221.7L65.7,239.7M64.9,235.7L64.9,253.7M64.2,249.7L64.2,267.7M63.4,263.7L63.4,281.7M62.7,277.7L62.7,295.7M61.9,291.7L61.9,309.7M61.2,305.7L61.2,323.7M249.4,40.4L249.4,58.4M250.2,54.4L250.2,72.4M250.9,68.4L250.9,86.4M251.7,82.4L251.7,100.4M253.2,110.4L253.2,128.4M254.7,138.4L254.7,156.4M255.5,152.4L255.5,170.4M256.2,166.4L256.2,184.4M257,180.4L257,198.4M257.7,194.4L257.7,212.4M258.5,208.4L258.5,226.4M259.3,222.4L259.3,240.4M260,236.4L260,254.4M260.8,250.4L260.8,268.4M261.5,264.4L261.5,282.4M262.3,278.4L262.3,296.4M263,292.4L263,310.4M263.8,306.4L263.8,324.4M253.2,48.6L253.2,66.6M254,62.6L254,80.6M254.7,76.6L254.7,94.6M255.5,90.6L255.5,108.6M256.2,104.6L256.2,122.6M257,118.6L257,136.6M257.7,132.6L257.7,150.6M258.5,146.6L258.5,164.6M259.2,160.6L259.2,178.6M260,174.6L260,192.6M260.8,188.6L260.8,206.6M261.5,202.6L261.5,220.6M262.3,216.6L262.3,234.6M263,230.6L263,248.6M263.8,244.6L263.8,262.6M264.5,258.6L264.5,276.6M266.1,286.6L266.1,304.6M256.1,43.8L256.1,61.8M256.9,57.8L256.9,75.8M257.6,71.8L257.6,89.8M258.4,85.8L258.4,103.8M259.2,99.8L259.2,117.8M259.9,113.8L259.9,131.8M260.7,127.8L260.7,145.8M261.4,141.8L261.4,159.8M262.2,155.8L262.2,173.8M262.9,169.8L262.9,187.8M263.7,183.8L263.7,201.8M264.4,197.8L264.4,215.8M266,225.8L266,243.8M267.5,253.8L267.5,271.8M268.2,267.8L268.2,285.8M269,281.8L269,299.8M269.7,295.8L269.7,313.8M260.3,48.3L260.3,66.3M261,62.3L261,80.3M261.8,76.3L261.8,94.3M262.6,90.3L262.6,108.3M264.1,118.3L264.1,136.3M264.8,132.3L264.8,150.3M265.6,146.3L265.6,164.3M266.3,160.3L266.3,178.3M267.1,174.3L267.1,192.3M267.9,188.3L267.9,206.3M268.6,202.3L268.6,220.3M269.4,216.3L269.4,234.3M270.1,230.3L270.1,248.3M270.9,244.3L270.9,262.3M271.6,258.3L271.6,276.3M272.4,272.3L272.4,290.3M273.1,286.3L273.1,304.3M273.9,300.3L273.9,318.3M263.8,38.1L263.8,56.1M264.6,52.1L264.6,70.1M265.3,66.1L265.3,84.1M266.1,80.1L266.1,98.1M266.8,94.1L266.8,112.1M267.6,108.1L267.6,126.1M269.1,136.1L269.1,154.1M269.9,150.1L269.9,168.1M270.6,164.1L270.6,182.1M271.4,178.1L271.4,196.1M272.1,192.1L272.1,210.1M272.9,206.1L272.9,224.1M273.7,220.1L273.7,238.1M274.4,234.1L274.4,252.1M275.2,248.1L275.2,266.1M275.9,262.1L275.9,280.1M276.7,276.1L276.7,294.1M277.4,290.1L277.4,308.1M278.2,304.1L278.2,322.1M269.6,61L269.6,79M270.3,75L270.3,93M271.1,89L271.1,107M271.8,103L271.8,121M272.6,117L272.6,135M273.3,131L273.3,149M274.1,145L274.1,163M274.9,159L274.9,177M275.6,173L275.6,191M276.4,187L276.4,205M277.1,201L277.1,219M277.9,215L277.9,233M278.6,229L278.6,247M279.4,243L279.4,261M280.2,257L280.2,275M280.9,271L280.9,289M281.7,285L281.7,303M282.4,299L282.4,317M276.2,43.3L276.2,61.3M277.7,71.3L277.7,89.3M278.5,85.3L278.5,103.3M279.2,99.3L279.2,117.3M280,113.3L280,131.3M280.7,127.3L280.7,145.3M281.5,141.3L281.5,159.3M282.2,155.3L282.2,173.3M284.5,197.3L284.5,215.3M285.3,211.3L285.3,229.3M286,225.3L286,243.3M286.8,239.3L286.8,257.3M287.5,253.3L287.5,271.3M288.3,267.3L288.3,285.3M289,281.3L289,299.3M289.8,295.3L289.8,313.3M290.6,309.3L290.6,327.3" stroke="#e8481f" stroke-opacity="0.7" stroke-width="1.5"/><path d="M39.7,40.2L39.7,58.2M38.9,54.2L38.9,72.2M38.2,68.2L38.2,86.2M37.4,82.2L37.4,100.2M36.6,96.2L36.6,114.2M35.9,110.2L35.9,128.2M35.1,124.2L35.1,142.2M34.4,138.2L34.4,156.2M33.6,152.2L33.6,170.2M32.9,166.2L32.9,184.2M32.1,180.2L32.1,198.2M31.4,194.2L31.4,212.2M30.6,208.2L30.6,226.2M29.8,222.2L29.8,240.2M29.1,236.2L29.1,254.2M28.3,250.2L28.3,268.2M27.6,264.2L27.6,282.2M26.8,278.2L26.8,296.2M26.1,292.2L26.1,310.2M25.3,306.2L25.3,324.2M45.4,36.9L45.4,54.9M44.7,50.9L44.7,68.9M42.4,92.9L42.4,110.9M41.6,106.9L41.6,124.9M40.1,134.9L40.1,152.9M39.4,148.9L39.4,166.9M38.6,162.9L38.6,180.9M37.1,190.9L37.1,208.9M35.6,218.9L35.6,236.9M34.8,232.9L34.8,250.9M34.1,246.9L34.1,264.9M33.3,260.9L33.3,278.9M32.6,274.9L32.6,292.9M31.8,288.9L31.8,306.9M31.1,302.9L31.1,320.9M52.1,42.1L52.1,60.1M51.4,56.1L51.4,74.1M50.6,70.1L50.6,88.1M49.8,84.1L49.8,102.1M49.1,98.1L49.1,116.1M48.3,112.1L48.3,130.1M47.6,126.1L47.6,144.1M46.8,140.1L46.8,158.1M46.1,154.1L46.1,172.1M45.3,168.1L45.3,186.1M44.6,182.1L44.6,200.1M43.8,196.1L43.8,214.1M43,210.1L43,228.1M41.5,238.1L41.5,256.1M40.8,252.1L40.8,270.1M40,266.1L40,284.1M39.3,280.1L39.3,298.1M38.5,294.1L38.5,312.1M37.7,308.1L37.7,326.1M236.3,37.2L236.3,55.2M237,51.2L237,69.2M237.8,65.2L237.8,83.2M238.5,79.2L238.5,97.2M239.3,93.2L239.3,111.2M240,107.2L240,125.2M240.8,121.2L240.8,139.2M242.3,149.2L242.3,167.2M243.1,163.2L243.1,181.2M243.8,177.2L243.8,195.2M244.6,191.2L244.6,209.2M245.3,205.2L245.3,223.2M246.1,219.2L246.1,237.2M246.8,233.2L246.8,251.2M247.6,247.2L247.6,265.2M248.4,261.2L248.4,279.2M249.1,275.2L249.1,293.2M249.9,289.2L249.9,307.2M250.6,303.2L250.6,321.2M242.5,48.3L242.5,66.3M243.3,62.3L243.3,80.3M244,76.3L244,94.3M244.8,90.3L244.8,108.3M245.6,104.3L245.6,122.3M246.3,118.3L246.3,136.3M247.1,132.3L247.1,150.3M247.8,146.3L247.8,164.3M248.6,160.3L248.6,178.3M249.3,174.3L249.3,192.3M250.9,202.3L250.9,220.3M251.6,216.3L251.6,234.3M252.4,230.3L252.4,248.3M253.1,244.3L253.1,262.3M253.9,258.3L253.9,276.3M255.4,286.3L255.4,304.3M256.1,300.3L256.1,318.3M246,42.7L246,60.7M246.8,56.7L246.8,74.7M247.5,70.7L247.5,88.7M248.3,84.7L248.3,102.7M249.8,112.7L249.8,130.7M250.6,126.7L250.6,144.7M252.1,154.7L252.1,172.7M252.8,168.7L252.8,186.7M254.3,196.7L254.3,214.7M255.1,210.7L255.1,228.7M255.9,224.7L255.9,242.7M256.6,238.7L256.6,256.7M257.4,252.7L257.4,270.7M258.1,266.7L258.1,284.7M260.4,308.7L260.4,326.7" stroke="#e8231d" stroke-opacity="0.7" stroke-width="1.5"/><path d="M32.8,38.9L32.8,56.9M32,52.9L32,70.9M31.3,66.9L31.3,84.9M30.5,80.9L30.5,98.9M29.7,94.9L29.7,112.9M29,108.9L29,126.9M28.2,122.9L28.2,140.9M26.7,150.9L26.7,168.9M26,164.9L26,182.9M25.2,178.9L25.2,196.9M24.5,192.9L24.5,210.9M23.7,206.9L23.7,224.9M35.6,40.3L35.6,58.3M34.8,54.3L34.8,72.3M34.1,68.3L34.1,86.3M33.3,82.3L33.3,100.3M32.6,96.3L32.6,114.3M31.8,110.3L31.8,128.3M31,124.3L31,142.3M29.5,152.3L29.5,170.3M28.8,166.3L28.8,184.3M28,180.3L28,198.3M25.8,222.3L25.8,240.3M25,236.3L25,254.3M47.9,43.2L47.9,61.2M47.1,57.2L47.1,75.2M46.4,71.2L46.4,89.2M45.6,85.2L45.6,103.2M44.8,99.2L44.8,117.2M44.1,113.2L44.1,131.2M43.3,127.2L43.3,145.2M42.6,141.2L42.6,159.2M41.1,169.2L41.1,187.2M40.3,183.2L40.3,201.2M39.5,197.2L39.5,215.2M38.8,211.2L38.8,229.2M37.3,239.2L37.3,257.2M36.5,253.2L36.5,271.2M35.8,267.2L35.8,285.2M35,281.2L35,299.2M34.3,295.2L34.3,313.2M33.5,309.2L33.5,327.2M222.8,40.6L222.8,58.6M223.6,54.6L223.6,72.6M224.3,68.6L224.3,86.6M225.1,82.6L225.1,100.6M225.8,96.6L225.8,114.6M226.6,110.6L226.6,128.6M227.4,124.6L227.4,142.6M228.1,138.6L228.1,156.6M228.9,152.6L228.9,170.6M230.4,180.6L230.4,198.6M231.1,194.6L231.1,212.6M231.9,208.6L231.9,226.6M233.4,236.6L233.4,254.6M234.2,250.6L234.2,268.6M235.7,278.6L235.7,296.6M236.4,292.6L236.4,310.6M237.2,306.6L237.2,324.6M226.2,44.3L226.2,62.3M228.4,86.3L228.4,104.3M229.9,114.3L229.9,132.3M230.7,128.3L230.7,146.3M232.2,156.3L232.2,174.3M233,170.3L233,188.3M233.7,184.3L233.7,202.3M234.5,198.3L234.5,216.3M235.2,212.3L235.2,230.3M236,226.3L236,244.3M236.7,240.3L236.7,258.3M237.5,254.3L237.5,272.3M239,282.3L239,300.3M239.8,296.3L239.8,314.3M240.5,310.3L240.5,328.3M229.8,48.4L229.8,66.4M230.5,62.4L230.5,80.4M231.3,76.4L231.3,94.4M232,90.4L232,108.4M232.8,104.4L232.8,122.4M233.5,118.4L233.5,136.4M234.3,132.4L234.3,150.4M235,146.4L235,164.4M235.8,160.4L235.8,178.4M236.6,174.4L236.6,192.4M237.3,188.4L237.3,206.4M238.8,216.4L238.8,234.4M239.6,230.4L239.6,248.4M240.3,244.4L240.3,262.4M241.1,258.4L241.1,276.4M241.8,272.4L241.8,290.4M242.6,286.4L242.6,304.4M243.4,300.4L243.4,318.4M233.5,44.1L233.5,62.1M235,72.1L235,90.1M235.8,86.1L235.8,104.1M236.5,100.1L236.5,118.1M237.3,114.1L237.3,132.1M238,128.1L238,146.1M238.8,142.1L238.8,160.1M239.5,156.1L239.5,174.1M240.3,170.1L240.3,188.1M241.8,198.1L241.8,216.1M242.6,212.1L242.6,230.1M244.1,240.1L244.1,258.1M244.8,254.1L244.8,272.1M245.6,268.1L245.6,286.1M246.3,282.1L246.3,300.1M247.9,310.1L247.9,328.1" stroke="#e8241f" stroke-opacity="0.7" stroke-width="1.5"/><path d="M25.4,37.2L25.4,55.2M24.6,51.2L24.6,69.2M23.9,65.2L23.9,83.2M196.2,40.2L196.2,58.2M197,54.2L197,72.2M197.7,68.2L197.7,86.2M199.3,96.2L199.3,114.2M200,110.2L200,128.2M200.8,124.2L200.8,142.2M201.5,138.2L201.5,156.2M204.5,194.2L204.5,212.2M205.3,208.2L205.3,226.2M206.1,222.2L206.1,240.2M206.8,236.2L206.8,254.2M207.6,250.2L207.6,268.2M209.1,278.2L209.1,296.2M209.8,292.2L209.8,310.2M210.6,306.2L210.6,324.2M199.6,49.8L199.6,67.8M200.3,63.8L200.3,81.8M201.8,91.8L201.8,109.8M202.6,105.8L202.6,123.8M204.1,133.8L204.1,151.8M204.9,147.8L204.9,165.8M205.6,161.8L205.6,179.8M206.4,175.8L206.4,193.8M207.1,189.8L207.1,207.8M207.9,203.8L207.9,221.8M208.6,217.8L208.6,235.8M210.2,245.8L210.2,263.8M210.9,259.8L210.9,277.8M211.7,273.8L211.7,291.8M212.4,287.8L212.4,305.8M206,36.8L206,54.8M206.7,50.8L206.7,68.8M207.5,64.8L207.5,82.8M208.3,78.8L208.3,96.8M209,92.8L209,110.8M209.8,106.8L209.8,124.8M210.5,120.8L210.5,138.8M211.3,134.8L211.3,152.8M212,148.8L212,166.8M213.6,176.8L213.6,194.8M214.3,190.8L214.3,208.8M215.1,204.8L215.1,222.8M215.8,218.8L215.8,236.8M216.6,232.8L216.6,250.8M217.3,246.8L217.3,264.8M218.1,260.8L218.1,278.8M218.8,274.8L218.8,292.8M219.6,288.8L219.6,306.8M220.4,302.8L220.4,320.8M210.4,37L210.4,55M211.1,51L211.1,69M211.9,65L211.9,83M212.6,79L212.6,97M213.4,93L213.4,111M214.9,121L214.9,139M215.7,135L215.7,153M216.4,149L216.4,167M217.9,177L217.9,195M219.4,205L219.4,223M220.2,219L220.2,237M220.9,233L220.9,251M221.7,247L221.7,265M222.5,261L222.5,279M223.2,275L223.2,293M224,289L224,307M224.7,303L224.7,321M215.6,40.2L215.6,58.2M217.1,68.2L217.1,86.2M217.8,82.2L217.8,100.2M218.6,96.2L218.6,114.2M219.3,110.2L219.3,128.2M220.8,138.2L220.8,156.2M221.6,152.2L221.6,170.2M222.4,166.2L222.4,184.2M223.1,180.2L223.1,198.2M223.9,194.2L223.9,212.2M225.4,222.2L225.4,240.2M226.1,236.2L226.1,254.2M226.9,250.2L226.9,268.2M227.6,264.2L227.6,282.2M228.4,278.2L228.4,296.2M229.2,292.2L229.2,310.2M229.9,306.2L229.9,324.2M218.7,35.9L218.7,53.9M219.4,49.9L219.4,67.9M220.2,63.9L220.2,81.9M221.7,91.9L221.7,109.9M222.5,105.9L222.5,123.9M224,133.9L224,151.9M224.7,147.9L224.7,165.9M226.2,175.9L226.2,193.9M227,189.9L227,207.9M227.7,203.9L227.7,221.9M228.5,217.9L228.5,235.9M229.3,231.9L229.3,249.9M230,245.9L230,263.9M230.8,259.9L230.8,277.9M231.5,273.9L231.5,291.9M232.3,287.9L232.3,305.9M233,301.9L233,319.9M429,166.9L429,184.9M428.3,180.9L428.3,198.9M427.5,194.9L427.5,212.9M426.8,208.9L426.8,226.9M426,222.9L426,240.9M425.3,236.9L425.3,254.9M424.5,250.9L424.5,268.9M423.8,264.9L423.8,282.9M422.2,292.9L422.2,310.9M429.2,234.9L429.2,252.9M428.5,248.9L428.5,266.9M427.7,262.9L427.7,280.9M426.2,290.9L426.2,308.9" stroke="#d81d43" stroke-opacity="0.7" stroke-width="1.5"/><path d="M28.1,46.8L28.1,64.8M27.4,60.8L27.4,78.8M26.6,74.8L26.6,92.8M25.8,88.8L25.8,106.8M25.1,102.8L25.1,120.8M24.3,116.8L24.3,134.8M23.6,130.8L23.6,148.8M190.2,61.8L190.2,79.8M191,75.8L191,93.8M191.7,89.8L191.7,107.8M192.5,103.8L192.5,121.8M194,131.8L194,149.8M194.8,145.8L194.8,163.8M195.5,159.8L195.5,177.8M196.3,173.8L196.3,191.8M197,187.8L197,205.8M197.8,201.8L197.8,219.8M198.5,215.8L198.5,233.8M199.3,229.8L199.3,247.8M200.1,243.8L200.1,261.8M200.8,257.8L200.8,275.8M201.6,271.8L201.6,289.8M202.3,285.8L202.3,303.8M192.1,41.1L192.1,59.1M192.8,55.1L192.8,73.1M193.6,69.1L193.6,87.1M194.3,83.1L194.3,101.1M195.1,97.1L195.1,115.1M196.6,125.1L196.6,143.1M197.3,139.1L197.3,157.1M198.1,153.1L198.1,171.1M198.9,167.1L198.9,185.1M199.6,181.1L199.6,199.1M200.4,195.1L200.4,213.1M201.1,209.1L201.1,227.1M201.9,223.1L201.9,241.1M202.6,237.1L202.6,255.1M203.4,251.1L203.4,269.1M204.2,265.1L204.2,283.1M204.9,279.1L204.9,297.1M205.7,293.1L205.7,311.1M206.4,307.1L206.4,325.1M204,53.6L204,71.6M204.8,67.6L204.8,85.6M205.5,81.6L205.5,99.6M206.3,95.6L206.3,113.6M207,109.6L207,127.6M207.8,123.6L207.8,141.6M208.5,137.6L208.5,155.6M209.3,151.6L209.3,169.6M210.1,165.6L210.1,183.6M210.8,179.6L210.8,197.6M211.6,193.6L211.6,211.6M212.3,207.6L212.3,225.6M213.1,221.6L213.1,239.6M213.8,235.6L213.8,253.6M215.4,263.6L215.4,281.6M216.9,291.6L216.9,309.6M217.6,305.6L217.6,323.6M422.1,43.5L422.1,61.5M421.3,57.5L421.3,75.5M420.5,71.5L420.5,89.5M419,99.5L419,117.5M418.3,113.5L418.3,131.5M417.5,127.5L417.5,145.5M416.8,141.5L416.8,159.5M416,155.5L416,173.5M415.2,169.5L415.2,187.5M414.5,183.5L414.5,201.5M413.7,197.5L413.7,215.5M413,211.5L413,229.5M412.2,225.5L412.2,243.5M411.5,239.5L411.5,257.5M410.7,253.5L410.7,271.5M410,267.5L410,285.5M409.2,281.5L409.2,299.5M408.4,295.5L408.4,313.5M407.7,309.5L407.7,327.5M424.7,45.7L424.7,63.7M424,59.7L424,77.7M423.2,73.7L423.2,91.7M422.4,87.7L422.4,105.7M421.7,101.7L421.7,119.7M420.9,115.7L420.9,133.7M420.2,129.7L420.2,147.7M419.4,143.7L419.4,161.7M418.7,157.7L418.7,175.7M417.2,185.7L417.2,203.7M416.4,199.7L416.4,217.7M415.6,213.7L415.6,231.7M414.1,241.7L414.1,259.7M412.6,269.7L412.6,287.7M411.9,283.7L411.9,301.7M411.1,297.7L411.1,315.7M427.8,53.6L427.8,71.6M427.1,67.6L427.1,85.6M426.3,81.6L426.3,99.6M425.5,95.6L425.5,113.6M424.8,109.6L424.8,127.6M424,123.6L424,141.6M423.3,137.6L423.3,155.6M422.5,151.6L422.5,169.6M421.8,165.6L421.8,183.6M421,179.6L421,197.6M420.2,193.6L420.2,211.6M419.5,207.6L419.5,225.6M418.7,221.6L418.7,239.6M418,235.6L418,253.6M417.2,249.6L417.2,267.6M416.5,263.6L416.5,281.6M415.7,277.6L415.7,295.6M429.4,88.8L429.4,106.8M428.7,102.8L428.7,120.8M427.9,116.8L427.9,134.8M426.4,144.8L426.4,162.8M425.6,158.8L425.6,176.8M424.9,172.8L424.9,190.8M424.1,186.8L424.1,204.8M423.4,200.8L423.4,218.8M422.6,214.8L422.6,232.8M421.9,228.8L421.9,246.8M421.1,242.8L421.1,260.8M420.3,256.8L420.3,274.8M419.6,270.8L419.6,288.8M418.1,298.8L418.1,316.8" stroke="#b2157f" stroke-opacity="0.7" stroke-width="1.5"/><path d="M173.2,45.9L173.2,63.9M173.9,59.9L173.9,77.9M174.7,73.9L174.7,91.9M175.5,87.9L175.5,105.9M176.2,101.9L176.2,119.9M177,115.9L177,133.9M177.7,129.9L177.7,147.9M179.2,157.9L179.2,175.9M180,171.9L180,189.9M180.7,185.9L180.7,203.9M181.5,199.9L181.5,217.9M182.3,213.9L182.3,231.9M183,227.9L183,245.9M184.5,255.9L184.5,273.9M186,283.9L186,301.9M186.8,297.9L186.8,315.9M175.9,38.6L175.9,56.6M176.7,52.6L176.7,70.6M177.4,66.6L177.4,84.6M178.2,80.6L178.2,98.6M178.9,94.6L178.9,112.6M179.7,108.6L179.7,126.6M180.4,122.6L180.4,140.6M181.2,136.6L181.2,154.6M182,150.6L182,168.6M182.7,164.6L182.7,182.6M183.5,178.6L183.5,196.6M185,206.6L185,224.6M185.7,220.6L185.7,238.6M186.5,234.6L186.5,252.6M187.2,248.6L187.2,266.6M188,262.6L188,280.6M188.8,276.6L188.8,294.6M189.5,290.6L189.5,308.6M190.3,304.6L190.3,322.6M180,39.3L180,57.3M181.5,67.3L181.5,85.3M182.3,81.3L182.3,99.3M183.1,95.3L183.1,113.3M183.8,109.3L183.8,127.3M185.3,137.3L185.3,155.3M186.1,151.3L186.1,169.3M186.8,165.3L186.8,183.3M187.6,179.3L187.6,197.3M188.3,193.3L188.3,211.3M189.1,207.3L189.1,225.3M189.9,221.3L189.9,239.3M190.6,235.3L190.6,253.3M191.4,249.3L191.4,267.3M192.1,263.3L192.1,281.3M192.9,277.3L192.9,295.3M194.4,305.3L194.4,323.3M183.8,42.4L183.8,60.4M184.5,56.4L184.5,74.4M185.3,70.4L185.3,88.4M186,84.4L186,102.4M186.8,98.4L186.8,116.4M187.6,112.4L187.6,130.4M188.3,126.4L188.3,144.4M189.8,154.4L189.8,172.4M190.6,168.4L190.6,186.4M192.1,196.4L192.1,214.4M192.8,210.4L192.8,228.4M193.6,224.4L193.6,242.4M194.4,238.4L194.4,256.4M195.1,252.4L195.1,270.4M195.9,266.4L195.9,284.4M196.6,280.4L196.6,298.4M197.4,294.4L197.4,312.4M198.1,308.4L198.1,326.4M386,38L386,56M385.2,52L385.2,70M383.7,80L383.7,98M382.9,94L382.9,112M382.2,108L382.2,126M381.4,122L381.4,140M380.7,136L380.7,154M379.9,150L379.9,168M379.1,164L379.1,182M378.4,178L378.4,196M377.6,192L377.6,210M376.9,206L376.9,224M376.1,220L376.1,238M375.4,234L375.4,252M374.6,248L374.6,266M373.1,276L373.1,294M372.3,290L372.3,308M371.6,304L371.6,322M394.8,48.3L394.8,66.3M394.1,62.3L394.1,80.3M393.3,76.3L393.3,94.3M392.6,90.3L392.6,108.3M391.8,104.3L391.8,122.3M391.1,118.3L391.1,136.3M388.8,160.3L388.8,178.3M388,174.3L388,192.3M387.3,188.3L387.3,206.3M386.5,202.3L386.5,220.3M385.8,216.3L385.8,234.3M384.3,244.3L384.3,262.3M382.7,272.3L382.7,290.3M382,286.3L382,304.3M381.2,300.3L381.2,318.3M401.8,49.3L401.8,67.3M401,63.3L401,81.3M400.3,77.3L400.3,95.3M399.5,91.3L399.5,109.3M398.8,105.3L398.8,123.3M398,119.3L398,137.3M397.3,133.3L397.3,151.3M396.5,147.3L396.5,165.3M395.7,161.3L395.7,179.3M395,175.3L395,193.3M394.2,189.3L394.2,207.3M393.5,203.3L393.5,221.3M392.7,217.3L392.7,235.3M392,231.3L392,249.3M391.2,245.3L391.2,263.3M389.7,273.3L389.7,291.3M388.9,287.3L388.9,305.3M388.2,301.3L388.2,319.3M405.4,48.3L405.4,66.3M404.6,62.3L404.6,80.3M403.9,76.3L403.9,94.3M402.4,104.3L402.4,122.3M401.6,118.3L401.6,136.3M400.9,132.3L400.9,150.3M400.1,146.3L400.1,164.3M399.4,160.3L399.4,178.3M398.6,174.3L398.6,192.3M397.8,188.3L397.8,206.3M397.1,202.3L397.1,220.3M396.3,216.3L396.3,234.3M395.6,230.3L395.6,248.3M394.8,244.3L394.8,262.3M394.1,258.3L394.1,276.3M392.5,286.3L392.5,304.3M391.8,300.3L391.8,318.3M408.7,45.5L408.7,63.5M407.9,59.5L407.9,77.5M407.1,73.5L407.1,91.5M406.4,87.5L406.4,105.5M405.6,101.5L405.6,119.5M404.9,115.5L404.9,133.5M404.1,129.5L404.1,147.5M403.4,143.5L403.4,161.5M402.6,157.5L402.6,175.5M401.9,171.5L401.9,189.5M401.1,185.5L401.1,203.5M400.3,199.5L400.3,217.5M399.6,213.5L399.6,231.5M398.8,227.5L398.8,245.5M398.1,241.5L398.1,259.5M397.3,255.5L397.3,273.5M396.6,269.5L396.6,287.5M395.8,283.5L395.8,301.5M395,297.5L395,315.5M412.3,46.5L412.3,64.5M411.5,60.5L411.5,78.5M410.7,74.5L410.7,92.5M410,88.5L410,106.5M409.2,102.5L409.2,120.5M408.5,116.5L408.5,134.5M407,144.5L407,162.5M406.2,158.5L406.2,176.5M405.5,172.5L405.5,190.5M404.7,186.5L404.7,204.5M403.9,200.5L403.9,218.5M403.2,214.5L403.2,232.5M402.4,228.5L402.4,246.5M401.7,242.5L401.7,260.5M400.9,256.5L400.9,274.5M400.2,270.5L400.2,288.5M399.4,284.5L399.4,302.5M398.6,298.5L398.6,316.5M418.7,39.5L418.7,57.5M417.9,53.5L417.9,71.5M416.4,81.5L416.4,99.5M415.6,95.5L415.6,113.5M414.9,109.5L414.9,127.5M414.1,123.5L414.1,141.5M413.4,137.5L413.4,155.5M412.6,151.5L412.6,169.5M411.9,165.5L411.9,183.5M411.1,179.5L411.1,197.5M410.4,193.5L410.4,211.5M409.6,207.5L409.6,225.5M407.3,249.5L407.3,267.5M406.6,263.5L406.6,281.5M405.1,291.5L405.1,309.5M404.3,305.5L404.3,323.5" stroke="#7e3a9a" stroke-opacity="0.7" stroke-width="1.5"/><path d="M145.8,43.4L145.8,61.4M146.5,57.4L146.5,75.4M147.3,71.4L147.3,89.4M148.1,85.4L148.1,103.4M148.8,99.4L148.8,117.4M149.6,113.4L149.6,131.4M150.3,127.4L150.3,145.4M151.1,141.4L151.1,159.4M152.6,169.4L152.6,187.4M153.3,183.4L153.3,201.4M154.9,211.4L154.9,229.4M155.6,225.4L155.6,243.4M156.4,239.4L156.4,257.4M157.1,253.4L157.1,271.4M157.9,267.4L157.9,285.4M159.4,295.4L159.4,313.4M160.2,309.4L160.2,327.4M150.5,60L150.5,78M151.2,74L151.2,92M152,88L152,106M152.7,102L152.7,120M153.5,116L153.5,134M154.2,130L154.2,148M155,144L155,162M155.8,158L155.8,176M156.5,172L156.5,190M157.3,186L157.3,204M158,200L158,218M158.8,214L158.8,232M159.5,228L159.5,246M160.3,242L160.3,260M161.8,270L161.8,288M162.6,284L162.6,302M157,51.1L157,69.1M157.8,65.1L157.8,83.1M158.5,79.1L158.5,97.1M159.3,93.1L159.3,111.1M160,107.1L160,125.1M160.8,121.1L160.8,139.1M161.5,135.1L161.5,153.1M162.3,149.1L162.3,167.1M163,163.1L163,181.1M163.8,177.1L163.8,195.1M165.3,205.1L165.3,223.1M166.1,219.1L166.1,237.1M166.8,233.1L166.8,251.1M167.6,247.1L167.6,265.1M168.3,261.1L168.3,279.1M169.1,275.1L169.1,293.1M169.8,289.1L169.8,307.1M170.6,303.1L170.6,321.1M163.6,58.7L163.6,76.7M164.3,72.7L164.3,90.7M165.1,86.7L165.1,104.7M165.8,100.7L165.8,118.7M166.6,114.7L166.6,132.7M167.3,128.7L167.3,146.7M168.1,142.7L168.1,160.7M168.8,156.7L168.8,174.7M169.6,170.7L169.6,188.7M170.4,184.7L170.4,202.7M171.1,198.7L171.1,216.7M172.6,226.7L172.6,244.7M173.4,240.7L173.4,258.7M174.1,254.7L174.1,272.7M174.9,268.7L174.9,286.7M175.7,282.7L175.7,300.7M176.4,296.7L176.4,314.7M177.2,310.7L177.2,328.7M165.6,46.1L165.6,64.1M167.9,88.1L167.9,106.1M168.6,102.1L168.6,120.1M170.2,130.1L170.2,148.1M170.9,144.1L170.9,162.1M171.7,158.1L171.7,176.1M172.4,172.1L172.4,190.1M173.2,186.1L173.2,204.1M173.9,200.1L173.9,218.1M175.4,228.1L175.4,246.1M176.2,242.1L176.2,260.1M177,256.1L177,274.1M177.7,270.1L177.7,288.1M178.5,284.1L178.5,302.1M179.2,298.1L179.2,316.1M169,43.4L169,61.4M169.7,57.4L169.7,75.4M170.5,71.4L170.5,89.4M171.2,85.4L171.2,103.4M172,99.4L172,117.4M172.8,113.4L172.8,131.4M173.5,127.4L173.5,145.4M174.3,141.4L174.3,159.4M175,155.4L175,173.4M176.5,183.4L176.5,201.4M177.3,197.4L177.3,215.4M178,211.4L178,229.4M178.8,225.4L178.8,243.4M179.6,239.4L179.6,257.4M180.3,253.4L180.3,271.4M181.1,267.4L181.1,285.4M183.3,309.4L183.3,327.4M372.6,37.7L372.6,55.7M371.8,51.7L371.8,69.7M371.1,65.7L371.1,83.7M369.6,93.7L369.6,111.7M368.8,107.7L368.8,125.7M368,121.7L368,139.7M367.3,135.7L367.3,153.7M366.5,149.7L366.5,167.7M365.8,163.7L365.8,181.7M365,177.7L365,195.7M364.3,191.7L364.3,209.7M363.5,205.7L363.5,223.7M362.8,219.7L362.8,237.7M362,233.7L362,251.7M360.5,261.7L360.5,279.7M359.7,275.7L359.7,293.7M359,289.7L359,307.7M358.2,303.7L358.2,321.7M375.3,40.1L375.3,58.1M374.6,54.1L374.6,72.1M373.8,68.1L373.8,86.1M373.1,82.1L373.1,100.1M371.6,110.1L371.6,128.1M370.8,124.1L370.8,142.1M370.1,138.1L370.1,156.1M369.3,152.1L369.3,170.1M367.8,180.1L367.8,198.1M367,194.1L367,212.1M366.3,208.1L366.3,226.1M365.5,222.1L365.5,240.1M364.8,236.1L364.8,254.1M364,250.1L364,268.1M363.3,264.1L363.3,282.1M362.5,278.1L362.5,296.1M361.7,292.1L361.7,310.1M361,306.1L361,324.1M379.2,44.9L379.2,62.9M377.7,72.9L377.7,90.9M376.2,100.9L376.2,118.9M375.4,114.9L375.4,132.9M374.6,128.9L374.6,146.9M373.9,142.9L373.9,160.9M373.1,156.9L373.1,174.9M372.4,170.9L372.4,188.9M371.6,184.9L371.6,202.9M370.9,198.9L370.9,216.9M370.1,212.9L370.1,230.9M369.4,226.9L369.4,244.9M368.6,240.9L368.6,258.9M367.8,254.9L367.8,272.9M367.1,268.9L367.1,286.9M366.3,282.9L366.3,300.9M365.6,296.9L365.6,314.9M364.8,310.9L364.8,328.9M382.2,45.9L382.2,63.9M378.4,115.9L378.4,133.9M377.7,129.9L377.7,147.9M376.9,143.9L376.9,161.9M376.2,157.9L376.2,175.9M375.4,171.9L375.4,189.9M374.7,185.9L374.7,203.9M373.9,199.9L373.9,217.9M373.1,213.9L373.1,231.9M372.4,227.9L372.4,245.9M370.9,255.9L370.9,273.9M370.1,269.9L370.1,287.9M369.4,283.9L369.4,301.9M368.6,297.9L368.6,315.9M391,45.5L391,63.5M390.2,59.5L390.2,77.5M389.5,73.5L389.5,91.5M388.7,87.5L388.7,105.5M387.2,115.5L387.2,133.5M385.7,143.5L385.7,161.5M384.9,157.5L384.9,175.5M384.2,171.5L384.2,189.5M383.4,185.5L383.4,203.5M382.6,199.5L382.6,217.5M381.9,213.5L381.9,231.5M381.1,227.5L381.1,245.5M380.4,241.5L380.4,259.5M379.6,255.5L379.6,273.5M378.9,269.5L378.9,287.5M378.1,283.5L378.1,301.5M377.4,297.5L377.4,315.5M398.2,47.7L398.2,65.7M397.5,61.7L397.5,79.7M396.7,75.7L396.7,93.7M395.9,89.7L395.9,107.7M395.2,103.7L395.2,121.7M394.4,117.7L394.4,135.7M392.9,145.7L392.9,163.7M392.2,159.7L392.2,177.7M391.4,173.7L391.4,191.7M390.7,187.7L390.7,205.7M389.9,201.7L389.9,219.7M389.1,215.7L389.1,233.7M388.4,229.7L388.4,247.7M387.6,243.7L387.6,261.7M386.9,257.7L386.9,275.7M386.1,271.7L386.1,289.7M385.4,285.7L385.4,303.7M384.6,299.7L384.6,317.7" stroke="#5a4a9c" stroke-opacity="0.7" stroke-width="1.5"/><path d="M130.5,53.2h0M131.3,67.2h0M132.1,81.2h0M132.8,95.2h0M133.6,109.2h0M134.3,123.2h0M135.1,137.2h0M135.8,151.2h0M136.6,165.2h0M137.3,179.2h0M138.1,193.2h0M138.9,207.2h0M139.6,221.2h0M142.6,277.2h0M143.4,291.2h0M144.1,305.2h0M144.9,319.2h0M136,55.2h0M136.8,69.2h0M137.5,83.2h0M139.8,125.2h0M141.3,153.2h0M142.1,167.2h0M144.3,209.2h0M145.8,237.2h0M146.6,251.2h0M148.1,279.2h0M148.9,293.2h0M149.6,307.2h0M138.5,46h0M140.8,88h0M141.5,102h0M142.3,116h0M143,130h0M143.8,144h0M144.5,158h0M146.1,186h0M147.6,214h0M149.1,242h0M149.8,256h0M150.6,270h0M151.3,284h0M152.1,298h0M152.9,312h0M143,58.5h0M144.5,86.5h0M145.2,100.5h0M147.5,142.5h0M149,170.5h0M149.8,184.5h0M150.5,198.5h0M151.3,212.5h0M152.1,226.5h0M152.8,240.5h0M153.6,254.5h0M154.3,268.5h0M155.1,282.5h0M155.8,296.5h0M156.6,310.5h0M153.5,51h0M155,79h0M155.8,93h0M156.6,107h0M157.3,121h0M158.1,135h0M160.3,177h0M161.1,191h0M161.8,205h0M162.6,219h0M163.4,233h0M166.4,289h0M167.1,303h0M167.9,317h0M355.9,57.9h0M354.4,85.9h0M352.9,113.9h0M351.4,141.9h0M350.6,155.9h0M349.9,169.9h0M348.3,197.9h0M347.6,211.9h0M346.8,225.9h0M346.1,239.9h0M344.6,267.9h0M343.8,281.9h0M343.1,295.9h0M342.3,309.9h0M356.6,102.5h0M355.1,130.5h0M353.6,158.5h0M352.8,172.5h0M352.1,186.5h0M351.3,200.5h0M349.8,228.5h0M349.1,242.5h0M346.8,284.5h0M345.3,312.5h0M364.3,68.2h0M363.5,82.2h0M362.8,96.2h0M362,110.2h0M360.5,138.2h0M359.8,152.2h0M359,166.2h0M358.3,180.2h0M357.5,194.2h0M355.2,236.2h0M354.5,250.2h0M353.7,264.2h0M353,278.2h0M352.2,292.2h0M351.5,306.2h0M367,72.5h0M365.5,100.5h0M364.7,114.5h0M364,128.5h0M363.2,142.5h0M361.7,170.5h0M360.9,184.5h0M360.2,198.5h0M358.7,226.5h0M354.9,296.5h0" stroke="#5b3f98" stroke-width="3.4" stroke-linecap="round"/><path d="M124.8,84.9h0M125.5,98.9h0M127,126.9h0M128.5,154.9h0M129.3,168.9h0M130.8,196.9h0M134.6,266.9h0M135.4,280.9h0M136.9,308.9h0M126.9,61.1h0M127.7,75.1h0M128.4,89.1h0M132.2,159.1h0M133,173.1h0M133.7,187.1h0M134.5,201.1h0M136,229.1h0M136.7,243.1h0M137.5,257.1h0M139,285.1h0M139.8,299.1h0M140.5,313.1h0M336.2,87.5h0M335.5,101.5h0M334.7,115.5h0M334,129.5h0M333.2,143.5h0M330.9,185.5h0M329.4,213.5h0M328.7,227.5h0M327.9,241.5h0M326.4,269.5h0M325.7,283.5h0M324.9,297.5h0M324.1,311.5h0M339.2,97.2h0M338.4,111.2h0M335.4,167.2h0M333.2,209.2h0M332.4,223.2h0M331.6,237.2h0M330.9,251.2h0M328.6,293.2h0M344.3,63.3h0M342.7,91.3h0M342,105.3h0M341.2,119.3h0M339.7,147.3h0M337.5,189.3h0M335.9,217.3h0M335.2,231.3h0M334.4,245.3h0M333.7,259.3h0M332.9,273.3h0M331.4,301.3h0M349.6,45h0M348.1,73h0M347.3,87h0M345.8,115h0M344.3,143h0M342,185h0M341.3,199h0M340.5,213h0M339.8,227h0M338.3,255h0M337.5,269h0M336,297h0M335.2,311h0M352.7,45.5h0M351.9,59.5h0M351.2,73.5h0M350.4,87.5h0M349.7,101.5h0M348.9,115.5h0M348.2,129.5h0M347.4,143.5h0M345.9,171.5h0M345.1,185.5h0M344.4,199.5h0M341.4,255.5h0M339.8,283.5h0M338.3,311.5h0" stroke="#3d3f99" stroke-width="3.4" stroke-linecap="round"/><path d="M110,70.9h0M112.3,112.9h0M113,126.9h0M114.6,154.9h0M116.1,182.9h0M116.8,196.9h0M117.6,210.9h0M119.1,238.9h0M119.9,252.9h0M120.6,266.9h0M121.4,280.9h0M122.1,294.9h0M113.1,55.8h0M116.1,111.8h0M116.9,125.8h0M117.6,139.8h0M118.4,153.8h0M119.1,167.8h0M120.6,195.8h0M121.4,209.8h0M122.2,223.8h0M122.9,237.8h0M123.7,251.8h0M124.4,265.8h0M125.2,279.8h0M125.9,293.8h0M115.9,57.2h0M118.2,99.2h0M118.9,113.2h0M119.7,127.2h0M121.2,155.2h0M121.9,169.2h0M122.7,183.2h0M123.5,197.2h0M124.2,211.2h0M125.7,239.2h0M127.2,267.2h0M128,281.2h0M129.5,309.2h0M119,46.8h0M119.7,60.8h0M121.3,88.8h0M122.8,116.8h0M123.5,130.8h0M125.8,172.8h0M126.5,186.8h0M127.3,200.8h0M128.1,214.8h0M128.8,228.8h0M129.6,242.8h0M130.3,256.8h0M131.1,270.8h0M132.6,298.8h0M315.1,58.4h0M314.3,72.4h0M313.6,86.4h0M312.8,100.4h0M312,114.4h0M311.3,128.4h0M310.5,142.4h0M309.8,156.4h0M308.3,184.4h0M307.5,198.4h0M306.7,212.4h0M306,226.4h0M305.2,240.4h0M304.5,254.4h0M303.7,268.4h0M303,282.4h0M302.2,296.4h0M301.5,310.4h0M317.8,57.1h0M317,71.1h0M316.3,85.1h0M315.5,99.1h0M314.8,113.1h0M314,127.1h0M312.5,155.1h0M311.7,169.1h0M311,183.1h0M309.5,211.1h0M308.7,225.1h0M308,239.1h0M307.2,253.1h0M305.7,281.1h0M304.9,295.1h0M304.2,309.1h0M321.2,71.5h0M320.4,85.5h0M318.9,113.5h0M318.1,127.5h0M316.6,155.5h0M315.9,169.5h0M315.1,183.5h0M314.4,197.5h0M312.9,225.5h0M312.1,239.5h0M311.3,253.5h0M310.6,267.5h0M309.8,281.5h0M309.1,295.5h0M308.3,309.5h0M333.1,55h0M332.3,69h0M330.8,97h0M330.1,111h0M329.3,125h0M328.6,139h0M327,167h0M326.3,181h0M325.5,195h0M324.8,209h0M324,223h0M322.5,251h0M321,279h0" stroke="#2a4ea3" stroke-width="3.4" stroke-linecap="round"/><path d="M81.9,49.1h0M83.4,77.1h0M84.2,91.1h0M87.2,147.1h0M87.9,161.1h0M88.7,175.1h0M90.2,203.1h0M91,217.1h0M91.7,231.1h0M93.2,259.1h0M94,273.1h0M94.7,287.1h0M95.5,301.1h0M86.1,58.4h0M86.9,72.4h0M87.6,86.4h0M88.4,100.4h0M89.1,114.4h0M89.9,128.4h0M90.7,142.4h0M91.4,156.4h0M92.9,184.4h0M94.4,212.4h0M96,240.4h0M90,70.7h0M91.5,98.7h0M92.3,112.7h0M93.8,140.7h0M95.3,168.7h0M96,182.7h0M96.8,196.7h0M97.6,210.7h0M99.1,238.7h0M100.6,266.7h0M101.3,280.7h0M102.1,294.7h0M102.8,308.7h0M97.3,72.8h0M98.1,86.8h0M98.8,100.8h0M99.6,114.8h0M100.4,128.8h0M101.1,142.8h0M101.9,156.8h0M102.6,170.8h0M104.1,198.8h0M104.9,212.8h0M105.6,226.8h0M106.4,240.8h0M107.9,268.8h0M100.1,52.4h0M100.9,66.4h0M102.4,94.4h0M103.2,108.4h0M103.9,122.4h0M104.7,136.4h0M106.9,178.4h0M107.7,192.4h0M109.2,220.4h0M111.5,262.4h0M112.2,276.4h0M113,290.4h0M113.7,304.4h0M114.5,318.4h0M104.6,64.3h0M105.3,78.3h0M107.6,120.3h0M108.3,134.3h0M114.4,246.3h0M115.1,260.3h0M115.9,274.3h0M116.6,288.3h0M117.4,302.3h0M118.2,316.3h0M298.1,75.4h0M297.3,89.4h0M295.8,117.4h0M295.1,131.4h0M293.5,159.4h0M292.8,173.4h0M292,187.4h0M291.3,201.4h0M290.5,215.4h0M289.8,229.4h0M288.2,257.4h0M287.5,271.4h0M286.7,285.4h0M286,299.4h0M285.2,313.4h0M302.8,48.2h0M302.1,62.2h0M301.3,76.2h0M300.5,90.2h0M299.8,104.2h0M298.3,132.2h0M296.8,160.2h0M296,174.2h0M295.2,188.2h0M293.7,216.2h0M293,230.2h0M291.5,258.2h0M290,286.2h0M288.4,314.2h0M311.4,60.2h0M308.3,116.2h0M307.6,130.2h0M306.8,144.2h0M306.1,158.2h0M305.3,172.2h0M304.5,186.2h0M303.8,200.2h0M303,214.2h0M302.3,228.2h0M300.8,256.2h0M300,270.2h0M299.3,284.2h0M297.7,312.2h0M326,47.8h0M323.8,89.8h0M323,103.8h0M320.7,145.8h0M319.2,173.8h0M318.5,187.8h0M317.7,201.8h0M317,215.8h0M316.2,229.8h0M314.7,257.8h0M313.2,285.8h0M312.4,299.8h0M329.6,48.1h0M328.9,62.1h0M328.1,76.1h0M327.4,90.1h0M326.6,104.1h0M324.3,146.1h0M323.6,160.1h0M322.8,174.1h0M322.1,188.1h0M321.3,202.1h0M318.3,258.1h0M317.5,272.1h0M316,300.1h0M315.3,314.1h0" stroke="#2c55a8" stroke-width="3.4" stroke-linecap="round"/><path d="M55.3,53.1h0M56.8,81.1h0M57.5,95.1h0M58.3,109.1h0M59,123.1h0M59.8,137.1h0M60.6,151.1h0M61.3,165.1h0M62.1,179.1h0M63.6,207.1h0M64.3,221.1h0M65.1,235.1h0M65.9,249.1h0M66.6,263.1h0M68.1,291.1h0M69.6,319.1h0M62,45.5h0M63.5,73.5h0M65.8,115.5h0M67.3,143.5h0M69.5,185.5h0M70.3,199.5h0M71,213.5h0M71.8,227.5h0M72.6,241.5h0M73.3,255.5h0M74.1,269.5h0M74.8,283.5h0M75.6,297.5h0M78,67.2h0M80.3,109.2h0M81,123.2h0M82.5,151.2h0M83.3,165.2h0M84.1,179.2h0M84.8,193.2h0M85.6,207.2h0M86.3,221.2h0M87.1,235.2h0M87.8,249.2h0M88.6,263.2h0M91.6,319.2h0M94.1,71.8h0M95.7,99.8h0M97.2,127.8h0M97.9,141.8h0M99.4,169.8h0M101,197.8h0M101.7,211.8h0M104,253.8h0M105.5,281.8h0M107,309.8h0M268.8,57.6h0M268.1,71.6h0M267.3,85.6h0M266.6,99.6h0M265.8,113.6h0M264.3,141.6h0M263.5,155.6h0M262.8,169.6h0M262,183.6h0M261.3,197.6h0M260.5,211.6h0M259.8,225.6h0M259,239.6h0M258.2,253.6h0M256.7,281.6h0M256,295.6h0M255.2,309.6h0M275.7,51.2h0M274.9,65.2h0M274.1,79.2h0M273.4,93.2h0M271.1,135.2h0M270.4,149.2h0M268.8,177.2h0M268.1,191.2h0M267.3,205.2h0M266.6,219.2h0M264.3,261.2h0M263.6,275.2h0M262,303.2h0M277.5,78.4h0M276,106.4h0M275.3,120.4h0M274.5,134.4h0M273,162.4h0M272.3,176.4h0M271.5,190.4h0M270.7,204.4h0M270,218.4h0M269.2,232.4h0M268.5,246.4h0M267.7,260.4h0M267,274.4h0M266.2,288.4h0M264.7,316.4h0M284.2,67.4h0M283.5,81.4h0M282,109.4h0M281.2,123.4h0M280.5,137.4h0M279.7,151.4h0M278.2,179.4h0M277.4,193.4h0M275.2,235.4h0M274.4,249.4h0M272.9,277.4h0M272.1,291.4h0M270.6,319.4h0M288.5,55.3h0M287,83.3h0M286.2,97.3h0M284.7,125.3h0M283.9,139.3h0M283.2,153.3h0M281.7,181.3h0M280.9,195.3h0M279.4,223.3h0M278.6,237.3h0M277.9,251.3h0M275.6,293.3h0M274.9,307.3h0M292.6,45.5h0M291.9,59.5h0M291.1,73.5h0M290.4,87.5h0M288.1,129.5h0M287.3,143.5h0M286.6,157.5h0M285.1,185.5h0M284.3,199.5h0M283.6,213.5h0M282.8,227.5h0M282.1,241.5h0M281.3,255.5h0M280.5,269.5h0M279.8,283.5h0M279,297.5h0M278.3,311.5h0M295.4,52.6h0M294.7,66.6h0M293.9,80.6h0M293.2,94.6h0M292.4,108.6h0M291.7,122.6h0M290.9,136.6h0M290.2,150.6h0M288.6,178.6h0M287.1,206.6h0M286.4,220.6h0M284.1,262.6h0M283.4,276.6h0M282.6,290.6h0M281.1,318.6h0M306.4,53.4h0M305.7,67.4h0M304.9,81.4h0M301.9,137.4h0M301.1,151.4h0M300.4,165.4h0M298.9,193.4h0M295.8,249.4h0M295.1,263.4h0M294.3,277.4h0" stroke="#3575bf" stroke-width="3.4" stroke-linecap="round"/><path d="M39.4,48.3h0M40.2,62.3h0M40.9,76.3h0M41.7,90.3h0M42.5,104.3h0M43.2,118.3h0M44,132.3h0M45.5,160.3h0M47.7,202.3h0M48.5,216.3h0M49.3,230.3h0M50,244.3h0M52.3,286.3h0M53,300.3h0M53.8,314.3h0M47.3,57.9h0M48.1,71.9h0M49.6,99.9h0M50.3,113.9h0M51.1,127.9h0M54.1,183.9h0M54.9,197.9h0M57.9,253.9h0M58.7,267.9h0M59.4,281.9h0M60.2,295.9h0M50.4,53.8h0M53.5,109.8h0M54.2,123.8h0M55,137.8h0M56.5,165.8h0M58.7,207.8h0M59.5,221.8h0M61,249.8h0M61.8,263.8h0M62.5,277.8h0M63.3,291.8h0M64,305.8h0M64.8,319.8h0M59.4,64.5h0M60.2,78.5h0M60.9,92.5h0M61.7,106.5h0M62.5,120.5h0M63.2,134.5h0M64,148.5h0M65.5,176.5h0M67.7,218.5h0M68.5,232.5h0M69.3,246.5h0M70,260.5h0M70.8,274.5h0M71.5,288.5h0M72.3,302.5h0M73,316.5h0M65.9,46.1h0M66.7,60.1h0M67.4,74.1h0M68.2,88.1h0M68.9,102.1h0M69.7,116.1h0M70.4,130.1h0M71.2,144.1h0M72,158.1h0M72.7,172.1h0M73.5,186.1h0M74.2,200.1h0M75,214.1h0M77.2,256.1h0M78,270.1h0M79.5,298.1h0M70.7,69h0M72.2,97h0M72.9,111h0M73.7,125h0M74.5,139h0M75.2,153h0M76.7,181h0M77.5,195h0M79.7,237h0M80.5,251h0M81.3,265h0M82,279h0M82.8,293h0M83.5,307h0M74.2,58.6h0M75,72.6h0M75.7,86.6h0M76.5,100.6h0M77.2,114.6h0M79.5,156.6h0M81,184.6h0M83.3,226.6h0M84,240.6h0M85.5,268.6h0M86.3,282.6h0M87.1,296.6h0M257.8,55.9h0M255.5,97.9h0M254.8,111.9h0M254,125.9h0M253.3,139.9h0M250.2,195.9h0M248.7,223.9h0M248,237.9h0M247.2,251.9h0M245.7,279.9h0M245,293.9h0M261.1,51.9h0M260.4,65.9h0M259.6,79.9h0M258.9,93.9h0M257.3,121.9h0M256.6,135.9h0M253.6,191.9h0M252.8,205.9h0M252,219.9h0M251.3,233.9h0M250.5,247.9h0M249.8,261.9h0M249,275.9h0M248.3,289.9h0M246.8,317.9h0M265.1,61.5h0M263.5,89.5h0M262,117.5h0M259.8,159.5h0M259,173.5h0M258.2,187.5h0M256.7,215.5h0M256,229.5h0M255.2,243.5h0M254.5,257.5h0M253.7,271.5h0M253,285.5h0M252.2,299.5h0M251.4,313.5h0M272.9,45.1h0M272.1,59.1h0M271.4,73.1h0M269.1,115.1h0M268.3,129.1h0M267.6,143.1h0M266.8,157.1h0M266.1,171.1h0M265.3,185.1h0M263.8,213.1h0M263.1,227.1h0M262.3,241.1h0M261.5,255.1h0M260,283.1h0M259.3,297.1h0" stroke="#2db5ea" stroke-width="3.4" stroke-linecap="round"/><path d="M29.4,66.5h0M30.2,80.5h0M30.9,94.5h0M31.7,108.5h0M33.2,136.5h0M33.9,150.5h0M37,206.5h0M37.7,220.5h0M38.5,234.5h0M40,262.5h0M40.7,276.5h0M41.5,290.5h0M42.3,304.5h0M43,318.5h0M35.9,50.4h0M37.4,78.4h0M38.2,92.4h0M40.5,134.4h0M41.2,148.4h0M42.7,176.4h0M43.5,190.4h0M44.2,204.4h0M45,218.4h0M45.8,232.4h0M46.5,246.4h0M47.3,260.4h0M48.8,288.4h0M50.3,316.4h0M43.8,69.7h0M44.5,83.7h0M46,111.7h0M46.8,125.7h0M47.5,139.7h0M48.3,153.7h0M50.6,195.7h0M51.3,209.7h0M52.1,223.7h0M52.8,237.7h0M53.6,251.7h0M54.3,265.7h0M56.6,307.7h0M249.3,45.4h0M248.6,59.4h0M247.1,87.4h0M246.3,101.4h0M244.8,129.4h0M244,143.4h0M243.3,157.4h0M242.5,171.4h0M241.8,185.4h0M240.3,213.4h0M239.5,227.4h0M238,255.4h0M237.2,269.4h0M235.7,297.4h0M235,311.4h0" stroke="#6ec6d6" stroke-width="3.4" stroke-linecap="round"/><path d="M23.9,196.2h0M24.7,210.2h0M25.5,224.2h0M26.2,238.2h0M28.5,280.2h0M29.2,294.2h0M30,308.2h0M24.9,149.2h0M25.7,163.2h0M26.4,177.2h0M27.2,191.2h0M27.9,205.2h0M28.7,219.2h0M30.2,247.2h0M31.7,275.2h0M32.5,289.2h0M33.2,303.2h0M34,317.2h0M23.8,52.2h0M24.5,66.2h0M25.3,80.2h0M26.8,108.2h0M27.6,122.2h0M28.3,136.2h0M29.1,150.2h0M29.8,164.2h0M31.3,192.2h0M32.1,206.2h0M32.9,220.2h0M33.6,234.2h0M34.4,248.2h0M37.4,304.2h0M38.2,318.2h0M33.6,72.5h0M35.1,100.5h0M35.9,114.5h0M36.6,128.5h0M37.4,142.5h0M38.1,156.5h0M38.9,170.5h0M39.6,184.5h0M40.4,198.5h0M41.9,226.5h0M43.4,254.5h0M44.9,282.5h0M46.4,310.5h0M235.1,54.5h0M234.3,68.5h0M233.6,82.5h0M232.8,96.5h0M232.1,110.5h0M230.5,138.5h0M229.8,152.5h0M228.3,180.5h0M227.5,194.5h0M226.8,208.5h0M226,222.5h0M225.3,236.5h0M223.7,264.5h0M223,278.5h0M222.2,292.5h0M221.5,306.5h0M237.2,72.6h0M236.4,86.6h0M235.7,100.6h0M234.9,114.6h0M232.7,156.6h0M231.9,170.6h0M231.1,184.6h0M230.4,198.6h0M229.6,212.6h0M228.9,226.6h0M228.1,240.6h0M225.8,282.6h0M225.1,296.6h0M224.3,310.6h0M241.2,64.4h0M240.4,78.4h0M238.9,106.4h0M238.1,120.4h0M237.4,134.4h0M236.6,148.4h0M235.9,162.4h0M235.1,176.4h0M234.3,190.4h0M233.6,204.4h0M231.3,246.4h0M230.6,260.4h0M229.8,274.4h0M229.1,288.4h0M227.5,316.4h0M245.2,67h0M244.4,81h0M243.7,95h0M242.9,109h0M241.4,137h0M240.7,151h0M239.1,179h0M238.4,193h0M237.6,207h0M236.9,221h0M235.4,249h0M233.1,291h0M232.3,305h0M231.6,319h0M253,54.8h0M252.3,68.8h0M250.7,96.8h0M249.2,124.8h0M248.5,138.8h0M247,166.8h0M245.5,194.8h0M243.9,222.8h0M243.2,236.8h0M242.4,250.8h0M241.7,264.8h0M240.9,278.8h0M239.4,306.8h0" stroke="#6cbba6" stroke-width="3.4" stroke-linecap="round"/><path d="M230.8,64.5h0M230,78.5h0M229.2,92.5h0M228.5,106.5h0M226.2,148.5h0M225.5,162.5h0M224.7,176.5h0M224,190.5h0M223.2,204.5h0M222.4,218.5h0M221.7,232.5h0M220.9,246.5h0M219.4,274.5h0M217.9,302.5h0M416,50.7h0M417.5,78.7h0M420.6,134.7h0M421.3,148.7h0M422.1,162.7h0M422.8,176.7h0M424.4,204.7h0M425.1,218.7h0M425.9,232.7h0M427.4,260.7h0M428.1,274.7h0M428.9,288.7h0M420.3,55h0M424.9,139h0M425.6,153h0M426.4,167h0M427.1,181h0M429.4,223h0M423.3,48.8h0M424.1,62.8h0M424.8,76.8h0M425.6,90.8h0M426.3,104.8h0M427.8,132.8h0M428.6,146.8h0M429.4,160.8h0M429.4,57.9h0" stroke="#6cb773" stroke-width="3.4" stroke-linecap="round"/><path d="M24,262.7h0M24.8,276.7h0M25.5,290.7h0M26.3,304.7h0M192.8,48.4h0M192.1,62.4h0M191.3,76.4h0M190.6,90.4h0M189.8,104.4h0M189,118.4h0M188.3,132.4h0M186,174.4h0M184.5,202.4h0M183,230.4h0M180.7,272.4h0M180,286.4h0M178.5,314.4h0M203.9,57.1h0M203.2,71.1h0M201.7,99.1h0M200.2,127.1h0M198.6,155.1h0M197.1,183.1h0M196.4,197.1h0M195.6,211.1h0M194.9,225.1h0M193.4,253.1h0M192.6,267.1h0M191.8,281.1h0M191.1,295.1h0M208.2,47.3h0M206.7,75.3h0M205.2,103.3h0M204.5,117.3h0M203.7,131.3h0M202.9,145.3h0M202.2,159.3h0M201.4,173.3h0M200.7,187.3h0M199.9,201.3h0M198.4,229.3h0M197.6,243.3h0M196.9,257.3h0M195.4,285.3h0M193.9,313.3h0M210.8,70.4h0M210,84.4h0M209.3,98.4h0M208.5,112.4h0M207,140.4h0M206.3,154.4h0M205.5,168.4h0M204.8,182.4h0M203.2,210.4h0M202.5,224.4h0M201,252.4h0M199.5,280.4h0M198.7,294.4h0M215,52.2h0M214.2,66.2h0M212.7,94.2h0M211.9,108.2h0M211.2,122.2h0M210.4,136.2h0M209.7,150.2h0M208.9,164.2h0M208.2,178.2h0M207.4,192.2h0M206.6,206.2h0M205.1,234.2h0M202.9,276.2h0M202.1,290.2h0M219.1,57.7h0M218.4,71.7h0M217.6,85.7h0M215.4,127.7h0M213.9,155.7h0M213.1,169.7h0M212.3,183.7h0M210.8,211.7h0M210.1,225.7h0M209.3,239.7h0M208.6,253.7h0M207.8,267.7h0M207.1,281.7h0M206.3,295.7h0M205.5,309.7h0M221.7,67.3h0M220.2,95.3h0M219.4,109.3h0M218.7,123.3h0M217.9,137.3h0M217.2,151.3h0M216.4,165.3h0M215.7,179.3h0M214.9,193.3h0M214.2,207.3h0M212.6,235.3h0M209.6,291.3h0M208.9,305.3h0M208.1,319.3h0M226.7,48.3h0M225.2,76.3h0M224.4,90.3h0M223.7,104.3h0M222.2,132.3h0M221.4,146.3h0M220.6,160.3h0M219.9,174.3h0M218.4,202.3h0M217.6,216.3h0M216.9,230.3h0M216.1,244.3h0M214.6,272.3h0M213.1,300.3h0M212.3,314.3h0M396.9,49.1h0M397.6,63.1h0M398.4,77.1h0M399.9,105.1h0M401.4,133.1h0M402.1,147.1h0M402.9,161.1h0M403.7,175.1h0M404.4,189.1h0M405.9,217.1h0M406.7,231.1h0M407.4,245.1h0M408.2,259.1h0M409.7,287.1h0M410.5,301.1h0M411.2,315.1h0M402.5,57.2h0M403.3,71.2h0M405.5,113.2h0M407.8,155.2h0M408.5,169.2h0M409.3,183.2h0M410.1,197.2h0M410.8,211.2h0M411.6,225.2h0M412.3,239.2h0M413.8,267.2h0M415.4,295.2h0M416.1,309.2h0M405.6,48.3h0M406.4,62.3h0M408.6,104.3h0M409.4,118.3h0M410.1,132.3h0M411.7,160.3h0M413.2,188.3h0M413.9,202.3h0M414.7,216.3h0M416.9,258.3h0M417.7,272.3h0M418.5,286.3h0M409.7,61h0M410.5,75h0M412,103h0M413.5,131h0M414.3,145h0M415.8,173h0M417.3,201h0M418,215h0M419.5,243h0M420.3,257h0M413.1,57.4h0M414.6,85.4h0M415.3,99.4h0M416.8,127.4h0M417.6,141.4h0M418.4,155.4h0M419.1,169.4h0M419.9,183.4h0M420.6,197.4h0M422.1,225.4h0M422.9,239.4h0M424.4,267.4h0M425.2,281.4h0M425.9,295.4h0" stroke="#70b22e" stroke-width="3.4" stroke-linecap="round"/><path d="M177.7,55.2h0M176.9,69.2h0M175.4,97.2h0M174.7,111.2h0M173.9,125.2h0M173.1,139.2h0M172.4,153.2h0M171.6,167.2h0M170.1,195.2h0M166.3,265.2h0M164.8,293.2h0M164.1,307.2h0M182.1,46.8h0M179.8,88.8h0M179.1,102.8h0M178.3,116.8h0M177.6,130.8h0M176.8,144.8h0M176,158.8h0M174.5,186.8h0M173.8,200.8h0M173,214.8h0M172.3,228.8h0M171.5,242.8h0M170,270.8h0M168.5,298.8h0M189,50.7h0M188.2,64.7h0M187.5,78.7h0M186.7,92.7h0M185.2,120.7h0M183.7,148.7h0M182.9,162.7h0M181.4,190.7h0M176.9,274.7h0M176.1,288.7h0M175.4,302.7h0M194.8,64.6h0M194,78.6h0M192.5,106.6h0M191.8,120.6h0M191,134.6h0M190.2,148.6h0M189.5,162.6h0M188.7,176.6h0M188,190.6h0M187.2,204.6h0M186.5,218.6h0M185.7,232.6h0M185,246.6h0M181.9,302.6h0M181.2,316.6h0M200,45.5h0M198.5,73.5h0M197.8,87.5h0M197,101.5h0M196.2,115.5h0M194.7,143.5h0M193.2,171.5h0M192.5,185.5h0M191.7,199.5h0M190.9,213.5h0M190.2,227.5h0M189.4,241.5h0M188.7,255.5h0M187.9,269.5h0M186.4,297.5h0M185.7,311.5h0M378.8,53.1h0M379.6,67.1h0M380.3,81.1h0M381.1,95.1h0M381.9,109.1h0M382.6,123.1h0M383.4,137.1h0M384.1,151.1h0M384.9,165.1h0M385.6,179.1h0M386.4,193.1h0M387.2,207.1h0M387.9,221.1h0M388.7,235.1h0M390.2,263.1h0M390.9,277.1h0M385.8,51.1h0M386.6,65.1h0M387.3,79.1h0M388.1,93.1h0M389.6,121.1h0M390.3,135.1h0M391.1,149.1h0M391.8,163.1h0M392.6,177.1h0M396.4,247.1h0M399.4,303.1h0M400.2,317.1h0M391.3,84.1h0M392.1,98.1h0M393.6,126.1h0M394.4,140.1h0M398.1,210.1h0M401.2,266.1h0M402.7,294.1h0M403.4,308.1h0M393.1,47h0M395.4,89h0M396.2,103h0M397.7,131h0M399.2,159h0M399.9,173h0M401.5,201h0M402.2,215h0M403,229h0M406,285h0M406.7,299h0M407.5,313h0" stroke="#6ab226" stroke-width="3.4" stroke-linecap="round"/><path d="M158.4,48h0M157.7,62h0M156.2,90h0M155.4,104h0M154.7,118h0M153.9,132h0M153.1,146h0M152.4,160h0M151.6,174h0M150.9,188h0M150.1,202h0M149.4,216h0M147.9,244h0M147.1,258h0M146.3,272h0M144.1,314h0M171.9,66.7h0M171.1,80.7h0M168.8,122.7h0M168.1,136.7h0M167.3,150.7h0M165.8,178.7h0M163.5,220.7h0M162.8,234.7h0M162,248.7h0M161.3,262.7h0M160.5,276.7h0M159,304.7h0M183.2,80.4h0M182.5,94.4h0M181.7,108.4h0M181,122.4h0M180.2,136.4h0M179.4,150.4h0M178.7,164.4h0M175.7,220.4h0M174.1,248.4h0M173.4,262.4h0M171.9,290.4h0M171.1,304.4h0M170.4,318.4h0M348.8,56.8h0M349.5,70.8h0M350.3,84.8h0M351.8,112.8h0M352.5,126.8h0M353.3,140.8h0M354.8,168.8h0M355.6,182.8h0M356.3,196.8h0M357.1,210.8h0M357.8,224.8h0M359.4,252.8h0M360.1,266.8h0M356.1,45.4h0M356.8,59.4h0M357.6,73.4h0M358.4,87.4h0M359.1,101.4h0M359.9,115.4h0M361.4,143.4h0M362.1,157.4h0M363.6,185.4h0M364.4,199.4h0M365.2,213.4h0M366.7,241.4h0M367.4,255.4h0M368.9,283.4h0M370.5,311.4h0M367.7,64.7h0M368.4,78.7h0M369.2,92.7h0M369.9,106.7h0M370.7,120.7h0M371.4,134.7h0M372.2,148.7h0M373,162.7h0M373.7,176.7h0M374.5,190.7h0M375.2,204.7h0M376.7,232.7h0M378.2,260.7h0M379,274.7h0M379.8,288.7h0M381.3,316.7h0M370.1,48.8h0M370.8,62.8h0M371.6,76.8h0M372.4,90.8h0M373.1,104.8h0M373.9,118.8h0M374.6,132.8h0M375.4,146.8h0M376.1,160.8h0M377.6,188.8h0M379.2,216.8h0M379.9,230.8h0M380.7,244.8h0M381.4,258.8h0M382.2,272.8h0M382.9,286.8h0M383.7,300.8h0M375.9,55.3h0M377.4,83.3h0M379,111.3h0M379.7,125.3h0M380.5,139.3h0M382,167.3h0M382.7,181.3h0M383.5,195.3h0M385.8,237.3h0M386.5,251.3h0M387.3,265.3h0M388,279.3h0M388.8,293.3h0M383.2,57.1h0M384,71.1h0M384.7,85.1h0M386.2,113.1h0M393,239.1h0M395.3,281.1h0M396.1,295.1h0M396.8,309.1h0" stroke="#7ab820" stroke-width="3.4" stroke-linecap="round"/><path d="M154.4,53.9h0M152.9,81.9h0M152.1,95.9h0M151.4,109.9h0M150.6,123.9h0M149.1,151.9h0M146.8,193.9h0M146.1,207.9h0M145.3,221.9h0M142.3,277.9h0M141.5,291.9h0M140.8,305.9h0M161.7,54.7h0M160.2,82.7h0M157.2,138.7h0M155.7,166.7h0M154.9,180.7h0M154.2,194.7h0M153.4,208.7h0M152.7,222.7h0M151.9,236.7h0M150.4,264.7h0M149.6,278.7h0M148.9,292.7h0M148.1,306.7h0M165.1,56.8h0M164.3,70.8h0M163.6,84.8h0M162.8,98.8h0M161.3,126.8h0M159.1,168.8h0M156.8,210.8h0M156,224.8h0M155.3,238.8h0M153.8,266.8h0M153,280.8h0M152.3,294.8h0M169.2,45h0M168.4,59h0M167.6,73h0M166.1,101h0M165.4,115h0M163.9,143h0M163.1,157h0M162.3,171h0M161.6,185h0M160.8,199h0M159.3,227h0M158.6,241h0M157.8,255h0M157.1,269h0M156.3,283h0M155.5,297h0M336.6,47.7h0M337.4,61.7h0M338.1,75.7h0M338.9,89.7h0M339.7,103.7h0M340.4,117.7h0M341.2,131.7h0M342.7,159.7h0M343.4,173.7h0M344.2,187.7h0M345,201.7h0M347.2,243.7h0M348,257.7h0M349.5,285.7h0M350.2,299.7h0M351,313.7h0M340.8,69h0M341.6,83h0M342.4,97h0M343.1,111h0M345.4,153h0M346.1,167h0M347.6,195h0M348.4,209h0M349.2,223h0M349.9,237h0M350.7,251h0M351.4,265h0M352.9,293h0M342.9,47.7h0M343.7,61.7h0M345.2,89.7h0M346.7,117.7h0M347.5,131.7h0M348.2,145.7h0M349.7,173.7h0M351.2,201.7h0M352,215.7h0M352.8,229.7h0M353.5,243.7h0M354.3,257.7h0M355,271.7h0M355.8,285.7h0M356.5,299.7h0M353,58h0M353.7,72h0M354.5,86h0M355.2,100h0M356,114h0M356.7,128h0M357.5,142h0M358.2,156h0M359.8,184h0M362,226h0M363.5,254h0M364.3,268h0M365.8,296h0M366.6,310h0M359.6,50.4h0M360.3,64.4h0M361.9,92.4h0M362.6,106.4h0M363.4,120.4h0M364.1,134.4h0M364.9,148.4h0M365.6,162.4h0M367.1,190.4h0M367.9,204.4h0M368.7,218.4h0M369.4,232.4h0M370.2,246.4h0M370.9,260.4h0M371.7,274.4h0M372.4,288.4h0M373.2,302.4h0M373.9,316.4h0M363,53.9h0M365.3,95.9h0M366.1,109.9h0M369.1,165.9h0M369.8,179.9h0M372.1,221.9h0M372.9,235.9h0M373.6,249.9h0M375.1,277.9h0M375.9,291.9h0M376.6,305.9h0M377.4,319.9h0" stroke="#8cbf1a" stroke-width="3.4" stroke-linecap="round"/><path d="M138.9,52.6h0M138.2,66.6h0M136.6,94.6h0M135.9,108.6h0M135.1,122.6h0M134.4,136.6h0M133.6,150.6h0M132.9,164.6h0M132.1,178.6h0M130.6,206.6h0M129.8,220.6h0M128.3,248.6h0M127.6,262.6h0M126.8,276.6h0M126.1,290.6h0M125.3,304.6h0M124.5,318.6h0M141.9,59.3h0M141.2,73.3h0M139.7,101.3h0M138.9,115.3h0M138.2,129.3h0M137.4,143.3h0M135.9,171.3h0M134.4,199.3h0M132.1,241.3h0M130.6,269.3h0M129.9,283.3h0M129.1,297.3h0M145.8,60.7h0M144.2,88.7h0M143.5,102.7h0M142,130.7h0M141.2,144.7h0M140.5,158.7h0M139.7,172.7h0M138.2,200.7h0M137.4,214.7h0M136.7,228.7h0M135.9,242.7h0M135.2,256.7h0M134.4,270.7h0M133.7,284.7h0M132.9,298.7h0M151.2,49h0M149.6,77h0M148.1,105h0M147.4,119h0M145.9,147h0M145.1,161h0M142.8,203h0M142.1,217h0M140.6,245h0M139.8,259h0M139.1,273h0M138.3,287h0M137.5,301h0M136.8,315h0M326.4,63.1h0M328,91.1h0M328.7,105.1h0M331,147.1h0M331.7,161.1h0M333.3,189.1h0M334,203.1h0M334.8,217.1h0M335.5,231.1h0M336.3,245.1h0M337.8,273.1h0M340.1,315.1h0M329.8,53.1h0M330.5,67.1h0M331.3,81.1h0M332,95.1h0M332.8,109.1h0M333.6,123.1h0M334.3,137.1h0M335.1,151.1h0M335.8,165.1h0M337.3,193.1h0M338.8,221.1h0M339.6,235.1h0M340.4,249.1h0M341.1,263.1h0M344.1,319.1h0M333.6,58.6h0M334.4,72.6h0M335.1,86.6h0M336.7,114.6h0M337.4,128.6h0M338.2,142.6h0M339.7,170.6h0M340.4,184.6h0M341.2,198.6h0M341.9,212.6h0M342.7,226.6h0M343.5,240.6h0M345,268.6h0M346.5,296.6h0M347.2,310.6h0" stroke="#bcd123" stroke-width="3.4" stroke-linecap="round"/><path d="M119.4,52.2h0M118.6,66.2h0M117.9,80.2h0M116.3,108.2h0M115.6,122.2h0M112.6,178.2h0M111.8,192.2h0M111.1,206.2h0M110.3,220.2h0M109.5,234.2h0M108.8,248.2h0M107.3,276.2h0M106.5,290.2h0M105.8,304.2h0M124.6,57.8h0M123.1,85.8h0M121.6,113.8h0M120.8,127.8h0M120.1,141.8h0M119.3,155.8h0M118.6,169.8h0M117.8,183.8h0M117.1,197.8h0M115.5,225.8h0M114,253.8h0M113.3,267.8h0M112.5,281.8h0M111.8,295.8h0M128.5,54.7h0M127.7,68.7h0M127,82.7h0M126.2,96.7h0M125.5,110.7h0M123.2,152.7h0M122.4,166.7h0M120.9,194.7h0M120.2,208.7h0M119.4,222.7h0M117.9,250.7h0M117.1,264.7h0M116.4,278.7h0M115.6,292.7h0M114.9,306.7h0M132.2,47.5h0M131.4,61.5h0M128.4,117.5h0M127.7,131.5h0M126.9,145.5h0M126.1,159.5h0M124.6,187.5h0M122.4,229.5h0M121.6,243.5h0M120.9,257.5h0M120.1,271.5h0M119.3,285.5h0M135.7,50.1h0M135,64.1h0M134.2,78.1h0M133.5,92.1h0M131.2,134.1h0M130.4,148.1h0M128.9,176.1h0M128.2,190.1h0M127.4,204.1h0M126.7,218.1h0M125.9,232.1h0M124.4,260.1h0M122.9,288.1h0M122.1,302.1h0M121.4,316.1h0M313,54.1h0M314.6,82.1h0M315.3,96.1h0M316.8,124.1h0M317.6,138.1h0M318.3,152.1h0M319.1,166.1h0M319.9,180.1h0M321.4,208.1h0M322.1,222.1h0M322.9,236.1h0M323.6,250.1h0M326.7,306.1h0M324.1,78.6h0M324.8,92.6h0M326.4,120.6h0M327.1,134.6h0M327.9,148.6h0M328.6,162.6h0M329.4,176.6h0M330.1,190.6h0M330.9,204.6h0M331.7,218.6h0M332.4,232.6h0M333.9,260.6h0M335.4,288.6h0M336.2,302.6h0" stroke="#eee43a" stroke-width="3.4" stroke-linecap="round"/><path d="M89.5,54.1h0M88.7,68.1h0M87.2,96.1h0M86.5,110.1h0M85.7,124.1h0M82.7,180.1h0M81.2,208.1h0M80.4,222.1h0M79.6,236.1h0M78.9,250.1h0M97.8,48.7h0M97,62.7h0M96.3,76.7h0M93.2,132.7h0M92.5,146.7h0M91,174.7h0M88.7,216.7h0M87.2,244.7h0M86.4,258.7h0M85.7,272.7h0M84.2,300.7h0M108.6,51.9h0M107.1,79.9h0M106.3,93.9h0M105.6,107.9h0M104.8,121.9h0M104.1,135.9h0M103.3,149.9h0M102.5,163.9h0M101.8,177.9h0M101,191.9h0M99.5,219.9h0M98.8,233.9h0M98,247.9h0M95.7,289.9h0M94.2,317.9h0M112.9,48.1h0M112.1,62.1h0M111.4,76.1h0M110.6,90.1h0M109.8,104.1h0M109.1,118.1h0M108.3,132.1h0M107.6,146.1h0M106.8,160.1h0M105.3,188.1h0M104.6,202.1h0M103.8,216.1h0M103,230.1h0M100.8,272.1h0M99.3,300.1h0M98.5,314.1h0M115.5,56.6h0M114.8,70.6h0M113.2,98.6h0M110.2,154.6h0M109.5,168.6h0M108,196.6h0M106.4,224.6h0M104.9,252.6h0M103.4,280.6h0M101.9,308.6h0M283,48h0M283.8,62h0M284.5,76h0M285.3,90h0M286,104h0M286.8,118h0M287.5,132h0M288.3,146h0M289,160h0M289.8,174h0M290.6,188h0M291.3,202h0M292.1,216h0M293.6,244h0M295.9,286h0M297.4,314h0M295.5,55.6h0M297,83.6h0M299.3,125.6h0M300,139.6h0M300.8,153.6h0M301.6,167.6h0M302.3,181.6h0M304.6,223.6h0M305.3,237.6h0M306.1,251.6h0M308.4,293.6h0M309.1,307.6h0M299,53.7h0M301.3,95.7h0M302.8,123.7h0M304.3,151.7h0M305.1,165.7h0M305.8,179.7h0M306.6,193.7h0M307.3,207.7h0M308.1,221.7h0M308.9,235.7h0M309.6,249.7h0M310.4,263.7h0M311.1,277.7h0M303.3,66h0M304.8,94h0M305.5,108h0M307.8,150h0M308.6,164h0M309.3,178h0M310.8,206h0M312.3,234h0M313.1,248h0M313.9,262h0M314.6,276h0M316.1,304h0M316.9,318h0M307.6,71.7h0M309.9,113.7h0M310.6,127.7h0M311.4,141.7h0M312.2,155.7h0M312.9,169.7h0M313.7,183.7h0M314.4,197.7h0M315.2,211.7h0M317.5,253.7h0M319,281.7h0M319.7,295.7h0M320.5,309.7h0M309.3,46.4h0M310,60.4h0M311.5,88.4h0M312.3,102.4h0M313,116.4h0M313.8,130.4h0M315.3,158.4h0M316.1,172.4h0M316.8,186.4h0M317.6,200.4h0M318.3,214.4h0M319.1,228.4h0M319.8,242.4h0M320.6,256.4h0M321.4,270.4h0M322.1,284.4h0M322.9,298.4h0M323.6,312.4h0M317.3,65.8h0M318,79.8h0M319.5,107.8h0M320.3,121.8h0M321.8,149.8h0M323.3,177.8h0M324.1,191.8h0M324.8,205.8h0M325.6,219.8h0M328.6,275.8h0M329.4,289.8h0M330.1,303.8h0M330.9,317.8h0" stroke="#f6b41c" stroke-width="3.4" stroke-linecap="round"/><path d="M77.7,68h0M76.2,96h0M74.6,124h0M73.9,138h0M73.1,152h0M72.4,166h0M71.6,180h0M70.9,194h0M70.1,208h0M69.3,222h0M67.8,250h0M67.1,264h0M82.3,49.8h0M81.5,63.8h0M80.8,77.8h0M79.2,105.8h0M78.5,119.8h0M77.7,133.8h0M77,147.8h0M76.2,161.8h0M75.5,175.8h0M74.7,189.8h0M74,203.8h0M72.4,231.8h0M71.7,245.8h0M70.9,259.8h0M70.2,273.8h0M67.9,315.8h0M85.7,47.7h0M82.6,103.7h0M80.4,145.7h0M79.6,159.7h0M78.9,173.7h0M77.3,201.7h0M75.8,229.7h0M75.1,243.7h0M73.6,271.7h0M72.8,285.7h0M72.1,299.7h0M93.2,44.9h0M91.7,72.9h0M90.1,100.9h0M89.4,114.9h0M87.1,156.9h0M86.4,170.9h0M85.6,184.9h0M84.1,212.9h0M82.6,240.9h0M81.8,254.9h0M81.1,268.9h0M79.6,296.9h0M78.8,310.9h0M100.9,58.4h0M100.1,72.4h0M98.6,100.4h0M96.4,142.4h0M95.6,156.4h0M94.1,184.4h0M93.3,198.4h0M92.6,212.4h0M91.8,226.4h0M91.1,240.4h0M90.3,254.4h0M89.5,268.4h0M88.8,282.4h0M88,296.4h0M87.3,310.4h0M104,80.7h0M103.2,94.7h0M101.7,122.7h0M101,136.7h0M100.2,150.7h0M99.5,164.7h0M98.7,178.7h0M97.2,206.7h0M96.4,220.7h0M95.7,234.7h0M94.9,248.7h0M93.4,276.7h0M91.2,318.7h0M273.6,65.4h0M274.4,79.4h0M275.1,93.4h0M276.7,121.4h0M277.4,135.4h0M280.4,191.4h0M281.2,205.4h0M282,219.4h0M282.7,233.4h0M284.2,261.4h0M285,275.4h0M286.5,303.4h0M287.2,317.4h0M280.2,70.5h0M280.9,84.5h0M281.7,98.5h0M284.7,154.5h0M285.5,168.5h0M286.2,182.5h0M287,196.5h0M287.7,210.5h0M288.5,224.5h0M289.2,238.5h0M291.5,280.5h0M293,308.5h0M287.5,64.3h0M288.2,78.3h0M289.7,106.3h0M290.5,120.3h0M291.2,134.3h0M292,148.3h0M292.8,162.3h0M293.5,176.3h0M294.3,190.3h0M295,204.3h0M295.8,218.3h0M296.5,232.3h0M298,260.3h0M298.8,274.3h0M300.3,302.3h0M301.1,316.3h0M290.5,62.7h0M292,90.7h0M292.8,104.7h0M293.5,118.7h0M294.3,132.7h0M295.8,160.7h0M296.6,174.7h0M297.3,188.7h0M298.1,202.7h0M299.6,230.7h0M300.3,244.7h0M301.9,272.7h0M303.4,300.7h0" stroke="#ee7d1f" stroke-width="3.4" stroke-linecap="round"/><path d="M55.1,54.2h0M53.6,82.2h0M52.8,96.2h0M52.1,110.2h0M51.3,124.2h0M50.6,138.2h0M49.1,166.2h0M46.8,208.2h0M46,222.2h0M45.3,236.2h0M44.5,250.2h0M43.8,264.2h0M43,278.2h0M42.3,292.2h0M58.8,46.5h0M58.1,60.5h0M57.3,74.5h0M56.6,88.5h0M55.8,102.5h0M54.3,130.5h0M53.5,144.5h0M52.8,158.5h0M51.3,186.5h0M50.5,200.5h0M49.8,214.5h0M49,228.5h0M48.2,242.5h0M46.7,270.5h0M46,284.5h0M44.5,312.5h0M62.3,53.8h0M60.8,81.8h0M60,95.8h0M59.2,109.8h0M58.5,123.8h0M57.7,137.8h0M57,151.8h0M56.2,165.8h0M55.5,179.8h0M54.7,193.8h0M54,207.8h0M53.2,221.8h0M51.7,249.8h0M50.9,263.8h0M50.2,277.8h0M49.4,291.8h0M48.7,305.8h0M47.9,319.8h0M65.5,58.8h0M64.7,72.8h0M62.4,114.8h0M61.7,128.8h0M59.4,170.8h0M58.7,184.8h0M57.9,198.8h0M57.1,212.8h0M56.4,226.8h0M53.4,282.8h0M51.8,310.8h0M71.3,48.7h0M69.8,76.7h0M68.3,104.7h0M67.5,118.7h0M66.8,132.7h0M64.5,174.7h0M63,202.7h0M62.2,216.7h0M61.5,230.7h0M60.7,244.7h0M59.2,272.7h0M57.7,300.7h0M56.9,314.7h0M75.5,48.7h0M74.8,62.7h0M74,76.7h0M73.3,90.7h0M71,132.7h0M69.5,160.7h0M68.7,174.7h0M68,188.7h0M67.2,202.7h0M66.5,216.7h0M65.7,230.7h0M64.9,244.7h0M64.2,258.7h0M63.4,272.7h0M62.7,286.7h0M61.9,300.7h0M250.2,63.4h0M250.9,77.4h0M251.7,91.4h0M253.2,119.4h0M254.7,147.4h0M255.5,161.4h0M256.2,175.4h0M257,189.4h0M258.5,217.4h0M259.3,231.4h0M260,245.4h0M260.8,259.4h0M262.3,287.4h0M263,301.4h0M263.8,315.4h0M253.2,57.6h0M254,71.6h0M254.7,85.6h0M255.5,99.6h0M257.7,141.6h0M258.5,155.6h0M259.2,169.6h0M260,183.6h0M260.8,197.6h0M261.5,211.6h0M263,239.6h0M264.5,267.6h0M266.1,295.6h0M257.6,80.8h0M258.4,94.8h0M259.9,122.8h0M260.7,136.8h0M261.4,150.8h0M263.7,192.8h0M264.4,206.8h0M267.5,262.8h0M268.2,276.8h0M269.7,304.8h0M260.3,57.3h0M261,71.3h0M261.8,85.3h0M264.1,127.3h0M264.8,141.3h0M267.1,183.3h0M268.6,211.3h0M269.4,225.3h0M270.1,239.3h0M270.9,253.3h0M271.6,267.3h0M272.4,281.3h0M273.1,295.3h0M273.9,309.3h0M263.8,47.1h0M265.3,75.1h0M266.1,89.1h0M266.8,103.1h0M267.6,117.1h0M269.1,145.1h0M269.9,159.1h0M270.6,173.1h0M271.4,187.1h0M272.1,201.1h0M272.9,215.1h0M273.7,229.1h0M274.4,243.1h0M275.9,271.1h0M276.7,285.1h0M277.4,299.1h0M269.6,70h0M270.3,84h0M271.1,98h0M271.8,112h0M273.3,140h0M274.1,154h0M274.9,168h0M275.6,182h0M278.6,238h0M279.4,252h0M280.2,266h0M280.9,280h0M281.7,294h0M282.4,308h0M276.2,52.3h0M277.7,80.3h0M278.5,94.3h0M279.2,108.3h0M280,122.3h0M280.7,136.3h0M281.5,150.3h0M284.5,206.3h0M285.3,220.3h0M286,234.3h0M286.8,248.3h0M287.5,262.3h0M289.8,304.3h0M290.6,318.3h0" stroke="#e8481f" stroke-width="3.4" stroke-linecap="round"/><path d="M39.7,49.2h0M38.9,63.2h0M38.2,77.2h0M37.4,91.2h0M36.6,105.2h0M35.1,133.2h0M34.4,147.2h0M33.6,161.2h0M32.9,175.2h0M31.4,203.2h0M30.6,217.2h0M29.8,231.2h0M29.1,245.2h0M28.3,259.2h0M26.8,287.2h0M26.1,301.2h0M25.3,315.2h0M45.4,45.9h0M44.7,59.9h0M42.4,101.9h0M41.6,115.9h0M40.1,143.9h0M39.4,157.9h0M38.6,171.9h0M37.1,199.9h0M35.6,227.9h0M34.8,241.9h0M34.1,255.9h0M31.8,297.9h0M51.4,65.1h0M50.6,79.1h0M49.8,93.1h0M49.1,107.1h0M48.3,121.1h0M47.6,135.1h0M46.8,149.1h0M46.1,163.1h0M45.3,177.1h0M44.6,191.1h0M43.8,205.1h0M43,219.1h0M41.5,247.1h0M40,275.1h0M39.3,289.1h0M38.5,303.1h0M37.7,317.1h0M237.8,74.2h0M238.5,88.2h0M239.3,102.2h0M240.8,130.2h0M242.3,158.2h0M243.1,172.2h0M244.6,200.2h0M245.3,214.2h0M246.1,228.2h0M246.8,242.2h0M247.6,256.2h0M248.4,270.2h0M249.1,284.2h0M250.6,312.2h0M242.5,57.3h0M243.3,71.3h0M244,85.3h0M244.8,99.3h0M245.6,113.3h0M246.3,127.3h0M247.1,141.3h0M247.8,155.3h0M248.6,169.3h0M249.3,183.3h0M250.9,211.3h0M251.6,225.3h0M252.4,239.3h0M253.1,253.3h0M255.4,295.3h0M256.1,309.3h0M246,51.7h0M246.8,65.7h0M248.3,93.7h0M249.8,121.7h0M252.1,163.7h0M252.8,177.7h0M255.1,219.7h0M255.9,233.7h0M256.6,247.7h0M257.4,261.7h0M258.1,275.7h0" stroke="#e8231d" stroke-width="3.4" stroke-linecap="round"/><path d="M32.8,47.9h0M32,61.9h0M31.3,75.9h0M30.5,89.9h0M29.7,103.9h0M29,117.9h0M26.7,159.9h0M26,173.9h0M25.2,187.9h0M23.7,215.9h0M35.6,49.3h0M34.8,63.3h0M34.1,77.3h0M33.3,91.3h0M31.8,119.3h0M31,133.3h0M28.8,175.3h0M28,189.3h0M25.8,231.3h0M25,245.3h0M47.9,52.2h0M47.1,66.2h0M46.4,80.2h0M45.6,94.2h0M44.8,108.2h0M44.1,122.2h0M43.3,136.2h0M42.6,150.2h0M41.1,178.2h0M40.3,192.2h0M38.8,220.2h0M37.3,248.2h0M35.8,276.2h0M34.3,304.2h0M222.8,49.6h0M223.6,63.6h0M224.3,77.6h0M225.1,91.6h0M225.8,105.6h0M226.6,119.6h0M227.4,133.6h0M228.1,147.6h0M228.9,161.6h0M230.4,189.6h0M231.1,203.6h0M231.9,217.6h0M234.2,259.6h0M235.7,287.6h0M236.4,301.6h0M237.2,315.6h0M226.2,53.3h0M229.9,123.3h0M232.2,165.3h0M233,179.3h0M233.7,193.3h0M235.2,221.3h0M236,235.3h0M236.7,249.3h0M237.5,263.3h0M239,291.3h0M239.8,305.3h0M240.5,319.3h0M230.5,71.4h0M231.3,85.4h0M232,99.4h0M232.8,113.4h0M233.5,127.4h0M234.3,141.4h0M235,155.4h0M235.8,169.4h0M237.3,197.4h0M240.3,253.4h0M241.1,267.4h0M242.6,295.4h0M243.4,309.4h0M235,81.1h0M235.8,95.1h0M236.5,109.1h0M237.3,123.1h0M238,137.1h0M238.8,151.1h0M239.5,165.1h0M240.3,179.1h0M241.8,207.1h0M242.6,221.1h0M244.1,249.1h0M244.8,263.1h0M245.6,277.1h0M246.3,291.1h0M247.9,319.1h0" stroke="#e8241f" stroke-width="3.4" stroke-linecap="round"/><path d="M24.6,60.2h0M23.9,74.2h0M196.2,49.2h0M197.7,77.2h0M199.3,105.2h0M200.8,133.2h0M204.5,203.2h0M205.3,217.2h0M206.1,231.2h0M206.8,245.2h0M207.6,259.2h0M209.1,287.2h0M209.8,301.2h0M210.6,315.2h0M201.8,100.8h0M202.6,114.8h0M204.1,142.8h0M204.9,156.8h0M205.6,170.8h0M206.4,184.8h0M207.1,198.8h0M207.9,212.8h0M208.6,226.8h0M210.9,268.8h0M211.7,282.8h0M212.4,296.8h0M206,45.8h0M206.7,59.8h0M207.5,73.8h0M208.3,87.8h0M209,101.8h0M209.8,115.8h0M210.5,129.8h0M211.3,143.8h0M212,157.8h0M213.6,185.8h0M214.3,199.8h0M215.1,213.8h0M215.8,227.8h0M218.1,269.8h0M219.6,297.8h0M220.4,311.8h0M210.4,46h0M211.1,60h0M211.9,74h0M212.6,88h0M214.9,130h0M215.7,144h0M216.4,158h0M217.9,186h0M219.4,214h0M220.2,228h0M220.9,242h0M222.5,270h0M223.2,284h0M224,298h0M224.7,312h0M215.6,49.2h0M217.1,77.2h0M217.8,91.2h0M218.6,105.2h0M219.3,119.2h0M220.8,147.2h0M221.6,161.2h0M222.4,175.2h0M225.4,231.2h0M226.1,245.2h0M226.9,259.2h0M227.6,273.2h0M228.4,287.2h0M229.2,301.2h0M219.4,58.9h0M220.2,72.9h0M224,142.9h0M224.7,156.9h0M226.2,184.9h0M227,198.9h0M227.7,212.9h0M228.5,226.9h0M229.3,240.9h0M230,254.9h0M231.5,282.9h0M429,175.9h0M427.5,203.9h0M426,231.9h0M424.5,259.9h0M423.8,273.9h0M422.2,301.9h0M428.5,257.9h0M426.2,299.9h0" stroke="#d81d43" stroke-width="3.4" stroke-linecap="round"/><path d="M28.1,55.8h0M26.6,83.8h0M24.3,125.8h0M190.2,70.8h0M191,84.8h0M191.7,98.8h0M192.5,112.8h0M194,140.8h0M194.8,154.8h0M195.5,168.8h0M196.3,182.8h0M197,196.8h0M197.8,210.8h0M198.5,224.8h0M199.3,238.8h0M200.1,252.8h0M201.6,280.8h0M192.1,50.1h0M193.6,78.1h0M194.3,92.1h0M195.1,106.1h0M196.6,134.1h0M198.9,176.1h0M199.6,190.1h0M200.4,204.1h0M201.1,218.1h0M201.9,232.1h0M202.6,246.1h0M203.4,260.1h0M204.2,274.1h0M205.7,302.1h0M206.4,316.1h0M205.5,90.6h0M206.3,104.6h0M207,118.6h0M207.8,132.6h0M208.5,146.6h0M209.3,160.6h0M210.8,188.6h0M212.3,216.6h0M213.1,230.6h0M213.8,244.6h0M215.4,272.6h0M216.9,300.6h0M422.1,52.5h0M421.3,66.5h0M420.5,80.5h0M419,108.5h0M418.3,122.5h0M417.5,136.5h0M416.8,150.5h0M416,164.5h0M414.5,192.5h0M413.7,206.5h0M413,220.5h0M412.2,234.5h0M411.5,248.5h0M409.2,290.5h0M408.4,304.5h0M424,68.7h0M423.2,82.7h0M422.4,96.7h0M421.7,110.7h0M420.2,138.7h0M417.2,194.7h0M416.4,208.7h0M415.6,222.7h0M412.6,278.7h0M411.9,292.7h0M411.1,306.7h0M427.8,62.6h0M427.1,76.6h0M426.3,90.6h0M425.5,104.6h0M424.8,118.6h0M424,132.6h0M423.3,146.6h0M422.5,160.6h0M421.8,174.6h0M420.2,202.6h0M419.5,216.6h0M418.7,230.6h0M418,244.6h0M417.2,258.6h0M416.5,272.6h0M415.7,286.6h0M429.4,97.8h0M428.7,111.8h0M427.9,125.8h0M426.4,153.8h0M425.6,167.8h0M424.9,181.8h0M424.1,195.8h0M423.4,209.8h0M422.6,223.8h0M421.9,237.8h0M421.1,251.8h0M420.3,265.8h0M418.1,307.8h0" stroke="#b2157f" stroke-width="3.4" stroke-linecap="round"/><path d="M173.2,54.9h0M173.9,68.9h0M174.7,82.9h0M175.5,96.9h0M176.2,110.9h0M177.7,138.9h0M179.2,166.9h0M180,180.9h0M181.5,208.9h0M182.3,222.9h0M183,236.9h0M184.5,264.9h0M186,292.9h0M186.8,306.9h0M175.9,47.6h0M177.4,75.6h0M178.2,89.6h0M178.9,103.6h0M179.7,117.6h0M180.4,131.6h0M181.2,145.6h0M182,159.6h0M182.7,173.6h0M183.5,187.6h0M185,215.6h0M186.5,243.6h0M187.2,257.6h0M188,271.6h0M188.8,285.6h0M190.3,313.6h0M180,48.3h0M181.5,76.3h0M182.3,90.3h0M183.1,104.3h0M183.8,118.3h0M185.3,146.3h0M186.1,160.3h0M186.8,174.3h0M188.3,202.3h0M189.1,216.3h0M189.9,230.3h0M190.6,244.3h0M191.4,258.3h0M192.1,272.3h0M192.9,286.3h0M194.4,314.3h0M183.8,51.4h0M184.5,65.4h0M185.3,79.4h0M186,93.4h0M186.8,107.4h0M189.8,163.4h0M190.6,177.4h0M192.1,205.4h0M192.8,219.4h0M194.4,247.4h0M195.1,261.4h0M195.9,275.4h0M196.6,289.4h0M197.4,303.4h0M198.1,317.4h0M385.2,61h0M382.9,103h0M380.7,145h0M379.9,159h0M378.4,187h0M376.9,215h0M376.1,229h0M375.4,243h0M374.6,257h0M372.3,299h0M371.6,313h0M392.6,99.3h0M391.1,127.3h0M388.8,169.3h0M386.5,211.3h0M385.8,225.3h0M384.3,253.3h0M381.2,309.3h0M401.8,58.3h0M401,72.3h0M400.3,86.3h0M399.5,100.3h0M398,128.3h0M397.3,142.3h0M396.5,156.3h0M395,184.3h0M394.2,198.3h0M393.5,212.3h0M392.7,226.3h0M392,240.3h0M389.7,282.3h0M388.9,296.3h0M388.2,310.3h0M405.4,57.3h0M404.6,71.3h0M403.9,85.3h0M401.6,127.3h0M400.1,155.3h0M399.4,169.3h0M397.8,197.3h0M396.3,225.3h0M394.1,267.3h0M392.5,295.3h0M391.8,309.3h0M408.7,54.5h0M407.1,82.5h0M406.4,96.5h0M404.1,138.5h0M403.4,152.5h0M402.6,166.5h0M401.9,180.5h0M401.1,194.5h0M400.3,208.5h0M399.6,222.5h0M395.8,292.5h0M411.5,69.5h0M410.7,83.5h0M410,97.5h0M409.2,111.5h0M408.5,125.5h0M407,153.5h0M406.2,167.5h0M404.7,195.5h0M403.9,209.5h0M403.2,223.5h0M402.4,237.5h0M401.7,251.5h0M400.9,265.5h0M400.2,279.5h0M399.4,293.5h0M418.7,48.5h0M417.9,62.5h0M413.4,146.5h0M412.6,160.5h0M411.9,174.5h0M411.1,188.5h0M410.4,202.5h0M409.6,216.5h0M407.3,258.5h0M406.6,272.5h0M404.3,314.5h0" stroke="#7e3a9a" stroke-width="3.4" stroke-linecap="round"/><path d="M145.8,52.4h0M146.5,66.4h0M148.1,94.4h0M148.8,108.4h0M149.6,122.4h0M150.3,136.4h0M151.1,150.4h0M153.3,192.4h0M154.9,220.4h0M155.6,234.4h0M157.9,276.4h0M159.4,304.4h0M160.2,318.4h0M150.5,69h0M151.2,83h0M152,97h0M152.7,111h0M154.2,139h0M155,153h0M155.8,167h0M156.5,181h0M157.3,195h0M158,209h0M158.8,223h0M159.5,237h0M160.3,251h0M161.8,279h0M162.6,293h0M157,60.1h0M158.5,88.1h0M159.3,102.1h0M160,116.1h0M162.3,158.1h0M163,172.1h0M165.3,214.1h0M166.1,228.1h0M166.8,242.1h0M167.6,256.1h0M168.3,270.1h0M169.1,284.1h0M169.8,298.1h0M170.6,312.1h0M163.6,67.7h0M164.3,81.7h0M165.8,109.7h0M166.6,123.7h0M167.3,137.7h0M168.1,151.7h0M168.8,165.7h0M169.6,179.7h0M170.4,193.7h0M171.1,207.7h0M172.6,235.7h0M173.4,249.7h0M174.9,277.7h0M175.7,291.7h0M176.4,305.7h0M177.2,319.7h0M165.6,55.1h0M167.9,97.1h0M170.2,139.1h0M170.9,153.1h0M171.7,167.1h0M172.4,181.1h0M173.9,209.1h0M175.4,237.1h0M176.2,251.1h0M177.7,279.1h0M179.2,307.1h0M169,52.4h0M169.7,66.4h0M170.5,80.4h0M171.2,94.4h0M172,108.4h0M174.3,150.4h0M175,164.4h0M176.5,192.4h0M177.3,206.4h0M178,220.4h0M178.8,234.4h0M179.6,248.4h0M181.1,276.4h0M183.3,318.4h0M372.6,46.7h0M371.8,60.7h0M369.6,102.7h0M368.8,116.7h0M368,130.7h0M367.3,144.7h0M366.5,158.7h0M365.8,172.7h0M365,186.7h0M364.3,200.7h0M362.8,228.7h0M362,242.7h0M359.7,284.7h0M359,298.7h0M358.2,312.7h0M375.3,49.1h0M374.6,63.1h0M373.8,77.1h0M373.1,91.1h0M371.6,119.1h0M369.3,161.1h0M367.8,189.1h0M367,203.1h0M366.3,217.1h0M365.5,231.1h0M364.8,245.1h0M364,259.1h0M362.5,287.1h0M361.7,301.1h0M379.2,53.9h0M377.7,81.9h0M376.2,109.9h0M375.4,123.9h0M374.6,137.9h0M373.9,151.9h0M373.1,165.9h0M372.4,179.9h0M370.9,207.9h0M370.1,221.9h0M367.8,263.9h0M366.3,291.9h0M365.6,305.9h0M364.8,319.9h0M378.4,124.9h0M377.7,138.9h0M376.9,152.9h0M376.2,166.9h0M375.4,180.9h0M374.7,194.9h0M373.9,208.9h0M373.1,222.9h0M372.4,236.9h0M370.9,264.9h0M370.1,278.9h0M369.4,292.9h0M368.6,306.9h0M390.2,68.5h0M389.5,82.5h0M388.7,96.5h0M387.2,124.5h0M384.9,166.5h0M383.4,194.5h0M382.6,208.5h0M381.1,236.5h0M378.9,278.5h0M377.4,306.5h0M398.2,56.7h0M397.5,70.7h0M396.7,84.7h0M395.2,112.7h0M392.9,154.7h0M392.2,168.7h0M391.4,182.7h0M389.9,210.7h0M389.1,224.7h0M388.4,238.7h0M387.6,252.7h0M386.9,266.7h0M386.1,280.7h0M385.4,294.7h0" stroke="#5a4a9c" stroke-width="3.4" stroke-linecap="round"/><path d="M76.5,58.9V306M126.5,58.9V306M176.5,58.9V306M226.5,58.9V306M276.5,58.9V306M326.5,58.9V306M376.5,58.9V306M26.5,100.1H426.5M26.5,141.3H426.5M26.5,182.4H426.5M26.5,223.6H426.5M26.5,264.8H426.5M27,58.9V306M426,58.9V306" fill="none" stroke="#555" stroke-width="0.8" stroke-dasharray="1.3,2.9"/><use href="#coast" stroke="#383838" stroke-width="1.6"/></g><rect x="22.7" y="56.3" width="407.5" height="252.3" fill="none" stroke="#c8c8c8" stroke-width="0.8"/><rect x="25.9" y="58.8" width="401.1" height="247" fill="none" stroke="#c8c8c8" stroke-width="0.8"/><path d="M76.5,57.5H126.5M76.5,307.2H126.5M176.5,57.5H226.5M176.5,307.2H226.5M276.5,57.5H326.5M276.5,307.2H326.5M376.5,57.5H426.5M376.5,307.2H426.5" stroke="#383838" stroke-width="2.7"/><path d="M24.3,58.9V100.1M428.6,58.9V100.1M24.3,141.3V182.4M428.6,141.3V182.4M24.3,223.6V264.8M428.6,223.6V264.8" stroke="#383838" stroke-width="3"/><g style="font-family:'Liberation Sans',sans-serif;font-size:15.3px;fill:#333"><text transform="translate(76.5,52.4) scale(0.875,1)" text-anchor="middle">-135</text><text transform="translate(76.5,324.8) scale(0.875,1)" text-anchor="middle">-135</text><text transform="translate(126.5,52.4) scale(0.875,1)" text-anchor="middle">-90</text><text transform="translate(126.5,324.8) scale(0.875,1)" text-anchor="middle">-90</text><text transform="translate(176.5,52.4) scale(0.875,1)" text-anchor="middle">-45</text><text transform="translate(176.5,324.8) scale(0.875,1)" text-anchor="middle">-45</text><text transform="translate(226.5,52.4) scale(0.875,1)" text-anchor="middle">0</text><text transform="translate(226.5,324.8) scale(0.875,1)" text-anchor="middle">0</text><text transform="translate(276.5,52.4) scale(0.875,1)" text-anchor="middle">45</text><text transform="translate(276.5,324.8) scale(0.875,1)" text-anchor="middle">45</text><text transform="translate(326.5,52.4) scale(0.875,1)" text-anchor="middle">90</text><text transform="translate(326.5,324.8) scale(0.875,1)" text-anchor="middle">90</text><text transform="translate(376.5,52.4) scale(0.875,1)" text-anchor="middle">135</text><text transform="translate(376.5,324.8) scale(0.875,1)" text-anchor="middle">135</text><text transform="translate(19.4,100.1) rotate(-90) scale(0.875,1)" text-anchor="middle">60</text><text transform="translate(433.2,100.1) rotate(90) scale(0.875,1)" text-anchor="middle">60</text><text transform="translate(19.4,141.3) rotate(-90) scale(0.875,1)" text-anchor="middle">30</text><text transform="translate(433.2,141.3) rotate(90) scale(0.875,1)" text-anchor="middle">30</text><text transform="translate(19.4,182.4) rotate(-90) scale(0.875,1)" text-anchor="middle">0</text><text transform="translate(433.2,182.4) rotate(90) scale(0.875,1)" text-anchor="middle">0</text><text transform="translate(19.4,223.6) rotate(-90) scale(0.875,1)" text-anchor="middle">-30</text><text transform="translate(433.2,223.6) rotate(90) scale(0.875,1)" text-anchor="middle">-30</text><text transform="translate(19.4,264.8) rotate(-90) scale(0.875,1)" text-anchor="middle">-60</text><text transform="translate(433.2,264.8) rotate(90) scale(0.875,1)" text-anchor="middle">-60</text></g></g><g transform="translate(464.3,355.1)"><clipPath id="clipd"><rect x="26" y="58.9" width="401" height="247.1"/></clipPath><g clip-path="url(#clipd)"><path d="M132.1,43.7L135,88.3M135,88.5L138.8,147.7M138.8,147.8L142,196.3M142.1,198.1L146.6,267.9M146.8,270.9L149.9,318.7M146.9,53.5L148.6,78.8M148.7,81L150.3,106M150.5,108L153.2,150.8M153.3,151.5L156.5,201.4M156.7,203.6L159.6,247.9M159.7,250.9L162,286M162.1,286.6L165.3,336.3M154.3,53.2L158.4,116.9M158.6,120.3L162,171.8M162.2,175.5L166.7,245.2M166.8,246L170.7,306.2M170.9,308.9L173.3,345.7M335.9,52.6L338.9,98.8M342.1,147.5L346.3,212.3M346.6,216.2L350.7,279.7M350.8,280.8L354.6,339.1M337.4,46.3L339.1,71.5M339.1,72.7L342.5,124.5M342.7,127.2L345.7,173.6M345.9,177.2L348.9,222.5M349.1,225.3L351.3,259.6M351.4,261.3L355.2,319M349.9,57.1L352.7,99.2M352.9,103.1L354.6,129.3M354.7,131.1L357.7,176.8M357.9,179.2L360.1,214M360.3,216.6L361.9,241.6M362,242.5L366.5,312M363.9,57.6L368,120.5M368.1,122.2L372.5,190.6M372.8,194.3L375.5,237.1M375.6,238.3L378,274.4M378.1,275.7L381.3,325.3" stroke="#5b3f98" stroke-opacity="0.64" stroke-width="1.9" stroke-dasharray="7,1.5"/><path d="M116.8,53.6L118.6,80.7M118.7,82.5L122.8,145.5M123,148.4L125.3,183.2M125.4,184.7L127,210.2M127.1,210.9L129.7,250.7M129.8,252.4L132.3,290.9M132.4,292.7L136,348.3M124.4,46L127.6,95.7M127.9,99.5L131.9,161.7M131.9,161.8L134.3,198.4M134.4,200L138.7,265.7M138.9,269.3L142.4,323.5M128.5,58L131.8,107.8M132,111.1L133.7,136.8M133.9,139.8L138.1,204.5M138.2,206L140.3,238.7M140.5,241.8L143.1,281.7M143.1,282.6L147.4,348.3M130.5,57.8L133.1,97.9M133.2,99.9L135.9,141.4M136.1,144.7L139.7,200.1M140,203.8L142.1,237.4M142.4,240.7L145.2,283.9M145.2,284.9L148.5,335M134.2,45.4L136.7,84.1M137,87.6L139,118.4M139.2,121.5L143.6,190M143.7,191.2L145.4,217.9M145.5,218.6L148.4,264.1M148.7,267.3L152,318.7M334.1,56.5L336.9,98.7M337.1,102.6L340.8,159.6M340.8,159.6L344.1,209.6M344.2,211L348.4,275M348.4,276.1L351.4,322.1M341.6,54.1L344.5,99.7M344.7,101.9L348.8,166M352.7,225.1L356.1,277.8M356.1,278L360.4,343.6" stroke="#3d3f99" stroke-opacity="0.64" stroke-width="1.9" stroke-dasharray="7,1.5"/><path d="M98.8,44.4L102.1,95.6M102.1,95.6L105.3,144.9M105.5,147.9L107.6,179.3M107.7,181.4L110,216.2M110.2,219.6L112.9,260.7M112.9,262.2L116.5,316.2M100.3,47.1L103.4,95.2M103.6,98.5L106.3,140.7M106.4,142.1L109.5,189.4M109.7,192L111.7,223.1M111.9,226.5L114.6,268.1M114.7,269L119.1,336.3M308,53L309.8,80.5M309.9,82.4L312.3,119.8M312.3,120L315.3,165.6M315.4,166.8L317.1,194.1M317.3,196.6L319.5,229.6M319.7,233.3L321.7,264.8M322,268.6L326.3,334.2M313.2,50.3L316.9,107.1M317,109.8L321.4,176.8M321.4,177.1L323.7,212M323.8,214.1L325.8,244.7M326,248.2L329.3,298.6M329.3,299L332.8,352.2M324.1,53.1L327.4,102.5M327.4,103.6L329.8,140.8M330,142.6L333.7,200.4M333.8,201.8L335.5,228.3M335.6,229.9L337.7,261.4M337.9,264.8L342.1,329.9M331.4,49.9L333.1,77.3M333.3,79.4L337,136.5M337,136.5L340.1,184.8M340.3,188L344.5,252.8M344.6,254.2L348.7,316.9" stroke="#2a4ea3" stroke-opacity="0.64" stroke-width="1.9" stroke-dasharray="7,1.5"/><path d="M73,49L75.4,87.2M75.5,87.9L77.8,123.2M78,126.1L80.2,160.2M80.3,162L84,218.7M84.2,221.9L87.3,269.6M87.5,273L89.7,306.5M89.8,308.7L92.7,352.5M79.3,54.8L82.3,101.8M82.6,105.5L86.8,170.1M87,173.5L90.3,223.8M90.3,224.7L94.8,292.8M88.8,49.9L91.6,92.6M91.7,94L95.2,149M95.4,151L99.2,209.8M99.4,213.5L102.1,255M102.3,256.9L103.9,283.1M104.1,285.3L106.5,322.1M97.9,58L101.9,119.1M102,120.9L105.4,172.4M105.6,175.6L109.2,230.9M109.2,231L112.6,283.3M112.6,284L115.1,322.5M103.2,56.1L105.5,91M105.7,94.9L109,145M109.1,146.5L113.1,208.8M113.1,209.3L116.9,267.4M117,269L121.4,337M107.3,58.5L109.3,90M109.3,90L113.7,156.7M113.9,159.6L116.7,203M116.7,203.5L121,269.7M121,269.8L125,331.5M278,41.9L282.2,107.4M282.5,110.7L286.7,175.2M286.7,176.6L288.9,209.6M289.1,213.4L290.9,240.1M293.3,276.7L296.3,322.8M285.5,47.8L289.5,109.9M289.8,113.6L292.6,157.5M292.8,160.1L296.1,211.4M296.2,212.8L298.6,250.3M298.8,252.8L302.5,310.3M289.1,39.7L293,99.6M293.2,102L295.2,132.8M295.4,136.3L299.9,205.7M300,206.7L303.4,259.6M303.5,260.4L305.3,288.3M305.5,292.3L308.9,343.6M303.5,40.3L307.7,104.2M307.7,105.1L310.6,149.8M310.8,153L313.8,198.4M314.1,202.3L318.3,267.5M318.5,271.4L320.6,303.6M320.8,306.3L323.6,349.5M310.4,50.1L314.4,111.7M314.7,115.3L318.5,174.3M318.7,177.2L322.2,231.9M322.5,235.8L326.6,298.9M326.6,299.4L330.5,359.2M312.5,53.3L314.3,81M314.5,84.4L316.9,120.7M317,122.4L319.1,155M319.2,156.1L323.6,224.1M327.7,286.9L330,323.5" stroke="#2c55a8" stroke-opacity="0.64" stroke-width="1.9" stroke-dasharray="7,1.5"/><path d="M57.6,57.2L60,93.5M60.2,96.9L64.5,162.2M64.5,162.2L66.5,193.4M66.7,197L68.6,226.6M68.8,228.5L70.8,260.5M71,263.5L75.2,327M71.3,46.2L75.3,108M75.3,108.1L79.5,172.8M79.6,174.5L81.6,204.2M81.7,206.9L85.9,271.2M86,272.4L90,334.6M74.8,42L78.9,105M79,106.8L82,153.1M82.1,154.4L86.4,220.6M86.5,221.9L89.8,273.2M90.1,276.9L93.1,322.8M277,49.7L279.4,86.2M279.5,87.4L281.3,116.4M281.6,120L285.9,187.1M286.1,190.2L289.5,241.9M289.7,245.6L292.5,288.3M292.6,288.9L296.2,345.2M280.2,46.8L284.6,115.2M286.9,149.7L291.3,218.4M291.3,218.4L295.4,280.6M295.4,281.2L299,335.9M284.9,53.9L286.9,85.3M287.1,87.9L289.1,118.8M289.3,121.8L291.1,150M291.2,151.5L295.7,220.3M295.8,222.3L298.2,258.5M298.3,260.6L301.9,315.7" stroke="#3575bf" stroke-opacity="0.64" stroke-width="1.9" stroke-dasharray="7,1.5"/><path d="M45,47.4L47.5,84.6M47.6,86L51.9,152.5M52.1,156.1L54.3,190.1M54.6,193.9L58.2,250.3M58.4,253.4L60.8,289.5M61,292.6L65.4,360.2M51.8,57.7L54.6,99.5M54.8,103.4L57.2,140.5M57.4,143.4L59.9,181.6M60,183.4L61.8,210.6M61.8,211.1L66,276M66.2,277.8L68,306M68,306.3L71.5,359.8M69,46.3L73.5,115.1M73.6,116.4L77.9,183.5M78,185.1L80.8,227.8M81,230.6L85.4,297.8M85.4,299L88.3,343.3M250,40.4L254.5,109.7M254.6,111L256.7,142.9M256.7,143.3L260.1,195.2M260.1,196.2L263.3,245.9M263.5,248.5L266.3,291.6M266.6,295.6L270.9,362M260,134.4L263.7,191.6M263.8,192.4L265.7,221.2M265.8,223.8L268.8,269.1M268.9,271L273.2,337.4M256.8,56.8L258.6,84.1M258.8,87.3L261.1,122.3M261.2,123.1L263.3,155.4M263.3,155.8L266.6,207.2M266.9,211L270.1,260M270.1,260.5L272.1,292.2M259,50.3L262.1,97.5M262.2,99.3L266,157.8M266.3,161.5L270,218.5M270.1,219.9L273.2,268M273.2,268L277.3,330.8M262.8,53.9L265,88.2M265.1,89.5L267.5,126.2M267.5,127L271.5,188M271.6,189.3L275.8,254.6M275.9,255.5L278.3,292.5M278.6,296.5L280.5,325.5" stroke="#2db5ea" stroke-opacity="0.64" stroke-width="1.9" stroke-dasharray="7,1.5"/><path d="M35.9,45.9L38.1,79.3M38.2,81L40.2,111M40.4,114.1L43.5,161.5M43.5,162.2L46.5,208.7M46.6,210.1L49.5,254.9M49.7,256.9L53.1,309.7M41.9,45.8L44.3,81.2M44.5,84.4L47.9,137M48,138.8L50.4,175.1M50.4,176.3L54.2,234.2M54.2,234.7L58.4,299.6M58.6,301.9L61.6,348.3M44.4,55.2L46.7,91M46.8,91.6L51,156.9M51.2,160.5L54.9,216.6M55,218.9L57.6,259M57.7,259.7L60,296.1M60.2,298.4L62.8,339.2M47.6,46.9L50.2,86.9M50.3,88.6L54.7,156.8M54.9,159.5L59.3,227.5M59.3,228.2L62.7,280.1M62.9,283.2L65.1,316.2M245.1,52.1L247.4,87.5M247.5,89.4L251.9,157.7M252.1,159.8L255.6,213.1M255.6,214.3L260.1,282.5M260.2,283.9L264.5,350.3M252.3,51L254.4,82M254.5,84.4L258.1,139.7M258.2,141.1L260.2,171.9M260.3,173.1L262.1,201.8M262.4,205.5L266.7,271.4M266.7,271.4L269.9,321.1" stroke="#6ec6d6" stroke-opacity="0.64" stroke-width="1.9" stroke-dasharray="7,1.5"/><path d="M23.7,113.8L26.8,161.6M26.8,161.8L30,211.4M30.1,212.7L34.1,274.7M34.3,276.9L36.9,317.7M25.5,104.8L27.4,134.1M27.7,137.3L31.3,194M31.6,197.8L35.1,252.3M35.3,255.6L39.8,324.1M221.5,53L225,106.4M225.2,110.1L228.7,163.7M228.9,167L232.8,226.4M233,230.2L235.1,261.6M235.2,263.1L238.6,316M223.9,51.9L227.4,106.1M227.7,110.1L231,160.4M231.2,163.6L235.2,225.2M235.4,229.1L239,284.6M239.2,286.6L240.8,311.8M225.7,58.2L228.9,107.7M229,109.4L232.8,167.6M233,169.9L235.4,207.3M235.4,207.7L237.2,234.5M237.3,236.5L241.6,303M241.8,306.5L243.5,331.9M226.8,44.8L228.6,71.5M228.8,74.7L231.5,116.3M231.5,116.6L233.3,144.2M233.6,148L235.9,184.2M236,184.9L240.5,254.5M240.5,255.2L243,293.2M243.2,296L246.8,351.7M230,44L231.8,70.9M231.8,71.4L236.1,137.7M240.8,209.8L245.3,279.3M245.5,282.6L248.9,334.9" stroke="#6cbba6" stroke-opacity="0.64" stroke-width="1.9" stroke-dasharray="7,1.5"/><path d="M29.5,249.4L33.3,308.7M33.3,308.9L37.8,378.1M25.4,152.9L28.9,206.3M29.1,210.1L31.5,247.1M31.6,248.8L34.8,296.8M34.8,297.1L37.1,333.2M196.1,54.4L199.2,102M199.3,102.9L202,145.4M202,145.5L204.4,181.9M204.5,184.2L207.4,228.1M207.4,228.5L211.4,289M211.5,291.4L215.3,350M207.6,44.3L210.1,84M210.3,85.7L212.3,116.8M212.5,120.5L215.7,168.8M215.7,169.9L217.4,196M217.6,198.5L220.6,244.8M220.8,248.5L223.5,289.2M223.6,290.6L227.4,350M424.1,53.1L425.8,79.6M425.9,80.9L427.6,108" stroke="#6cb773" stroke-opacity="0.64" stroke-width="1.9" stroke-dasharray="7,1.5"/><path d="M25.6,221.3L28.2,261.4M28.4,264.1L32.5,327.1M196.6,42.7L200.3,99.5M200.4,100.9L204.1,158.7M204.2,159.7L205.9,185.5M205.9,186.7L208.1,219.2M208.1,220.7L210.8,261.7M210.9,263.5L212.6,289.9M212.8,292.3L216.6,350.9M200.1,50.9L203.1,97.4M203.4,101.2L205.1,128.7M205.2,130.1L209.3,192.6M209.3,192.9L212.3,238.2M212.3,238.8L215.1,281.8M215.2,283L218,325.8M204.1,53.6L207.7,108.1M207.9,111.7L210,143.6M210,144.5L213.5,197.5M213.6,199.7L218,267.5M218.1,268.6L222.1,330.5M403,57.7L405.6,97.2M405.7,99.2L408.2,138M408.3,138.7L412.7,206.3M412.7,207.1L417,273.3M417.3,277.2L420,318.5M404.2,53.2L406,81.1M406,81.3L408.8,123.9M409,127.5L411,157.8M411,157.8L413,188.4M413.2,192.1L417,249.8M417.2,252.8L419.4,287.3M419.5,288.1L421.7,322.2M408.3,41.9L410.8,80.8M410.9,81.4L413.1,115.7M413.2,117L416.6,170.2M416.8,172.9L421,237.3M421.1,238.6L423,268.7M423.2,271.5L424.9,298.2M425.1,300L428.7,356.2M414.4,110.3L416.9,149M417,149.4L421,212.3M421.2,214.4L423.9,256.5M424.1,259.7L426.2,290.9M426.3,292.6L428.6,327.8" stroke="#70b22e" stroke-opacity="0.64" stroke-width="1.9" stroke-dasharray="7,1.5"/><path d="M166.1,58.1L170,118.4M170.1,118.7L174,179.9M174.2,181.9L176.4,216.9M176.5,217.3L179.6,265.3M179.7,267L182.9,316.4M169.7,44.2L172.8,91.7M172.9,94L176.7,152.6M176.9,154.6L178.7,183.3M178.9,185.6L183.3,254M183.5,256.6L185.5,287.8M185.6,289.1L187.3,315M175.8,46.5L179.7,106.8M179.9,110.2L181.7,137.8M181.8,139L184.9,186.9M185.1,190L186.9,217.6M187.1,221.4L189,250.4M189.2,252.7L192,295.9M192.1,297.1L194.8,339.2M180.6,58.4L184.8,123.1M184.9,125.3L188.1,174.9M188.2,176.1L192,235M192.1,235.4L195.3,284.5M195.5,288L199.3,346.7M194,58L197,103.5M197.2,107L201.1,166.5M201.1,167.8L205.1,228.9M205.2,230.7L207,258.5M207.1,260L209.7,299.1M209.7,299.5L211.4,326.1M374.3,40.1L376.6,75.4M376.7,77.4L379.6,122.2M379.8,125.4L383.5,182.6M383.6,183.3L386.9,233.7M387.1,236.7L389.4,272.7M389.5,273.7L392,311.8M380.9,54.6L382.6,81.9M382.7,83.5L386.1,135.1M386.3,138.2L389.7,190.8M390,194.6L394.4,262.7M381.8,44.2L383.6,71.6M383.9,75.2L387,124.1M387.2,127.1L390.5,176.6M390.7,179.9L393.3,220.9M393.4,221.9L397.7,287.4M397.8,289.4L401.4,345.8M392.1,41.9L395.5,94.1M395.6,95.6L399.7,158.8M399.8,160.5L401.5,185.9M404.2,228L406.5,263.9M406.6,264.3L410.1,318.6M401,54.8L403.7,96.2M403.9,98.2L406.8,143.3M406.9,145.8L410.7,203.9M411,207.7L412.7,234.1M412.8,235.7L415,269.9M415.1,270.5L419.3,335.9" stroke="#6ab226" stroke-opacity="0.64" stroke-width="1.9" stroke-dasharray="7,1.5"/><path d="M176.9,120.4L179.2,155.2M179.2,155.4L183.4,220.7M183.7,224.3L187.9,289.1M187.9,289.9L190.8,334.9M173.6,53.9L175.2,79.2M175.3,79.6L179.7,148.2M179.9,150.4L182.2,186.6M182.2,186.8L185.2,232.8M185.2,232.9L189.5,298M189.7,300.9L192.6,346.7M351.2,40.2L353.5,76M353.7,78.7L357.1,130.5M357.2,132.8L360.1,177.1M362.7,217.8L366.1,269.4M366.1,269.7L370.2,332.1M368.8,53.7L371.5,94.9M371.7,98.1L375,149M375,149.7L377.5,187.6M377.6,189.1L381.5,249.6M381.7,252.6L383.8,284.6M384,287.8L386.7,329M373.2,50.7L376.8,106.1M377,109.5L381.6,179.4M381.6,179.4L385.7,243.2M385.9,246L389.2,296.7M389.2,297.2L391.9,338.8M379.1,58.1L382.9,117.4M386.2,167.1L389.2,214M389.4,217.1L391.4,247.3M391.5,248.3L394.7,297.8M394.8,300.2L398.5,356.8" stroke="#7ab820" stroke-opacity="0.64" stroke-width="1.9" stroke-dasharray="7,1.5"/><path d="M137.5,42.5L141.4,101.1M141.4,102.3L145.7,168.6M145.9,171.2L149.5,226.5M149.7,229L152.9,279M153.2,282.7L157.2,344.6M140.7,57.8L142.6,86.7M142.8,89.8L145.3,127.8M145.5,131L147.3,159.3M147.5,162.5L150.4,206.1M150.5,208.5L154,262.2M154.1,262.8L156.3,297.3M156.4,299.3L159.9,352.2M144.1,40.8L148.1,102.9M148.4,106.6L151.5,154.4M151.5,154.6L153.8,190.8M154,193.2L156.1,225.1M156.3,229L160.5,293.6M147.2,40.4L150.7,94.5M150.8,95.8L154.1,146.6M154.2,148.5L156.9,190.4M157.1,193.7L160.7,248.2M160.7,249L165.1,315.7M152.3,55.1L155.7,107.9M155.8,109L159.9,171.6M163.2,223.5L166.3,270.9M166.5,273.5L170.6,336.2M344.7,41.5L349.1,109.5M349.2,111.7L351.4,145.2M351.5,146.1L353.4,176.4M353.6,179.5L357.5,238.9M357.5,239.4L359.8,273.7M348.3,55.8L350.5,90.4M350.6,92L353.8,140.8M354,143.8L357.2,193.4M357.4,197L362,267M362.2,270L365.4,320.1M353.7,56.5L357.1,109M357.3,110.9L359.8,149.8M360,152.5L362.2,186.3M362.3,188.7L364.7,225.5M365,229.5L367.2,264.4M367.4,266.4L371.2,325.6M353.9,40.4L357.7,98.4M357.9,102L360.4,140.4M360.7,144.3L363.2,183M363.2,183.2L365.3,215.2M365.4,216.5L368.8,268.6M368.8,269.1L372,317.4" stroke="#8cbf1a" stroke-opacity="0.64" stroke-width="1.9" stroke-dasharray="7,1.5"/><path d="M112.5,43.5L116,97.9M120.7,170.7L122.9,204.3M123.1,207.6L127.4,273.8M127.5,274.4L130.6,322.9M114.9,48.9L117,81M117,81.5L120.6,137.5M120.7,137.9L124.6,197.9M124.6,198.8L128.7,262.1M129,265.5L132,311.7M118.8,46.4L123.3,116.1M123.4,118.5L127.9,187.5M131.4,240.4L135.5,304.2M135.5,304.6L139.8,369.9M124.2,107.7L127.6,159.7M127.6,159.8L130.9,211M131,211.8L133.7,252.8M133.9,256.4L135.5,281.7M135.7,283.5L139.9,348.1M126.7,55.6L129.4,98.3M129.7,101.9L131.6,131.3M131.6,131.9L134.1,170.3M134.2,170.8L135.8,196.8M135.9,196.9L138.7,240.7M138.8,243L140.8,273.7M140.9,273.8L145.1,338.5M142.4,42.9L146.3,103.7M146.5,106.3L149.3,149.5M149.3,149.9L153.1,208M153.2,210L157.1,269.6M157.1,270.1L158.8,295.3M158.8,295.5L160.9,327.9M324.9,47L328.2,97.6M328.3,98.9L332.2,158.7M332.4,161.1L334.2,189.5M334.4,192.9L338.8,259.9M338.9,261.2L342.9,323M327,50.6L329.6,89.8M333.9,156.4L338.5,226.2M338.6,228.4L341.4,271.2M341.6,274.3L343.2,299.9M343.3,300.5L346,342.3M338.9,45.4L341.9,91.2M342.1,94.2L345.5,147.1M345.8,150.9L349.7,210.8M349.8,212.8L351.7,242M351.9,245L354.4,283.6M354.5,284.3L356.5,316.1" stroke="#bcd123" stroke-opacity="0.64" stroke-width="1.9" stroke-dasharray="7,1.5"/><path d="M104.6,39.3L107.7,87.1M107.8,88.7L111.6,147M111.8,150.3L116.1,217M116.3,219.7L118.9,260.7M119.1,263.4L122.5,315.7M110.8,39.2L113.3,78.8M113.5,81.1L117.2,138.6M117.4,140.8L120.9,195.7M121,196.9L123.2,231.2M123.3,231.9L127.8,301.2M128,304.3L132.2,369.3M295.3,45.4L299.1,103.9M299.1,103.9L301.9,146.3M302,148.9L306.6,218.7M306.7,221L310.7,281.4M310.9,284.6L312.9,315.7M306.7,53.1L309.6,98.2M309.8,101.7L312.7,145.8M312.9,148L317.2,215.3M317.3,217L321.3,278.2M321.4,279L323.2,307.2M323.3,308.2L324.9,333.9M318.1,56L320.6,95.2M320.8,98.4L324.4,152.8M324.5,153.9L328.6,217.7M328.9,221.6L330.9,252.3M330.9,253.6L335.1,317M319.4,40.2L321.9,77.2M321.9,77.9L324.7,121.5M324.8,122.1L327.8,168.7M327.9,170.7L330,202.1M330.2,205.8L333.9,262.5M334.1,265L335.7,290.3M335.9,293L339.1,342.7M321.5,46.3L324.7,95.3M324.9,97.6L327.4,136M327.4,137.4L330.6,186.5M330.8,189.4L333.5,230.7M333.5,230.8L336.4,275.1M336.6,278L340.5,338.4" stroke="#eee43a" stroke-opacity="0.64" stroke-width="1.9" stroke-dasharray="7,1.5"/><path d="M86.7,47.5L90.5,105.3M90.7,108.3L93.3,148.2M93.5,151.5L97.3,210.5M97.5,213.2L102,282.5M96.4,102.1L99.5,150.3M99.7,152.6L104.2,221.7M104.3,224L107.1,267.3M107.2,269.2L111.2,330.1M292.2,53.6L295.8,108.8M295.9,110.4L299.3,162.6M299.5,166.1L303.4,226.3M303.6,228.6L306.9,279.7M307.1,282.5L310,327.2M294.3,44L297.2,88M297.3,89.7L300,130.7M300.2,133.9L303.6,186.1M303.7,187.8L307.3,244.2M307.4,245.2L311.1,302.4M311.2,303.5L313.3,336.1M297.2,44L301.5,109M301.5,110.1L304.1,148.8M304.3,152.6L308.3,214.8M308.4,215.9L311.8,268.5M312,270.8L314.8,314.8M300.1,50.8L304.2,114.2M304.3,116.6L308.5,179.9M308.7,183.9L312,234.5M312.2,237.6L314.4,271.9M314.7,275.3L318.1,327.7" stroke="#f6b41c" stroke-opacity="0.64" stroke-width="1.9" stroke-dasharray="7,1.5"/><path d="M64,54.8L66.7,96M66.7,96.5L69.3,135.6M69.5,138.8L73.4,199.5M73.5,200.9L75.7,234.7M75.9,237.2L79.7,296M79.8,296.9L82.3,336.4M64.8,45.5L67.3,83.8M67.6,87.6L71,140.4M71.2,142.9L75.1,203.9M75.3,206.2L77.3,237.8M77.4,238.6L79.5,271.4M79.7,274.4L81.6,303.9M81.9,307.4L86,370.5M76.2,42.6L78.1,71.8M78.3,75.1L80.6,110.4M80.8,113.3L84.3,166.6M84.5,169.3L88.5,231.8M88.7,234.3L91.8,282M92,285.6L95.5,339.7M83.1,43.1L87.2,105.4M87.3,107L91.3,168.9M91.6,172.4L95.3,230M95.4,231.4L97.7,266.6M97.7,267.6L101.7,328.2M84.7,48L88.9,113M90.8,142L92.7,171.3M92.8,172.3L94.6,200.8M94.9,204.4L96.9,235.5M97,237.1L99.8,280.1M99.9,281.1L102.4,319.6M91.9,55.2L94.5,94.8M94.6,96.9L98.2,152.2M98.3,154.5L101.9,208.5M102,210.2L103.9,239.3M103.9,239.3L107.2,290.1M107.3,291.7L110.3,338.5M264.9,47.8L267.6,89.4M267.8,91.6L269.8,123.4M270.1,127.1L274.3,191.8M274.4,193.1L276.1,219.9M276.2,220.8L277.8,246M277.9,247.8L280.8,291.3M280.9,293.6L285.4,362.6M269.5,57.6L272.9,110M273,111.1L276.3,163.2M276.4,164L278.6,198.2M278.7,199.4L282.6,259.5M282.9,263.4L285.1,297.7M285.1,298.4L287.2,330.7M272.2,40.2L274.9,81.6M275,82.7L278.6,137.7M278.7,139.5L282,190.3M282,190.5L286,251.9M286,252.1L290,313.2M282.1,43.4L285.2,91M288.4,140.4L291.6,189.8M291.8,192.3L293.5,218.6M293.5,219L296.8,269.2M296.8,269.4L299.6,312.9" stroke="#ee7d1f" stroke-opacity="0.64" stroke-width="1.9" stroke-dasharray="7,1.5"/><path d="M49.8,52L52.4,91.9M52.6,95.8L55.9,145.8M56.1,149.1L58.8,190.6M59,193.5L62.2,242.6M62.3,245.6L64.3,275.4M64.5,278.8L67.3,321.2M55.9,58L58.5,98M58.6,99.4L62.2,154.1M62.4,157.1L65,197.3M65.1,199L69,258.6M69,259.4L71.7,301.1M71.9,303.9L75.2,354.4M59.8,50.4L61.6,77.9M61.8,80.6L64.9,129.6M65.1,132L67.8,173M68,176.4L72.3,243.4M72.4,244.1L75.5,291.5M75.7,295.5L79.3,350.4M61.6,49.1L63.9,84.8M63.9,85.6L68.4,153.8M68.6,156.9L72.1,210.5M72.3,213.9L74.5,247.4M74.6,249.1L78.8,314.7M248.5,45L252.5,105.8M252.7,108.6L257.1,177.4M257.2,177.7L260.3,225.7M260.3,226.8L262.2,254.7M262.2,255L265.3,303.1M265.4,304L269,360.1M266.5,58L271.1,127.5M271.2,128.9L272.9,155.1M273,157.8L275.7,199.3M276,202.9L279.7,260.1M279.9,263.2L282.7,306.6M282.7,306.9L285.7,352.9M270.7,49.3L272.4,75.4M272.4,75.9L276.7,141.1M276.7,142L279,177.3M279.1,178.5L281.6,216.5M281.8,219.9L284.2,257.3M284.4,259.9L286.7,294.8M286.8,296.3L289.8,343.6" stroke="#e8481f" stroke-opacity="0.64" stroke-width="1.9" stroke-dasharray="7,1.5"/><path d="M33.5,52.9L35.5,84.3M35.7,86.3L38.6,130.6M38.8,134.2L43.1,201.1M43.3,204.4L46.6,254.6M46.8,257.1L50.7,317.6M37,45.6L39.3,80.9M39.6,84.6L42.2,125.1M42.4,128.2L46.8,195.9M46.9,197.4L49.6,238.9M49.6,239.1L52.1,276.6M52.1,277.5L55.6,331.1M236.2,42.7L240.7,110.8M240.7,111L243.8,158.9M243.9,160L247.5,216.5M247.7,218.7L250.7,264.7M250.8,266.9L253.6,309.2M243.5,58.5L246.8,110M247,112.8L251.2,177.5M251.5,181.4L254.2,223.2M254.4,226.4L257,265.7M257,266.3L258.6,291.6M258.9,295.1L262.3,348.5" stroke="#e8231d" stroke-opacity="0.64" stroke-width="1.9" stroke-dasharray="7,1.5"/><path d="M24,55.4L27.4,107.7M27.5,107.9L29.9,145.5M30.1,148L33.5,201.1M33.6,202.9L36.3,243.2M36.5,246.8L40.2,303.3M40.4,306.8L42.6,340.5M27.8,39.7L30.7,85M30.9,88L34.3,139.7M34.4,142L36.3,171.1M36.5,173.6L40.3,231.8M40.5,235.5L42.7,269.5M42.8,270.3L44.7,299.5M29.8,43.1L32.6,85.1M32.6,85.7L36.6,147M36.7,148.6L40,199.6M40,199.8L44.1,262M44.3,264.7L48.3,326.9M31.5,49.7L35.9,117.3M35.9,117.6L39.6,174M39.8,177.5L43.4,232.3M43.5,234.7L48.1,304.5M48.1,305.5L50.3,338.7M229.6,54.3L232.3,94.9M232.4,97.6L236.4,158.9M236.6,161.8L239.3,202.6M239.5,205.7L242.4,250.4M242.5,251.5L246.4,312.1M234.7,39.9L238.2,94.6M238.3,96L241.6,145.7M241.7,148.5L243.9,181.6M244.1,184.3L246.9,228.2M247,229.2L249.9,273.9M250.2,277.9L254.3,340.9M238.1,44.9L241.6,98.9M241.6,99.1L245.9,165.6M246.2,168.9L249.7,223.7M249.9,226.7L252,259M252.1,259.9L253.7,285.5M253.8,287L257.6,345.4M240.3,49.2L244.8,118.5M245.1,122.3L248,168M248.2,170.2L250.9,212.3M251.1,214.9L255.4,281.7M255.4,282L257.9,319.2" stroke="#e8241f" stroke-opacity="0.64" stroke-width="1.9" stroke-dasharray="7,1.5"/><path d="M23.3,259.5L27.6,325.5M201.2,55.4L205,113.6M205.1,115L207.3,148.5M207.5,151.8L211.1,207.3M211.2,208.4L213.3,240.3M213.4,242.8L215.6,276M215.6,276L220,344.4M211,43.9L213.7,85.9M213.8,87.7L217.1,137.6M217.2,139.3L221.1,199.6M221.2,202L223.1,229.9M223.2,232.5L226.5,282.5M226.6,284.8L228.6,315.9M213.4,47.1L215.7,81.8M215.8,83.2L218.2,121.1M218.4,123.4L220.3,153M220.6,156.8L222.6,188.2M222.7,190.2L226.7,250.7M226.7,251.6L230.7,313.2M215.4,43.9L218.2,87.4M218.2,87.8L222.2,149.5M222.3,151.1L226.2,211.4M226.4,214.1L229.4,260.4M229.6,262.4L232.7,311.1M217,51.8L220,98.9M220.1,100.9L222.7,140.7M222.8,142.4L224.9,173.4M224.9,173.6L228.7,233.2M228.9,235.1L231.2,270.5M231.2,271L234.3,318.8M420.8,58.4L423.6,101.3M423.8,104.6L427,154.3M427.2,157L429.3,189.8" stroke="#d81d43" stroke-opacity="0.64" stroke-width="1.9" stroke-dasharray="7,1.5"/><path d="M181.7,50.3L185.8,114M186,115.9L187.9,145.5M188,146.7L192.5,216M192.5,217L195.8,267.2M195.9,269.1L197.9,300M198,300.7L200.9,345.4M183.5,52.1L185.4,80.5M185.4,80.7L188.5,129.3M188.7,131.5L192.8,195.1M193,197.5L196.1,244.9M196.2,247L199.6,299.6M199.7,300.7L203.6,360.8M189.3,52.4L192.2,97.5M192.4,100.7L194.8,137.5M195.1,141L198.7,196.7M198.8,198.7L201.8,244.2M201.9,246.7L205.9,308.3M206.1,310.6L209.2,358.7M209.5,47.7L211.2,74.4M211.4,76.9L213.4,107.2M213.6,109.9L217.8,175.3M218,177.8L221.6,234.4M221.7,235.8L226.1,303.2M226.1,303.4L227.9,329.9M391.9,58.3L394.6,100M394.6,100.1L397.3,141.2M397.4,143.2L400.8,195.4M401,199L404.9,258.5M405.1,262.4L406.8,287.9M406.8,288.1L409.7,332.6M396.7,50L400,101.3M402.4,137.6L406,193M406,193.3L409.1,240.7M409.1,241.7L413.5,309M406.3,44.6L409.1,88.4M409.2,90.3L411.9,131.3M415.1,179.9L417.8,222.5M418,225.1L420.9,269.4M420.9,270.2L423.9,316.5M414.6,56.1L418.7,117.7M418.9,121.5L422.9,183.4M423,184.8L426.2,233.7M426.2,233.9L430.6,301.8M417.3,56.9L421,113.7M421,114L424.8,173.5M424.8,173.5L427.5,214.8M418.7,51.1L421.9,99.7M422.1,103.5L425.9,162M426.1,164.3L430.5,231.5M422.7,50.9L425.9,100.1M426,100.8L430.4,168.6" stroke="#b2157f" stroke-opacity="0.64" stroke-width="1.9" stroke-dasharray="7,1.5"/><path d="M168.5,55.2L171,93.2M171.1,93.9L174.9,153M175,155.3L177.6,194.8M177.6,195.3L180.1,233.4M180.3,236.2L182.8,275M183,277.3L186.2,326.6M186.4,54.8L190.2,112.7M190.4,115.3L193.2,158.3M193.4,161.9L195.1,188.7M195.3,191.3L197.7,228.5M197.8,229.7L202,294M202.2,297.9L204.1,326M188,50.8L191.5,103.9M194.1,144.6L197.1,189.5M197.3,193.4L201.5,258.5M201.6,259.6L204,295.7M204.1,297.2L206.5,334.1M386.1,44.2L390.6,113.8M390.9,117.5L393.1,151.4M393.2,152.8L396.6,205.5M396.7,207.6L399,243.2M399.2,246.2L401.3,278.6M401.4,279.8L405,335.3M388.8,47L393.3,116.2M393.3,116.7L397.1,174.4M397.2,175.5L401.7,245.3M401.8,247.5L403.7,276.5M403.8,278.2L405.7,306.7M405.8,308.4L407.8,339.1M396.8,85.7L400.9,149.4M401.1,151.9L403.2,183.7M403.3,185.8L405.2,214.5M405.2,215L408.2,261.5M408.4,263.7L412.9,333.3" stroke="#7e3a9a" stroke-opacity="0.64" stroke-width="1.9" stroke-dasharray="7,1.5"/><path d="M155.8,47.5L158.8,93.2M159,96.4L161.8,140M161.9,141.9L164.9,187.6M165.1,190L168.9,249.5M169,250.4L170.9,279.5M157.6,43.2L161.7,106.4M161.7,106.7L166,173.2M166.1,174L170.2,237.3M170.3,239L173.1,281.4M173.2,284L175.2,313.8M161.8,76.6L166.3,145.7M166.5,149.2L170,203.4M170.2,206.5L174.6,273.7M174.8,275.9L177.3,315.1M162.8,57.9L167,122.6M167.1,124.8L168.9,152.7M169,153.9L170.9,183.3M170.9,183.6L173.3,219.5M173.3,220.2L176.7,271.4M176.8,273.8L180.1,324.8M358.8,48.3L360.8,78.6M361,82.3L365.1,145.2M365.4,149.1L369.4,210.4M369.4,210.6L373,266M373,266.7L375.4,303.3M375.5,305.2L379.1,359.7M361.6,51.6L366.1,121.5M366.3,124.1L370.4,186.4M370.6,189.5L375.1,258.8M375.2,261.4L378.8,315.8M365.2,55.9L366.9,81.3M367.1,84.8L368.9,112.5M369,113.9L370.7,141.3M371,145.1L375.3,211.4M375.3,211.7L379,268.4M379.1,270.1L382.4,321.2M366.6,48.5L369.5,92.7M369.7,96.5L371.7,126.6M371.8,128.8L374.1,164M374.2,164.9L377.5,216.6M377.8,220.1L380.9,268.9M381.2,272.7L385.2,334.7M376.9,42.3L378.9,73.1M379,73.3L382.9,134.1M383.1,137L385.8,178.6M385.9,179.7L388.6,221.6M388.8,224.9L392.5,282.4M392.8,286.3L395.3,324.4" stroke="#5a4a9c" stroke-opacity="0.64" stroke-width="1.9" stroke-dasharray="7,1.5"/><path d="M132.3,47.9h0M134.4,80.2h0M135.4,95.1h0M136.3,109h0M136.9,117.9h0M137.9,133.9h0M139.8,163.5h0M141.4,188h0M142.2,199.4h0M143.7,223.6h0M144.2,230.4h0M144.7,238.7h0M145.3,247h0M147.5,281.9h0M148.1,289.9h0M147.9,68h0M148.9,83.9h0M149.4,91.1h0M149.9,99.7h0M151.1,117.6h0M152.6,141.5h0M154.8,175.4h0M155.4,183.9h0M155.9,191.9h0M156.4,199.7h0M156.7,204.1h0M157.2,212.3h0M157.7,219.7h0M158.3,228.1h0M158.9,237.2h0M159.8,252.3h0M160.4,260.7h0M160.8,267.6h0M162.1,286.9h0M162.7,296h0M164.2,320h0M164.7,327.1h0M165.2,334.9h0M154.6,58.1h0M155.1,65.8h0M157.3,100h0M157.8,108.1h0M158.3,115.1h0M159.1,127.4h0M159.5,134.4h0M160.1,142.6h0M160.5,149.5h0M161.1,157.8h0M162.3,177h0M162.8,185h0M165.3,223.9h0M166.3,238.6h0M167,250h0M168.1,266.4h0M169.2,282.8h0M170.1,297.8h0M170.7,305.5h0M171.6,319.5h0M336.3,58.4h0M337.7,79.9h0M338.8,96.2h0M342.5,154.1h0M343,161.7h0M343.5,169.1h0M344.6,185.7h0M345.1,193.2h0M346.9,221.6h0M347.4,229.2h0M349,253.4h0M349.5,260.3h0M350.5,275.7h0M351.2,286.5h0M352.1,301.2h0M352.6,309h0M353.1,316h0M354,331h0M337.8,52.4h0M338.9,69h0M339.5,77.8h0M341.1,102.8h0M343,132.4h0M345.2,165.1h0M345.7,172.8h0M346.7,189.4h0M348.8,220.9h0M349.6,234h0M350.1,241.1h0M351,255.1h0M351.9,269.2h0M352.4,276.2h0M353.4,292.2h0M353.9,299.1h0M354.9,314.5h0M350.4,64.4h0M350.9,71.7h0M352,89.1h0M352.5,96.7h0M353.1,106.6h0M355.5,142.3h0M356.5,159.1h0M357,166.3h0M358.2,184.6h0M359.3,201.1h0M360.8,223.8h0M363,258.9h0M365.1,290.9h0M365.6,297.9h0M366.1,305.7h0M365.4,80.6h0M366.5,98.7h0M368.5,128.1h0M369,136.7h0M369.5,143.7h0M371.1,168.9h0M374.4,219.9h0M375.9,242.4h0M376.9,258.6h0M377.5,267.2h0M378.1,276.3h0M378.6,283.5h0M380.7,316.9h0" stroke="#5b3f98" stroke-width="3.2" stroke-linecap="round"/><path d="M118.5,79.5h0M119.2,89.5h0M119.6,96.4h0M120.6,111.9h0M121.1,119.2h0M122.1,135.2h0M123.6,157.1h0M124.1,165.1h0M125.1,180.5h0M125.5,186.9h0M129.1,241.7h0M131.1,273.5h0M131.6,280.8h0M133.1,303.3h0M135.1,335.2h0M135.6,342.1h0M125.2,57.8h0M126.2,74.1h0M126.7,81.6h0M127.3,90.1h0M128,100.9h0M128.4,108.3h0M129.6,125.5h0M130.1,133.3h0M130.6,141.2h0M132.9,177.2h0M134.1,194.9h0M135.3,214.3h0M136.3,229.3h0M137.3,244.1h0M137.9,253.3h0M138.4,261.3h0M139.6,279.5h0M140.6,294.9h0M141.1,303.1h0M142.2,320.3h0M129.4,71h0M131.6,104.7h0M132.1,112h0M133.6,136h0M134,142.2h0M134.6,150.9h0M135.6,166.2h0M136.1,174.8h0M136.7,183.3h0M137.6,197.5h0M138.3,208.8h0M141.2,252.5h0M142.3,269.6h0M142.9,278.5h0M144.1,296.8h0M144.5,303.7h0M145.1,312.2h0M146.6,336h0M147.2,344.8h0M131.4,72.8h0M132,81.6h0M132.5,88.5h0M133.1,97.5h0M133.2,99.9h0M134.2,115.4h0M134.7,123.4h0M135.2,130.7h0M136.2,146h0M137.2,162h0M137.8,170h0M138.3,178.3h0M140.2,207.9h0M140.8,215.9h0M141.3,223.7h0M143.1,251.3h0M144.1,267.1h0M144.7,276.1h0M146.2,299.9h0M146.8,308.3h0M147.3,316.1h0M147.8,324.1h0M138.7,113.7h0M139.6,128.4h0M142.2,167.3h0M142.7,175h0M143.2,183.4h0M143.9,193.7h0M146,226.5h0M146.5,233.7h0M147.1,242.7h0M147.6,251.7h0M148.2,259.8h0M149.8,285.2h0M150.8,300.5h0M335.8,81.3h0M336.2,88.5h0M336.8,96.6h0M338,116.2h0M340.1,148.3h0M340.6,155.5h0M342.1,178.9h0M343.2,195.1h0M343.7,204.2h0M344.4,214.6h0M345,223.2h0M345.5,231.8h0M346,239h0M346.6,247.5h0M347.6,263.9h0M349,285.7h0M349.5,292.9h0M350.1,301.5h0M351.1,316.6h0M342,61.3h0M342.5,69.4h0M343.1,78.5h0M345.5,115.4h0M346.7,133.4h0M348.3,157.4h0M354,245.6h0M355,261.4h0M355.5,268.7h0M356,276.5h0M356.5,283.6h0M357.4,298h0M358.3,312.5h0M359.4,328.4h0M359.9,336.6h0" stroke="#3d3f99" stroke-width="3.2" stroke-linecap="round"/><path d="M98.8,45h0M99.3,53h0M100.3,67.3h0M101.3,82.8h0M102.4,99.5h0M103.9,122.7h0M104.9,139.1h0M106.1,157.4h0M107.3,175.3h0M108.6,195.5h0M109.2,204h0M109.6,211.3h0M110.9,231.4h0M111.4,239h0M111.9,246h0M112.5,254.9h0M114.1,279.5h0M116.1,310.1h0M100.5,50.7h0M101.6,67.5h0M103.1,91.2h0M104.5,112.1h0M105.5,127.6h0M106.5,143.9h0M107,151.4h0M108.1,168.1h0M108.6,176h0M109.2,184.1h0M110.6,206.6h0M111.6,222.2h0M112.6,237.1h0M114.5,266.9h0M115.8,285.5h0M116.3,293.4h0M117.3,308.6h0M117.8,316.8h0M118.3,324.2h0M118.8,331.8h0M308.1,54.9h0M308.6,62.8h0M309.2,71.9h0M310.3,89.3h0M313.1,131.7h0M314.8,157.6h0M315.2,164.8h0M315.5,169h0M316.5,184.4h0M317,192.3h0M317.6,200.6h0M318,207.5h0M324.1,301.5h0M324.6,309.5h0M325.1,316.6h0M326.2,332.9h0M314.1,64.6h0M314.6,72.6h0M315.2,81.7h0M317.5,116.4h0M318.5,132h0M319.1,140.9h0M319.5,148.3h0M320.1,157.5h0M321.1,172.9h0M321.7,181.7h0M322.8,198.6h0M323.3,205.6h0M325.2,235.3h0M325.8,243.8h0M326.7,258.5h0M327.3,267.5h0M328.4,283.8h0M330.2,312h0M330.7,320.2h0M331.2,328.2h0M332.2,343.1h0M332.7,351.3h0M325.5,73.2h0M325.9,80.3h0M326.5,88.6h0M326.9,95.8h0M328,112.9h0M328.5,120h0M329.5,135.1h0M330.9,156.6h0M331.8,171.1h0M333.4,194.8h0M334.1,206.9h0M334.6,214.4h0M335.7,231.2h0M336.2,239.1h0M336.8,248h0M337.3,254.9h0M338.8,279.3h0M339.3,286.2h0M340.8,309.5h0M341.3,317.3h0M332.4,66.1h0M332.9,73.2h0M333.8,87.3h0M335.2,109.5h0M335.8,118.7h0M336.3,126.3h0M336.9,134.8h0M337.4,143.2h0M340.6,192.2h0M341.2,200.8h0M343.9,242.9h0M344.9,257.9h0M345.8,272.5h0M346.9,289.3h0M347.5,298.2h0M348.6,314.6h0" stroke="#2a4ea3" stroke-width="3.2" stroke-linecap="round"/><path d="M75.3,85.7h0M75.6,89.7h0M76.1,97.2h0M76.7,105.9h0M77.2,114.8h0M79.6,151.2h0M80.2,159.6h0M80.6,166.2h0M81.2,175.1h0M82.3,192.2h0M83.3,208.4h0M83.9,216.7h0M85.1,235.8h0M85.6,244.1h0M87.7,275.7h0M88.8,292.1h0M89.3,300.7h0M92,341.4h0M79.4,56.8h0M79.9,64.7h0M81,80.6h0M81.5,88.5h0M83.4,118.2h0M83.9,126.2h0M84.4,133.1h0M86,157.7h0M87.2,176.9h0M87.7,184.6h0M89.4,210h0M89.9,217.3h0M90.7,231h0M91.3,239.1h0M91.8,246.7h0M92.3,255.3h0M92.8,263.1h0M93.4,271.3h0M94,280.4h0M89.5,60.9h0M90,69.1h0M91,84.4h0M91.5,92.2h0M92.8,111.3h0M93.3,120h0M94.3,134.8h0M94.8,141.7h0M95.7,155.9h0M96.7,170.9h0M97.7,186.3h0M98.7,201.6h0M100.7,232.7h0M102.7,263.9h0M103.2,272.1h0M104.5,291.4h0M106.1,316.2h0M98.7,69.7h0M99.1,76.5h0M99.7,85.7h0M101.2,109h0M104.2,154.3h0M104.7,162.4h0M105.3,171h0M106.9,195.5h0M107.4,204h0M109.1,229.3h0M110,244.3h0M110.5,252.2h0M112.5,282.9h0M114.9,318.8h0M104.2,71.3h0M104.7,79.7h0M105.2,87.3h0M106.2,101.9h0M106.6,109.4h0M107.7,125.9h0M108.2,133.5h0M108.7,141.7h0M110.5,168.4h0M111,176.3h0M111.6,185.5h0M113.6,217h0M114.6,232h0M115.6,246.8h0M116.5,261.7h0M117.2,271.9h0M117.7,278.9h0M118.2,287.7h0M118.8,295.9h0M119.7,309.8h0M120.1,317h0M120.6,324.8h0M107.9,67.6h0M108.4,74.9h0M108.9,83h0M110.1,102.1h0M110.7,110.3h0M111.1,117.5h0M111.6,125.4h0M112.6,140.8h0M113.2,149.4h0M114.3,165.7h0M114.7,172.5h0M115.2,179.4h0M115.7,188.3h0M116.3,197.1h0M118,222.4h0M118.5,230.8h0M119.5,247h0M120,254h0M120.6,263.2h0M122.5,293h0M123.6,310.1h0M124.1,317.1h0M124.7,325.8h0M278.8,55.1h0M279.4,63.6h0M279.8,70.4h0M280.8,85.3h0M281.4,93.8h0M281.9,101.9h0M283.3,124.3h0M283.9,133.4h0M284.5,141.3h0M285,149.4h0M285.6,158.4h0M286.1,167h0M287.5,187.9h0M288,196.6h0M289.7,222.7h0M293.7,283.7h0M294.2,291.4h0M295.8,316.4h0M286.8,67.9h0M287.8,83h0M289.3,107.1h0M291.2,135.6h0M292.3,153.2h0M292.9,161.9h0M295.4,201h0M295.9,208.8h0M297.2,228.2h0M297.7,235.4h0M298.2,243.6h0M298.9,255.1h0M299.5,262.9h0M301,286.8h0M302.1,304.1h0M289.6,47.5h0M291.2,71.3h0M292.1,85.3h0M292.6,92.7h0M293.8,112.4h0M294.9,129.1h0M296.7,155.8h0M297.7,172.4h0M298.2,179.5h0M298.8,188h0M300.1,208.6h0M302.7,248.3h0M306.9,313.2h0M307.4,320.3h0M307.9,328.9h0M304.7,58.6h0M306.3,82.7h0M306.7,89.5h0M307.3,98.1h0M308.1,110.1h0M308.5,117.6h0M310,140.6h0M311.1,156.6h0M312.1,171.9h0M312.6,179.5h0M313.5,194.4h0M315.5,224.9h0M317.1,249.8h0M319,278.3h0M319.6,287.4h0M320.6,303.5h0M322.1,326.6h0M310.6,52h0M311.1,60.8h0M315,119.8h0M315.5,128.1h0M316,136.1h0M318.1,168h0M319.1,183h0M320,197.2h0M320.5,205h0M321,212.8h0M321.5,219.9h0M322,227.6h0M322.7,239.2h0M323.2,246.3h0M323.7,253.8h0M324.7,270.4h0M325.2,277.9h0M326.3,293.5h0M327.3,310h0M327.8,317.5h0M328.3,324.9h0M328.7,331.8h0M329.8,347.8h0M330.3,356h0M313.4,67h0M313.9,75.2h0M314.9,91.3h0M316.1,108.6h0M316.6,117.2h0M318.1,140.3h0M319.6,162.8h0M320.1,170h0M320.6,178.8h0M321.7,195h0M322.7,210.9h0M328.1,294h0" stroke="#2c55a8" stroke-width="3.2" stroke-linecap="round"/><path d="M57.7,57.6h0M58.7,73.3h0M59.2,80.5h0M59.6,87.6h0M61,109.1h0M61.6,118h0M62,125.1h0M62.6,132.9h0M63.6,149h0M64.1,156.4h0M64.6,165h0M66.3,190.1h0M67.4,206.7h0M67.9,215.1h0M68.4,223.2h0M69.3,236.3h0M71.7,273.1h0M72.2,280.7h0M73.2,296.3h0M74.6,318.1h0M73.1,74.7h0M73.6,82.5h0M75.1,105h0M75.6,112.8h0M79.5,172.4h0M80.8,191.9h0M83.5,234.6h0M84.1,243.7h0M84.6,251.5h0M85.1,258.4h0M85.6,267.1h0M86.3,277.2h0M86.8,285.4h0M87.8,300.4h0M88.4,309.5h0M88.9,317.5h0M89.5,326.1h0M75.3,49.7h0M75.8,56.9h0M76.3,64.6h0M76.8,72.2h0M77.3,80h0M79.5,113.6h0M80,121.5h0M80.4,128.4h0M80.9,135.6h0M82.3,156.7h0M82.8,165.5h0M83.4,173.3h0M84.4,189.7h0M84.9,196.7h0M86.5,222h0M87,230.1h0M88,244.6h0M88.5,252.7h0M89,260.1h0M91.4,296.5h0M92.5,314.2h0M93,322.1h0M277.1,51.5h0M277.7,60.4h0M279.2,83.5h0M280.8,107.4h0M281.3,115.7h0M281.8,123.5h0M282.9,140.2h0M283.5,148.8h0M284.9,171.6h0M285.4,178.7h0M286.6,197.9h0M287.1,204.9h0M287.7,214.1h0M288.2,221.8h0M289.3,238.5h0M290.8,261.7h0M291.3,269.3h0M292.2,283.7h0M293.7,307h0M295.8,338.3h0M280.7,54.2h0M281.7,70.8h0M282.3,79.8h0M282.8,86.6h0M283.3,94.4h0M287.1,152.7h0M288.7,177.7h0M289.7,193.3h0M290.3,201.7h0M290.7,208.9h0M291.2,216.4h0M291.9,226.9h0M292.4,234.9h0M293.6,252.5h0M294.1,260.4h0M295.2,277.4h0M295.5,282.1h0M285.9,69.5h0M286.4,77.7h0M287.3,91.6h0M287.8,99.5h0M288.9,115.7h0M290.1,134.9h0M291.5,156.1h0M292,164h0M292.5,171.8h0M293,178.9h0M293.5,186.5h0M294,195.1h0M295.1,210.8h0M295.6,218.9h0M296.9,238.5h0M297.3,245.9h0M297.9,254.3h0M300.6,295.6h0" stroke="#3575bf" stroke-width="3.2" stroke-linecap="round"/><path d="M45.1,48.5h0M47.2,80.3h0M47.7,87.9h0M48.1,95h0M49.2,111.7h0M49.7,118.7h0M51.3,143.1h0M51.7,150.2h0M52.9,168.4h0M56.3,220.9h0M59.6,270.9h0M61.4,298.5h0M61.9,306.6h0M62.4,314.2h0M65.1,355.5h0M53.3,80h0M54.4,97.4h0M56.2,124.1h0M56.7,131.7h0M57.7,148h0M58.7,163.7h0M59.9,180.9h0M60.9,197.1h0M61.9,211.6h0M62.4,219.3h0M63.9,243.5h0M65,260.1h0M65.5,268.4h0M68.3,311h0M69.9,336.1h0M70.4,343.6h0M71,352.1h0M70.4,66.9h0M71.9,89.8h0M73.3,112.5h0M74.4,128.9h0M74.8,135.8h0M75.8,151.2h0M77.3,174.3h0M78.1,185.9h0M78.6,193.6h0M79.1,202h0M80.1,216.8h0M80.6,224.1h0M81.2,233.1h0M81.8,242.3h0M82.8,257.6h0M83.3,265.7h0M84.3,281.6h0M86.2,311.1h0M87.4,328.4h0M250.5,48.1h0M251,55.3h0M252,70.6h0M252.4,78.1h0M253.4,92.5h0M253.9,100.1h0M254.7,113.2h0M255.8,129.5h0M257,147.7h0M257.4,155h0M257.9,161.9h0M258.4,169.7h0M259.9,192.3h0M260.3,198.4h0M260.7,205.5h0M261.3,214.3h0M261.8,221.4h0M262.2,228.9h0M264.3,260.1h0M264.8,268h0M265.8,282.8h0M266.3,290.8h0M267.5,309h0M269,333.5h0M260.1,136.1h0M260.7,144.2h0M261.3,153.4h0M262.3,169.5h0M263.3,185.5h0M264.8,208.4h0M266.4,233h0M267,241.8h0M268.6,266.5h0M271.3,308.1h0M271.9,317.1h0M272.3,324h0M256.9,58.3h0M257.5,67.1h0M258,74.4h0M259,89.6h0M259.5,97.7h0M262.1,138h0M262.7,146.9h0M263.2,154.1h0M264.6,176.2h0M265.2,185.2h0M265.8,193.9h0M267.9,227.6h0M268.4,235h0M268.9,242.4h0M269.4,249.9h0M271.1,276.4h0M259.1,51.2h0M259.6,58.7h0M260.1,67.3h0M260.6,74.4h0M262.6,104.5h0M263.1,113.3h0M263.7,121.4h0M265.1,143.4h0M267.6,182.3h0M268.6,198.1h0M269.1,205.1h0M270.7,230h0M271.2,237.9h0M271.8,246.3h0M272.3,254.1h0M273.4,271h0M274.4,287h0M275.5,303.4h0M275.9,310.4h0M262.9,56.1h0M263.4,63.6h0M264.4,77.7h0M265.4,94.4h0M265.9,101.4h0M266.9,117.3h0M267.4,125h0M267.9,132.2h0M269.9,162.7h0M271.5,187.7h0M272.6,204.5h0M274.1,227.8h0M274.7,236.3h0M275.8,253.1h0M276.5,265h0M277.5,279.4h0M278,287h0M278.7,298.7h0M279.3,307.5h0M279.8,314.8h0M280.3,323.1h0" stroke="#2db5ea" stroke-width="3.2" stroke-linecap="round"/><path d="M36.2,50.5h0M37.2,65.5h0M37.7,72.7h0M39.3,97.3h0M39.8,105.2h0M41.9,137.5h0M42.9,152.3h0M44.6,179.2h0M45.7,195.4h0M46.1,202.3h0M48.6,241.2h0M49.1,248.5h0M50.1,263.6h0M50.5,270.6h0M51,277.4h0M52.1,294.2h0M52.6,302h0M42,46.4h0M43.1,63.2h0M46.1,110.2h0M47.3,127.9h0M47.8,135.1h0M51.1,186.2h0M51.6,194.5h0M52.2,203.3h0M53.3,219.6h0M53.8,227.8h0M56.5,269.3h0M56.9,276.1h0M58,293.2h0M60.6,332.2h0M61.2,341.2h0M44.8,61.9h0M46.5,88.1h0M46.8,92.4h0M47.7,106.8h0M48.3,116h0M49.5,133.1h0M49.9,140.2h0M52.2,175.8h0M53.2,191.3h0M53.7,198.7h0M54.7,214.1h0M55.5,226.7h0M56.1,235.4h0M56.7,244.6h0M58.6,273.6h0M59.7,290.5h0M62.1,327h0M62.5,334.2h0M47.6,46.9h0M48,54.2h0M48.5,62h0M49.5,77h0M50.5,91.4h0M50.9,98.5h0M52.1,116h0M53.6,139.5h0M54.6,155.8h0M55.6,171h0M56.1,177.9h0M57.2,194.5h0M58.1,209.7h0M60.2,241.1h0M60.7,248.5h0M61.6,263h0M62.1,271.2h0M63,284.1h0M63.5,292.3h0M64.1,301.4h0M64.7,310h0M245.2,54h0M245.8,62.6h0M246.2,70h0M247.6,90.8h0M248.1,98h0M249.1,114.5h0M249.7,123h0M251.3,148.4h0M252.4,163.9h0M252.9,172.7h0M253.5,181.4h0M254,189.2h0M254.5,197.1h0M256.6,229h0M257.1,237.4h0M257.7,245.9h0M259.2,269.1h0M259.7,276.3h0M261.9,310.1h0M262.4,318.4h0M262.9,325.4h0M263.8,340h0M253,60.5h0M253.4,67.4h0M254.9,90.5h0M255.5,99.3h0M256,107.1h0M256.5,114.6h0M258,138.4h0M258.6,147.3h0M259.6,163.3h0M260.4,174.3h0M261.4,190.7h0M261.9,198.6h0M262.7,210h0M263.7,225.8h0M265.2,248.3h0M265.7,257.1h0M267.2,279h0M268.8,304.2h0M269.8,319h0" stroke="#6ec6d6" stroke-width="3.2" stroke-linecap="round"/><path d="M23.9,116.8h0M24.4,125.6h0M24.9,133.3h0M25.4,140.7h0M25.9,147.8h0M26.4,156h0M26.8,162.6h0M27.4,170.7h0M27.8,177.7h0M28.3,185h0M28.8,192.8h0M32.2,244.6h0M33.8,270.2h0M35,288.2h0M36,304.3h0M25.6,106h0M26.5,120.2h0M28.1,143.9h0M28.6,151.4h0M29.1,160.1h0M31.7,199.7h0M33.2,223.2h0M33.8,231.4h0M34.3,239.1h0M34.8,247.2h0M35.8,263h0M36.9,279.9h0M37.4,287.7h0M38,296.5h0M39.5,320.4h0M221.5,53.2h0M223,76.3h0M223.6,85.2h0M224.1,92.3h0M224.6,100.1h0M225.3,112h0M225.8,119.3h0M227.2,141.3h0M227.8,149.2h0M228.3,157.8h0M229.4,174.4h0M229.9,182.4h0M230.5,191h0M232.1,215.6h0M232.6,224.2h0M233.5,237h0M233.9,244.1h0M234.5,252.3h0M238.1,308.1h0M226.7,94.3h0M227.1,101.4h0M228,114.8h0M228.5,122.9h0M229.1,131.8h0M230,146.2h0M231.4,167.7h0M232.4,183h0M232.9,190h0M233.9,205.6h0M235,222.7h0M237.3,258.2h0M238.4,275.2h0M239,284.3h0M239.8,296h0M240.7,310.7h0M228.2,96.7h0M229.3,113.7h0M229.8,121.5h0M230.3,129.1h0M230.8,136.8h0M231.3,143.6h0M232.3,159h0M232.7,165.9h0M234.1,187.8h0M234.6,195.8h0M235.9,214.3h0M236.4,223.2h0M238.2,250.9h0M238.7,258.4h0M239.3,267.1h0M240.3,282.4h0M242.2,312.7h0M242.7,320h0M227.5,54.8h0M228,62.4h0M229.1,79h0M230.6,102h0M231.8,121.6h0M232.3,128.6h0M233.2,143.2h0M234.1,155.9h0M235.6,179.3h0M237.5,208.7h0M238.6,225.8h0M239.1,233.6h0M239.7,242.2h0M240.2,250h0M240.8,259.1h0M241.3,267.7h0M241.8,274.8h0M244.2,312.4h0M245.8,337.1h0M246.4,346.2h0M232.2,78.5h0M234.9,118.6h0M235.4,126.3h0M235.9,135.1h0M240.8,210.7h0M241.4,219.5h0M242,228.1h0M242.5,235.9h0M244.5,267.4h0M245.1,275.9h0M245.6,284.1h0M247.1,307h0M247.6,314.5h0M248.1,323h0M248.7,332.2h0" stroke="#6cbba6" stroke-width="3.2" stroke-linecap="round"/><path d="M29.7,253.3h0M30.2,260.6h0M30.7,268.5h0M31.3,277.5h0M33,304.3h0M33.5,310.8h0M34,318.6h0M34.6,327.7h0M35,334.8h0M35.5,342h0M36,350.3h0M36.6,358.4h0M37.6,374.5h0M25.5,154.6h0M27.1,179h0M27.6,186.4h0M28.7,202.9h0M29.8,220.1h0M30.8,235.1h0M32.7,265h0M33.7,279.9h0M34.1,286.8h0M34.9,299.1h0M35.4,307.1h0M36.5,323.4h0M37,330.8h0M196.4,58.6h0M196.9,67.1h0M198,83.7h0M200.7,125.1h0M201.8,141.3h0M202.7,156.4h0M204.6,184.8h0M206.7,218.1h0M207.2,225.2h0M207.9,236.1h0M209,252.1h0M209.5,260.7h0M211.2,286.1h0M212.3,302.9h0M212.7,310.1h0M214.3,333.9h0M214.8,342.3h0M215.3,349.5h0M207.8,47.6h0M208.3,55.5h0M208.8,63.8h0M209.4,72.3h0M209.8,79.3h0M210.7,92.1h0M211.2,99.8h0M213.4,134.5h0M213.9,142.5h0M214.5,151.6h0M216.2,176.7h0M218.2,207.7h0M218.7,216h0M220.2,238.5h0M221.2,254.9h0M221.8,264h0M222.9,280.4h0M223.4,288.1h0M224.3,301.8h0M224.8,309.6h0M225.4,318.4h0M225.9,326.1h0M226.4,334.3h0M424.5,59.3h0M425.6,76.6h0M426.5,90.9h0M427.1,99.4h0" stroke="#6cb773" stroke-width="3.2" stroke-linecap="round"/><path d="M26.1,228.3h0M26.6,235.5h0M27,242.6h0M28,257.7h0M28.8,269.7h0M29.8,285h0M30.3,292.5h0M30.8,300.3h0M197.1,50.4h0M197.5,57.5h0M199.7,90.1h0M200.5,103h0M201,110.5h0M201.4,117.3h0M202.5,134.3h0M203.6,151.3h0M204.6,166.5h0M205.1,173.9h0M205.6,182h0M206.3,192.9h0M206.9,201.4h0M207.9,217.3h0M209.7,244h0M210.2,253h0M211.4,270.2h0M211.8,277.1h0M212.3,284.4h0M214,310h0M214.4,317.4h0M214.9,325.2h0M215.4,332.4h0M200.7,60.4h0M202.9,94.5h0M203.4,102.1h0M203.9,109.4h0M204.9,124.2h0M205.7,137.6h0M206.9,155.3h0M207.4,164h0M208,172.9h0M208.5,180h0M212.3,238.2h0M212.8,246.1h0M214.9,279h0M215.5,288h0M217.1,312.3h0M217.5,319.1h0M204.6,60.5h0M206.1,84.2h0M206.7,92.5h0M207.2,101h0M208,112.5h0M208.5,120.3h0M210.2,146.5h0M210.7,153.9h0M211.2,162h0M211.7,170.7h0M212.2,177.9h0M213.3,194.7h0M214.3,210h0M214.8,218.2h0M215.8,233.8h0M217.4,258.1h0M217.9,265.9h0M218.8,278.8h0M219.3,286.5h0M219.8,295.1h0M220.3,302.4h0M220.8,309.9h0M221.2,316.8h0M221.7,323.8h0M404,73.6h0M404.6,82.5h0M405.8,101.1h0M406.8,116.4h0M407.8,132.1h0M408.5,142.9h0M409.1,151.6h0M410.1,166.9h0M410.6,174.9h0M411.7,192.2h0M412.3,201h0M412.9,210.6h0M414.5,234.2h0M416.1,258.6h0M416.6,266.2h0M417.4,278.6h0M417.8,285.8h0M418.3,292.8h0M419.4,309.2h0M405.1,67.5h0M406.3,85.1h0M407.3,101.1h0M408.3,116.2h0M409.6,135.5h0M410.1,143.8h0M410.6,151.6h0M412.4,179.4h0M416.9,248.7h0M418.1,267.6h0M418.6,274.7h0M419.2,283.2h0M421.4,317.1h0M408.6,47h0M410.7,79.6h0M410.9,82.5h0M411.9,97.1h0M412.9,113.1h0M413.8,126.6h0M414.3,134.7h0M416.5,169h0M417,175.5h0M417.9,190.3h0M418.5,199.2h0M419,206.7h0M419.5,213.9h0M419.9,221.3h0M420.5,229.6h0M422,253.3h0M423.3,272.4h0M425.5,306.9h0M427.1,331.2h0M427.7,340.3h0M428.1,347.4h0M428.7,356.2h0M414.6,112.5h0M415,120.1h0M415.5,127.6h0M416,134.7h0M418.7,175.6h0M420.3,200.9h0M422.3,231h0M423.8,254.6h0M424.7,268.6h0M425.2,276.1h0M425.7,284.1h0M428.2,322.1h0" stroke="#70b22e" stroke-width="3.2" stroke-linecap="round"/><path d="M166.4,61.7h0M167.5,79.6h0M169,102.7h0M170.5,125.5h0M171.1,134.2h0M171.6,142.5h0M172.6,157.4h0M173.1,165.1h0M174,178.9h0M174.6,188.2h0M176.2,213.4h0M176.6,218.8h0M177.7,236.7h0M178.7,251.7h0M179.2,259.8h0M180,272.1h0M181.1,288.2h0M181.7,297h0M182.2,305.6h0M182.7,312.7h0M170.4,55.8h0M171,63.7h0M171.5,72.8h0M172.1,81.6h0M172.7,90.5h0M173.6,104.1h0M174.2,113.2h0M174.6,120h0M175.1,127.3h0M175.6,135.1h0M176.1,143.4h0M176.7,151.9h0M177.2,159.2h0M177.7,167.3h0M178.3,176.4h0M180.7,214h0M181.3,222.4h0M181.8,230.2h0M182.3,237.9h0M184.2,267.8h0M186.9,309.8h0M177.5,73h0M178,81h0M179.2,98.5h0M180.3,116.2h0M180.8,124h0M181.4,132.9h0M182,142.8h0M183.1,158.7h0M183.6,166.4h0M184.1,174.4h0M184.6,182.6h0M185.2,191.4h0M186.2,206.3h0M189.3,254.4h0M191.4,286.4h0M192.3,301.3h0M180.8,62.6h0M181.3,70.6h0M181.9,78.8h0M182.5,88h0M183.5,103.7h0M184.5,118.9h0M185.7,137h0M186.2,145.3h0M187.3,161.7h0M188.3,177.8h0M188.8,186h0M189.8,200.3h0M190.8,215.6h0M191.3,223.1h0M191.8,231.8h0M193.3,254.6h0M194.9,279.3h0M195.5,288.5h0M196,295.6h0M196.5,304.3h0M195.3,78.3h0M196.3,93.8h0M196.8,101h0M198,119.5h0M200.1,152h0M200.7,160.7h0M201.5,173.4h0M202,181.4h0M202.5,189.2h0M203.7,206.6h0M204.3,215.6h0M206.5,250.2h0M207.3,262h0M209.4,294.3h0M210.9,318.3h0M374.7,46.7h0M375.2,54.5h0M375.7,61.8h0M376.2,69.8h0M377.3,86h0M377.9,95.1h0M380.9,141.1h0M381.8,156.1h0M382.8,171.5h0M383.4,180.2h0M384.4,196.1h0M385,204.9h0M385.9,219.1h0M386.5,227.6h0M387.4,241.5h0M387.9,248.8h0M388.8,263.8h0M389.5,274.6h0M391,297.8h0M391.6,306.6h0M382.2,74.5h0M384.6,111.5h0M385.1,120.5h0M388.2,167.8h0M389.3,184.5h0M390,195.2h0M390.6,204h0M391.1,211.5h0M382.6,56.5h0M383.2,64.5h0M385,92.6h0M385.5,100.6h0M388.1,140h0M388.7,149h0M389.1,156.6h0M390.1,170.9h0M390.8,182.7h0M394.5,238.3h0M395.1,247.4h0M395.6,256h0M397.5,285.8h0M397.8,289.8h0M398.4,298.6h0M398.8,305.5h0M400.3,328.5h0M400.9,337.7h0M393.1,57.3h0M393.5,64.1h0M394.5,78.8h0M395,85.9h0M395.4,92.9h0M395.9,100h0M396.5,108.9h0M397.1,118h0M398.1,134h0M399.2,150.7h0M399.6,157.7h0M399.8,161h0M400.4,170h0M404.7,234.9h0M405.6,249.5h0M406.1,257.3h0M408.7,297.3h0M409.2,304.5h0M409.6,311.5h0M401.4,61.1h0M402,69.4h0M402.9,83.8h0M403.4,90.8h0M404.1,102h0M404.6,110.2h0M405.7,127.1h0M406.3,136.1h0M407.5,154.2h0M408,161.3h0M408.4,168.2h0M408.9,176.4h0M410,193.2h0M411,208h0M412,223.5h0M412.6,232.4h0M413.2,242.5h0M414.3,258.4h0M414.8,266h0M415.7,281h0M416.3,289.4h0M416.8,297.1h0M417.3,304.8h0M418.2,319.3h0" stroke="#6ab226" stroke-width="3.2" stroke-linecap="round"/><path d="M177.4,128.6h0M179,153h0M180.9,181.4h0M182.9,213.2h0M183.4,220.7h0M184.8,242.4h0M185.8,256.7h0M186.2,263.9h0M187.7,286h0M188.9,304.8h0M189.9,319.9h0M173.8,57.5h0M175.4,80.9h0M175.9,88.9h0M176.4,97h0M177.6,114.9h0M178.1,122.5h0M178.6,130.7h0M179.2,139.9h0M179.9,151.4h0M180.4,159.2h0M181.9,181.1h0M184,213.4h0M186.3,249.5h0M187.3,264h0M188.8,287.5h0M191.1,323h0M191.5,329.8h0M353.2,70.5h0M354.5,90.9h0M355.4,104.8h0M355.9,113.3h0M356.5,122.5h0M357.7,139.8h0M358.8,156.8h0M359.9,173.8h0M363.9,235.1h0M364.4,243.5h0M365.9,265.8h0M366.4,275h0M367.5,291.8h0M368.1,299.9h0M370.9,86.3h0M371.9,102.1h0M373.4,124.3h0M374.4,139.6h0M374.8,146.8h0M375,149.8h0M375.5,156.6h0M376,164.7h0M378.1,196.9h0M379.1,212.7h0M379.7,221.9h0M380.2,229.6h0M380.7,236.4h0M381.9,255.6h0M382.4,263.3h0M382.9,271.2h0M384.4,294.3h0M385.5,310.7h0M386.1,319.9h0M373.6,56.7h0M374.1,64.5h0M376.7,103.7h0M378.3,129.1h0M378.8,137.5h0M379.3,144.7h0M379.9,153.3h0M380.3,160.2h0M380.8,167.3h0M381.3,174.5h0M381.9,183.9h0M383,201.7h0M383.5,209.5h0M384,216.8h0M385.5,239.9h0M387.1,264.8h0M387.6,272.2h0M388.2,281.3h0M389.5,301h0M391,324.2h0M391.5,332.2h0M379.3,61.2h0M380.3,77.1h0M380.8,84.7h0M381.4,92.8h0M381.9,101.9h0M382.5,110.4h0M386.2,167.6h0M387.2,182.4h0M388.7,206h0M391,240.6h0M391.5,248.7h0M392.1,257.8h0M392.6,265.3h0M393.5,280.2h0M394.9,301.8h0M395.4,309.2h0M396,318h0M397.1,335.2h0M398,349.5h0" stroke="#7ab820" stroke-width="3.2" stroke-linecap="round"/><path d="M138,49.8h0M139.1,65.7h0M139.6,73.6h0M140.2,82.6h0M141.1,97.8h0M141.9,109.8h0M143,126.7h0M145.1,158.7h0M148.5,210.6h0M150.2,237.7h0M151.4,255.7h0M151.9,262.6h0M152.4,270.5h0M152.9,278.2h0M154.3,300.3h0M154.8,308.2h0M157,341.9h0M140.8,59.3h0M141.3,66.9h0M141.9,75.7h0M143.8,105.5h0M144.8,120.7h0M146,138.8h0M146.6,147.7h0M148.9,184h0M150.1,201.2h0M150.8,212.7h0M151.3,221.1h0M151.9,229.2h0M153,246.2h0M155.4,282.8h0M155.9,291.5h0M157.9,321.9h0M158.5,330.8h0M159.1,339.7h0M146.3,74.7h0M146.8,81.9h0M147.9,98.7h0M149.1,118.4h0M152.3,166.9h0M152.8,174.3h0M153.4,183.2h0M158.5,261.7h0M159,270.3h0M160.1,286.6h0M148,53.1h0M150.5,91.3h0M150.8,96.4h0M151.3,104.1h0M151.9,113h0M152.5,122h0M153,129.8h0M153.5,137.8h0M155.7,170.9h0M156.1,178.2h0M157.3,196h0M157.9,205.1h0M158.3,212h0M158.8,219.7h0M161,253h0M163.3,288h0M152.6,59.9h0M153.1,68.2h0M153.7,77.1h0M154.3,85.6h0M155.4,102.1h0M156.7,122.3h0M157.3,131.4h0M157.8,139.7h0M159.2,161.3h0M163.3,224.4h0M163.8,231.7h0M164.3,240.2h0M164.8,248.2h0M167.2,283.9h0M167.7,291.8h0M168.2,299.3h0M168.7,308.1h0M170.3,332.6h0M346.7,72.7h0M347.2,81.1h0M347.8,89.1h0M350.1,124.7h0M350.7,133.7h0M352.4,160.9h0M353,168.8h0M354,185.2h0M355.5,208h0M356,216.2h0M356.5,223.4h0M357.5,238.7h0M357.9,244.6h0M359.5,269.2h0M349.4,73.8h0M349.9,81.3h0M350.8,95h0M351.3,103h0M353.4,134.6h0M354.8,157h0M355.3,163.8h0M355.9,172.7h0M357,189.5h0M357.9,204.5h0M358.5,213.5h0M359,221.4h0M359.5,228.5h0M360,236h0M360.5,244.6h0M361.1,252.7h0M361.6,260.3h0M363.6,292.3h0M364.6,307.2h0M354.1,62.1h0M354.6,69.4h0M355,76.9h0M356,92.3h0M356.6,100.6h0M357.4,113.2h0M358,122.2h0M359.5,145.2h0M360.4,158.9h0M360.9,167.3h0M361.5,176.3h0M363.3,203.2h0M363.7,210h0M365.1,231.5h0M365.6,238.7h0M367,261.5h0M368.1,278.4h0M368.6,285.4h0M369.1,293.4h0M370.6,316.9h0M354.2,44.8h0M356.2,75.2h0M356.8,84.1h0M359,118.6h0M360,133.9h0M361.4,154.9h0M362,163.9h0M363.9,193.1h0M364.3,200.2h0M365.7,221.9h0M367.3,246h0M369.1,273.1h0M371.2,306.5h0" stroke="#8cbf1a" stroke-width="3.2" stroke-linecap="round"/><path d="M113.5,59.2h0M114,66.7h0M115,82.1h0M115.5,90.5h0M121.8,186.9h0M123.5,213.3h0M124,220.9h0M124.5,228h0M125,236h0M125.5,243.5h0M127,267h0M129.7,309.3h0M115.9,64.6h0M116.5,73.4h0M116.9,80.5h0M117.1,83.4h0M117.6,90.5h0M120.8,139.4h0M121.2,146.7h0M122.3,162.4h0M123.2,177.3h0M123.8,185.8h0M124.3,194h0M125.8,216.9h0M127.8,247.9h0M131.5,304.7h0M118.8,47.5h0M120.4,71.9h0M121,80.6h0M122.6,105.7h0M123.2,114.6h0M124.3,131.9h0M124.8,139.1h0M125.8,154.7h0M126.3,163h0M127.8,185.9h0M131.4,241.4h0M132,249.9h0M132.5,257.4h0M133,264.8h0M133.5,272.4h0M133.9,279.5h0M134.5,288.5h0M135,295.6h0M125,119.6h0M125.5,126.6h0M126.5,142.6h0M128.4,171.7h0M128.9,178.9h0M130.6,205.3h0M134.1,259.4h0M135.9,286.8h0M136.4,294.4h0M137.4,309.9h0M137.9,318.5h0M138.9,333.2h0M139.4,340.6h0M127,60.4h0M128.1,77.3h0M128.7,86.3h0M129.2,94.8h0M129.8,103h0M130.8,119.4h0M131.3,127.6h0M132.1,138.9h0M133.6,162.2h0M134.1,169.3h0M135.1,185.4h0M136.6,208.1h0M137.1,216.1h0M140.3,265.7h0M142.9,304.8h0M143.4,313.5h0M143.3,56.4h0M144.3,71.8h0M144.8,79.8h0M145.3,87.2h0M145.8,95.9h0M146.6,107.5h0M147.7,125.1h0M148.3,133.3h0M149.2,148.1h0M149.9,159.1h0M150.5,167.1h0M151,175.6h0M151.6,184.2h0M153.6,215.7h0M155.2,240.9h0M155.8,249.7h0M156.3,257.8h0M159.3,303.2h0M160.3,318.2h0M325.7,58.7h0M327.3,84.1h0M327.9,92.3h0M328.7,105.4h0M329.2,112.4h0M330.2,127.7h0M333.5,178.4h0M334,187.2h0M334.8,198.4h0M335.2,205.3h0M335.7,212.6h0M337.7,242.8h0M338.1,250.2h0M339.4,269.1h0M339.9,276.6h0M340.8,291.6h0M341.9,307.9h0M342.5,316.7h0M327.4,55.7h0M328.8,78h0M329.4,86.3h0M335.2,176.8h0M335.8,185h0M339.1,235.9h0M339.7,245h0M340.3,253.8h0M341.2,268h0M342.1,282.2h0M342.7,291.4h0M344.2,314.1h0M345.7,337.1h0M339.3,51h0M339.8,59h0M340.4,67.1h0M340.9,76.2h0M341.4,83h0M341.9,90.8h0M342.6,101.5h0M343.5,115.9h0M344.1,124.5h0M344.7,133.5h0M345.2,142.4h0M346.7,165.4h0M348.3,188.9h0M349.3,205.3h0M350.1,217.5h0M350.6,225.4h0M351.7,241.7h0M352.5,253.8h0M353.6,271.1h0M354.5,284.9h0M355,292h0M355.5,300.1h0" stroke="#bcd123" stroke-width="3.2" stroke-linecap="round"/><path d="M104.8,42.9h0M105.3,50.5h0M105.8,58.2h0M106.4,67h0M106.9,76.1h0M108.5,99.6h0M108.9,106.8h0M109.5,114.7h0M110,122.7h0M110.6,131.6h0M112.4,159.7h0M114.1,185.6h0M114.6,193.2h0M115.1,201.5h0M117,231h0M118,245.6h0M118.5,253.9h0M119.9,274.6h0M120.3,281.4h0M120.9,290h0M121.4,298.2h0M121.9,305.7h0M122.4,314.5h0M111.8,55.7h0M112.9,72.9h0M113.9,88.2h0M114.4,95.1h0M115,104.2h0M115.5,111.5h0M115.9,118.9h0M116.5,127.5h0M119.3,170.6h0M120.8,194.4h0M121.9,211.4h0M123,228.1h0M123.6,236.6h0M125.8,270.8h0M126.3,278.7h0M126.9,287h0M131.4,356.2h0M296.4,61.9h0M296.9,70h0M298.6,95.4h0M299.1,103.4h0M300.6,127.3h0M303,164.2h0M304.1,181h0M305.7,204.4h0M306.1,211.4h0M306.6,218.3h0M306.7,221.2h0M307.2,229h0M307.7,236.6h0M308.3,244.6h0M309.2,259.8h0M310.4,276.9h0M311.4,292.2h0M311.9,300.5h0M312.4,308.9h0M308.1,75.1h0M308.7,84h0M310,104.6h0M310.5,111.4h0M311.5,127.3h0M312,134.9h0M312.6,143.5h0M313.2,153.8h0M314.2,169.2h0M316.2,199.1h0M317.2,214.8h0M317.6,221.7h0M318.1,229.5h0M319.2,245.3h0M320.2,261.3h0M322.1,289.8h0M323.1,306h0M323.4,310.7h0M324,319.5h0M324.4,326.3h0M318.3,58.8h0M318.8,67.5h0M319.3,74.5h0M320.3,89.8h0M321.6,110.2h0M322.6,125h0M323,131.8h0M323.5,139.3h0M324.1,148h0M324.7,157.5h0M326.2,180.4h0M326.7,188.7h0M329,224.3h0M329.6,233.2h0M330.2,242.1h0M332.1,271.6h0M332.7,280.7h0M333.2,287.9h0M333.6,295.3h0M334.1,302.8h0M321.1,66.2h0M321.7,74.8h0M322,80.1h0M322.5,87.7h0M323.5,102.9h0M324,110.5h0M324.6,118.9h0M325.7,137h0M326.3,146h0M326.9,154.4h0M327.3,161.6h0M327.8,168.4h0M329.5,195.5h0M332.3,237.4h0M332.7,244.9h0M333.2,251.9h0M334.5,271.4h0M335,279.8h0M335.5,286.9h0M336.6,304.5h0M337.7,320.7h0M338.2,329.4h0M321.9,52.1h0M322.5,61.1h0M326.6,124.6h0M328.6,154.5h0M330,177h0M330.6,185.8h0M331.2,195.3h0M332.1,209.2h0M332.6,216.9h0M334.4,244.1h0M335.4,259.6h0M337.7,294.6h0M338.1,302.1h0M339.2,318.8h0M339.7,326.7h0" stroke="#eee43a" stroke-width="3.2" stroke-linecap="round"/><path d="M87.4,57.8h0M88.4,73.8h0M88.9,80.8h0M90,97.5h0M91.2,115.9h0M91.7,124.6h0M92.2,132.1h0M92.7,139.5h0M94.8,172.7h0M95.4,181.7h0M96,190.6h0M97,206.5h0M97.6,214.3h0M98.1,223.5h0M98.6,230.5h0M99.2,238.9h0M96.9,109.7h0M100.1,159.9h0M101.8,185.4h0M102.4,194.3h0M102.9,201.7h0M103.9,217.6h0M105.3,239.3h0M105.9,248h0M107.4,271.9h0M107.9,279h0M108.4,287.6h0M109,295.5h0M109.4,302.8h0M110.5,318.7h0M293,66.2h0M293.6,74.5h0M294.1,83.2h0M295.2,100.2h0M295.7,107.9h0M297.4,133.5h0M298.4,149.7h0M300.5,181.2h0M301.1,189.8h0M301.6,197.5h0M302.1,205.2h0M302.6,214h0M304.3,239.7h0M304.9,248.4h0M305.9,264.3h0M307.7,292.6h0M308.8,308.9h0M309.4,317.6h0M295.5,61.7h0M296.5,76.8h0M296.9,83.8h0M297.5,92.7h0M298,100.1h0M298.5,108.3h0M299.6,124.7h0M300.5,139.1h0M301.6,156.4h0M304.2,195.8h0M304.7,203.3h0M305.2,210.8h0M305.7,219.3h0M306.2,227.2h0M306.7,234.1h0M308.3,258.2h0M308.8,266.2h0M309.3,274.1h0M310.7,295.8h0M311.2,304h0M313.3,335.2h0M297.4,47h0M298.4,61.9h0M299.5,78.1h0M299.9,85.4h0M300.9,100.7h0M302.8,128.9h0M303.2,136h0M303.8,144.5h0M306.3,184.2h0M307.9,207.3h0M308.5,217.5h0M309.6,233.4h0M310.6,249.8h0M311.1,257.6h0M311.7,266.7h0M313.3,290.8h0M300.2,52.7h0M301.2,68.7h0M301.7,76.2h0M302.2,83.5h0M302.7,90.8h0M303.2,98.5h0M303.6,105.5h0M304.1,112.8h0M306.1,143.8h0M307.2,159.9h0M308.3,176.7h0M309.7,198.7h0M310.1,205.8h0M310.6,212.9h0M311.1,220.4h0M312.5,241.4h0M314.1,265.9h0M316.1,297.8h0M316.6,305.1h0" stroke="#f6b41c" stroke-width="3.2" stroke-linecap="round"/><path d="M64.5,61.9h0M65,70.1h0M67,100.6h0M67.6,109.7h0M68.1,117h0M69.1,133.3h0M70,146.4h0M72.6,186.2h0M73.8,205.3h0M74.4,214.3h0M75,223h0M76.9,252.4h0M77.9,268.4h0M78.5,277.2h0M80.5,308.9h0M81,316.3h0M81.6,324.8h0M82,331.8h0M65.1,49.2h0M66.6,73.5h0M67.2,81.4h0M67.9,93h0M69.5,117.7h0M72.4,162h0M72.9,169h0M74.9,199.9h0M75.6,210.8h0M76.1,219.2h0M76.6,227h0M77.1,234.2h0M78,247.7h0M80.2,282.5h0M80.7,290.2h0M82.2,312.1h0M82.7,320.2h0M83.8,336.8h0M76.9,53.4h0M77.4,60.6h0M79,85.7h0M81.2,118.4h0M81.7,126.8h0M83.2,150.4h0M83.8,158.4h0M84.8,174.7h0M86.5,201h0M87.1,209.7h0M88.2,226.7h0M89.1,240.1h0M89.7,249.2h0M90.2,257.9h0M90.7,264.9h0M91.2,272.3h0M92.3,290.4h0M92.9,298.8h0M93.4,306.6h0M93.8,313.5h0M94.4,322.6h0M95.5,338.7h0M84.8,68.4h0M86.4,92.7h0M86.9,100.6h0M87.7,113.3h0M88.2,121.1h0M89.1,135.3h0M91.2,167.8h0M91.7,175h0M92.2,182.8h0M92.8,192h0M93.8,207.3h0M94.4,216.2h0M95.5,232.5h0M96,240.9h0M98.2,274.1h0M99.1,289.1h0M99.7,297.7h0M100.2,306.3h0M100.7,313.1h0M101.1,320h0M84.8,49.7h0M85.4,58.3h0M87.6,92.4h0M88.1,100.5h0M88.7,109.5h0M91.6,154.6h0M92.2,162.6h0M92.7,170.7h0M92.8,172.5h0M93.9,188.7h0M94.4,197.3h0M95.9,219.9h0M98.6,262.4h0M100.1,284h0M101,298.1h0M101.5,307h0M102.1,315.5h0M92.9,70.3h0M93.9,86h0M95.4,109.1h0M95.9,116.3h0M96.9,132.4h0M97.4,140h0M102.7,222.2h0M105.3,261.1h0M105.8,268.4h0M106.7,282.5h0M107.7,298.3h0M108.7,314.5h0M109.8,330.6h0M110.3,338.2h0M265.8,61.9h0M267,79.1h0M267.4,86.3h0M268.2,98.2h0M268.7,106h0M270.6,135.1h0M271.1,142.2h0M271.7,151.3h0M272.7,167.8h0M273.7,182.2h0M274.1,189.1h0M274.8,199.5h0M275.8,215.7h0M276.5,225.8h0M277,234.1h0M277.6,243.1h0M278.1,250.4h0M278.5,257.3h0M281.6,304.3h0M282.6,320.2h0M284.2,343.8h0M284.7,352.5h0M285.3,360.9h0M270.7,76.5h0M271.3,85.6h0M273.2,114.6h0M274.1,129.3h0M275.2,145.9h0M275.8,154.2h0M277.1,174.3h0M281,234.9h0M282.5,258.3h0M283.7,276.2h0M284.7,290.9h0M285.5,303.8h0M286,312.4h0M287.1,328.4h0M273.7,63.3h0M274.3,71.6h0M274.8,80.4h0M275.7,94h0M276.2,101.9h0M277.3,117.8h0M278.8,141.6h0M279.8,156.6h0M280.3,165.2h0M280.9,173.1h0M281.4,180.8h0M281.8,188h0M282.3,195.6h0M284.9,235.3h0M285.9,251.2h0M286.2,255h0M286.6,262.1h0M288.3,288h0M289.9,312.2h0M283,57.2h0M283.5,65.7h0M284,73.1h0M285.1,89.6h0M288.4,141.4h0M289.4,156.9h0M290.4,172.1h0M291,180.1h0M292.2,199.8h0M292.8,208.3h0M294.2,230.3h0M294.8,239.3h0M297.6,282.7h0M299.2,307.3h0" stroke="#ee7d1f" stroke-width="3.2" stroke-linecap="round"/><path d="M50,56h0M50.6,64.8h0M51.1,72.3h0M52.1,88.3h0M54.1,119.5h0M56.5,155.6h0M57.9,177.5h0M58.5,186.6h0M60,209.7h0M61.1,227h0M61.6,234.4h0M63.8,268h0M64.8,282.8h0M66.3,306.4h0M56.4,65.2h0M58.9,102.9h0M59.3,110.3h0M60.4,126h0M60.8,133h0M61.3,140.2h0M61.7,147.3h0M62.5,158.6h0M63.5,175h0M66.1,213.8h0M66.5,220.9h0M67,228.9h0M68,243.6h0M68.6,252.7h0M69.4,265.5h0M69.9,272.8h0M70.5,281.7h0M72,305.6h0M72.5,313.6h0M73.7,330.8h0M74.2,339.3h0M59.9,51.8h0M60.5,60.6h0M61.1,69.8h0M62.9,98.3h0M63.5,107.5h0M64.5,123.4h0M65.5,138.8h0M66.1,147.7h0M66.7,156.3h0M68.8,189.6h0M69.4,197.4h0M72.6,246.9h0M74.2,271.6h0M74.7,280.1h0M75.2,287.9h0M75.9,298.7h0M78,330.1h0M78.4,336.9h0M79,345.9h0M62.1,56.7h0M62.6,65.4h0M63.2,74.5h0M63.7,81.4h0M64.4,92h0M64.9,99.5h0M65.4,108.4h0M66.4,123.5h0M68,147.6h0M70.1,179.7h0M70.6,188.4h0M71.2,197.4h0M72.3,214.2h0M72.9,223.4h0M73.4,231h0M74.8,253.1h0M75.8,268.2h0M76.9,284.8h0M77.4,292.7h0M77.9,299.7h0M249.8,64h0M250.2,71.4h0M250.7,78.2h0M251.2,85.6h0M253.4,119.9h0M253.9,127.2h0M254.4,135.7h0M255,144.3h0M255.5,151.8h0M256,160.3h0M257.4,180.9h0M259.5,213.6h0M260.5,229.7h0M261.6,245.6h0M262.1,253.2h0M263,266.9h0M263.4,274.4h0M264,283.5h0M264.6,292.1h0M265.2,300.9h0M266.9,327.4h0M268,344.1h0M268.4,351.4h0M269,360.1h0M267.1,66.4h0M271,125.8h0M271.5,133.5h0M272.4,148.6h0M273.5,165.6h0M274.1,173.9h0M275.6,197.8h0M276.7,214.3h0M277.8,231.7h0M278.3,239.1h0M279.4,256.5h0M280.1,266.4h0M281.1,282.5h0M282.1,298h0M282.7,306.1h0M283,310.9h0M270.8,51.4h0M273,84.8h0M273.6,93.4h0M274.7,110.3h0M277.6,155.8h0M279.4,182.5h0M279.9,191h0M282.8,234.6h0M283.2,241.5h0M283.7,249.1h0M284.2,256.6h0M284.6,263.5h0M285.1,270.3h0M288,315.3h0M288.5,323.6h0M289,330.5h0M289.5,338h0" stroke="#e8481f" stroke-width="3.2" stroke-linecap="round"/><path d="M33.9,58.7h0M34.5,67.5h0M35.5,83.4h0M36.1,93h0M37.2,109.5h0M37.6,116.4h0M38.2,124.8h0M39.1,139.3h0M39.6,147.5h0M40.2,156.1h0M42.2,187.3h0M43.6,207.8h0M44.1,216h0M44.6,223.8h0M46.2,248h0M47.8,273.2h0M49.5,298.3h0M49.9,305.4h0M37.4,51h0M37.9,59.3h0M40.3,95.9h0M41.8,119.4h0M43.1,139.5h0M44.7,164h0M45.3,173h0M46.4,189.8h0M47.3,202.8h0M47.7,209.7h0M49.3,233.5h0M49.7,240.2h0M50.3,248.7h0M50.8,257.3h0M52.3,280.6h0M53.3,295.3h0M53.8,303.6h0M55.4,328.5h0M236.7,49.8h0M237.7,65.7h0M238.7,80.8h0M239.2,87.9h0M239.6,94.8h0M240.2,103.6h0M240.7,111.8h0M242.3,135.4h0M242.8,143.3h0M243.2,150.4h0M244,161.9h0M246.6,202.6h0M248.6,232.8h0M249.7,249.4h0M251.4,276h0M252,284.8h0M252.4,292h0M253,299.8h0M244.5,73.4h0M245,81.8h0M247.5,120.3h0M248.9,142.4h0M250.4,165.6h0M251,174h0M252,189.2h0M257.8,278.9h0M258.4,287.4h0M259.3,301.3h0M260.7,323.4h0M261.3,332.4h0" stroke="#e8231d" stroke-width="3.2" stroke-linecap="round"/><path d="M24.7,64.7h0M25.2,72.6h0M27.2,104h0M29,130.9h0M33,192.5h0M33.5,200.4h0M34.1,209.6h0M36.1,240.2h0M36.6,248h0M37.2,257.1h0M38.2,273.4h0M39.2,288.5h0M39.7,295.6h0M40.2,303.2h0M41.6,325.7h0M42.2,334.1h0M28.3,46.6h0M30.4,79.8h0M31.9,102.7h0M33,120.2h0M33.5,128.1h0M34.9,149.2h0M35.5,157.6h0M36.6,174.6h0M37.2,183.8h0M38.1,198.8h0M39.2,215.3h0M39.7,223.4h0M40.7,238.9h0M41.2,246.3h0M41.8,255h0M43,274.1h0M44.1,291.1h0M44.6,298.5h0M31.1,62.4h0M31.6,70.5h0M32.1,77.4h0M33.2,94.7h0M33.7,101.7h0M34.6,116.3h0M35.6,131.6h0M36.2,140.6h0M37.2,156.3h0M38.7,179.2h0M39.2,187.1h0M41.9,228.9h0M42.4,235.8h0M42.9,243.4h0M43.8,258h0M44.7,271.3h0M45.7,287.7h0M46.8,303.5h0M47.9,320.7h0M31.7,51.8h0M33.1,74.4h0M33.7,82.7h0M34.6,97.6h0M35.9,117.8h0M37,133.7h0M37.5,141.6h0M38.6,158.4h0M39.2,167.6h0M40,180.4h0M42.1,211.9h0M42.5,218.9h0M43,226.7h0M43.7,236.7h0M44.2,244.4h0M44.7,252h0M45.2,260.9h0M45.7,267.8h0M46.2,275.7h0M46.7,283.3h0M47.8,299.8h0M48.2,306.5h0M49.8,331h0M229.8,56.1h0M230.2,63.1h0M230.7,71.2h0M231.8,88h0M232.9,104.7h0M233.4,111.9h0M233.9,119.3h0M234.3,126.8h0M235.4,143.4h0M236,152.4h0M237.7,178.3h0M239.2,202.2h0M242.2,247.4h0M242.5,252.9h0M243.5,266.9h0M244,275.5h0M235.2,47.3h0M235.6,54.3h0M236.6,70h0M237.7,86.5h0M238.9,103.9h0M239.3,111.2h0M240.9,135.9h0M242,151.8h0M243,168.3h0M243.6,176.7h0M244.2,186.8h0M245.7,208.9h0M246.8,226h0M248.1,246h0M249,260.7h0M250.5,282.7h0M251.4,297.7h0M252.4,312.6h0M253,321.8h0M253.5,328.6h0M239,58.4h0M239.5,66.3h0M240,73.6h0M241,89.9h0M241.6,98.5h0M241.8,102.7h0M243.4,126.1h0M243.9,134.1h0M245.5,159.6h0M246.8,178.1h0M247.3,186.1h0M247.8,194.9h0M248.4,204h0M250,227.7h0M250.4,234.9h0M251.3,248.6h0M251.8,256.3h0M253.4,280h0M254.9,303.2h0M255.4,311.5h0M256,320.5h0M256.5,327.3h0M240.3,49.3h0M241.3,64.7h0M241.8,71.6h0M242.7,86.2h0M243.2,93.8h0M243.7,101.8h0M244.7,117.1h0M248.6,176.9h0M249.6,192h0M250.1,199.9h0M252.1,230.5h0M252.7,239.4h0M253.2,247.4h0M253.8,256.3h0M254.2,263.3h0M254.7,270.6h0M255.5,282.6h0M257.6,314.7h0" stroke="#e8241f" stroke-width="3.2" stroke-linecap="round"/><path d="M23.8,266.8h0M24.8,282.8h0M26,299.9h0M26.5,307.6h0M27.5,323.1h0M202.5,74.4h0M203.1,83.6h0M203.5,90.6h0M204.1,99.2h0M205.3,117.2h0M205.8,125.9h0M208,159.4h0M208.5,166.5h0M208.9,173.4h0M209.5,182h0M211.3,210.7h0M211.9,219.2h0M212.9,234.6h0M214.4,258.3h0M216.4,287.9h0M216.8,295.1h0M218.5,320.4h0M212.7,70.8h0M213.3,79.7h0M214.3,95.4h0M214.9,103.9h0M215.4,111.5h0M216.4,126.9h0M216.9,136h0M217.2,139.5h0M219.1,169h0M219.6,176.4h0M220.5,191.2h0M221.5,205.2h0M222,213.1h0M225.5,268.2h0M226.1,277h0M226.8,288h0M227.8,303.5h0M213.5,47.6h0M215.6,81.3h0M216.3,91.7h0M216.9,100.7h0M218,118.2h0M218.9,131.8h0M219.4,138.8h0M219.9,147.5h0M220.7,159.8h0M221.8,175.6h0M223.5,202h0M224.6,218.9h0M226.2,243.2h0M227.4,262.7h0M227.9,269.9h0M228.3,276.7h0M228.9,285.6h0M230.4,308.9h0M215.7,50h0M217.4,75.9h0M218,84.8h0M218.6,93.7h0M219.6,110h0M223,161h0M225,192.9h0M225.5,200.4h0M226.9,221.8h0M228,237.8h0M229.9,267.2h0M230.4,275.3h0M232,300.4h0M232.5,307.4h0M217.2,56h0M217.8,64.6h0M218.7,79.3h0M220.4,104.6h0M221.3,119.1h0M221.8,126.6h0M223.3,149.9h0M223.9,159h0M224.5,168h0M229.2,240.6h0M229.7,248.2h0M230.3,257h0M230.9,266h0M231.5,275.4h0M232,283.1h0M232.9,297.6h0M421,62.1h0M422.1,79.1h0M423.2,96.1h0M425.2,126.9h0M425.8,134.9h0M426.9,151.8h0M427.6,162.8h0M428.1,170.6h0M428.7,179.5h0M429.1,186.9h0" stroke="#d81d43" stroke-width="3.2" stroke-linecap="round"/><path d="M182.4,60.9h0M183.9,84.8h0M184.8,98.8h0M185.3,105.9h0M186.1,117.8h0M187.8,143.6h0M188.4,153.8h0M189,162.8h0M189.6,172h0M190.1,180.3h0M191.2,196.2h0M192.2,212.3h0M193.3,229h0M194.3,244.9h0M194.8,252.4h0M196.3,274.6h0M197.8,297.9h0M198.3,306h0M199.4,323.4h0M184.4,65h0M186.6,99.2h0M187.2,108.3h0M187.6,115.1h0M188.1,123.3h0M189,136.1h0M189.5,143.7h0M189.9,151h0M191,166.9h0M191.5,174.9h0M192,182.6h0M192.6,191.4h0M193.4,204.3h0M193.9,212.2h0M194.4,219.1h0M194.8,226h0M196.3,248h0M199.3,295.3h0M199.9,304.3h0M201,320.5h0M201.5,329.2h0M202.6,345.3h0M203,352.5h0M190.4,69.9h0M191.5,86.5h0M192.1,95.6h0M192.5,101.5h0M193.6,118.2h0M194.2,127.3h0M195.3,144.1h0M196.9,169.8h0M197.4,176.7h0M197.9,184.1h0M198.4,191.9h0M199.2,205.4h0M200.8,229.3h0M201.3,237.7h0M204.4,284.8h0M204.9,293.2h0M205.4,300.1h0M205.8,307h0M208.5,348.4h0M209.1,357.1h0M209.8,51.5h0M211.2,73.1h0M211.6,79.6h0M212,86.6h0M213.6,110.3h0M215.7,142.4h0M216.2,150.6h0M216.8,159.3h0M217.2,166.4h0M220.2,211.8h0M220.7,219.7h0M221.6,234h0M223.6,265h0M224.1,271.8h0M225.6,294.6h0M226.3,305.9h0M226.8,313.3h0M227.8,329.1h0M392.6,69.3h0M393.2,78.3h0M393.7,85.7h0M396.2,125h0M397.2,139.8h0M397.7,147.7h0M398.2,155h0M399.6,176.9h0M400.6,192.3h0M401,199.2h0M402,214.3h0M403.6,238.7h0M405.2,263.4h0M405.8,271.7h0M406.3,280.1h0M409.4,327.1h0M397.6,64.1h0M398.6,79h0M402.8,144.6h0M404.9,176.7h0M406,192.7h0M406.2,196.1h0M408.2,227.5h0M408.8,236.6h0M409.6,248.4h0M410.1,257.1h0M410.7,265.2h0M411.7,281.4h0M412.2,288.8h0M412.7,296.6h0M406.5,48.7h0M408.1,73h0M408.7,81.7h0M409.4,92.7h0M409.9,101h0M410.4,108.2h0M410.9,115.6h0M411.4,124.5h0M416.2,196.8h0M417.2,213.7h0M417.8,221.7h0M418.7,235.3h0M419.1,242.5h0M419.6,249.7h0M420.1,258h0M420.7,266.4h0M422.1,288.8h0M423.3,306.2h0M423.8,314.7h0M415.9,75.5h0M416.5,84.4h0M418.5,116h0M419,123.2h0M420.7,148.5h0M421.7,164.2h0M422.2,171.6h0M422.7,179.9h0M423.5,192.1h0M424.5,207.4h0M425.9,229h0M426.7,241.3h0M427.1,248.3h0M427.7,256.9h0M428.2,265h0M428.7,272.3h0M429.1,279.2h0M429.7,287.6h0M418.7,79.5h0M419.7,94.7h0M420.8,110.7h0M422.4,135.4h0M424.5,168.2h0M425.3,180.5h0M425.8,187.7h0M426.7,202.4h0M427.3,211.1h0M419.5,62.8h0M420.1,71.5h0M421.6,95.1h0M422.6,111h0M424.1,134.3h0M425.2,150.3h0M425.7,159.1h0M426.2,165.8h0M427.2,181.5h0M428.2,196.8h0M429.2,212h0M430.3,228.6h0M423,55.7h0M423.6,64h0M424.1,71.6h0M424.7,80.8h0M425.7,96.3h0M427,115.8h0M427.4,123.2h0M428,132.4h0M428.5,140.1h0" stroke="#b2157f" stroke-width="3.2" stroke-linecap="round"/><path d="M171.5,100.1h0M171.9,107.2h0M172.5,115.8h0M173,124h0M173.5,131.8h0M174.1,140.6h0M176.4,176.9h0M179.5,223.4h0M179.9,230.6h0M180.8,243.2h0M181.3,250.9h0M181.8,259.6h0M182.8,274h0M184.1,294.1h0M184.6,303h0M185.7,319.8h0M187.4,69.5h0M188.4,84.5h0M189.3,99.2h0M190.7,121.2h0M191.3,128.9h0M191.7,136h0M192.8,152.2h0M193.6,164.5h0M194.1,172.1h0M194.6,180.4h0M197.3,222.7h0M198,233.4h0M199.1,249.9h0M200.7,274.1h0M201.7,289.6h0M202.7,304.5h0M203.7,321.2h0M188.1,51.3h0M188.5,58.3h0M189,65.7h0M195.2,160.8h0M195.8,169.9h0M198.1,204.9h0M198.6,212.5h0M199.1,221.4h0M199.7,229.4h0M200.2,237.3h0M200.6,244.3h0M201.1,251.6h0M202.7,275.7h0M203.1,282.7h0M203.7,291.2h0M204.4,303.2h0M206,326.5h0M386.4,48.8h0M386.9,56.3h0M387.4,64.3h0M389,88.8h0M389.6,97.7h0M390.1,106.4h0M392.4,141.7h0M393,150.4h0M396.5,204.9h0M396.9,209.9h0M397.3,217.1h0M397.9,225.4h0M398.4,232.7h0M399.4,249.2h0M400.5,265h0M400.9,272.3h0M402.3,293.7h0M403.4,310.3h0M403.9,317.3h0M404.5,326.5h0M405,334.4h0M390.9,79.1h0M391.5,88.2h0M392.5,103.5h0M393.5,119.1h0M394,126.4h0M395.1,143.6h0M395.6,151.5h0M397.8,185.9h0M398.8,200.4h0M399.7,215h0M400.3,223.2h0M402.1,252h0M402.7,260.3h0M403.3,269.1h0M404.1,281.9h0M404.6,289.6h0M405.6,305.5h0M406.3,315.8h0M406.9,324.6h0M407.3,331.6h0M396.9,88.2h0M397.5,96.9h0M398.5,112.1h0M399,119.7h0M400.5,142.6h0M405.9,226.4h0M406.4,233.6h0M408.9,271.6h0M409.3,278.7h0M409.8,285.5h0M411.4,310.4h0M412.5,326.9h0" stroke="#7e3a9a" stroke-width="3.2" stroke-linecap="round"/><path d="M156.4,56.5h0M156.9,65h0M158.5,89.3h0M159.4,103.2h0M161.1,128.9h0M162,143.2h0M162.6,151.5h0M163.1,160.4h0M164.1,174.6h0M164.6,182.4h0M166,204.5h0M168.9,248.4h0M170.7,276.9h0M157.7,44.9h0M158.2,52.7h0M158.7,60.6h0M161.3,101.2h0M162.1,113.3h0M162.6,120.2h0M163.1,127.8h0M165.7,168.5h0M167.5,195.3h0M168,203.6h0M169.6,228.5h0M170.1,235.9h0M171.3,254.6h0M171.9,263.7h0M173,280.1h0M174,295.2h0M174.9,310.5h0M162.3,84.3h0M163.4,101.2h0M163.9,108.6h0M164.5,117.6h0M165.5,133.2h0M165.9,140.4h0M166.6,151.1h0M168.3,176.9h0M169.3,192.3h0M169.9,200.5h0M170.9,216.8h0M171.4,224h0M171.9,232.7h0M174.1,265.6h0M175.3,284.6h0M176.4,301.3h0M177,310h0M163.5,69.5h0M164,76.8h0M164.6,85.6h0M165.6,101.8h0M166.1,109.8h0M167.9,137.2h0M168.4,145.2h0M169.4,159.3h0M169.9,167.3h0M170.5,176.2h0M171.4,190.9h0M171.9,198.4h0M172.4,205.4h0M174,230.1h0M174.4,237.2h0M174.9,244.2h0M176.4,267.1h0M177.3,281.6h0M178.3,297.3h0M178.9,305.3h0M179.9,321.9h0M359.3,55h0M360.3,71.1h0M361.4,88.1h0M362,96.2h0M363.1,113.3h0M364,128.4h0M364.6,136.8h0M365.7,154.2h0M366.7,169.4h0M367.8,185.7h0M368.3,194.3h0M368.8,202.1h0M369.9,217.8h0M372.4,257.1h0M373.3,270h0M373.7,277.1h0M374.7,292h0M375.2,300.4h0M375.8,309.9h0M376.4,318.3h0M376.9,326.2h0M362.5,66.3h0M363.7,83.4h0M364.2,92.2h0M365.8,116h0M367.2,137.2h0M367.7,144.9h0M369.7,176.5h0M370.2,184.3h0M370.9,194.3h0M371.4,202.8h0M371.9,210.9h0M375.4,264.6h0M375.9,272.1h0M376.9,287.8h0M377.9,303h0M378.5,311.3h0M365.9,67.1h0M367.1,85.1h0M368.8,111.2h0M369.2,116.7h0M370.7,141h0M371.6,154.5h0M373.3,180.3h0M373.9,189.1h0M376.6,230.9h0M377.1,238.9h0M379.6,276.9h0M380.6,292.9h0M381.1,300.4h0M382.1,316.3h0M366.9,53.1h0M367.5,62.2h0M368,70.3h0M369,85.5h0M369.8,97.6h0M370.8,113.1h0M371.3,121.4h0M372.1,132.3h0M373.1,149h0M374.1,163.9h0M375.4,183.6h0M375.9,191.8h0M376.4,199.8h0M377,208.2h0M377.5,216.1h0M378,223.3h0M379.6,248.8h0M382.6,295.2h0M383.2,303.3h0M383.8,312.3h0M384.9,330.2h0M378.5,65.8h0M380,88.7h0M380.5,97.8h0M381.1,106.3h0M382.1,122h0M382.7,130.3h0M384.1,151.9h0M385,166.8h0M386.4,187.2h0M386.9,195.9h0M387.9,211.5h0M388.5,220.5h0M390.4,249.6h0M391.9,273h0M393.1,290.3h0M393.6,298.5h0M394.1,305.7h0M395.1,322.4h0" stroke="#5a4a9c" stroke-width="3.2" stroke-linecap="round"/><path d="M76.5,58.9V306M126.5,58.9V306M176.5,58.9V306M226.5,58.9V306M276.5,58.9V306M326.5,58.9V306M376.5,58.9V306M26.5,100.1H426.5M26.5,141.3H426.5M26.5,182.4H426.5M26.5,223.6H426.5M26.5,264.8H426.5M27,58.9V306M426,58.9V306" fill="none" stroke="#555" stroke-width="0.8" stroke-dasharray="1.3,2.9"/><use href="#coast" stroke="#383838" stroke-width="1.6"/></g><rect x="22.7" y="56.3" width="407.5" height="252.3" fill="none" stroke="#c8c8c8" stroke-width="0.8"/><rect x="25.9" y="58.8" width="401.1" height="247" fill="none" stroke="#c8c8c8" stroke-width="0.8"/><path d="M76.5,57.5H126.5M76.5,307.2H126.5M176.5,57.5H226.5M176.5,307.2H226.5M276.5,57.5H326.5M276.5,307.2H326.5M376.5,57.5H426.5M376.5,307.2H426.5" stroke="#383838" stroke-width="2.7"/><path d="M24.3,58.9V100.1M428.6,58.9V100.1M24.3,141.3V182.4M428.6,141.3V182.4M24.3,223.6V264.8M428.6,223.6V264.8" stroke="#383838" stroke-width="3"/><g style="font-family:'Liberation Sans',sans-serif;font-size:15.3px;fill:#333"><text transform="translate(76.5,52.4) scale(0.875,1)" text-anchor="middle">-135</text><text transform="translate(76.5,324.8) scale(0.875,1)" text-anchor="middle">-135</text><text transform="translate(126.5,52.4) scale(0.875,1)" text-anchor="middle">-90</text><text transform="translate(126.5,324.8) scale(0.875,1)" text-anchor="middle">-90</text><text transform="translate(176.5,52.4) scale(0.875,1)" text-anchor="middle">-45</text><text transform="translate(176.5,324.8) scale(0.875,1)" text-anchor="middle">-45</text><text transform="translate(226.5,52.4) scale(0.875,1)" text-anchor="middle">0</text><text transform="translate(226.5,324.8) scale(0.875,1)" text-anchor="middle">0</text><text transform="translate(276.5,52.4) scale(0.875,1)" text-anchor="middle">45</text><text transform="translate(276.5,324.8) scale(0.875,1)" text-anchor="middle">45</text><text transform="translate(326.5,52.4) scale(0.875,1)" text-anchor="middle">90</text><text transform="translate(326.5,324.8) scale(0.875,1)" text-anchor="middle">90</text><text transform="translate(376.5,52.4) scale(0.875,1)" text-anchor="middle">135</text><text transform="translate(376.5,324.8) scale(0.875,1)" text-anchor="middle">135</text><text transform="translate(19.4,100.1) rotate(-90) scale(0.875,1)" text-anchor="middle">60</text><text transform="translate(433.2,100.1) rotate(90) scale(0.875,1)" text-anchor="middle">60</text><text transform="translate(19.4,141.3) rotate(-90) scale(0.875,1)" text-anchor="middle">30</text><text transform="translate(433.2,141.3) rotate(90) scale(0.875,1)" text-anchor="middle">30</text><text transform="translate(19.4,182.4) rotate(-90) scale(0.875,1)" text-anchor="middle">0</text><text transform="translate(433.2,182.4) rotate(90) scale(0.875,1)" text-anchor="middle">0</text><text transform="translate(19.4,223.6) rotate(-90) scale(0.875,1)" text-anchor="middle">-30</text><text transform="translate(433.2,223.6) rotate(90) scale(0.875,1)" text-anchor="middle">-30</text><text transform="translate(19.4,264.8) rotate(-90) scale(0.875,1)" text-anchor="middle">-60</text><text transform="translate(433.2,264.8) rotate(90) scale(0.875,1)" text-anchor="middle">-60</text></g></g><g style="font-family:'Liberation Sans',sans-serif;font-size:22.6px;fill:#000"><text x="143" y="23.8">Coverage in 1 day</text><text x="586.4" y="23.8">Coverage in 10 days</text><text x="123" y="378">Coverage in 21 days</text><text x="515.9" y="378">Coverage in 21 days (only 4 RSCs)</text></g><g style="font-family:'Liberation Sans',sans-serif;font-size:30px;fill:#000"><text transform="translate(0,22.6) scale(0.96,1)">(a)</text><text transform="translate(457,22.6) scale(0.96,1)">(b)</text><text transform="translate(0,376.6) scale(0.96,1)">(c)</text><text transform="translate(456,376.6) scale(0.96,1)">(d)</text></g><text x="941.5" y="59" style="font-family:'Liberation Sans',sans-serif;font-size:17.5px;fill:#000">UTC</text><text x="943.7" y="414" style="font-family:'Liberation Sans',sans-serif;font-size:17.5px;fill:#000">UTC</text><rect x="941.4" y="69.8" width="19.3" height="10.1" fill="#5a4a9c"/><rect x="941.4" y="79.6" width="19.3" height="10.1" fill="#7e3a9a"/><rect x="941.4" y="89.5" width="19.3" height="10.1" fill="#b2157f"/><rect x="941.4" y="99.3" width="19.3" height="10.1" fill="#d81d43"/><rect x="941.4" y="109.1" width="19.3" height="10.1" fill="#e8241f"/><rect x="941.4" y="118.9" width="19.3" height="10.1" fill="#e8231d"/><rect x="941.4" y="128.8" width="19.3" height="10.1" fill="#e8481f"/><rect x="941.4" y="138.6" width="19.3" height="10.1" fill="#ee7d1f"/><rect x="941.4" y="148.4" width="19.3" height="10.1" fill="#f6b41c"/><rect x="941.4" y="158.2" width="19.3" height="10.1" fill="#eee43a"/><rect x="941.4" y="168.1" width="19.3" height="10.1" fill="#bcd123"/><rect x="941.4" y="177.9" width="19.3" height="10.1" fill="#8cbf1a"/><rect x="941.4" y="187.7" width="19.3" height="10.1" fill="#7ab820"/><rect x="941.4" y="197.5" width="19.3" height="10.1" fill="#6ab226"/><rect x="941.4" y="207.4" width="19.3" height="10.1" fill="#70b22e"/><rect x="941.4" y="217.2" width="19.3" height="10.1" fill="#6cb773"/><rect x="941.4" y="227" width="19.3" height="10.1" fill="#6cbba6"/><rect x="941.4" y="236.8" width="19.3" height="10.1" fill="#6ec6d6"/><rect x="941.4" y="246.7" width="19.3" height="10.1" fill="#2db5ea"/><rect x="941.4" y="256.5" width="19.3" height="10.1" fill="#3575bf"/><rect x="941.4" y="266.3" width="19.3" height="10.1" fill="#2c55a8"/><rect x="941.4" y="276.1" width="19.3" height="10.1" fill="#2a4ea3"/><rect x="941.4" y="286" width="19.3" height="10.1" fill="#3d3f99"/><rect x="941.4" y="295.8" width="19.3" height="10.1" fill="#5b3f98"/><path d="M941.4,79.6h19.3M941.4,89.5h19.3M941.4,99.3h19.3M941.4,109.1h19.3M941.4,118.9h19.3M941.4,128.8h19.3M941.4,138.6h19.3M941.4,148.4h19.3M941.4,158.2h19.3M941.4,168.1h19.3M941.4,177.9h19.3M941.4,187.7h19.3M941.4,197.5h19.3M941.4,207.4h19.3M941.4,217.2h19.3M941.4,227h19.3M941.4,236.8h19.3M941.4,246.7h19.3M941.4,256.5h19.3M941.4,266.3h19.3M941.4,276.1h19.3M941.4,286h19.3M941.4,295.8h19.3" stroke="#000" stroke-opacity="0.12" stroke-width="0.8"/><g style="font-family:'Liberation Sans',sans-serif;font-size:16px;fill:#2b2b6b"><text transform="translate(975.4,305.9) scale(1.16,1)">0</text><text transform="translate(975.4,286.2) scale(1.16,1)">2</text><text transform="translate(975.4,266.6) scale(1.16,1)">4</text><text transform="translate(975.4,246.9) scale(1.16,1)">6</text><text transform="translate(975.4,227.3) scale(1.16,1)">8</text><text transform="translate(975.4,207.6) scale(1.16,1)">10</text><text transform="translate(975.4,188) scale(1.16,1)">12</text><text transform="translate(975.4,168.3) scale(1.16,1)">14</text><text transform="translate(975.4,148.7) scale(1.16,1)">16</text><text transform="translate(975.4,129) scale(1.16,1)">18</text><text transform="translate(975.4,109.4) scale(1.16,1)">20</text><text transform="translate(975.4,89.7) scale(1.16,1)">22</text></g><rect x="943.5" y="424.8" width="19.3" height="10.1" fill="#5a4a9c"/><rect x="943.5" y="434.6" width="19.3" height="10.1" fill="#7e3a9a"/><rect x="943.5" y="444.5" width="19.3" height="10.1" fill="#b2157f"/><rect x="943.5" y="454.3" width="19.3" height="10.1" fill="#d81d43"/><rect x="943.5" y="464.2" width="19.3" height="10.1" fill="#e8241f"/><rect x="943.5" y="474" width="19.3" height="10.1" fill="#e8231d"/><rect x="943.5" y="483.8" width="19.3" height="10.1" fill="#e8481f"/><rect x="943.5" y="493.7" width="19.3" height="10.1" fill="#ee7d1f"/><rect x="943.5" y="503.5" width="19.3" height="10.1" fill="#f6b41c"/><rect x="943.5" y="513.3" width="19.3" height="10.1" fill="#eee43a"/><rect x="943.5" y="523.2" width="19.3" height="10.1" fill="#bcd123"/><rect x="943.5" y="533" width="19.3" height="10.1" fill="#8cbf1a"/><rect x="943.5" y="542.9" width="19.3" height="10.1" fill="#7ab820"/><rect x="943.5" y="552.7" width="19.3" height="10.1" fill="#6ab226"/><rect x="943.5" y="562.5" width="19.3" height="10.1" fill="#70b22e"/><rect x="943.5" y="572.4" width="19.3" height="10.1" fill="#6cb773"/><rect x="943.5" y="582.2" width="19.3" height="10.1" fill="#6cbba6"/><rect x="943.5" y="592" width="19.3" height="10.1" fill="#6ec6d6"/><rect x="943.5" y="601.9" width="19.3" height="10.1" fill="#2db5ea"/><rect x="943.5" y="611.7" width="19.3" height="10.1" fill="#3575bf"/><rect x="943.5" y="621.5" width="19.3" height="10.1" fill="#2c55a8"/><rect x="943.5" y="631.4" width="19.3" height="10.1" fill="#2a4ea3"/><rect x="943.5" y="641.2" width="19.3" height="10.1" fill="#3d3f99"/><rect x="943.5" y="651.1" width="19.3" height="10.1" fill="#5b3f98"/><path d="M943.5,434.6h19.3M943.5,444.5h19.3M943.5,454.3h19.3M943.5,464.2h19.3M943.5,474h19.3M943.5,483.8h19.3M943.5,493.7h19.3M943.5,503.5h19.3M943.5,513.3h19.3M943.5,523.2h19.3M943.5,533h19.3M943.5,542.9h19.3M943.5,552.7h19.3M943.5,562.5h19.3M943.5,572.4h19.3M943.5,582.2h19.3M943.5,592h19.3M943.5,601.9h19.3M943.5,611.7h19.3M943.5,621.5h19.3M943.5,631.4h19.3M943.5,641.2h19.3M943.5,651.1h19.3" stroke="#000" stroke-opacity="0.12" stroke-width="0.8"/><g style="font-family:'Liberation Sans',sans-serif;font-size:16px;fill:#2b2b6b"><text transform="translate(977.5,661.2) scale(1.16,1)">0</text><text transform="translate(977.5,641.5) scale(1.16,1)">2</text><text transform="translate(977.5,621.8) scale(1.16,1)">4</text><text transform="translate(977.5,602.2) scale(1.16,1)">6</text><text transform="translate(977.5,582.5) scale(1.16,1)">8</text><text transform="translate(977.5,562.8) scale(1.16,1)">10</text><text transform="translate(977.5,543.1) scale(1.16,1)">12</text><text transform="translate(977.5,523.5) scale(1.16,1)">14</text><text transform="translate(977.5,503.8) scale(1.16,1)">16</text><text transform="translate(977.5,484.1) scale(1.16,1)">18</text><text transform="translate(977.5,464.4) scale(1.16,1)">20</text><text transform="translate(977.5,444.8) scale(1.16,1)">22</text></g></svg></body></html>
